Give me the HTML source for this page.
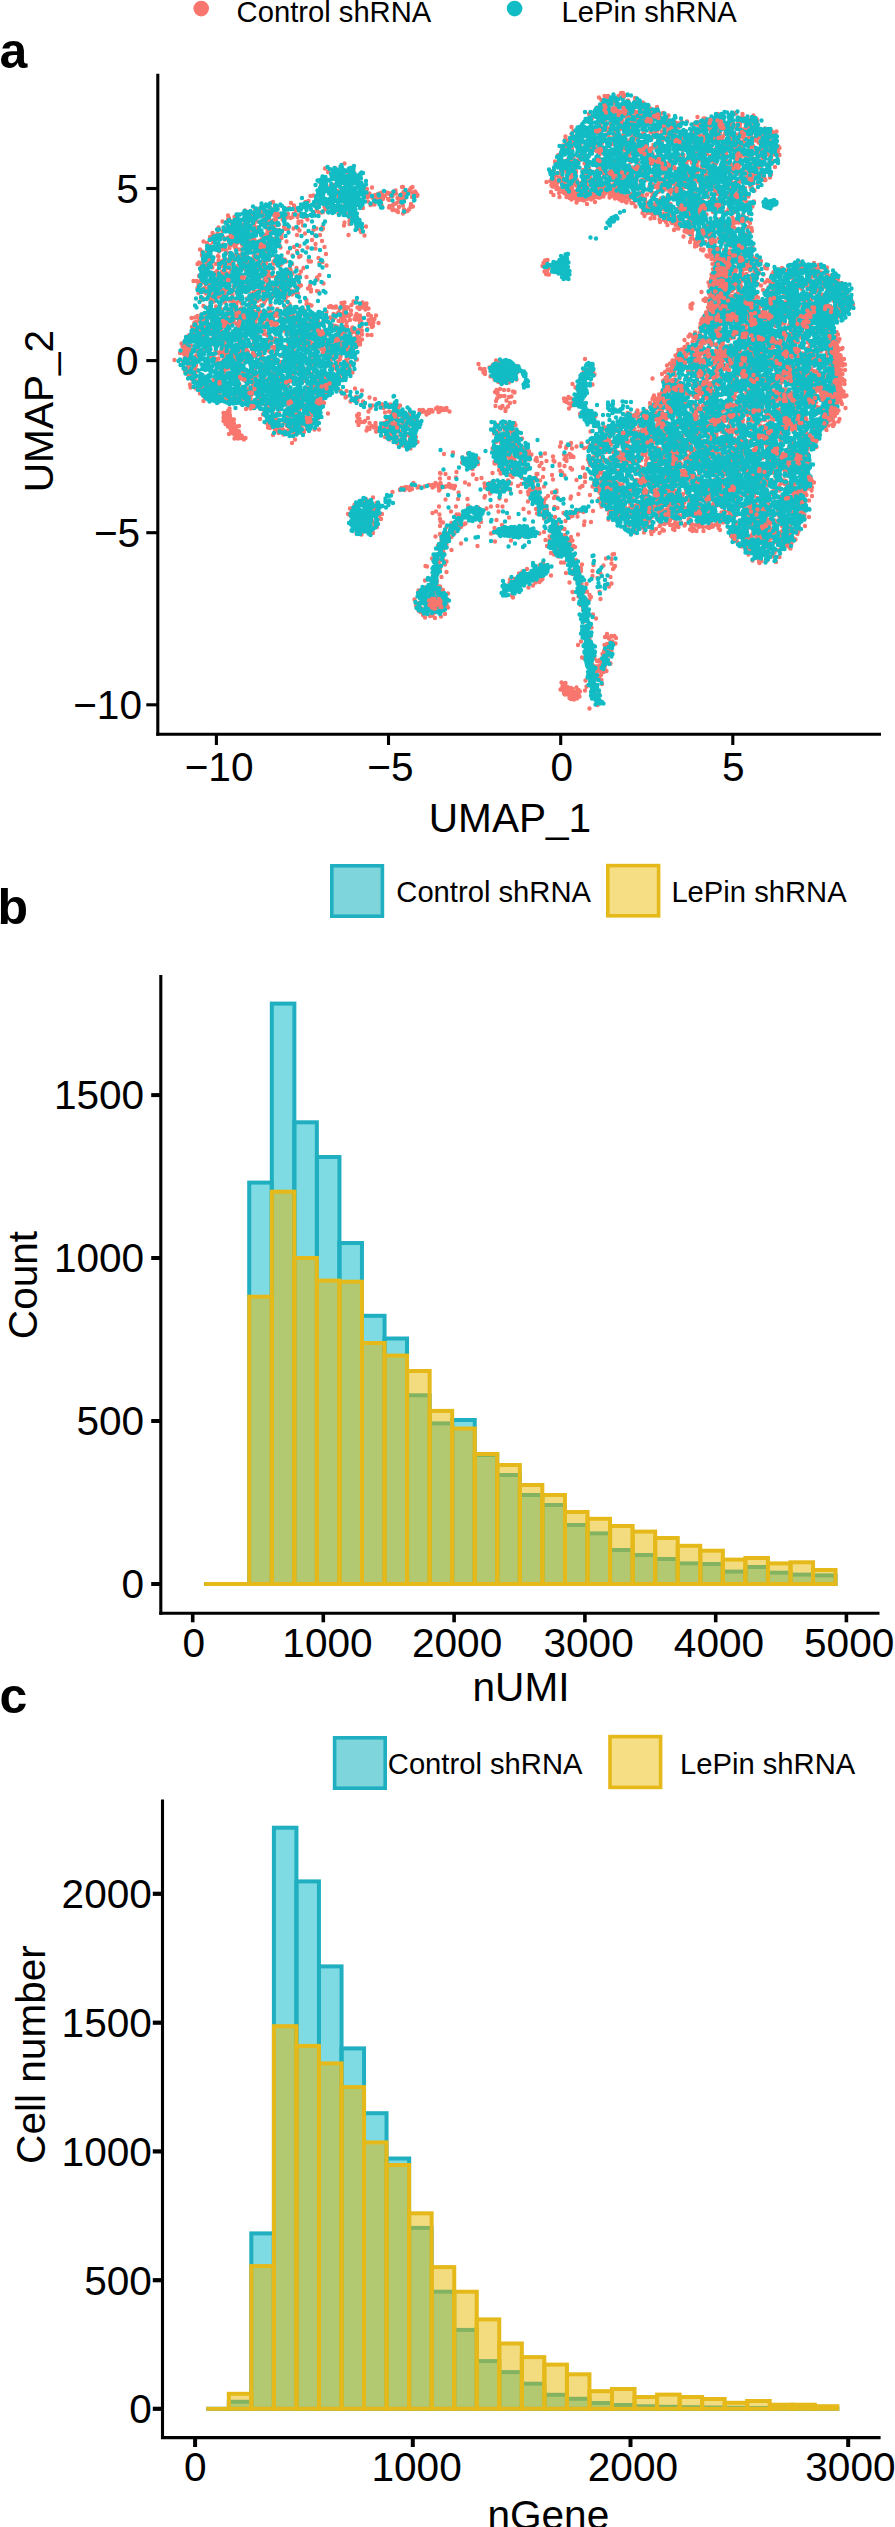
<!DOCTYPE html>
<html><head><meta charset="utf-8"><title>Figure</title>
<style>html,body{margin:0;padding:0;background:#fff;}body{width:895px;height:2527px;overflow:hidden;position:relative;}svg{position:absolute;left:0;top:0;display:block;}text{font-family:"Liberation Sans", sans-serif;fill:#000;}.t40{font-size:40.6px;}.t29{font-size:29.2px;}.b{font-size:50px;font-weight:bold;}</style></head><body>
<svg width="895" height="2527" viewBox="0 0 895 2527">
<rect x="0" y="0" width="895" height="2527" fill="#ffffff"/>
<circle cx="201.2" cy="8.6" r="7.8" fill="#F8766D"/>
<circle cx="514.6" cy="8.6" r="7.8" fill="#12BCC4"/>
<text x="236.6" y="21.6" class="t29" text-anchor="start">Control shRNA</text>
<text x="561.6" y="21.6" class="t29" text-anchor="start">LePin shRNA</text>
<text x="-0.5" y="68.0" class="b" text-anchor="start">a</text>
<g transform="scale(.5)" fill="none" stroke-linecap="round" stroke-width="8.8"><path d="M562 578h0M554 571h0M529 581h0M432 587h0M571 600h0M504 588h0M544 595h0M560 592h0M578 581h0M612 599h0M439 587h0M412 587h0M421 608h0M417 616h0M457 578h0M508 598h0M515 630h0M572 594h0M522 599h0M437 626h0M450 580h0M507 624h0M429 576h0M421 593h0M541 610h0M591 616h0M485 636h0M514 614h0M542 626h0M576 604h0M511 563h0M548 589h0M573 574h0M491 580h0M596 587h0M436 577h0M584 589h0M470 611h0M570 614h0M422 603h0M522 611h0M496 577h0M541 616h0M424 601h0M412 569h0M539 621h0M497 582h0M420 594h0M516 625h0M403 629h0M521 635h0M530 574h0M558 576h0M501 632h0M457 578h0M495 570h0M424 589h0M505 611h0M432 613h0M460 586h0M508 582h0M501 618h0M483 582h0M494 597h0M417 622h0M535 597h0M545 578h0M500 602h0M415 578h0M579 608h0M438 620h0M441 608h0M491 620h0M406 578h0M514 583h0M390 635h0M483 607h0M545 631h0M479 588h0M573 615h0M576 591h0M551 625h0M466 601h0M532 583h0M528 607h0M530 602h0M523 624h0M431 597h0M515 602h0M534 627h0M397 636h0M507 615h0M500 613h0M510 585h0M444 580h0M601 624h0M395 632h0M446 601h0M407 612h0M496 581h0M409 548h0M425 466h0M459 489h0M557 550h0M462 560h0M519 418h0M424 556h0M538 494h0M457 477h0M533 507h0M538 597h0M524 427h0M472 473h0M484 508h0M426 517h0M495 525h0M513 456h0M517 588h0M480 499h0M479 589h0M463 478h0M444 543h0M471 455h0M533 507h0M465 591h0M423 531h0M452 555h0M461 442h0M420 491h0M581 581h0M447 553h0M568 570h0M527 570h0M536 454h0M536 487h0M494 490h0M449 479h0M469 543h0M452 507h0M512 433h0M497 482h0M438 503h0M499 485h0M508 535h0M571 552h0M553 469h0M565 560h0M571 560h0M480 558h0M513 455h0M474 460h0M468 563h0M540 444h0M468 468h0M543 450h0M454 455h0M527 480h0M578 573h0M418 569h0M485 490h0M480 519h0M467 553h0M438 565h0M409 576h0M493 511h0M522 419h0M452 559h0M588 569h0M573 435h0M538 593h0M527 578h0M461 539h0M502 441h0M478 446h0M469 470h0M480 573h0M443 532h0M564 545h0M550 527h0M459 494h0M534 457h0M444 499h0M528 522h0M471 474h0M525 505h0M550 525h0M474 566h0M404 503h0M426 484h0M532 527h0M553 565h0M509 425h0M424 522h0M458 567h0M436 495h0M425 587h0M489 519h0M553 554h0M535 577h0M459 496h0M519 504h0M547 462h0M469 493h0M404 511h0M414 486h0M519 487h0M454 505h0M479 462h0M566 563h0M395 528h0M495 541h0M473 497h0M557 428h0M514 433h0M514 596h0M576 428h0M481 472h0M541 482h0M432 528h0M464 524h0M541 462h0M469 552h0M498 451h0M513 519h0M563 572h0M436 512h0M525 582h0M592 560h0M458 458h0M461 462h0M445 462h0M571 573h0M515 534h0M402 600h0M489 469h0M516 489h0M602 543h0M519 431h0M410 540h0M607 536h0M415 518h0M499 441h0M400 499h0M420 474h0M496 518h0M400 567h0M556 568h0M475 477h0M515 518h0M446 585h0M494 566h0M450 521h0M441 474h0M569 519h0M446 489h0M425 560h0M469 460h0M536 571h0M510 514h0M466 556h0M463 529h0M495 522h0M558 488h0M554 450h0M497 538h0M519 482h0M466 580h0M495 471h0M578 588h0M456 438h0M428 598h0M457 519h0M449 517h0M492 493h0M490 421h0M568 454h0M506 596h0M537 557h0M432 573h0M571 522h0M420 549h0M458 436h0M526 430h0M561 559h0M526 508h0M431 573h0M540 513h0M536 542h0M460 462h0M554 463h0M477 510h0M469 456h0M487 537h0M438 560h0M452 546h0M526 549h0M497 596h0M450 546h0M510 559h0M524 414h0M488 508h0M492 537h0M464 447h0M479 592h0M485 482h0M524 497h0M490 583h0M534 562h0M527 543h0M562 514h0M451 534h0M443 591h0M545 552h0M529 515h0M558 460h0M512 512h0M581 548h0M420 529h0M510 603h0M455 536h0M452 478h0M530 446h0M414 561h0M546 404h0M538 555h0M487 473h0M450 541h0M493 483h0M431 474h0M451 552h0M541 450h0M462 506h0M470 460h0M461 527h0M490 519h0M524 533h0M472 509h0M561 586h0M400 563h0M575 566h0M481 483h0M591 575h0M506 519h0M519 425h0M553 523h0M585 547h0M466 521h0M541 454h0M532 452h0M434 500h0M565 439h0M398 525h0M532 444h0M454 588h0M450 458h0M530 537h0M404 509h0M456 431h0M501 500h0M444 556h0M440 494h0M564 554h0M397 569h0M469 434h0M447 475h0M481 514h0M541 471h0M456 457h0M585 568h0M486 526h0M525 469h0M494 577h0M543 442h0M538 454h0M479 464h0M431 562h0M428 549h0M490 565h0M425 523h0M541 548h0M581 541h0M534 501h0M520 508h0M532 542h0M493 503h0M493 487h0M541 441h0M473 585h0M504 441h0M411 547h0M405 596h0M495 583h0M519 511h0M541 416h0M470 546h0M490 432h0M447 520h0M548 478h0M495 432h0M497 539h0M537 520h0M528 484h0M475 470h0M456 475h0M461 484h0M558 449h0M435 467h0M404 530h0M526 472h0M584 528h0M517 429h0M593 553h0M531 438h0M537 540h0M428 603h0M515 458h0M419 585h0M514 543h0M492 456h0M437 513h0M557 569h0M465 449h0M483 499h0M536 554h0M597 575h0M445 549h0M462 556h0M471 497h0M441 570h0M575 553h0M463 488h0M469 453h0M506 485h0M532 474h0M397 586h0M508 512h0M568 568h0M487 510h0M526 525h0M478 601h0M464 583h0M580 564h0M555 417h0M505 481h0M421 503h0M461 490h0M570 458h0M527 476h0M450 561h0M496 550h0M503 545h0M575 570h0M550 572h0M561 495h0M536 535h0M409 577h0M436 491h0M437 455h0M542 406h0M523 479h0M414 539h0M529 529h0M387 562h0M580 560h0M457 547h0M414 530h0M504 460h0M457 562h0M580 555h0M424 515h0M537 463h0M476 531h0M417 524h0M422 550h0M411 578h0M408 548h0M536 423h0M552 525h0M451 591h0M528 530h0M491 500h0M403 527h0M449 537h0M438 594h0M464 451h0M421 515h0M451 576h0M544 592h0M495 462h0M595 573h0M435 550h0M528 507h0M418 518h0M428 472h0M580 537h0M572 569h0M393 562h0M494 578h0M415 540h0M513 421h0M570 550h0M403 562h0M419 499h0M448 570h0M482 595h0M404 566h0M508 449h0M452 536h0M581 539h0M515 455h0M404 531h0M425 562h0M576 572h0M524 527h0M453 529h0M520 511h0M513 511h0M501 436h0M495 534h0M429 546h0M510 565h0M555 562h0M513 544h0M547 523h0M510 418h0M508 487h0M528 439h0M489 444h0M414 516h0M528 470h0M517 582h0M484 489h0M496 562h0M510 482h0M542 455h0M482 484h0M513 594h0M503 575h0M518 585h0M501 426h0M498 574h0M537 446h0M492 510h0M509 455h0M434 542h0M513 539h0M563 432h0M518 462h0M504 492h0M535 469h0M503 433h0M441 529h0M565 520h0M450 597h0M528 433h0M398 552h0M548 453h0M509 445h0M516 494h0M472 573h0M567 555h0M418 545h0M523 497h0M484 486h0M571 550h0M535 465h0M509 480h0M404 584h0M539 568h0M407 483h0M535 437h0M508 555h0M517 585h0M402 596h0M524 576h0M491 476h0M556 483h0M450 594h0M599 550h0M474 487h0M458 555h0M553 568h0M517 424h0M402 559h0M577 539h0M530 488h0M459 601h0M540 596h0M499 543h0M435 471h0M452 563h0M395 576h0M488 516h0M546 527h0M493 543h0M558 516h0M513 546h0M478 543h0M497 492h0M530 443h0M554 559h0M550 413h0M542 578h0M530 588h0M485 451h0M408 523h0M492 443h0M403 532h0M491 495h0M552 556h0M559 532h0M562 529h0M554 431h0M536 458h0M543 448h0M466 598h0M564 465h0M555 529h0M519 558h0M583 583h0M551 565h0M436 468h0M554 572h0M494 463h0M521 527h0M506 471h0M471 520h0M452 562h0M576 505h0M469 458h0M407 544h0M507 476h0M506 538h0M540 424h0M406 561h0M516 443h0M464 599h0M419 597h0M484 483h0M526 572h0M593 536h0M507 426h0M438 530h0M466 538h0M513 537h0M580 565h0M517 525h0M527 416h0M476 481h0M449 587h0M471 552h0M467 443h0M451 500h0M547 537h0M515 537h0M454 445h0M523 481h0M520 525h0M572 523h0M445 443h0M496 577h0M457 525h0M588 564h0M449 523h0M544 573h0M472 512h0M555 558h0M485 561h0M437 521h0M460 492h0M467 572h0M415 526h0M460 514h0M425 535h0M448 495h0M468 485h0M494 528h0M414 502h0M441 523h0M430 563h0M426 469h0M471 493h0M437 579h0M563 476h0M507 579h0M442 590h0M551 515h0M432 478h0M562 469h0M606 863h0M379 690h0M679 761h0M492 818h0M597 825h0M553 696h0M640 750h0M482 735h0M396 669h0M393 650h0M468 639h0M671 762h0M384 654h0M376 731h0M461 650h0M446 722h0M431 729h0M506 760h0M555 698h0M601 689h0M587 699h0M557 786h0M625 802h0M552 707h0M495 639h0M489 747h0M693 719h0M640 781h0M501 750h0M632 814h0M567 661h0M552 814h0M686 705h0M632 693h0M480 699h0M612 760h0M540 780h0M382 691h0M570 780h0M442 622h0M706 685h0M605 686h0M587 809h0M501 776h0M603 790h0M590 879h0M666 731h0M413 776h0M545 754h0M649 769h0M699 734h0M669 752h0M642 695h0M512 639h0M625 732h0M581 733h0M493 746h0M394 723h0M487 775h0M491 744h0M506 774h0M682 690h0M440 704h0M473 632h0M632 781h0M679 755h0M550 764h0M475 710h0M486 745h0M579 859h0M450 605h0M676 657h0M693 679h0M406 778h0M552 843h0M367 707h0M720 686h0M690 745h0M565 735h0M426 628h0M597 837h0M649 776h0M574 809h0M478 715h0M608 622h0M438 707h0M420 775h0M374 688h0M392 753h0M449 690h0M587 811h0M518 700h0M458 709h0M445 634h0M546 681h0M604 789h0M397 659h0M460 709h0M548 699h0M568 730h0M376 674h0M692 689h0M411 758h0M521 786h0M458 628h0M554 796h0M411 728h0M489 722h0M623 713h0M671 652h0M388 761h0M701 726h0M512 761h0M395 741h0M659 729h0M504 698h0M696 701h0M454 628h0M374 694h0M460 620h0M568 646h0M534 700h0M672 715h0M599 844h0M439 677h0M564 853h0M485 686h0M655 705h0M682 697h0M452 655h0M564 797h0M450 732h0M523 728h0M558 784h0M449 638h0M662 697h0M614 821h0M473 631h0M633 687h0M695 701h0M613 853h0M463 722h0M404 637h0M531 767h0M408 738h0M585 751h0M622 730h0M471 791h0M436 751h0M431 780h0M649 752h0M410 641h0M582 825h0M468 631h0M398 762h0M429 662h0M400 657h0M520 740h0M701 677h0M604 687h0M616 690h0M451 730h0M648 778h0M593 644h0M555 794h0M638 762h0M550 840h0M480 717h0M542 626h0M638 775h0M491 774h0M656 775h0M614 724h0M625 806h0M480 698h0M660 732h0M598 843h0M561 724h0M451 691h0M638 751h0M603 855h0M599 722h0M535 831h0M475 706h0M639 765h0M661 722h0M517 748h0M564 860h0M520 775h0M478 649h0M609 811h0M703 705h0M349 720h0M544 648h0M470 615h0M408 780h0M465 676h0M621 795h0M563 736h0M480 661h0M551 786h0M495 705h0M602 709h0M596 847h0M396 697h0M507 680h0M414 790h0M440 726h0M611 810h0M510 763h0M450 719h0M492 763h0M538 674h0M408 670h0M602 728h0M525 789h0M477 687h0M401 643h0M555 618h0M429 781h0M448 711h0M569 774h0M678 666h0M642 809h0M624 773h0M397 688h0M483 649h0M574 862h0M481 741h0M505 805h0M487 690h0M448 654h0M684 659h0M480 649h0M608 629h0M505 757h0M594 850h0M599 791h0M569 742h0M626 657h0M682 748h0M484 617h0M649 733h0M634 709h0M581 688h0M571 740h0M662 636h0M522 765h0M523 783h0M566 859h0M688 658h0M479 783h0M540 856h0M591 761h0M643 647h0M438 667h0M595 707h0M385 745h0M500 692h0M693 659h0M405 655h0M569 845h0M641 757h0M526 633h0M404 755h0M538 843h0M520 800h0M436 628h0M569 802h0M498 763h0M542 732h0M586 785h0M392 777h0M639 761h0M446 703h0M568 809h0M623 721h0M563 742h0M436 646h0M456 665h0M368 736h0M521 808h0M691 722h0M453 682h0M378 753h0M466 644h0M605 672h0M643 776h0M544 684h0M529 628h0M501 797h0M535 811h0M529 782h0M461 641h0M407 680h0M431 743h0M372 685h0M371 703h0M481 740h0M611 785h0M580 678h0M423 638h0M667 656h0M661 777h0M452 798h0M621 720h0M489 672h0M561 858h0M692 700h0M435 746h0M583 671h0M619 635h0M472 799h0M388 649h0M596 808h0M394 766h0M433 660h0M703 711h0M669 705h0M431 775h0M625 659h0M400 787h0M635 702h0M456 664h0M620 659h0M587 854h0M433 654h0M519 805h0M493 701h0M436 727h0M378 739h0M542 804h0M538 702h0M636 837h0M610 673h0M550 745h0M647 669h0M442 653h0M677 732h0M516 776h0M380 726h0M422 679h0M535 722h0M464 730h0M670 760h0M449 785h0M541 745h0M559 815h0M370 742h0M645 745h0M708 692h0M541 751h0M536 851h0M446 742h0M446 683h0M419 704h0M555 628h0M579 857h0M574 728h0M391 737h0M600 749h0M614 761h0M679 680h0M396 716h0M683 705h0M382 705h0M579 853h0M405 751h0M375 706h0M445 743h0M548 852h0M476 759h0M489 697h0M617 671h0M473 784h0M584 787h0M575 832h0M638 795h0M575 639h0M586 815h0M677 767h0M472 724h0M379 729h0M655 769h0M658 713h0M518 728h0M375 695h0M444 772h0M529 739h0M460 706h0M438 803h0M468 711h0M613 775h0M372 739h0M506 769h0M553 783h0M485 706h0M528 742h0M603 853h0M518 768h0M453 616h0M483 617h0M441 617h0M392 659h0M472 664h0M588 850h0M580 795h0M692 652h0M473 768h0M582 797h0M365 693h0M574 768h0M558 724h0M548 694h0M653 624h0M663 674h0M652 668h0M564 762h0M638 805h0M424 689h0M646 665h0M434 726h0M629 859h0M704 678h0M481 792h0M494 787h0M600 770h0M541 800h0M608 737h0M399 700h0M445 723h0M615 682h0M399 772h0M568 796h0M680 718h0M564 694h0M681 671h0M443 662h0M599 645h0M538 801h0M594 746h0M445 665h0M523 800h0M646 760h0M615 740h0M542 703h0M559 677h0M512 808h0M613 777h0M545 786h0M526 807h0M550 677h0M382 729h0M591 706h0M544 779h0M687 698h0M440 669h0M360 706h0M430 789h0M619 784h0M595 668h0M708 691h0M428 661h0M550 860h0M479 769h0M544 815h0M509 750h0M368 726h0M596 808h0M439 726h0M608 861h0M495 778h0M655 773h0M620 722h0M425 773h0M670 703h0M438 680h0M547 657h0M661 686h0M598 675h0M636 657h0M628 782h0M553 790h0M611 835h0M490 665h0M502 661h0M555 862h0M513 753h0M380 674h0M556 840h0M553 659h0M593 789h0M440 625h0M612 692h0M394 720h0M441 752h0M654 697h0M530 830h0M448 749h0M645 801h0M564 789h0M574 642h0M692 737h0M674 692h0M534 670h0M536 642h0M529 739h0M406 665h0M685 654h0M631 779h0M409 767h0M690 680h0M476 627h0M544 727h0M365 702h0M602 696h0M444 679h0M444 643h0M564 712h0M419 684h0M432 645h0M617 648h0M591 848h0M387 756h0M631 653h0M398 667h0M653 760h0M417 695h0M519 796h0M433 752h0M584 761h0M585 684h0M400 779h0M553 747h0M575 635h0M383 755h0M660 692h0M560 814h0M574 662h0M442 681h0M538 772h0M672 689h0M596 630h0M464 700h0M422 630h0M392 741h0M599 765h0M682 706h0M586 846h0M692 689h0M491 775h0M473 784h0M596 799h0M640 694h0M615 785h0M649 683h0M653 773h0M532 629h0M441 707h0M481 686h0M407 732h0M526 776h0M471 766h0M678 725h0M665 777h0M431 757h0M508 699h0M657 645h0M409 781h0M696 726h0M484 649h0M553 800h0M571 868h0M406 680h0M408 647h0M573 629h0M509 624h0M585 801h0M546 817h0M599 832h0M540 737h0M557 683h0M656 827h0M648 759h0M427 762h0M537 777h0M538 840h0M439 679h0M521 730h0M670 707h0M694 691h0M549 838h0M523 692h0M642 759h0M712 719h0M497 797h0M459 622h0M398 641h0M611 793h0M684 644h0M660 635h0M480 705h0M483 677h0M409 794h0M417 769h0M561 638h0M580 756h0M690 692h0M685 757h0M682 729h0M584 733h0M525 714h0M663 740h0M393 703h0M559 640h0M536 855h0M396 683h0M385 676h0M637 777h0M657 781h0M618 671h0M598 820h0M587 630h0M633 725h0M503 652h0M575 721h0M603 668h0M426 627h0M392 723h0M471 636h0M377 732h0M516 664h0M473 606h0M530 632h0M588 692h0M442 658h0M438 706h0M496 801h0M444 620h0M533 727h0M517 798h0M460 704h0M631 821h0M477 772h0M502 808h0M392 648h0M677 757h0M683 745h0M554 720h0M608 864h0M590 829h0M559 763h0M539 835h0M578 642h0M539 728h0M663 729h0M522 790h0M597 665h0M501 807h0M629 765h0M514 748h0M539 703h0M390 754h0M419 648h0M452 713h0M487 792h0M459 792h0M636 797h0M653 766h0M661 766h0M524 728h0M567 654h0M696 694h0M446 711h0M390 654h0M456 737h0M380 719h0M610 752h0M414 774h0M475 621h0M557 808h0M465 720h0M464 618h0M486 632h0M503 631h0M432 687h0M598 864h0M602 667h0M647 641h0M662 682h0M616 679h0M409 698h0M564 852h0M410 795h0M521 642h0M633 771h0M478 743h0M454 733h0M421 713h0M461 644h0M494 708h0M655 763h0M676 744h0M555 812h0M465 631h0M581 860h0M505 804h0M647 753h0M482 617h0M622 781h0M679 687h0M620 825h0M456 657h0M441 753h0M665 756h0M428 775h0M532 724h0M588 680h0M511 749h0M502 791h0M663 704h0M628 698h0M580 682h0M424 733h0M448 717h0M684 665h0M521 716h0M431 724h0M514 773h0M593 868h0M469 707h0M531 722h0M652 775h0M485 624h0M369 709h0M447 749h0M477 630h0M510 739h0M423 668h0M632 706h0M607 762h0M371 680h0M526 629h0M520 634h0M653 668h0M380 750h0M681 713h0M465 744h0M423 740h0M613 797h0M691 657h0M524 795h0M373 683h0M407 802h0M580 850h0M705 707h0M423 733h0M478 781h0M575 838h0M575 680h0M505 764h0M523 791h0M441 681h0M589 679h0M573 743h0M453 798h0M619 787h0M381 708h0M543 734h0M501 668h0M460 782h0M368 693h0M536 667h0M400 663h0M437 679h0M627 776h0M521 798h0M683 689h0M557 830h0M422 711h0M661 728h0M448 794h0M594 722h0M369 717h0M642 759h0M448 644h0M508 687h0M449 675h0M546 750h0M381 699h0M612 845h0M491 748h0M614 777h0M441 738h0M586 817h0M425 680h0M443 693h0M610 721h0M668 714h0M576 772h0M409 756h0M469 717h0M502 691h0M491 653h0M590 792h0M592 790h0M533 814h0M390 747h0M419 648h0M411 678h0M554 862h0M496 793h0M714 719h0M438 774h0M675 724h0M468 699h0M506 755h0M494 745h0M666 716h0M586 797h0M523 632h0M389 645h0M671 692h0M662 686h0M465 701h0M379 691h0M630 768h0M648 806h0M506 787h0M591 785h0M607 722h0M595 665h0M542 848h0M526 774h0M474 627h0M504 753h0M663 749h0M623 789h0M429 799h0M505 751h0M562 798h0M620 775h0M619 649h0M543 710h0M562 769h0M378 738h0M375 748h0M647 708h0M408 704h0M625 639h0M521 743h0M618 749h0M572 765h0M469 619h0M617 728h0M454 782h0M452 728h0M693 729h0M457 626h0M445 736h0M458 638h0M558 826h0M443 642h0M448 698h0M454 628h0M706 691h0M551 856h0M692 722h0M553 854h0M550 768h0M554 830h0M656 706h0M522 756h0M601 661h0M599 831h0M390 702h0M662 701h0M551 841h0M613 788h0M492 698h0M445 782h0M544 848h0M680 691h0M409 786h0M395 712h0M428 719h0M642 732h0M640 649h0M665 748h0M629 780h0M573 636h0M397 666h0M673 764h0M436 726h0M424 678h0M465 603h0M443 682h0M626 830h0M437 776h0M541 800h0M647 748h0M529 824h0M526 641h0M588 660h0M515 668h0M605 668h0M442 662h0M671 702h0M537 852h0M571 821h0M583 666h0M611 645h0M578 656h0M622 679h0M638 779h0M448 747h0M605 675h0M606 786h0M649 688h0M646 764h0M693 645h0M380 746h0M410 656h0M512 755h0M545 851h0M566 807h0M414 628h0M468 637h0M533 639h0M550 741h0M529 661h0M582 806h0M604 681h0M670 632h0M704 691h0M518 801h0M460 797h0M538 746h0M458 790h0M438 668h0M549 834h0M546 870h0M526 829h0M615 855h0M626 810h0M668 735h0M408 638h0M553 786h0M469 661h0M405 707h0M673 660h0M696 730h0M616 851h0M444 710h0M384 748h0M574 852h0M572 738h0M568 625h0M407 778h0M556 790h0M557 855h0M506 808h0M708 696h0M603 816h0M553 686h0M601 830h0M665 766h0M456 706h0M469 745h0M560 635h0M513 711h0M528 751h0M636 785h0M498 781h0M540 686h0M434 618h0M577 689h0M589 866h0M394 681h0M459 703h0M574 829h0M418 699h0M452 679h0M540 836h0M686 691h0M617 696h0M530 795h0M476 784h0M494 758h0M452 665h0M611 715h0M523 750h0M541 799h0M570 737h0M427 714h0M646 744h0M401 708h0M414 765h0M496 768h0M459 746h0M578 641h0M543 693h0M502 755h0M564 805h0M513 627h0M616 793h0M650 642h0M638 859h0M524 744h0M651 747h0M576 655h0M585 759h0M602 792h0M397 773h0M568 755h0M700 740h0M555 755h0M406 775h0M509 698h0M654 788h0M507 695h0M501 787h0M673 739h0M647 762h0M542 854h0M575 694h0M439 675h0M584 789h0M639 775h0M621 675h0M452 703h0M690 700h0M483 729h0M621 793h0M391 762h0M427 760h0M497 785h0M502 650h0M454 773h0M407 661h0M596 787h0M652 779h0M631 756h0M681 668h0M593 858h0M704 728h0M546 827h0M507 816h0M401 757h0M526 705h0M573 666h0M592 668h0M601 682h0M622 687h0M402 716h0M485 719h0M582 840h0M376 676h0M504 783h0M533 770h0M432 718h0M388 736h0M673 769h0M415 657h0M497 651h0M696 697h0M392 731h0M625 826h0M502 646h0M610 785h0M376 697h0M550 711h0M572 635h0M657 700h0M540 839h0M522 750h0M607 841h0M536 768h0M585 665h0M435 642h0M424 782h0M471 735h0M467 706h0M518 764h0M608 842h0M539 818h0M380 769h0M693 736h0M521 737h0M439 789h0M580 669h0M541 746h0M590 676h0M506 768h0M486 798h0M576 745h0M388 664h0M624 804h0M423 682h0M701 698h0M453 649h0M694 745h0M546 795h0M581 650h0M651 780h0M520 838h0M696 681h0M471 704h0M531 797h0M671 656h0M690 665h0M522 719h0M534 721h0M383 636h0M595 853h0M639 661h0M605 678h0M697 727h0M379 670h0M655 669h0M428 762h0M636 642h0M593 844h0M473 762h0M550 662h0M430 636h0M440 665h0M603 816h0M506 673h0M473 803h0M584 633h0M479 705h0M473 647h0M476 767h0M520 732h0M560 728h0M391 661h0M385 673h0M574 866h0M464 705h0M597 748h0M434 672h0M537 760h0M532 739h0M524 770h0M405 648h0M463 713h0M604 690h0M471 716h0M619 849h0M436 686h0M432 697h0M447 697h0M567 627h0M560 777h0M373 703h0M439 663h0M597 792h0M427 775h0M540 714h0M375 673h0M584 886h0M417 789h0M713 693h0M421 657h0M513 808h0M505 638h0M483 670h0M526 749h0M541 768h0M550 645h0M649 786h0M538 764h0M685 698h0M548 815h0M622 846h0M583 845h0M540 723h0M528 649h0M458 709h0M525 770h0M694 677h0M587 803h0M623 658h0M694 696h0M610 751h0M575 768h0M639 719h0M685 666h0M537 817h0M413 678h0M412 630h0M665 693h0M612 646h0M520 817h0M579 632h0M543 851h0M367 723h0M681 707h0M549 680h0M627 688h0M444 770h0M681 709h0M457 703h0M497 812h0M510 732h0M494 701h0M655 759h0M598 792h0M392 712h0M597 649h0M630 680h0M455 624h0M509 782h0M450 740h0M479 632h0M381 775h0M458 623h0M574 704h0M705 745h0M557 763h0M627 804h0M530 737h0M528 668h0M529 656h0M616 725h0M603 808h0M510 744h0M515 633h0M533 725h0M648 690h0M550 862h0M663 661h0M534 689h0M418 624h0M512 698h0M466 669h0M561 797h0M380 672h0M656 684h0M439 680h0M460 687h0M479 619h0M593 795h0M624 673h0M530 776h0M611 677h0M706 708h0M604 808h0M480 660h0M599 846h0M493 641h0M581 837h0M578 703h0M594 765h0M431 783h0M420 798h0M575 848h0M496 627h0M694 653h0M491 783h0M407 652h0M690 755h0M609 626h0M375 714h0M685 665h0M692 688h0M558 844h0M646 789h0M540 751h0M664 729h0M700 671h0M422 776h0M579 644h0M625 747h0M639 807h0M465 804h0M448 672h0M592 731h0M525 645h0M538 680h0M473 611h0M522 644h0M583 668h0M545 719h0M384 759h0M578 658h0M458 799h0M363 687h0M674 653h0M451 784h0M455 633h0M560 756h0M536 761h0M392 644h0M407 677h0M670 635h0M450 725h0M698 683h0M697 716h0M557 851h0M545 633h0M444 623h0M497 763h0M474 792h0M670 684h0M425 623h0M473 624h0M684 685h0M525 730h0M587 868h0M667 657h0M632 787h0M557 866h0M431 702h0M452 703h0M685 686h0M531 759h0M578 690h0M375 684h0M475 726h0M442 755h0M480 634h0M702 703h0M412 650h0M461 644h0M515 798h0M512 748h0M567 869h0M437 717h0M567 789h0M599 672h0M454 646h0M391 751h0M410 659h0M553 723h0M467 610h0M660 648h0M644 768h0M447 726h0M501 653h0M625 757h0M607 647h0M511 770h0M666 651h0M620 795h0M533 797h0M590 722h0M404 763h0M520 737h0M619 792h0M411 662h0M555 666h0M543 756h0M428 671h0M601 800h0M556 753h0M661 657h0M674 762h0M576 852h0M478 664h0M532 845h0M609 621h0M445 748h0M641 751h0M618 742h0M710 676h0M409 736h0M561 789h0M427 642h0M511 810h0M511 646h0M496 704h0M640 771h0M453 707h0M494 764h0M366 723h0M464 636h0M473 664h0M539 671h0M660 760h0M481 676h0M499 621h0M635 768h0M599 649h0M676 666h0M604 683h0M614 691h0M600 805h0M520 731h0M601 512h0M634 555h0M618 609h0M599 492h0M639 550h0M580 497h0M617 521h0M645 454h0M587 457h0M596 457h0M603 443h0M605 616h0M622 583h0M646 424h0M638 425h0M610 467h0M623 611h0M594 502h0M588 494h0M631 497h0M653 531h0M634 582h0M587 418h0M600 570h0M615 495h0M632 406h0M613 601h0M588 411h0M617 402h0M644 482h0M624 480h0M585 511h0M652 508h0M635 559h0M598 514h0M613 554h0M632 399h0M593 430h0M601 428h0M594 470h0M622 579h0M573 483h0M622 523h0M620 571h0M627 391h0M647 567h0M599 461h0M627 460h0M615 439h0M613 608h0M645 524h0M575 431h0M637 516h0M633 457h0M602 571h0M649 494h0M631 488h0M640 470h0M624 480h0M637 583h0M590 586h0M644 459h0M618 523h0M630 471h0M646 457h0M616 577h0M639 526h0M634 420h0M611 407h0M595 434h0M587 428h0M576 458h0M592 421h0M572 429h0M585 434h0M582 406h0M628 426h0M610 434h0M597 443h0M643 425h0M597 446h0M581 436h0M638 407h0M569 417h0M633 421h0M589 415h0M611 404h0M578 416h0M621 392h0M606 451h0M672 400h0M680 370h0M677 427h0M675 387h0M668 400h0M649 413h0M645 390h0M650 419h0M698 344h0M684 379h0M651 413h0M697 364h0M707 343h0M706 419h0M665 404h0M675 389h0M717 351h0M731 392h0M675 382h0M690 368h0M739 387h0M671 358h0M661 379h0M704 365h0M735 394h0M660 405h0M653 419h0M702 406h0M696 405h0M656 344h0M706 417h0M689 327h0M661 371h0M667 416h0M667 353h0M717 363h0M677 392h0M669 342h0M674 360h0M700 400h0M650 337h0M670 336h0M676 345h0M717 387h0M642 370h0M640 387h0M657 413h0M661 414h0M699 410h0M696 348h0M670 414h0M705 335h0M734 378h0M675 367h0M726 416h0M718 410h0M692 395h0M709 357h0M648 409h0M668 370h0M692 427h0M709 392h0M720 373h0M695 351h0M688 392h0M671 417h0M679 387h0M650 380h0M665 409h0M690 408h0M714 436h0M710 437h0M718 447h0M700 433h0M702 429h0M699 448h0M697 470h0M704 428h0M729 471h0M689 445h0M688 451h0M720 459h0M699 442h0M713 451h0M701 445h0M722 464h0M732 453h0M700 436h0M756 396h0M834 392h0M806 388h0M783 389h0M835 390h0M825 385h0M800 391h0M778 415h0M788 408h0M809 424h0M807 399h0M804 392h0M786 410h0M804 374h0M779 414h0M756 388h0M782 387h0M812 422h0M763 410h0M791 381h0M792 421h0M786 418h0M806 427h0M785 388h0M775 387h0M814 386h0M765 392h0M808 402h0M819 380h0M785 420h0M792 407h0M795 396h0M827 387h0M832 386h0M825 374h0M818 419h0M759 397h0M820 385h0M830 383h0M811 391h0M747 397h0M795 422h0M778 400h0M806 374h0M805 400h0M760 398h0M776 386h0M776 398h0M764 385h0M824 394h0M815 422h0M804 388h0M782 392h0M808 421h0M831 388h0M779 412h0M816 384h0M791 383h0M766 396h0M801 399h0M807 397h0M797 403h0M821 414h0M785 388h0M760 387h0M786 385h0M798 414h0M759 387h0M778 387h0M806 411h0M756 397h0M822 376h0M801 405h0M785 392h0M812 395h0M808 419h0M822 408h0M766 398h0M800 401h0M826 413h0M752 395h0M796 424h0M773 385h0M807 384h0M758 390h0M792 387h0M749 409h0M731 394h0M734 389h0M744 375h0M746 396h0M736 403h0M757 396h0M750 390h0M741 410h0M770 392h0M746 408h0M739 389h0M735 394h0M742 393h0M704 661h0M708 689h0M732 613h0M705 679h0M749 638h0M665 614h0M723 638h0M712 684h0M667 628h0M679 619h0M713 603h0M709 605h0M737 617h0M714 667h0M686 612h0M726 607h0M729 616h0M718 675h0M724 669h0M689 605h0M720 646h0M686 632h0M744 654h0M712 632h0M709 638h0M731 618h0M715 615h0M747 645h0M737 640h0M661 612h0M700 676h0M743 638h0M672 613h0M717 639h0M691 614h0M757 646h0M687 627h0M733 607h0M737 647h0M735 670h0M682 635h0M731 619h0M737 628h0M689 626h0M719 684h0M752 631h0M720 665h0M704 683h0M698 633h0M685 614h0M702 629h0M724 679h0M675 628h0M706 656h0M688 624h0M676 626h0M714 668h0M735 658h0M722 610h0M683 628h0M742 632h0M665 615h0M713 662h0M721 646h0M703 610h0M698 675h0M707 661h0M702 621h0M683 606h0M720 689h0M722 636h0M693 618h0M696 685h0M699 631h0M691 621h0M709 685h0M746 652h0M711 632h0M715 661h0M723 652h0M715 631h0M726 615h0M696 615h0M710 663h0M736 630h0M716 676h0M741 648h0M724 661h0M737 617h0M705 655h0M709 693h0M686 639h0M720 631h0M684 635h0M713 628h0M688 625h0M723 646h0M743 670h0M717 687h0M691 632h0M687 629h0M715 676h0M741 647h0M710 686h0M701 670h0M691 641h0M707 603h0M703 659h0M677 627h0M700 640h0M688 616h0M677 642h0M690 641h0M720 609h0M725 605h0M723 661h0M713 628h0M658 614h0M706 664h0M697 629h0M723 637h0M684 607h0M683 613h0M720 656h0M671 615h0M711 639h0M704 687h0M720 647h0M719 618h0M688 617h0M461 855h0M462 864h0M459 845h0M481 871h0M468 847h0M456 853h0M480 876h0M475 863h0M476 877h0M475 870h0M469 877h0M458 853h0M475 874h0M471 861h0M452 826h0M460 853h0M457 833h0M450 831h0M470 856h0M462 857h0M466 867h0M452 833h0M453 829h0M468 863h0M471 862h0M447 842h0M459 822h0M474 853h0M448 830h0M459 826h0M462 842h0M459 836h0M482 876h0M464 851h0M473 871h0M465 850h0M455 848h0M462 848h0M461 858h0M459 853h0M473 868h0M478 865h0M459 838h0M460 837h0M473 863h0M453 833h0M465 852h0M458 838h0M488 879h0M456 825h0M460 831h0M463 852h0M463 861h0M452 834h0M458 845h0M470 869h0M469 865h0M453 841h0M485 876h0M463 838h0M482 873h0M451 848h0M479 875h0M462 847h0M459 817h0M452 835h0M491 876h0M471 874h0M449 832h0M466 860h0M460 843h0M479 871h0M476 862h0M458 826h0M447 835h0M450 832h0M478 852h0M463 846h0M456 822h0M456 848h0M453 829h0M469 867h0M478 863h0M470 864h0M458 868h0M468 839h0M451 829h0M483 871h0M484 873h0M447 826h0M788 878h0M812 842h0M814 896h0M786 860h0M814 890h0M805 843h0M810 829h0M803 884h0M815 833h0M796 831h0M826 852h0M823 874h0M817 850h0M805 890h0M828 875h0M795 887h0M816 890h0M813 890h0M809 872h0M822 838h0M816 849h0M782 871h0M801 881h0M761 862h0M777 837h0M774 847h0M804 877h0M801 826h0M801 841h0M822 873h0M781 844h0M779 855h0M791 854h0M805 831h0M825 840h0M807 871h0M755 860h0M810 879h0M793 876h0M768 846h0M812 884h0M788 824h0M786 837h0M774 859h0M829 875h0M833 841h0M821 897h0M772 845h0M791 853h0M767 852h0M833 851h0M783 869h0M792 826h0M823 886h0M818 831h0M779 857h0M777 852h0M826 881h0M824 845h0M821 838h0M820 825h0M821 870h0M789 828h0M835 884h0M770 874h0M825 874h0M820 834h0M801 863h0M785 839h0M810 879h0M791 838h0M763 858h0M774 838h0M819 884h0M803 878h0M821 848h0M768 858h0M826 837h0M810 844h0M782 858h0M798 840h0M799 881h0M779 879h0M770 851h0M784 852h0M780 874h0M827 890h0M796 843h0M832 874h0M773 870h0M769 852h0M794 873h0M807 857h0M782 825h0M805 837h0M806 891h0M771 874h0M804 851h0M810 830h0M779 865h0M808 860h0M779 867h0M828 847h0M820 874h0M795 883h0M795 820h0M752 855h0M804 844h0M800 852h0M753 863h0M794 836h0M816 870h0M763 864h0M815 855h0M789 881h0M780 842h0M794 863h0M830 864h0M781 849h0M806 887h0M858 826h0M847 823h0M852 824h0M877 824h0M893 819h0M839 820h0M862 822h0M882 816h0M886 820h0M858 820h0M858 821h0M889 819h0M863 820h0M885 818h0M853 829h0M865 823h0M872 817h0M899 823h0M890 817h0M847 822h0M875 815h0M893 816h0M886 820h0M890 820h0M846 820h0M877 820h0M842 824h0M879 823h0M763 809h0M730 807h0M739 795h0M710 777h0M724 781h0M750 798h0M773 811h0M778 823h0M781 809h0M693 782h0M726 805h0M691 795h0M770 814h0M797 814h0M701 803h0M800 811h0M761 809h0M767 816h0M715 802h0M741 816h0M789 811h0M717 795h0M712 794h0M681 782h0M684 787h0M777 813h0M726 803h0M763 810h0M693 793h0M737 823h0M745 811h0M765 809h0M711 802h0M770 825h0M781 812h0M738 856h0M743 852h0M717 828h0M714 831h0M722 844h0M765 849h0M751 846h0M719 838h0M739 846h0M751 853h0M733 861h0M715 834h0M718 828h0M748 855h0M717 850h0M728 844h0M739 858h0M735 855h0M751 850h0M758 859h0M730 842h0M714 843h0M752 863h0M736 836h0M718 829h0M1405 263h0M1204 273h0M1216 213h0M1406 327h0M1542 349h0M1266 372h0M1240 257h0M1504 364h0M1280 371h0M1418 355h0M1472 367h0M1523 283h0M1384 351h0M1374 334h0M1318 327h0M1187 360h0M1376 349h0M1344 270h0M1474 292h0M1251 370h0M1338 314h0M1313 413h0M1452 454h0M1511 307h0M1446 517h0M1384 400h0M1280 386h0M1252 351h0M1365 358h0M1209 246h0M1450 335h0M1444 239h0M1231 272h0M1154 369h0M1274 324h0M1301 409h0M1368 323h0M1311 319h0M1180 354h0M1463 386h0M1371 366h0M1439 402h0M1356 395h0M1294 389h0M1244 299h0M1276 323h0M1350 447h0M1153 281h0M1486 486h0M1501 239h0M1401 424h0M1391 351h0M1500 473h0M1181 342h0M1258 283h0M1242 343h0M1361 247h0M1470 329h0M1444 387h0M1177 275h0M1399 399h0M1126 322h0M1203 328h0M1372 400h0M1144 299h0M1533 293h0M1130 364h0M1550 306h0M1412 246h0M1401 262h0M1263 280h0M1396 420h0M1236 253h0M1336 404h0M1182 247h0M1473 325h0M1322 248h0M1360 373h0M1450 292h0M1204 319h0M1144 295h0M1480 293h0M1220 289h0M1452 448h0M1349 364h0M1260 296h0M1166 267h0M1301 339h0M1249 374h0M1211 241h0M1342 326h0M1523 354h0M1187 277h0M1152 342h0M1241 366h0M1497 353h0M1227 338h0M1492 482h0M1378 433h0M1451 336h0M1270 232h0M1447 384h0M1416 343h0M1166 360h0M1167 385h0M1497 249h0M1221 246h0M1154 272h0M1330 410h0M1442 309h0M1463 357h0M1330 234h0M1269 292h0M1382 338h0M1388 336h0M1400 470h0M1321 320h0M1234 299h0M1461 297h0M1211 320h0M1426 283h0M1490 479h0M1499 346h0M1243 299h0M1194 374h0M1299 420h0M1501 259h0M1274 224h0M1390 480h0M1468 280h0M1397 284h0M1432 349h0M1230 355h0M1139 339h0M1231 375h0M1325 252h0M1166 270h0M1428 335h0M1504 316h0M1480 246h0M1412 357h0M1236 253h0M1306 355h0M1385 430h0M1437 345h0M1446 484h0M1139 361h0M1253 286h0M1276 343h0M1460 369h0M1143 254h0M1238 372h0M1481 273h0M1136 359h0M1312 320h0M1234 350h0M1439 350h0M1338 389h0M1239 233h0M1426 424h0M1483 288h0M1272 234h0M1329 252h0M1338 254h0M1469 484h0M1301 257h0M1460 239h0M1417 300h0M1336 266h0M1285 240h0M1245 279h0M1316 384h0M1511 350h0M1408 284h0M1262 318h0M1255 299h0M1407 417h0M1327 254h0M1181 356h0M1251 369h0M1355 436h0M1363 361h0M1266 287h0M1316 404h0M1300 413h0M1343 243h0M1285 345h0M1529 360h0M1264 338h0M1429 309h0M1475 247h0M1345 379h0M1414 366h0M1374 418h0M1312 405h0M1493 404h0M1176 350h0M1365 414h0M1200 338h0M1448 403h0M1419 471h0M1444 474h0M1302 364h0M1441 245h0M1434 348h0M1200 243h0M1320 382h0M1373 327h0M1161 388h0M1123 324h0M1443 296h0M1400 256h0M1470 306h0M1556 295h0M1383 354h0M1497 242h0M1239 390h0M1292 360h0M1339 382h0M1444 252h0M1328 419h0M1351 348h0M1197 381h0M1329 416h0M1327 408h0M1240 244h0M1143 323h0M1490 346h0M1181 345h0M1501 374h0M1214 231h0M1326 239h0M1268 303h0M1465 343h0M1493 499h0M1117 315h0M1491 401h0M1338 257h0M1250 333h0M1205 380h0M1305 323h0M1388 317h0M1261 241h0M1242 240h0M1298 240h0M1488 482h0M1252 294h0M1241 349h0M1261 279h0M1221 313h0M1302 318h0M1490 469h0M1346 278h0M1437 345h0M1250 380h0M1354 386h0M1215 286h0M1326 418h0M1503 456h0M1468 455h0M1109 346h0M1198 195h0M1222 249h0M1389 333h0M1394 244h0M1269 314h0M1417 257h0M1522 346h0M1170 389h0M1269 268h0M1188 325h0M1386 322h0M1135 337h0M1392 312h0M1389 440h0M1341 414h0M1162 278h0M1158 321h0M1527 311h0M1389 248h0M1281 390h0M1274 319h0M1501 289h0M1504 266h0M1203 200h0M1196 286h0M1450 283h0M1287 226h0M1351 382h0M1451 255h0M1462 274h0M1432 496h0M1349 323h0M1280 249h0M1454 340h0M1205 256h0M1421 475h0M1456 476h0M1219 384h0M1368 299h0M1421 456h0M1542 311h0M1472 253h0M1399 252h0M1498 260h0M1495 468h0M1158 372h0M1374 243h0M1449 377h0M1235 349h0M1508 351h0M1381 284h0M1483 363h0M1194 363h0M1265 223h0M1384 339h0M1336 373h0M1527 323h0M1527 345h0M1413 292h0M1382 424h0M1466 300h0M1467 255h0M1359 422h0M1287 234h0M1288 207h0M1264 250h0M1410 409h0M1401 261h0M1242 284h0M1438 381h0M1390 357h0M1543 297h0M1406 364h0M1248 220h0M1251 394h0M1312 345h0M1320 400h0M1341 385h0M1222 242h0M1176 350h0M1287 305h0M1255 372h0M1259 252h0M1490 376h0M1157 382h0M1262 231h0M1218 236h0M1355 435h0M1167 368h0M1292 345h0M1116 311h0M1196 335h0M1393 294h0M1489 455h0M1238 349h0M1475 298h0M1380 344h0M1303 409h0M1368 328h0M1527 288h0M1428 337h0M1399 245h0M1259 231h0M1491 315h0M1201 378h0M1334 243h0M1448 456h0M1322 238h0M1327 407h0M1449 342h0M1464 259h0M1148 276h0M1448 325h0M1131 290h0M1286 230h0M1356 351h0M1240 377h0M1402 363h0M1355 339h0M1288 243h0M1142 287h0M1294 238h0M1533 270h0M1359 360h0M1240 277h0M1357 362h0M1541 300h0M1491 471h0M1442 231h0M1220 247h0M1329 253h0M1490 414h0M1519 349h0M1147 318h0M1283 234h0M1241 225h0M1370 344h0M1390 427h0M1383 321h0M1208 352h0M1284 360h0M1143 268h0M1285 258h0M1405 403h0M1413 473h0M1462 386h0M1467 440h0M1404 321h0M1126 291h0M1345 252h0M1182 371h0M1237 337h0M1154 311h0M1216 383h0M1542 301h0M1268 275h0M1241 380h0M1374 398h0M1182 358h0M1530 257h0M1311 269h0M1370 357h0M1422 355h0M1434 308h0M1252 296h0M1361 311h0M1267 268h0M1390 373h0M1393 359h0M1436 249h0M1227 305h0M1269 269h0M1350 266h0M1311 414h0M1328 265h0M1161 290h0M1355 348h0M1264 253h0M1195 256h0M1167 349h0M1416 333h0M1302 264h0M1370 366h0M1401 372h0M1415 407h0M1163 374h0M1515 256h0M1460 256h0M1526 283h0M1448 384h0M1453 474h0M1455 455h0M1459 377h0M1368 450h0M1143 350h0M1507 293h0M1222 301h0M1337 433h0M1127 362h0M1539 275h0M1303 318h0M1453 310h0M1446 511h0M1527 353h0M1142 377h0M1231 236h0M1389 309h0M1267 243h0M1326 357h0M1267 293h0M1253 301h0M1464 456h0M1247 352h0M1367 386h0M1365 336h0M1224 355h0M1161 379h0M1480 236h0M1263 335h0M1476 367h0M1470 488h0M1375 444h0M1378 407h0M1183 326h0M1171 356h0M1395 266h0M1321 324h0M1220 197h0M1477 383h0M1449 317h0M1458 447h0M1107 370h0M1458 389h0M1466 425h0M1463 446h0M1207 270h0M1358 358h0M1263 253h0M1207 244h0M1395 323h0M1198 337h0M1382 302h0M1412 257h0M1304 394h0M1311 390h0M1385 448h0M1414 367h0M1307 290h0M1415 347h0M1110 323h0M1266 238h0M1397 314h0M1326 347h0M1504 462h0M1239 381h0M1390 399h0M1347 254h0M1450 267h0M1163 274h0M1353 261h0M1461 296h0M1333 272h0M1438 264h0M1267 301h0M1494 499h0M1535 333h0M1249 376h0M1467 296h0M1366 338h0M1295 226h0M1208 332h0M1474 459h0M1366 368h0M1180 388h0M1345 257h0M1505 497h0M1245 382h0M1277 230h0M1343 262h0M1505 260h0M1398 360h0M1490 437h0M1377 442h0M1149 282h0M1548 271h0M1215 313h0M1206 371h0M1439 418h0M1212 357h0M1467 339h0M1269 252h0M1522 358h0M1522 301h0M1483 408h0M1136 319h0M1384 361h0M1528 288h0M1338 241h0M1489 472h0M1225 349h0M1281 363h0M1121 315h0M1135 344h0M1140 320h0M1122 340h0M1123 304h0M1180 357h0M1418 295h0M1344 349h0M1257 220h0M1459 473h0M1299 242h0M1322 397h0M1517 285h0M1556 303h0M1286 378h0M1253 341h0M1486 430h0M1502 277h0M1411 484h0M1201 229h0M1256 224h0M1273 394h0M1268 208h0M1239 356h0M1371 262h0M1190 292h0M1108 358h0M1371 364h0M1456 450h0M1424 333h0M1252 298h0M1203 271h0M1183 297h0M1273 359h0M1435 417h0M1397 468h0M1308 313h0M1427 311h0M1559 310h0M1206 276h0M1384 366h0M1375 426h0M1545 324h0M1212 253h0M1347 270h0M1302 340h0M1362 373h0M1169 373h0M1477 500h0M1477 291h0M1168 360h0M1378 340h0M1381 271h0M1256 201h0M1365 299h0M1359 337h0M1526 270h0M1245 382h0M1482 307h0M1502 272h0M1259 282h0M1237 260h0M1396 363h0M1349 391h0M1251 378h0M1239 212h0M1480 296h0M1458 369h0M1119 361h0M1499 307h0M1367 393h0M1178 228h0M1178 290h0M1408 258h0M1480 283h0M1251 307h0M1504 258h0M1415 451h0M1154 372h0M1462 414h0M1376 282h0M1211 239h0M1284 317h0M1516 276h0M1324 407h0M1184 306h0M1412 270h0M1314 293h0M1222 277h0M1341 284h0M1168 369h0M1299 328h0M1208 229h0M1413 429h0M1165 343h0M1451 463h0M1509 381h0M1137 363h0M1398 403h0M1538 310h0M1498 304h0M1463 252h0M1210 208h0M1407 470h0M1243 247h0M1471 327h0M1454 334h0M1204 375h0M1477 370h0M1264 278h0M1457 405h0M1239 323h0M1330 379h0M1538 272h0M1359 401h0M1486 297h0M1435 507h0M1446 239h0M1463 329h0M1510 280h0M1347 433h0M1370 454h0M1271 241h0M1199 305h0M1520 349h0M1202 323h0M1327 418h0M1151 385h0M1545 309h0M1523 329h0M1383 343h0M1375 351h0M1465 435h0M1266 219h0M1453 426h0M1405 361h0M1199 334h0M1280 396h0M1228 270h0M1194 386h0M1202 301h0M1487 393h0M1531 286h0M1491 255h0M1507 236h0M1342 255h0M1452 300h0M1347 380h0M1308 342h0M1317 279h0M1396 428h0M1437 505h0M1441 353h0M1399 286h0M1295 302h0M1200 357h0M1429 325h0M1251 370h0M1392 307h0M1367 394h0M1218 223h0M1372 333h0M1448 468h0M1141 349h0M1326 226h0M1457 360h0M1413 370h0M1231 225h0M1483 296h0M1509 260h0M1405 322h0M1284 314h0M1262 236h0M1462 300h0M1211 207h0M1256 358h0M1229 363h0M1343 279h0M1372 427h0M1384 262h0M1494 252h0M1199 309h0M1414 308h0M1478 296h0M1124 353h0M1225 288h0M1422 352h0M1358 320h0M1119 334h0M1291 407h0M1472 477h0M1164 369h0M1505 493h0M1233 325h0M1167 353h0M1513 253h0M1498 479h0M1161 265h0M1292 249h0M1342 395h0M1266 235h0M1245 299h0M1236 339h0M1506 326h0M1303 406h0M1220 259h0M1135 357h0M1347 382h0M1334 237h0M1434 249h0M1421 314h0M1146 332h0M1269 277h0M1369 271h0M1225 239h0M1409 293h0M1380 378h0M1172 376h0M1516 302h0M1153 327h0M1499 290h0M1259 305h0M1466 247h0M1409 261h0M1489 283h0M1267 288h0M1341 279h0M1454 279h0M1259 361h0M1212 308h0M1376 343h0M1353 392h0M1243 257h0M1180 390h0M1407 342h0M1225 203h0M1525 304h0M1337 296h0M1270 239h0M1461 327h0M1327 362h0M1329 255h0M1255 253h0M1517 262h0M1404 337h0M1284 361h0M1142 380h0M1366 411h0M1347 383h0M1125 322h0M1377 394h0M1460 271h0M1217 257h0M1254 257h0M1352 305h0M1202 255h0M1176 372h0M1331 303h0M1295 228h0M1337 358h0M1414 295h0M1362 362h0M1544 321h0M1349 254h0M1395 263h0M1480 255h0M1143 292h0M1301 297h0M1414 320h0M1173 283h0M1252 281h0M1336 254h0M1488 260h0M1484 458h0M1347 314h0M1408 353h0M1232 378h0M1478 279h0M1277 210h0M1268 297h0M1151 357h0M1441 306h0M1264 322h0M1495 411h0M1349 366h0M1315 359h0M1460 261h0M1405 329h0M1108 361h0M1137 350h0M1368 388h0M1519 263h0M1358 361h0M1303 327h0M1175 281h0M1378 312h0M1472 344h0M1392 379h0M1511 302h0M1352 362h0M1452 316h0M1320 378h0M1330 277h0M1349 368h0M1345 328h0M1320 277h0M1465 227h0M1243 357h0M1251 231h0M1401 421h0M1274 229h0M1255 241h0M1399 298h0M1342 368h0M1279 392h0M1347 332h0M1355 251h0M1401 482h0M1412 269h0M1487 518h0M1169 393h0M1200 248h0M1522 271h0M1243 360h0M1279 242h0M1481 315h0M1265 374h0M1338 325h0M1430 420h0M1485 306h0M1134 345h0M1513 336h0M1491 265h0M1199 218h0M1236 360h0M1263 368h0M1318 274h0M1262 253h0M1301 264h0M1402 397h0M1432 297h0M1212 337h0M1328 398h0M1133 299h0M1121 311h0M1262 303h0M1322 369h0M1270 353h0M1378 414h0M1155 270h0M1378 433h0M1140 370h0M1506 292h0M1499 314h0M1361 290h0M1285 390h0M1452 328h0M1525 303h0M1410 237h0M1148 273h0M1419 350h0M1403 352h0M1454 522h0M1290 358h0M1480 305h0M1423 292h0M1422 321h0M1246 196h0M1419 281h0M1259 357h0M1383 399h0M1499 356h0M1317 309h0M1420 346h0M1305 308h0M1218 223h0M1384 397h0M1423 445h0M1225 357h0M1270 240h0M1461 279h0M1269 275h0M1167 299h0M1324 263h0M1357 364h0M1115 362h0M1246 294h0M1434 388h0M1557 293h0M1404 337h0M1160 370h0M1439 521h0M1227 377h0M1460 336h0M1390 270h0M1265 252h0M1427 378h0M1515 249h0M1395 234h0M1235 302h0M1347 280h0M1149 368h0M1491 247h0M1450 515h0M1405 460h0M1480 249h0M1303 228h0M1131 273h0M1448 351h0M1237 343h0M1173 381h0M1421 312h0M1129 335h0M1433 347h0M1507 231h0M1539 326h0M1377 444h0M1329 374h0M1515 315h0M1459 266h0M1130 358h0M1307 413h0M1471 445h0M1387 377h0M1310 330h0M1370 341h0M1441 405h0M1455 368h0M1304 354h0M1455 268h0M1398 407h0M1390 276h0M1308 328h0M1476 489h0M1174 352h0M1449 336h0M1383 469h0M1386 249h0M1275 289h0M1249 283h0M1258 286h0M1410 277h0M1442 407h0M1453 321h0M1550 334h0M1140 317h0M1454 513h0M1129 341h0M1389 265h0M1318 270h0M1503 372h0M1268 286h0M1485 228h0M1252 299h0M1384 377h0M1513 347h0M1218 357h0M1436 446h0M1532 275h0M1144 380h0M1536 292h0M1422 338h0M1415 463h0M1529 289h0M1212 261h0M1401 356h0M1397 360h0M1274 244h0M1496 442h0M1450 335h0M1528 347h0M1477 381h0M1278 227h0M1267 282h0M1312 295h0M1184 237h0M1451 362h0M1146 333h0M1260 240h0M1462 493h0M1505 363h0M1445 383h0M1270 202h0M1374 318h0M1245 241h0M1445 410h0M1245 197h0M1525 287h0M1502 377h0M1497 415h0M1385 442h0M1499 428h0M1206 300h0M1336 244h0M1363 243h0M1261 324h0M1352 396h0M1497 340h0M1373 346h0M1421 249h0M1355 363h0M1169 305h0M1264 275h0M1378 355h0M1494 485h0M1430 330h0M1248 257h0M1270 337h0M1450 364h0M1359 424h0M1468 334h0M1299 373h0M1286 259h0M1430 324h0M1398 341h0M1531 270h0M1508 403h0M1485 340h0M1336 374h0M1398 357h0M1335 413h0M1188 368h0M1472 364h0M1341 408h0M1506 348h0M1298 278h0M1286 267h0M1433 259h0M1511 301h0M1377 401h0M1267 369h0M1326 247h0M1367 409h0M1505 413h0M1327 403h0M1331 396h0M1426 355h0M1120 357h0M1428 280h0M1306 413h0M1183 290h0M1241 350h0M1169 375h0M1458 290h0M1515 305h0M1244 233h0M1367 384h0M1457 486h0M1524 351h0M1263 388h0M1324 249h0M1235 370h0M1406 249h0M1521 299h0M1166 315h0M1188 373h0M1500 364h0M1507 306h0M1358 316h0M1330 253h0M1501 371h0M1437 477h0M1268 222h0M1245 271h0M1413 257h0M1311 359h0M1395 379h0M1347 258h0M1352 291h0M1279 213h0M1437 282h0M1193 288h0M1433 316h0M1431 323h0M1511 281h0M1500 290h0M1228 286h0M1362 266h0M1300 425h0M1222 254h0M1407 364h0M1370 370h0M1341 324h0M1407 332h0M1232 327h0M1342 279h0M1473 389h0M1459 248h0M1360 439h0M1343 278h0M1539 259h0M1310 349h0M1306 258h0M1320 274h0M1176 271h0M1515 367h0M1548 291h0M1365 420h0M1302 406h0M1432 260h0M1170 359h0M1333 239h0M1423 345h0M1171 296h0M1325 362h0M1379 431h0M1452 355h0M1487 435h0M1311 336h0M1397 309h0M1311 373h0M1256 354h0M1433 236h0M1385 272h0M1157 287h0M1355 360h0M1415 287h0M1147 357h0M1432 515h0M1301 277h0M1109 359h0M1478 359h0M1252 250h0M1201 327h0M1395 344h0M1115 365h0M1175 349h0M1491 390h0M1265 235h0M1274 244h0M1226 374h0M1394 332h0M1249 289h0M1287 232h0M1208 349h0M1169 327h0M1538 343h0M1320 229h0M1142 284h0M1479 331h0M1200 225h0M1351 395h0M1404 381h0M1406 309h0M1363 380h0M1264 244h0M1178 336h0M1460 260h0M1485 235h0M1254 210h0M1468 480h0M1153 359h0M1480 328h0M1184 273h0M1482 505h0M1258 221h0M1544 287h0M1528 273h0M1343 257h0M1382 407h0M1511 356h0M1369 344h0M1261 254h0M1176 352h0M1364 361h0M1509 358h0M1472 333h0M1182 347h0M1284 336h0M1533 294h0M1432 338h0M1477 445h0M1424 465h0M1375 320h0M1230 272h0M1469 284h0M1488 281h0M1514 239h0M1367 355h0M1434 315h0M1468 354h0M1290 358h0M1276 306h0M1238 322h0M1424 265h0M1306 386h0M1202 294h0M1326 361h0M1243 362h0M1198 360h0M1128 291h0M1385 304h0M1528 299h0M1351 317h0M1417 246h0M1239 352h0M1465 353h0M1407 237h0M1114 373h0M1226 217h0M1480 305h0M1199 222h0M1272 228h0M1175 363h0M1123 341h0M1152 343h0M1311 264h0M1407 272h0M1468 342h0M1430 354h0M1384 408h0M1365 377h0M1399 293h0M1433 408h0M1457 418h0M1418 446h0M1256 392h0M1483 353h0M1540 355h0M1513 277h0M1509 276h0M1352 355h0M1210 348h0M1381 279h0M1366 363h0M1273 299h0M1353 293h0M1303 276h0M1265 359h0M1162 312h0M1434 364h0M1435 504h0M1346 248h0M1340 430h0M1389 329h0M1356 367h0M1262 395h0M1419 349h0M1112 351h0M1433 452h0M1303 259h0M1245 369h0M1361 318h0M1380 437h0M1237 275h0M1219 327h0M1336 339h0M1459 231h0M1317 311h0M1355 441h0M1244 258h0M1318 350h0M1441 343h0M1136 337h0M1491 480h0M1494 277h0M1290 397h0M1153 334h0M1356 417h0M1294 246h0M1494 263h0M1221 233h0M1209 192h0M1340 280h0M1205 337h0M1484 259h0M1431 279h0M1406 404h0M1463 449h0M1261 305h0M1253 344h0M1376 361h0M1397 286h0M1318 330h0M1346 246h0M1354 246h0M1466 447h0M1287 245h0M1271 389h0M1453 426h0M1435 286h0M1294 414h0M1290 398h0M1335 242h0M1286 295h0M1441 244h0M1109 351h0M1205 329h0M1237 273h0M1322 370h0M1216 192h0M1196 345h0M1327 376h0M1481 347h0M1289 235h0M1168 348h0M1371 425h0M1198 304h0M1372 360h0M1439 385h0M1295 335h0M1520 336h0M1344 323h0M1166 371h0M1384 385h0M1491 480h0M1448 283h0M1352 263h0M1357 457h0M1258 333h0M1534 305h0M1236 366h0M1467 518h0M1148 285h0M1519 286h0M1421 354h0M1491 337h0M1209 300h0M1446 443h0M1432 384h0M1330 236h0M1415 255h0M1430 324h0M1427 468h0M1202 283h0M1262 342h0M1275 401h0M1395 324h0M1118 356h0M1478 492h0M1341 370h0M1525 261h0M1430 375h0M1135 357h0M1196 357h0M1345 258h0M1499 470h0M1472 499h0M1411 360h0M1337 258h0M1447 365h0M1259 238h0M1172 369h0M1389 356h0M1331 328h0M1507 255h0M1265 273h0M1465 366h0M1480 342h0M1470 226h0M1196 338h0M1314 230h0M1519 333h0M1383 362h0M1380 385h0M1131 277h0M1277 335h0M1301 217h0M1483 291h0M1270 296h0M1258 244h0M1256 347h0M1235 218h0M1190 258h0M1267 293h0M1525 278h0M1214 314h0M1422 340h0M1452 424h0M1359 442h0M1311 372h0M1182 370h0M1497 454h0M1435 439h0M1478 461h0M1497 276h0M1374 388h0M1290 397h0M1257 346h0M1513 332h0M1276 211h0M1217 271h0M1197 319h0M1462 360h0M1478 393h0M1233 370h0M1315 373h0M1204 286h0M1350 253h0M1170 374h0M1395 435h0M1387 278h0M1173 330h0M1392 279h0M1524 290h0M1245 292h0M1327 254h0M1304 256h0M1341 318h0M1545 271h0M1198 330h0M1325 280h0M1412 466h0M1262 307h0M1215 303h0M1214 332h0M1530 261h0M1364 295h0M1135 299h0M1462 449h0M1206 341h0M1200 368h0M1289 252h0M1423 352h0M1499 252h0M1266 340h0M1126 304h0M1307 239h0M1381 368h0M1443 343h0M1287 231h0M1370 366h0M1505 353h0M1486 437h0M1271 250h0M1203 339h0M1424 479h0M1373 322h0M1321 300h0M1215 203h0M1286 411h0M1527 286h0M1212 230h0M1290 408h0M1207 307h0M1344 254h0M1351 437h0M1402 407h0M1401 479h0M1326 277h0M1139 320h0M1266 293h0M1432 359h0M1485 387h0M1528 300h0M1373 348h0M1384 282h0M1269 292h0M1460 404h0M1257 292h0M1320 417h0M1448 500h0M1453 312h0M1244 251h0M1185 373h0M1188 386h0M1130 374h0M1248 336h0M1500 301h0M1124 299h0M1364 389h0M1134 294h0M1367 427h0M1469 424h0M1452 304h0M1232 295h0M1453 472h0M1321 401h0M1154 370h0M1389 391h0M1322 249h0M1448 329h0M1465 341h0M1390 415h0M1167 379h0M1477 318h0M1333 248h0M1453 295h0M1340 432h0M1366 373h0M1133 363h0M1338 246h0M1249 346h0M1487 310h0M1530 343h0M1404 400h0M1318 414h0M1139 326h0M1349 337h0M1259 238h0M1455 264h0M1298 275h0M1424 360h0M1408 321h0M1386 299h0M1267 265h0M1384 419h0M1372 409h0M1326 369h0M1107 341h0M1270 196h0M1359 359h0M1424 335h0M1252 248h0M1427 267h0M1291 415h0M1542 288h0M1531 278h0M1399 259h0M1492 265h0M1161 369h0M1259 309h0M1520 268h0M1284 394h0M1350 254h0M1456 264h0M1116 329h0M1293 236h0M1442 438h0M1409 380h0M1502 296h0M1366 342h0M1301 224h0M1368 361h0M1146 352h0M1331 341h0M1254 367h0M1180 382h0M1146 348h0M1400 272h0M1364 347h0M1432 347h0M1307 395h0M1320 323h0M1274 377h0M1299 405h0M1349 386h0M1500 271h0M1224 350h0M1352 313h0M1478 404h0M1502 261h0M1253 351h0M1301 340h0M1554 297h0M1148 361h0M1237 301h0M1473 442h0M1371 374h0M1287 304h0M1450 302h0M1156 328h0M1360 437h0M1205 343h0M1379 426h0M1420 468h0M1264 363h0M1476 335h0M1327 414h0M1187 344h0M1436 372h0M1256 314h0M1469 332h0M1419 273h0M1392 312h0M1539 278h0M1370 328h0M1518 299h0M1379 433h0M1308 294h0M1197 379h0M1259 219h0M1363 372h0M1195 331h0M1366 268h0M1266 370h0M1477 347h0M1471 284h0M1214 317h0M1469 518h0M1421 351h0M1372 330h0M1153 283h0M1456 324h0M1255 255h0M1547 266h0M1334 426h0M1464 345h0M1427 327h0M1306 370h0M1266 273h0M1502 249h0M1553 263h0M1475 252h0M1544 263h0M1125 298h0M1336 248h0M1404 299h0M1494 436h0M1218 217h0M1425 339h0M1198 310h0M1413 340h0M1170 344h0M1256 313h0M1369 324h0M1233 363h0M1367 310h0M1378 438h0M1472 269h0M1475 514h0M1326 251h0M1404 354h0M1169 394h0M1134 284h0M1311 426h0M1258 206h0M1147 339h0M1231 265h0M1432 280h0M1389 288h0M1429 456h0M1217 226h0M1435 370h0M1147 262h0M1496 348h0M1364 358h0M1247 358h0M1437 339h0M1518 353h0M1417 458h0M1403 250h0M1492 355h0M1352 373h0M1378 378h0M1318 273h0M1143 319h0M1226 207h0M1332 326h0M1169 342h0M1512 347h0M1264 341h0M1382 342h0M1457 359h0M1501 361h0M1341 271h0M1456 479h0M1356 344h0M1275 277h0M1206 355h0M1170 378h0M1431 399h0M1333 264h0M1340 260h0M1211 296h0M1349 244h0M1337 284h0M1209 246h0M1403 260h0M1144 356h0M1162 309h0M1500 446h0M1415 386h0M1465 426h0M1195 215h0M1529 356h0M1550 266h0M1248 205h0M1437 386h0M1166 340h0M1127 363h0M1486 399h0M1276 299h0M1483 437h0M1218 364h0M1199 240h0M1497 393h0M1450 354h0M1256 268h0M1379 385h0M1250 368h0M1187 381h0M1473 288h0M1281 239h0M1435 400h0M1231 207h0M1226 200h0M1531 360h0M1372 327h0M1210 383h0M1152 345h0M1475 322h0M1393 325h0M1422 368h0M1472 227h0M1438 351h0M1402 411h0M1204 226h0M1152 359h0M1342 412h0M1315 261h0M1341 244h0M1314 214h0M1337 231h0M1481 297h0M1117 310h0M1559 296h0M1131 295h0M1355 366h0M1215 358h0M1272 359h0M1283 218h0M1272 374h0M1432 327h0M1486 484h0M1217 346h0M1266 284h0M1409 407h0M1367 359h0M1375 460h0M1356 284h0M1486 235h0M1295 327h0M1245 327h0M1334 349h0M1322 311h0M1403 331h0M1479 504h0M1364 276h0M1468 341h0M1251 266h0M1101 343h0M1171 341h0M1275 306h0M1277 343h0M1518 363h0M1389 423h0M1425 281h0M1534 285h0M1375 289h0M1160 366h0M1325 369h0M1534 283h0M1366 387h0M1274 237h0M1384 427h0M1491 420h0M1307 269h0M1462 246h0M1474 310h0M1285 302h0M1288 267h0M1350 267h0M1356 276h0M1429 361h0M1371 410h0M1199 370h0M1498 274h0M1245 329h0M1145 380h0M1237 192h0M1362 268h0M1166 355h0M1420 450h0M1417 395h0M1304 276h0M1245 330h0M1208 305h0M1307 412h0M1551 309h0M1359 273h0M1413 343h0M1333 243h0M1121 320h0M1461 396h0M1488 448h0M1271 343h0M1382 446h0M1391 388h0M1506 307h0M1210 324h0M1227 369h0M1435 361h0M1262 322h0M1485 238h0M1206 332h0M1193 325h0M1372 281h0M1290 402h0M1479 501h0M1380 449h0M1430 382h0M1271 335h0M1429 368h0M1158 381h0M1413 336h0M1360 385h0M1401 319h0M1172 375h0M1445 289h0M1425 258h0M1386 309h0M1418 407h0M1410 456h0M1185 294h0M1323 243h0M1330 411h0M1293 405h0M1409 352h0M1410 257h0M1503 312h0M1474 324h0M1422 312h0M1503 253h0M1412 344h0M1269 293h0M1225 277h0M1210 367h0M1140 294h0M1451 248h0M1427 320h0M1434 340h0M1173 365h0M1419 360h0M1402 443h0M1253 236h0M1389 410h0M1217 205h0M1141 375h0M1422 264h0M1246 309h0M1174 363h0M1286 232h0M1185 374h0M1436 228h0M1228 321h0M1475 248h0M1310 411h0M1134 377h0M1383 299h0M1378 353h0M1227 225h0M1314 257h0M1301 325h0M1518 275h0M1441 393h0M1354 398h0M1440 265h0M1118 347h0M1309 430h0M1419 358h0M1157 320h0M1380 419h0M1256 353h0M1393 346h0M1340 312h0M1424 493h0M1360 387h0M1437 338h0M1514 242h0M1472 366h0M1339 245h0M1506 305h0M1533 274h0M1510 339h0M1415 292h0M1396 302h0M1398 296h0M1305 386h0M1258 362h0M1455 488h0M1554 300h0M1470 290h0M1461 391h0M1379 375h0M1285 379h0M1175 272h0M1358 416h0M1264 275h0M1437 376h0M1301 383h0M1429 254h0M1262 357h0M1379 441h0M1349 428h0M1522 303h0M1308 220h0M1248 215h0M1391 435h0M1154 361h0M1213 197h0M1395 249h0M1348 385h0M1502 259h0M1417 241h0M1421 374h0M1263 254h0M1135 281h0M1240 324h0M1386 395h0M1393 434h0M1145 373h0M1525 317h0M1397 289h0M1330 364h0M1472 291h0M1268 264h0M1471 518h0M1116 331h0M1285 205h0M1345 361h0M1287 300h0M1340 291h0M1436 354h0M1478 341h0M1480 267h0M1358 254h0M1396 401h0M1429 273h0M1358 353h0M1208 348h0M1384 326h0M1418 337h0M1367 359h0M1103 371h0M1151 395h0M1190 381h0M1168 389h0M1227 386h0M1192 394h0M1244 402h0M1194 390h0M1207 393h0M1119 394h0M1211 379h0M1093 364h0M1163 394h0M1222 393h0M1203 387h0M1239 399h0M1107 373h0M1156 393h0M1142 381h0M1150 383h0M1149 384h0M1220 380h0M1151 393h0M1181 397h0M1113 378h0M1210 382h0M1115 364h0M1170 393h0M1241 386h0M1165 400h0M1220 371h0M1158 391h0M1156 388h0M1197 391h0M1200 390h0M1146 388h0M1174 408h0M1233 388h0M1231 393h0M1117 377h0M1153 386h0M1127 375h0M1245 387h0M1210 387h0M1175 390h0M1181 383h0M1118 386h0M1215 376h0M1256 389h0M1188 395h0M1242 390h0M1207 387h0M1236 389h0M1219 390h0M1128 386h0M1182 398h0M1230 397h0M1161 395h0M1202 388h0M1240 382h0M1219 385h0M1103 369h0M1236 390h0M1250 396h0M1136 376h0M1173 393h0M1108 369h0M1194 390h0M1182 399h0M1168 395h0M1226 385h0M1153 405h0M1172 398h0M1107 390h0M1231 385h0M1219 395h0M1106 369h0M1132 381h0M1193 383h0M1168 401h0M1105 373h0M1157 395h0M1210 385h0M1229 382h0M1158 390h0M1143 399h0M1230 386h0M1245 400h0M1162 396h0M1136 381h0M1207 375h0M1120 377h0M1204 385h0M1205 385h0M1102 384h0M1164 397h0M1136 388h0M1102 361h0M1157 400h0M1186 389h0M1241 393h0M1190 404h0M1231 386h0M1200 395h0M1222 389h0M1185 384h0M1146 391h0M1106 366h0M1142 395h0M1226 390h0M1174 398h0M1248 393h0M1174 392h0M1238 388h0M1126 374h0M1126 384h0M1232 392h0M1180 393h0M1243 390h0M1101 362h0M1133 394h0M1180 391h0M1140 388h0M1225 387h0M1133 391h0M1162 399h0M1187 396h0M1151 397h0M1197 395h0M1236 396h0M1257 394h0M1120 379h0M1139 396h0M1137 389h0M1158 398h0M1252 404h0M1204 388h0M1130 379h0M1192 387h0M1138 385h0M1156 388h0M1145 384h0M1123 364h0M1151 389h0M1195 376h0M1158 383h0M1147 392h0M1152 385h0M1199 392h0M1204 388h0M1306 428h0M1263 406h0M1427 509h0M1356 445h0M1390 488h0M1351 450h0M1413 511h0M1402 473h0M1280 408h0M1320 443h0M1390 493h0M1267 406h0M1415 513h0M1328 429h0M1326 432h0M1429 513h0M1268 387h0M1403 483h0M1376 464h0M1403 487h0M1369 462h0M1253 405h0M1373 456h0M1353 450h0M1393 492h0M1305 429h0M1392 482h0M1273 398h0M1431 523h0M1395 479h0M1337 437h0M1356 452h0M1290 421h0M1407 499h0M1348 460h0M1402 499h0M1384 471h0M1341 442h0M1328 435h0M1395 482h0M1393 488h0M1431 509h0M1344 436h0M1271 413h0M1349 459h0M1433 508h0M1402 488h0M1420 511h0M1335 450h0M1263 406h0M1401 490h0M1382 477h0M1302 421h0M1423 518h0M1295 426h0M1421 506h0M1329 439h0M1320 444h0M1329 436h0M1421 502h0M1362 449h0M1435 516h0M1335 431h0M1344 446h0M1303 424h0M1370 463h0M1384 477h0M1301 437h0M1309 436h0M1319 431h0M1286 418h0M1315 426h0M1328 440h0M1258 399h0M1419 500h0M1367 473h0M1319 439h0M1332 444h0M1385 477h0M1425 502h0M1319 424h0M1373 457h0M1406 501h0M1326 428h0M1420 504h0M1289 432h0M1285 426h0M1358 450h0M1380 484h0M1304 417h0M1093 530h0M1090 528h0M1094 544h0M1095 520h0M1096 549h0M1088 533h0M1092 548h0M1087 526h0M1090 533h0M1097 537h0M1093 538h0M1090 521h0M1093 537h0M1091 534h0M1095 530h0M1089 543h0M1085 532h0M1098 549h0M1451 620h0M1443 624h0M1494 530h0M1495 592h0M1496 525h0M1496 498h0M1462 563h0M1450 615h0M1467 545h0M1436 614h0M1493 559h0M1470 515h0M1421 578h0M1464 632h0M1449 614h0M1481 533h0M1468 541h0M1425 599h0M1511 549h0M1432 592h0M1492 633h0M1487 602h0M1444 622h0M1480 557h0M1512 590h0M1517 542h0M1461 512h0M1427 588h0M1439 563h0M1423 593h0M1514 551h0M1496 536h0M1482 593h0M1458 554h0M1446 538h0M1430 593h0M1487 632h0M1476 557h0M1438 610h0M1462 529h0M1460 570h0M1500 565h0M1479 559h0M1492 526h0M1461 568h0M1502 530h0M1467 519h0M1504 558h0M1485 621h0M1462 610h0M1474 577h0M1517 542h0M1424 589h0M1456 564h0M1445 604h0M1447 561h0M1500 502h0M1440 537h0M1446 600h0M1447 612h0M1485 598h0M1471 555h0M1466 592h0M1506 534h0M1505 577h0M1435 612h0M1507 521h0M1454 541h0M1429 577h0M1421 612h0M1505 555h0M1510 545h0M1421 609h0M1491 538h0M1482 525h0M1469 514h0M1482 561h0M1475 575h0M1475 566h0M1435 572h0M1459 616h0M1502 589h0M1431 585h0M1462 542h0M1451 540h0M1456 543h0M1484 561h0M1513 553h0M1478 628h0M1436 564h0M1484 586h0M1468 619h0M1450 539h0M1495 579h0M1499 520h0M1504 574h0M1447 608h0M1500 525h0M1487 537h0M1475 499h0M1446 594h0M1473 610h0M1423 549h0M1482 629h0M1508 603h0M1426 592h0M1454 588h0M1442 543h0M1489 497h0M1471 625h0M1425 598h0M1458 578h0M1486 553h0M1454 525h0M1426 580h0M1464 508h0M1492 536h0M1448 608h0M1499 621h0M1485 621h0M1473 554h0M1480 512h0M1428 545h0M1481 569h0M1466 579h0M1483 544h0M1493 554h0M1426 538h0M1485 547h0M1436 530h0M1500 569h0M1436 615h0M1460 563h0M1504 512h0M1489 561h0M1509 534h0M1433 529h0M1488 557h0M1487 552h0M1444 536h0M1463 579h0M1452 606h0M1485 583h0M1491 501h0M1499 561h0M1486 634h0M1417 598h0M1479 587h0M1424 603h0M1464 615h0M1426 582h0M1449 592h0M1447 536h0M1429 568h0M1442 598h0M1450 587h0M1453 619h0M1452 555h0M1439 558h0M1512 540h0M1477 552h0M1448 514h0M1476 623h0M1472 541h0M1426 566h0M1455 524h0M1491 594h0M1436 558h0M1463 574h0M1437 614h0M1436 537h0M1471 589h0M1422 588h0M1488 551h0M1495 584h0M1423 593h0M1452 570h0M1430 550h0M1507 549h0M1457 565h0M1424 557h0M1444 627h0M1435 565h0M1492 595h0M1476 624h0M1440 532h0M1462 575h0M1460 518h0M1432 570h0M1436 569h0M1512 541h0M1481 547h0M1488 529h0M1459 517h0M1444 558h0M1485 628h0M1486 553h0M1491 593h0M1496 559h0M1433 560h0M1468 524h0M1447 572h0M1488 512h0M1432 612h0M1488 499h0M1474 632h0M1500 531h0M1448 596h0M1457 583h0M1445 565h0M1470 610h0M1493 548h0M1483 580h0M1482 631h0M1484 601h0M1484 519h0M1484 577h0M1475 616h0M1512 538h0M1477 522h0M1477 605h0M1476 584h0M1454 588h0M1425 609h0M1513 537h0M1510 544h0M1455 592h0M1431 580h0M1429 566h0M1491 597h0M1509 539h0M1481 515h0M1479 557h0M1502 555h0M1473 596h0M1435 602h0M1477 531h0M1502 603h0M1462 554h0M1472 565h0M1429 582h0M1472 565h0M1472 520h0M1465 620h0M1474 628h0M1509 543h0M1471 537h0M1487 539h0M1434 622h0M1495 537h0M1440 616h0M1483 574h0M1447 549h0M1455 618h0M1442 569h0M1479 602h0M1482 515h0M1440 516h0M1442 524h0M1426 595h0M1489 535h0M1459 526h0M1438 616h0M1452 574h0M1466 550h0M1456 523h0M1431 539h0M1440 534h0M1505 551h0M1465 518h0M1451 527h0M1473 590h0M1502 595h0M1447 571h0M1476 526h0M1500 585h0M1512 561h0M1436 600h0M1500 541h0M1442 523h0M1462 593h0M1427 553h0M1492 616h0M1446 598h0M1468 535h0M1518 546h0M1451 595h0M1436 586h0M1465 508h0M1425 569h0M1432 590h0M1456 578h0M1470 570h0M1460 583h0M1501 534h0M1486 514h0M1479 508h0M1439 565h0M1446 516h0M1425 590h0M1466 578h0M1511 548h0M1453 528h0M1436 531h0M1484 585h0M1464 582h0M1445 518h0M1501 553h0M1459 628h0M1450 581h0M1451 557h0M1437 594h0M1431 578h0M1486 498h0M1466 574h0M1441 590h0M1460 597h0M1442 576h0M1457 573h0M1489 611h0M1449 586h0M1473 520h0M1491 509h0M1497 613h0M1456 544h0M1433 535h0M1422 622h0M1440 589h0M1439 571h0M1411 643h0M1437 534h0M1419 572h0M1438 553h0M1437 626h0M1440 545h0M1441 569h0M1438 569h0M1440 624h0M1429 624h0M1431 512h0M1413 638h0M1411 597h0M1417 624h0M1447 573h0M1424 612h0M1420 595h0M1430 633h0M1441 567h0M1451 568h0M1431 629h0M1451 617h0M1436 533h0M1454 586h0M1447 569h0M1427 642h0M1431 584h0M1442 567h0M1427 507h0M1407 600h0M1416 615h0M1461 541h0M1448 516h0M1434 620h0M1429 655h0M1449 536h0M1438 559h0M1445 539h0M1452 563h0M1444 543h0M1435 541h0M1449 550h0M1431 517h0M1422 595h0M1449 530h0M1456 551h0M1431 535h0M1459 584h0M1431 555h0M1438 557h0M1438 547h0M1447 524h0M1437 558h0M1471 548h0M1448 510h0M1443 582h0M1440 533h0M1450 527h0M1427 617h0M1428 641h0M1422 558h0M1434 514h0M1431 536h0M1435 586h0M1466 599h0M1408 633h0M1458 516h0M1456 536h0M1421 645h0M1425 603h0M1451 536h0M1458 502h0M1419 616h0M1440 523h0M1443 600h0M1441 636h0M1423 572h0M1437 648h0M1431 614h0M1428 518h0M1431 598h0M1449 514h0M1428 587h0M1417 565h0M1440 576h0M1425 528h0M1441 566h0M1424 635h0M1445 584h0M1440 539h0M1429 519h0M1443 536h0M1447 551h0M1430 618h0M1438 538h0M1445 510h0M1465 569h0M1429 568h0M1442 616h0M1465 546h0M1428 583h0M1438 561h0M1422 591h0M1448 561h0M1438 557h0M1461 567h0M1443 572h0M1453 569h0M1441 613h0M1435 528h0M1434 538h0M1418 587h0M1441 519h0M1438 586h0M1403 584h0M1530 533h0M1531 536h0M1522 571h0M1510 517h0M1537 575h0M1516 568h0M1546 571h0M1534 537h0M1518 518h0M1522 522h0M1516 595h0M1530 565h0M1513 540h0M1527 549h0M1525 603h0M1526 580h0M1640 624h0M1571 605h0M1634 608h0M1664 550h0M1645 624h0M1535 583h0M1659 614h0M1609 619h0M1665 564h0M1657 634h0M1669 630h0M1620 545h0M1599 536h0M1605 620h0M1558 613h0M1549 580h0M1562 577h0M1567 561h0M1666 591h0M1541 616h0M1632 552h0M1606 596h0M1650 649h0M1628 526h0M1698 618h0M1593 579h0M1564 604h0M1584 600h0M1546 581h0M1610 536h0M1682 571h0M1684 627h0M1561 584h0M1629 575h0M1633 645h0M1631 561h0M1555 614h0M1623 537h0M1617 555h0M1622 590h0M1616 551h0M1567 586h0M1637 530h0M1571 595h0M1577 553h0M1702 611h0M1669 603h0M1571 588h0M1531 588h0M1626 617h0M1602 525h0M1564 626h0M1623 598h0M1592 569h0M1624 581h0M1667 562h0M1582 605h0M1667 560h0M1695 584h0M1621 533h0M1675 558h0M1676 558h0M1542 574h0M1577 594h0M1586 557h0M1571 611h0M1667 601h0M1572 563h0M1626 576h0M1650 535h0M1661 553h0M1554 568h0M1624 546h0M1642 545h0M1616 540h0M1677 576h0M1631 537h0M1545 598h0M1615 574h0M1629 585h0M1609 571h0M1665 574h0M1676 573h0M1657 625h0M1605 589h0M1645 568h0M1604 539h0M1632 583h0M1603 529h0M1637 645h0M1576 601h0M1673 638h0M1648 650h0M1576 619h0M1554 613h0M1547 544h0M1673 634h0M1621 599h0M1564 576h0M1650 573h0M1645 641h0M1605 589h0M1597 565h0M1631 615h0M1687 582h0M1654 644h0M1559 621h0M1706 609h0M1660 630h0M1600 557h0M1691 589h0M1624 553h0M1646 563h0M1539 585h0M1641 628h0M1574 628h0M1641 623h0M1652 608h0M1604 528h0M1565 539h0M1593 572h0M1682 575h0M1606 572h0M1691 613h0M1535 597h0M1695 581h0M1589 613h0M1667 617h0M1543 586h0M1619 602h0M1642 575h0M1635 561h0M1669 576h0M1538 562h0M1560 615h0M1589 610h0M1624 572h0M1571 545h0M1661 584h0M1680 567h0M1622 582h0M1683 624h0M1654 582h0M1621 537h0M1604 578h0M1680 617h0M1659 578h0M1566 605h0M1543 594h0M1570 616h0M1615 554h0M1602 570h0M1572 565h0M1662 591h0M1674 571h0M1609 542h0M1635 609h0M1552 635h0M1571 595h0M1573 576h0M1595 542h0M1595 571h0M1624 553h0M1575 613h0M1563 615h0M1585 623h0M1640 535h0M1623 615h0M1624 534h0M1677 566h0M1626 571h0M1654 609h0M1660 571h0M1618 592h0M1632 622h0M1621 589h0M1645 576h0M1653 634h0M1561 552h0M1655 562h0M1568 576h0M1546 566h0M1648 547h0M1636 612h0M1564 536h0M1694 590h0M1643 596h0M1549 620h0M1593 610h0M1671 579h0M1628 629h0M1578 555h0M1544 613h0M1582 598h0M1550 624h0M1653 633h0M1620 549h0M1570 579h0M1603 592h0M1653 596h0M1648 632h0M1566 579h0M1536 562h0M1551 566h0M1544 568h0M1638 547h0M1663 583h0M1580 624h0M1642 608h0M1671 594h0M1576 540h0M1666 569h0M1653 603h0M1666 628h0M1659 642h0M1558 615h0M1547 602h0M1624 627h0M1562 611h0M1647 568h0M1608 629h0M1676 608h0M1586 623h0M1639 590h0M1546 605h0M1590 598h0M1569 624h0M1620 644h0M1572 576h0M1618 621h0M1679 632h0M1559 626h0M1639 643h0M1575 596h0M1618 589h0M1577 531h0M1606 537h0M1611 535h0M1557 578h0M1668 553h0M1632 612h0M1633 564h0M1616 566h0M1556 539h0M1662 564h0M1661 558h0M1682 594h0M1636 579h0M1641 637h0M1654 535h0M1559 582h0M1597 543h0M1675 629h0M1654 554h0M1585 599h0M1689 598h0M1543 572h0M1670 549h0M1574 561h0M1572 558h0M1557 576h0M1683 604h0M1554 615h0M1610 544h0M1643 589h0M1658 651h0M1655 550h0M1619 549h0M1569 611h0M1591 538h0M1645 533h0M1683 604h0M1703 601h0M1596 562h0M1683 566h0M1646 604h0M1599 575h0M1577 613h0M1578 555h0M1646 590h0M1676 605h0M1531 607h0M1608 541h0M1611 601h0M1642 549h0M1533 606h0M1589 568h0M1541 565h0M1535 560h0M1679 569h0M1634 539h0M1609 624h0M1623 600h0M1635 615h0M1579 567h0M1693 585h0M1633 631h0M1680 624h0M1568 612h0M1673 559h0M1617 604h0M1544 549h0M1670 618h0M1670 598h0M1668 594h0M1576 609h0M1622 619h0M1658 640h0M1619 564h0M1619 588h0M1539 586h0M1664 594h0M1656 637h0M1551 612h0M1623 554h0M1672 553h0M1573 592h0M1590 549h0M1665 563h0M1687 576h0M1648 536h0M1537 609h0M1603 563h0M1608 540h0M1671 630h0M1673 618h0M1675 613h0M1490 937h0M1211 957h0M1238 972h0M1609 893h0M1282 1023h0M1545 847h0M1387 748h0M1459 828h0M1578 998h0M1490 882h0M1323 1010h0M1479 810h0M1406 1036h0M1345 901h0M1589 836h0M1570 945h0M1574 807h0M1536 636h0M1218 1028h0M1318 932h0M1275 868h0M1214 868h0M1459 727h0M1305 1060h0M1194 871h0M1526 773h0M1569 785h0M1440 770h0M1342 974h0M1468 821h0M1387 955h0M1592 786h0M1370 776h0M1337 900h0M1345 721h0M1315 999h0M1589 685h0M1598 1041h0M1392 909h0M1285 992h0M1422 947h0M1577 1009h0M1505 796h0M1301 982h0M1401 964h0M1489 1015h0M1582 982h0M1419 854h0M1310 1016h0M1414 756h0M1351 941h0M1444 753h0M1267 1025h0M1327 984h0M1569 1045h0M1448 959h0M1545 967h0M1227 1020h0M1589 826h0M1209 982h0M1609 976h0M1267 1031h0M1360 970h0M1255 1021h0M1336 890h0M1527 729h0M1305 830h0M1294 957h0M1592 779h0M1402 970h0M1454 621h0M1474 759h0M1390 872h0M1408 1023h0M1588 927h0M1480 646h0M1433 873h0M1578 651h0M1412 767h0M1583 768h0M1565 935h0M1521 933h0M1476 908h0M1240 977h0M1511 664h0M1398 962h0M1547 758h0M1649 810h0M1271 986h0M1400 780h0M1221 978h0M1222 965h0M1281 1030h0M1553 937h0M1478 729h0M1379 862h0M1349 964h0M1398 843h0M1598 921h0M1639 758h0M1505 1068h0M1473 932h0M1499 700h0M1674 634h0M1511 1088h0M1589 681h0M1402 971h0M1427 839h0M1532 636h0M1590 639h0M1349 787h0M1361 773h0M1318 1042h0M1213 856h0M1451 928h0M1368 964h0M1676 669h0M1650 843h0M1364 996h0M1521 610h0M1394 886h0M1376 742h0M1614 761h0M1460 851h0M1589 992h0M1441 649h0M1460 1029h0M1530 712h0M1379 855h0M1555 931h0M1565 794h0M1185 895h0M1506 687h0M1407 903h0M1518 1070h0M1464 662h0M1606 600h0M1538 724h0M1252 993h0M1335 1010h0M1493 1052h0M1542 989h0M1615 697h0M1508 777h0M1468 1030h0M1612 903h0M1412 1043h0M1587 805h0M1434 881h0M1337 978h0M1495 622h0M1347 767h0M1567 834h0M1201 996h0M1460 632h0M1325 792h0M1653 761h0M1400 859h0M1577 932h0M1248 1018h0M1576 824h0M1397 925h0M1577 687h0M1346 1036h0M1494 860h0M1588 791h0M1274 1016h0M1369 1018h0M1382 818h0M1517 702h0M1511 949h0M1481 718h0M1461 907h0M1430 927h0M1388 961h0M1262 858h0M1305 869h0M1361 872h0M1532 1061h0M1641 629h0M1299 983h0M1452 943h0M1499 1011h0M1268 1023h0M1254 947h0M1573 877h0M1496 1092h0M1250 880h0M1394 844h0M1324 784h0M1605 1035h0M1490 798h0M1494 659h0M1281 966h0M1490 909h0M1559 693h0M1265 910h0M1532 1081h0M1572 962h0M1322 882h0M1319 1012h0M1570 845h0M1311 858h0M1203 961h0M1325 1013h0M1474 753h0M1649 775h0M1188 878h0M1500 740h0M1480 692h0M1607 834h0M1286 994h0M1489 860h0M1423 879h0M1495 830h0M1565 1030h0M1495 953h0M1370 941h0M1304 1034h0M1529 1045h0M1256 834h0M1413 918h0M1511 858h0M1390 954h0M1642 628h0M1600 913h0M1537 1040h0M1471 864h0M1331 884h0M1298 871h0M1472 1001h0M1601 988h0M1351 798h0M1294 983h0M1451 933h0M1317 816h0M1471 909h0M1386 874h0M1360 886h0M1520 811h0M1590 1015h0M1508 741h0M1372 1018h0M1377 875h0M1552 1124h0M1411 945h0M1282 920h0M1493 990h0M1551 898h0M1317 831h0M1658 820h0M1317 939h0M1216 879h0M1320 1035h0M1565 1013h0M1494 919h0M1274 1010h0M1623 845h0M1371 805h0M1402 802h0M1581 894h0M1214 1007h0M1643 684h0M1521 866h0M1456 817h0M1518 706h0M1435 666h0M1555 1064h0M1498 940h0M1526 752h0M1478 834h0M1474 806h0M1193 886h0M1590 898h0M1524 1059h0M1525 916h0M1277 933h0M1442 745h0M1623 647h0M1355 904h0M1520 851h0M1542 693h0M1590 1003h0M1303 982h0M1416 637h0M1329 793h0M1325 1020h0M1296 953h0M1230 976h0M1426 629h0M1342 1018h0M1430 867h0M1566 991h0M1585 925h0M1562 757h0M1309 1009h0M1443 752h0M1579 1071h0M1443 863h0M1670 796h0M1628 784h0M1328 916h0M1289 874h0M1528 1019h0M1581 796h0M1386 697h0M1624 764h0M1421 645h0M1229 935h0M1410 963h0M1665 781h0M1443 676h0M1360 785h0M1273 865h0M1247 978h0M1235 1042h0M1386 947h0M1507 713h0M1293 968h0M1331 807h0M1450 631h0M1426 870h0M1510 854h0M1458 868h0M1576 855h0M1203 981h0M1530 937h0M1623 689h0M1563 886h0M1614 910h0M1553 812h0M1522 1065h0M1427 765h0M1608 945h0M1591 799h0M1555 700h0M1588 664h0M1480 652h0M1480 703h0M1527 1020h0M1441 843h0M1378 913h0M1448 663h0M1669 782h0M1677 683h0M1328 883h0M1614 759h0M1645 836h0M1341 776h0M1423 899h0M1320 816h0M1515 1051h0M1429 881h0M1318 1036h0M1478 894h0M1535 920h0M1335 835h0M1424 753h0M1505 957h0M1581 1053h0M1284 947h0M1510 933h0M1465 666h0M1620 706h0M1395 852h0M1351 861h0M1614 764h0M1409 686h0M1357 998h0M1437 859h0M1361 896h0M1557 1089h0M1670 798h0M1631 746h0M1199 886h0M1492 1053h0M1283 966h0M1466 696h0M1382 1030h0M1610 1009h0M1597 939h0M1370 964h0M1574 738h0M1270 844h0M1590 663h0M1501 659h0M1619 753h0M1539 1053h0M1594 1012h0M1559 875h0M1455 922h0M1551 1084h0M1611 815h0M1429 873h0M1445 1000h0M1319 834h0M1325 1008h0M1500 603h0M1475 750h0M1525 670h0M1312 834h0M1304 915h0M1534 1021h0M1569 961h0M1408 916h0M1359 916h0M1588 985h0M1516 966h0M1632 782h0M1494 1043h0M1328 1027h0M1622 747h0M1544 1033h0M1505 1034h0M1529 852h0M1552 815h0M1398 949h0M1327 948h0M1609 783h0M1398 769h0M1344 892h0M1283 968h0M1530 649h0M1290 1021h0M1376 900h0M1671 732h0M1504 1002h0M1238 1030h0M1462 666h0M1388 900h0M1566 966h0M1446 617h0M1411 761h0M1504 717h0M1456 644h0M1561 965h0M1638 768h0M1511 909h0M1508 798h0M1582 603h0M1471 1048h0M1219 977h0M1353 808h0M1444 772h0M1581 1063h0M1632 805h0M1568 917h0M1489 722h0M1462 964h0M1446 1045h0M1526 635h0M1492 855h0M1498 707h0M1454 949h0M1355 991h0M1442 619h0M1508 990h0M1253 901h0M1480 898h0M1559 896h0M1313 989h0M1460 1010h0M1636 853h0M1565 783h0M1594 856h0M1534 983h0M1627 713h0M1501 727h0M1300 916h0M1321 967h0M1495 766h0M1548 874h0M1604 989h0M1549 667h0M1458 881h0M1455 817h0M1323 794h0M1587 794h0M1524 728h0M1494 748h0M1343 898h0M1528 616h0M1453 905h0M1376 982h0M1578 1038h0M1440 897h0M1510 1053h0M1544 837h0M1358 969h0M1616 932h0M1573 790h0M1536 654h0M1436 975h0M1428 656h0M1536 821h0M1352 912h0M1516 698h0M1474 883h0M1443 828h0M1503 776h0M1509 750h0M1600 904h0M1507 617h0M1404 883h0M1381 918h0M1440 908h0M1524 703h0M1262 865h0M1261 920h0M1410 807h0M1543 1069h0M1481 1041h0M1434 759h0M1355 1008h0M1192 908h0M1429 960h0M1379 914h0M1557 696h0M1499 1033h0M1411 749h0M1592 743h0M1650 665h0M1502 753h0M1574 931h0M1306 978h0M1558 609h0M1304 841h0M1497 1074h0M1554 828h0M1191 910h0M1611 811h0M1506 836h0M1386 771h0M1633 759h0M1597 608h0M1238 968h0M1408 827h0M1342 907h0M1462 646h0M1355 872h0M1413 937h0M1528 626h0M1208 966h0M1517 886h0M1515 985h0M1338 902h0M1336 806h0M1247 923h0M1622 972h0M1240 859h0M1563 1076h0M1610 637h0M1534 1083h0M1321 1010h0M1538 790h0M1618 916h0M1563 798h0M1529 980h0M1378 958h0M1584 912h0M1492 897h0M1321 863h0M1593 833h0M1391 785h0M1440 829h0M1401 978h0M1623 981h0M1325 836h0M1372 798h0M1192 891h0M1334 1007h0M1243 850h0M1433 1038h0M1521 700h0M1520 641h0M1381 948h0M1473 1080h0M1452 647h0M1584 759h0M1401 941h0M1618 803h0M1640 731h0M1589 761h0M1504 787h0M1548 806h0M1385 963h0M1497 1109h0M1505 621h0M1280 1055h0M1411 774h0M1561 749h0M1335 788h0M1550 877h0M1443 698h0M1502 991h0M1415 1001h0M1313 871h0M1540 782h0M1406 814h0M1504 616h0M1300 1036h0M1512 1092h0M1349 981h0M1410 919h0M1555 859h0M1473 1016h0M1438 768h0M1353 794h0M1349 910h0M1477 767h0M1212 955h0M1273 869h0M1581 645h0M1385 875h0M1582 757h0M1491 798h0M1592 822h0M1436 620h0M1204 937h0M1610 1052h0M1186 915h0M1441 619h0M1342 938h0M1478 688h0M1568 1054h0M1491 1099h0M1664 710h0M1315 912h0M1497 950h0M1472 732h0M1420 688h0M1476 1012h0M1241 989h0M1477 854h0M1318 1026h0M1557 758h0M1599 977h0M1458 1040h0M1573 870h0M1513 763h0M1403 994h0M1380 727h0M1228 925h0M1533 1064h0M1280 886h0M1577 936h0M1249 881h0M1646 605h0M1477 782h0M1536 698h0M1425 983h0M1485 722h0M1487 668h0M1661 689h0M1599 910h0M1483 969h0M1461 642h0M1669 766h0M1500 986h0M1568 799h0M1222 938h0M1269 961h0M1487 902h0M1510 1047h0M1568 939h0M1258 837h0M1494 742h0M1563 1002h0M1233 994h0M1377 1018h0M1420 884h0M1256 900h0M1470 1055h0M1536 1069h0M1354 917h0M1352 907h0M1313 837h0M1557 823h0M1645 697h0M1492 620h0M1201 987h0M1530 838h0M1603 634h0M1524 624h0M1483 1087h0M1578 940h0M1557 794h0M1633 683h0M1580 610h0M1613 840h0M1346 895h0M1413 939h0M1606 972h0M1530 937h0M1486 840h0M1507 1069h0M1329 945h0M1565 684h0M1472 697h0M1609 972h0M1628 711h0M1422 905h0M1423 656h0M1213 967h0M1473 741h0M1608 805h0M1628 703h0M1544 870h0M1590 684h0M1472 936h0M1314 941h0M1618 682h0M1549 900h0M1438 837h0M1494 732h0M1432 646h0M1415 1008h0M1610 906h0M1253 888h0M1225 966h0M1518 1070h0M1577 738h0M1398 924h0M1449 830h0M1263 1027h0M1530 688h0M1566 820h0M1387 859h0M1538 948h0M1516 1024h0M1562 751h0M1219 917h0M1220 957h0M1408 657h0M1548 795h0M1660 752h0M1223 1005h0M1405 673h0M1228 928h0M1503 1097h0M1584 948h0M1325 993h0M1542 784h0M1481 635h0M1220 978h0M1496 844h0M1300 806h0M1592 781h0M1260 988h0M1576 1007h0M1250 1015h0M1288 872h0M1210 964h0M1509 628h0M1439 850h0M1353 734h0M1226 904h0M1381 874h0M1416 812h0M1500 645h0M1574 730h0M1614 715h0M1507 1095h0M1371 898h0M1400 720h0M1493 628h0M1413 910h0M1212 963h0M1499 698h0M1562 997h0M1560 837h0M1333 936h0M1497 749h0M1408 920h0M1564 752h0M1221 856h0M1524 1076h0M1314 877h0M1370 906h0M1648 635h0M1511 813h0M1564 733h0M1327 806h0M1534 1063h0M1239 958h0M1363 804h0M1548 663h0M1569 1092h0M1561 825h0M1435 699h0M1345 940h0M1446 960h0M1648 831h0M1490 695h0M1667 704h0M1403 1037h0M1278 917h0M1530 622h0M1276 1011h0M1420 832h0M1466 763h0M1226 999h0M1231 966h0M1564 915h0M1567 1062h0M1504 1091h0M1537 993h0M1224 885h0M1496 728h0M1642 856h0M1562 684h0M1649 785h0M1198 983h0M1652 803h0M1285 840h0M1664 776h0M1376 989h0M1424 689h0M1515 794h0M1257 1030h0M1339 1040h0M1600 993h0M1533 1032h0M1530 840h0M1272 887h0M1533 632h0M1321 818h0M1593 929h0M1497 714h0M1453 829h0M1256 1039h0M1566 910h0M1409 1041h0M1551 920h0M1593 683h0M1596 831h0M1573 1038h0M1257 920h0M1435 650h0M1401 944h0M1514 1013h0M1507 732h0M1514 1030h0M1311 801h0M1540 1057h0M1305 1011h0M1366 774h0M1665 621h0M1269 968h0M1543 904h0M1550 1080h0M1405 813h0M1420 1024h0M1413 625h0M1255 1031h0M1608 655h0M1638 765h0M1471 779h0M1218 983h0M1334 1039h0M1495 740h0M1551 1101h0M1337 791h0M1241 875h0M1564 830h0M1552 740h0M1417 915h0M1469 897h0M1515 891h0M1329 837h0M1509 670h0M1654 716h0M1441 859h0M1348 950h0M1435 643h0M1576 865h0M1263 1018h0M1464 797h0M1566 745h0M1406 793h0M1323 805h0M1612 922h0M1472 888h0M1432 702h0M1445 911h0M1346 843h0M1574 982h0M1229 980h0M1581 703h0M1560 1081h0M1519 614h0M1483 762h0M1568 673h0M1328 907h0M1246 1014h0M1592 839h0M1514 645h0M1505 651h0M1606 639h0M1491 652h0M1606 789h0M1234 1010h0M1476 857h0M1366 781h0M1557 809h0M1657 802h0M1414 811h0M1294 1005h0M1446 683h0M1393 871h0M1399 903h0M1511 817h0M1646 636h0M1585 906h0M1429 715h0M1648 650h0M1567 961h0M1373 968h0M1540 776h0M1350 995h0M1241 941h0M1383 907h0M1551 1028h0M1590 1079h0M1649 823h0M1505 1009h0M1571 979h0M1395 873h0M1584 984h0M1541 1066h0M1589 894h0M1590 626h0M1534 1046h0M1456 860h0M1526 993h0M1327 874h0M1579 835h0M1593 888h0M1488 666h0M1415 715h0M1545 800h0M1656 694h0M1443 896h0M1658 692h0M1650 806h0M1491 637h0M1469 877h0M1633 685h0M1305 969h0M1200 882h0M1327 901h0M1375 995h0M1614 854h0M1519 794h0M1501 777h0M1275 883h0M1476 847h0M1486 652h0M1550 623h0M1510 655h0M1292 982h0M1412 664h0M1467 850h0M1290 890h0M1379 946h0M1584 962h0M1583 857h0M1627 759h0M1385 1008h0M1657 649h0M1347 727h0M1340 1009h0M1414 852h0M1454 934h0M1383 968h0M1198 940h0M1570 1054h0M1478 1070h0M1219 1020h0M1646 758h0M1604 752h0M1259 939h0M1379 871h0M1395 870h0M1374 973h0M1294 994h0M1465 721h0M1596 652h0M1422 774h0M1414 777h0M1408 832h0M1561 776h0M1589 812h0M1609 650h0M1335 795h0M1550 1071h0M1572 632h0M1383 922h0M1351 1002h0M1585 966h0M1565 865h0M1401 1036h0M1590 616h0M1270 1065h0M1623 644h0M1431 985h0M1394 922h0M1514 867h0M1606 708h0M1203 890h0M1643 692h0M1373 1016h0M1583 672h0M1197 943h0M1440 814h0M1180 893h0M1496 737h0M1335 802h0M1450 632h0M1555 652h0M1618 1034h0M1543 886h0M1615 977h0M1566 1039h0M1242 955h0M1276 832h0M1354 1019h0M1470 741h0M1282 873h0M1531 726h0M1350 950h0M1339 908h0M1470 1075h0M1507 830h0M1559 791h0M1434 667h0M1660 654h0M1383 969h0M1513 628h0M1334 871h0M1615 920h0M1359 757h0M1552 1065h0M1615 649h0M1299 898h0M1345 812h0M1572 871h0M1572 779h0M1414 1034h0M1248 896h0M1331 794h0M1458 732h0M1596 1041h0M1563 848h0M1538 934h0M1454 939h0M1570 1076h0M1292 1001h0M1560 787h0M1609 725h0M1481 1009h0M1646 685h0M1555 1114h0M1248 838h0M1592 647h0M1312 825h0M1557 827h0M1604 759h0M1527 1012h0M1517 1031h0M1423 766h0M1442 741h0M1428 672h0M1292 929h0M1610 935h0M1452 918h0M1479 794h0M1429 919h0M1347 825h0M1429 641h0M1465 727h0M1522 822h0M1477 802h0M1333 1019h0M1190 877h0M1237 986h0M1642 762h0M1612 787h0M1415 962h0M1392 888h0M1417 847h0M1569 1019h0M1458 781h0M1556 829h0M1570 750h0M1259 921h0M1350 951h0M1604 663h0M1565 750h0M1489 655h0M1348 802h0M1525 859h0M1615 898h0M1342 798h0M1349 993h0M1325 1002h0M1564 1052h0M1466 864h0M1577 1007h0M1597 1051h0M1567 794h0M1354 906h0M1548 770h0M1487 768h0M1353 1028h0M1491 737h0M1293 835h0M1255 929h0M1464 659h0M1638 722h0M1466 810h0M1225 974h0M1507 674h0M1411 710h0M1394 851h0M1431 757h0M1288 857h0M1356 805h0M1443 661h0M1254 943h0M1396 766h0M1556 943h0M1352 879h0M1414 766h0M1465 990h0M1554 810h0M1586 934h0M1586 630h0M1571 1068h0M1551 734h0M1441 673h0M1200 899h0M1254 979h0M1662 618h0M1665 627h0M1636 697h0M1518 659h0M1287 882h0M1574 802h0M1558 840h0M1505 814h0M1475 1009h0M1507 794h0M1633 718h0M1657 650h0M1571 610h0M1574 1035h0M1325 1034h0M1259 871h0M1479 955h0M1498 803h0M1601 991h0M1482 683h0M1385 1027h0M1519 1126h0M1631 842h0M1435 706h0M1305 887h0M1390 782h0M1300 1042h0M1194 899h0M1532 958h0M1555 1071h0M1637 815h0M1353 1018h0M1456 871h0M1633 617h0M1269 847h0M1439 878h0M1456 1032h0M1540 606h0M1506 841h0M1385 684h0M1259 831h0M1662 653h0M1538 770h0M1206 983h0M1593 616h0M1505 638h0M1508 1054h0M1614 677h0M1565 698h0M1213 951h0M1311 836h0M1509 813h0M1573 983h0M1519 943h0M1514 1017h0M1247 984h0M1476 636h0M1456 856h0M1316 943h0M1280 893h0M1406 816h0M1671 781h0M1508 840h0M1427 904h0M1442 644h0M1351 949h0M1365 957h0M1563 835h0M1331 989h0M1610 979h0M1294 1007h0M1536 989h0M1670 816h0M1425 846h0M1349 1024h0M1257 865h0M1541 643h0M1555 639h0M1479 965h0M1633 894h0M1602 822h0M1436 957h0M1565 1078h0M1465 905h0M1535 645h0M1439 788h0M1363 845h0M1340 795h0M1342 994h0M1435 804h0M1435 916h0M1356 932h0M1304 873h0M1547 814h0M1621 704h0M1471 784h0M1663 750h0M1549 1041h0M1469 989h0M1208 962h0M1442 689h0M1459 723h0M1590 921h0M1232 965h0M1538 846h0M1456 825h0M1473 663h0M1422 652h0M1398 987h0M1529 658h0M1415 789h0M1519 1069h0M1358 923h0M1186 919h0M1606 832h0M1594 759h0M1454 730h0M1502 612h0M1559 899h0M1367 1021h0M1224 1000h0M1413 865h0M1516 681h0M1622 763h0M1583 617h0M1239 996h0M1517 1077h0M1539 624h0M1387 868h0M1624 975h0M1357 897h0M1497 813h0M1197 927h0M1590 905h0M1388 908h0M1319 991h0M1272 960h0M1503 1047h0M1460 846h0M1565 784h0M1292 822h0M1439 946h0M1516 953h0M1306 962h0M1539 732h0M1400 671h0M1442 994h0M1336 875h0M1667 695h0M1213 963h0M1572 858h0M1511 672h0M1511 1006h0M1305 867h0M1582 786h0M1541 772h0M1204 913h0M1484 709h0M1604 625h0M1573 787h0M1606 707h0M1580 1084h0M1406 811h0M1305 861h0M1420 781h0M1457 693h0M1407 653h0M1247 1014h0M1465 631h0M1500 712h0M1561 666h0M1540 710h0M1528 1046h0M1625 782h0M1507 742h0M1515 911h0M1366 971h0M1604 954h0M1564 704h0M1621 885h0M1378 1001h0M1462 947h0M1533 860h0M1547 932h0M1285 826h0M1384 844h0M1524 915h0M1351 844h0M1444 1014h0M1485 857h0M1596 843h0M1542 788h0M1206 954h0M1340 804h0M1623 666h0M1426 1034h0M1612 722h0M1529 1063h0M1265 1059h0M1486 610h0M1357 960h0M1423 1038h0M1508 638h0M1499 946h0M1597 773h0M1616 882h0M1247 906h0M1432 800h0M1387 674h0M1562 917h0M1341 805h0M1603 1003h0M1344 882h0M1619 871h0M1438 988h0M1444 910h0M1521 603h0M1448 820h0M1502 795h0M1613 776h0M1344 771h0M1520 766h0M1232 915h0M1586 760h0M1582 645h0M1522 1016h0M1518 1042h0M1594 603h0M1473 1030h0M1571 843h0M1380 853h0M1285 953h0M1317 1005h0M1610 1002h0M1606 726h0M1258 906h0M1486 722h0M1350 793h0M1250 891h0M1343 885h0M1489 964h0M1522 671h0M1298 995h0M1470 702h0M1294 917h0M1354 897h0M1589 803h0M1555 785h0M1433 868h0M1229 956h0M1388 965h0M1613 658h0M1488 926h0M1456 713h0M1387 929h0M1502 603h0M1608 981h0M1594 639h0M1501 644h0M1214 1019h0M1520 953h0M1390 665h0M1390 904h0M1573 938h0M1540 1010h0M1594 633h0M1545 786h0M1521 1066h0M1427 709h0M1369 997h0M1497 631h0M1456 884h0M1366 958h0M1314 1032h0M1203 941h0M1343 1018h0M1559 957h0M1605 614h0M1443 829h0M1351 764h0M1394 908h0M1379 954h0M1564 753h0M1420 777h0M1545 751h0M1378 912h0M1478 837h0M1305 852h0M1338 1022h0M1584 910h0M1574 1049h0M1498 601h0M1207 880h0M1523 1122h0M1567 663h0M1227 899h0M1434 881h0M1660 730h0M1579 734h0M1582 857h0M1662 788h0M1487 854h0M1489 977h0M1239 865h0M1377 981h0M1543 928h0M1462 1037h0M1414 1013h0M1336 943h0M1382 973h0M1622 752h0M1653 820h0M1399 902h0M1596 923h0M1429 889h0M1320 898h0M1507 888h0M1462 676h0M1540 1046h0M1178 912h0M1242 887h0M1508 1010h0M1448 943h0M1304 917h0M1509 1069h0M1472 713h0M1425 1010h0M1487 898h0M1287 879h0M1519 623h0M1488 685h0M1560 773h0M1403 898h0M1442 665h0M1274 994h0M1385 963h0M1609 1030h0M1451 895h0M1515 1012h0M1298 881h0M1591 669h0M1412 925h0M1565 1068h0M1583 897h0M1483 716h0M1504 707h0M1333 931h0M1325 790h0M1581 675h0M1576 941h0M1556 826h0M1338 947h0M1543 901h0M1561 662h0M1529 1047h0M1642 697h0M1192 909h0M1398 926h0M1546 837h0M1329 909h0M1560 962h0M1217 957h0M1402 753h0M1322 1005h0M1260 828h0M1529 1055h0M1422 803h0M1598 1060h0M1587 798h0M1416 796h0M1342 763h0M1264 847h0M1374 889h0M1502 729h0M1589 973h0M1584 826h0M1526 722h0M1614 910h0M1500 1078h0M1521 712h0M1524 885h0M1278 877h0M1396 876h0M1515 623h0M1320 962h0M1536 639h0M1307 909h0M1607 1028h0M1422 924h0M1314 895h0M1477 680h0M1606 914h0M1478 726h0M1401 959h0M1236 853h0M1385 743h0M1284 970h0M1485 883h0M1371 892h0M1400 880h0M1568 787h0M1385 964h0M1335 1002h0M1406 902h0M1239 906h0M1435 955h0M1516 1063h0M1565 921h0M1428 875h0M1339 983h0M1583 826h0M1376 757h0M1602 629h0M1506 1093h0M1449 980h0M1608 1006h0M1500 1049h0M1646 760h0M1451 813h0M1381 886h0M1529 1057h0M1222 889h0M1205 883h0M1362 849h0M1297 841h0M1281 1036h0M1671 747h0M1348 933h0M1361 1008h0M1548 710h0M1193 896h0M1484 902h0M1466 924h0M1418 754h0M1360 1046h0M1502 751h0M1437 895h0M1457 754h0M1572 950h0M1491 856h0M1378 707h0M1556 852h0M1294 831h0M1274 960h0M1648 779h0M1578 1078h0M1582 747h0M1201 1007h0M1433 905h0M1348 787h0M1350 965h0M1393 831h0M1576 1007h0M1592 615h0M1438 685h0M1574 622h0M1463 621h0M1574 765h0M1444 664h0M1320 999h0M1492 638h0M1536 1074h0M1578 812h0M1245 1017h0M1422 638h0M1528 961h0M1508 785h0M1496 718h0M1616 744h0M1401 1022h0M1544 1091h0M1291 1041h0M1391 934h0M1403 645h0M1594 834h0M1518 1062h0M1606 895h0M1585 975h0M1369 918h0M1423 899h0M1523 1043h0M1610 751h0M1389 873h0M1535 863h0M1330 946h0M1434 997h0M1565 693h0M1382 962h0M1569 911h0M1600 919h0M1588 711h0M1537 859h0M1415 759h0M1501 826h0M1427 789h0M1500 735h0M1614 784h0M1650 677h0M1586 845h0M1260 1004h0M1635 878h0M1259 1051h0M1429 751h0M1456 891h0M1507 671h0M1418 897h0M1413 717h0M1633 822h0M1453 949h0M1412 907h0M1570 911h0M1367 903h0M1433 794h0M1497 1080h0M1490 799h0M1578 976h0M1393 972h0M1502 706h0M1345 785h0M1516 905h0M1398 979h0M1524 1110h0M1622 794h0M1446 689h0M1504 751h0M1257 1001h0M1391 855h0M1579 678h0M1572 995h0M1536 816h0M1257 912h0M1480 746h0M1318 1018h0M1462 1015h0M1405 637h0M1535 861h0M1440 632h0M1198 998h0M1388 839h0M1560 994h0M1199 968h0M1212 977h0M1227 924h0M1366 1010h0M1345 796h0M1592 734h0M1533 1072h0M1532 1045h0M1625 805h0M1399 1028h0M1395 851h0M1396 1009h0M1419 872h0M1643 796h0M1667 690h0M1470 947h0M1561 671h0M1625 831h0M1427 1030h0M1595 1068h0M1341 967h0M1365 896h0M1353 954h0M1355 996h0M1421 661h0M1494 944h0M1483 782h0M1447 637h0M1259 1026h0M1532 937h0M1283 1026h0M1431 725h0M1438 716h0M1561 652h0M1461 716h0M1521 1061h0M1451 643h0M1348 985h0M1334 805h0M1643 624h0M1379 918h0M1448 658h0M1636 863h0M1616 654h0M1615 733h0M1389 794h0M1423 910h0M1561 799h0M1513 689h0M1536 891h0M1610 1000h0M1214 964h0M1527 821h0M1335 1032h0M1344 1006h0M1424 933h0M1561 856h0M1421 704h0M1276 833h0M1556 1020h0M1387 848h0M1458 1021h0M1525 633h0M1426 649h0M1420 801h0M1569 1088h0M1256 914h0M1244 988h0M1476 861h0M1520 907h0M1583 1065h0M1523 947h0M1599 908h0M1446 781h0M1596 713h0M1502 915h0M1347 951h0M1645 655h0M1409 943h0M1552 666h0M1389 969h0M1541 1075h0M1475 696h0M1605 869h0M1566 755h0M1608 820h0M1261 1001h0M1202 892h0M1492 602h0M1574 1048h0M1504 834h0M1438 893h0M1476 721h0M1601 654h0M1407 705h0M1442 940h0M1334 954h0M1558 663h0M1573 804h0M1535 940h0M1507 671h0M1503 726h0M1652 717h0M1332 894h0M1399 884h0M1665 794h0M1431 781h0M1502 772h0M1439 914h0M1547 756h0M1390 919h0M1452 939h0M1519 1110h0M1499 696h0M1395 842h0M1354 763h0M1276 1009h0M1596 835h0M1606 840h0M1498 1049h0M1558 1100h0M1484 896h0M1591 850h0M1585 928h0M1501 1095h0M1335 952h0M1480 798h0M1288 1065h0M1613 624h0M1558 911h0M1599 696h0M1466 1018h0M1410 867h0M1451 754h0M1349 988h0M1437 646h0M1454 877h0M1388 869h0M1544 709h0M1456 789h0M1578 755h0M1600 933h0M1444 853h0M1344 871h0M1307 969h0M1467 1040h0M1522 841h0M1526 1088h0M1540 683h0M1554 1075h0M1401 1008h0M1475 1011h0M1435 643h0M1535 716h0M1397 934h0M1534 806h0M1562 867h0M1304 835h0M1244 905h0M1498 883h0M1201 980h0M1505 805h0M1528 625h0M1440 819h0M1364 932h0M1291 826h0M1649 822h0M1237 1034h0M1584 806h0M1449 1002h0M1464 837h0M1313 1018h0M1610 916h0M1533 905h0M1468 799h0M1592 712h0M1613 722h0M1542 802h0M1231 895h0M1489 768h0M1462 632h0M1583 758h0M1536 1117h0M1485 828h0M1462 795h0M1640 616h0M1569 647h0M1631 779h0M1431 784h0M1397 922h0M1632 797h0M1416 970h0M1542 1065h0M1480 978h0M1447 858h0M1549 605h0M1442 646h0M1451 1024h0M1366 843h0M1490 669h0M1622 727h0M1370 786h0M1568 926h0M1365 1031h0M1241 1008h0M1569 936h0M1483 713h0M1603 659h0M1534 827h0M1285 879h0M1324 1023h0M1251 926h0M1208 993h0M1435 1000h0M1334 912h0M1222 884h0M1525 1065h0M1508 956h0M1346 800h0M1381 917h0M1553 672h0M1648 643h0M1439 760h0M1490 873h0M1323 823h0M1517 804h0M1505 624h0M1452 714h0M1576 1060h0M1607 1003h0M1424 863h0M1347 743h0M1411 835h0M1442 856h0M1543 867h0M1572 635h0M1518 881h0M1437 790h0M1602 878h0M1409 936h0M1439 647h0M1275 1005h0M1502 645h0M1423 853h0M1629 780h0M1228 854h0M1452 884h0M1341 881h0M1554 781h0M1570 1033h0M1549 783h0M1330 1000h0M1389 966h0M1256 920h0M1504 1070h0M1443 735h0M1588 617h0M1477 803h0M1208 859h0M1587 777h0M1456 753h0M1482 802h0M1361 926h0M1564 934h0M1403 788h0M1391 967h0M1339 829h0M1482 770h0M1561 859h0M1500 812h0M1429 749h0M1320 849h0M1305 905h0M1537 892h0M1285 878h0M1274 1016h0M1509 957h0M1537 811h0M1629 664h0M1386 809h0M1540 777h0M1578 912h0M1598 699h0M1441 638h0M1557 808h0M1435 760h0M1525 1019h0M1647 684h0M1416 1031h0M1451 648h0M1512 1099h0M1307 999h0M1429 665h0M1399 1027h0M1428 765h0M1506 1067h0M1301 863h0M1377 928h0M1195 913h0M1448 860h0M1463 835h0M1260 828h0M1521 612h0M1451 652h0M1452 840h0M1616 972h0M1491 1029h0M1322 1009h0M1281 883h0M1636 741h0M1552 1006h0M1433 674h0M1658 749h0M1249 1022h0M1574 807h0M1509 708h0M1234 912h0M1630 749h0M1658 747h0M1463 887h0M1626 778h0M1254 889h0M1553 1054h0M1414 890h0M1549 1044h0M1497 827h0M1392 985h0M1348 889h0M1463 763h0M1516 1047h0M1448 881h0M1441 820h0M1517 1080h0M1388 898h0M1222 985h0M1532 762h0M1591 1079h0M1582 850h0M1548 764h0M1617 728h0M1266 891h0M1362 1013h0M1647 839h0M1430 915h0M1418 827h0M1658 774h0M1474 925h0M1651 656h0M1415 732h0M1590 864h0M1368 734h0M1545 1008h0M1448 1011h0M1331 846h0M1580 976h0M1553 683h0M1608 739h0M1328 989h0M1446 919h0M1298 972h0M1649 842h0M1546 719h0M1369 1005h0M1254 897h0M1390 727h0M1346 941h0M1618 757h0M1541 725h0M1365 874h0M1660 617h0M1544 783h0M1341 916h0M1188 966h0M1425 908h0M1516 1051h0M1302 1003h0M1310 839h0M1194 886h0M1442 1012h0M1521 736h0M1496 1046h0M1352 1008h0M1540 686h0M1418 920h0M1613 866h0M1595 848h0M1325 884h0M1490 922h0M1414 979h0M1316 958h0M1466 795h0M1492 855h0M1482 1043h0M1610 832h0M1609 638h0M1583 1087h0M1443 1002h0M1366 1026h0M1519 1037h0M1202 984h0M1589 611h0M1234 1007h0M1381 846h0M1574 611h0M1345 983h0M1537 885h0M1380 876h0M1653 850h0M1376 790h0M1587 927h0M1374 829h0M1571 1077h0M1226 850h0M1377 1040h0M1295 840h0M1400 989h0M1478 723h0M1624 691h0M1351 822h0M1356 930h0M1346 927h0M1504 946h0M1233 905h0M1287 944h0M1252 957h0M1408 659h0M1585 894h0M1439 771h0M1545 1045h0M1434 812h0M1629 667h0M1537 764h0M1567 1082h0M1450 671h0M1557 850h0M1661 779h0M1590 910h0M1520 708h0M1418 796h0M1206 896h0M1604 795h0M1560 1010h0M1185 893h0M1449 650h0M1286 1022h0M1438 910h0M1603 779h0M1485 731h0M1644 657h0M1505 828h0M1532 1073h0M1528 863h0M1501 1086h0M1599 974h0M1476 978h0M1331 938h0M1488 722h0M1357 1030h0M1368 1033h0M1618 924h0M1639 700h0M1563 788h0M1673 689h0M1500 735h0M1286 936h0M1585 992h0M1570 788h0M1628 701h0M1211 969h0M1407 1016h0M1379 808h0M1537 876h0M1294 858h0M1552 893h0M1285 990h0M1531 868h0M1383 993h0M1461 954h0M1264 924h0M1624 638h0M1532 888h0M1350 981h0M1539 778h0M1649 780h0M1585 919h0M1588 804h0M1427 995h0M1367 839h0M1228 1016h0M1485 869h0M1621 875h0M1512 752h0M1375 979h0M1427 721h0M1525 626h0M1624 773h0M1403 640h0M1483 695h0M1547 1064h0M1345 961h0M1587 767h0M1448 639h0M1580 736h0M1609 727h0M1321 825h0M1293 904h0M1333 940h0M1271 1058h0M1648 827h0M1535 1040h0M1257 882h0M1255 921h0M1543 985h0M1337 828h0M1220 989h0M1544 854h0M1349 892h0M1421 686h0M1209 947h0M1527 883h0M1460 928h0M1540 637h0M1313 923h0M1500 638h0M1446 621h0M1425 991h0M1380 1009h0M1501 1104h0M1285 875h0M1654 741h0M1496 796h0M1351 785h0M1500 841h0M1436 652h0M1471 810h0M1497 738h0M1602 675h0M1441 967h0M1529 960h0M1596 964h0M1484 932h0M1271 890h0M1568 761h0M1217 857h0M1623 763h0M1619 800h0M1192 931h0M1451 720h0M1450 960h0M1406 683h0M1537 640h0M1601 929h0M1537 1106h0M1578 852h0M1528 639h0M1608 647h0M1601 795h0M1285 1004h0M1503 798h0M1488 939h0M1333 1027h0M1585 918h0M1667 631h0M1457 946h0M1418 823h0M1580 785h0M1648 714h0M1189 927h0M1503 975h0M1598 704h0M1561 819h0M1640 687h0M1476 805h0M1538 1021h0M1449 872h0M1423 781h0M1279 1010h0M1384 954h0M1309 878h0M1598 991h0M1449 892h0M1565 1033h0M1375 997h0M1347 775h0M1430 667h0M1529 1078h0M1502 808h0M1510 1025h0M1453 609h0M1270 1027h0M1429 782h0M1289 830h0M1335 1007h0M1421 894h0M1493 722h0M1324 1013h0M1310 816h0M1634 624h0M1643 797h0M1226 999h0M1468 1017h0M1266 940h0M1547 963h0M1563 1095h0M1248 1054h0M1658 826h0M1642 724h0M1483 1093h0M1420 774h0M1222 936h0M1459 937h0M1300 843h0M1648 761h0M1501 767h0M1351 995h0M1579 791h0M1234 925h0M1623 893h0M1497 790h0M1354 863h0M1546 691h0M1292 1043h0M1424 713h0M1535 1110h0M1562 764h0M1538 1040h0M1318 874h0M1654 650h0M1437 897h0M1602 721h0M1330 899h0M1295 993h0M1482 1058h0M1640 730h0M1544 763h0M1495 628h0M1608 872h0M1593 730h0M1562 681h0M1457 629h0M1387 765h0M1598 985h0M1204 868h0M1397 1054h0M1367 888h0M1326 954h0M1623 619h0M1351 845h0M1453 878h0M1434 639h0M1546 644h0M1290 999h0M1573 970h0M1577 883h0M1482 994h0M1599 1027h0M1579 1095h0M1233 998h0M1425 732h0M1538 852h0M1227 988h0M1646 684h0M1230 980h0M1533 758h0M1572 671h0M1617 662h0M1546 733h0M1531 1094h0M1305 871h0M1400 976h0M1463 614h0M1521 764h0M1517 1021h0M1446 757h0M1371 732h0M1560 955h0M1295 1004h0M1260 867h0M1449 875h0M1623 847h0M1429 751h0M1218 897h0M1477 663h0M1285 882h0M1474 668h0M1524 985h0M1492 713h0M1319 824h0M1440 1037h0M1456 678h0M1233 965h0M1641 701h0M1619 621h0M1268 874h0M1509 1091h0M1497 799h0M1204 899h0M1433 843h0M1397 866h0M1410 714h0M1186 932h0M1543 611h0M1328 862h0M1351 925h0M1555 619h0M1325 940h0M1394 939h0M1231 975h0M1630 790h0M1610 723h0M1285 867h0M1583 1045h0M1564 910h0M1211 874h0M1208 854h0M1352 989h0M1411 991h0M1432 853h0M1523 965h0M1546 1113h0M1291 995h0M1261 831h0M1616 971h0M1565 853h0M1387 864h0M1509 737h0M1423 986h0M1603 980h0M1539 831h0M1553 778h0M1435 741h0M1446 681h0M1212 904h0M1487 896h0M1289 957h0M1237 862h0M1378 854h0M1552 926h0M1563 1003h0M1529 700h0M1506 789h0M1508 937h0M1294 989h0M1540 718h0M1301 1017h0M1271 866h0M1557 1076h0M1596 1029h0M1443 1025h0M1589 1005h0M1411 656h0M1539 769h0M1535 1045h0M1505 737h0M1632 687h0M1463 916h0M1614 907h0M1279 873h0M1624 992h0M1412 900h0M1417 981h0M1640 732h0M1238 887h0M1261 837h0M1277 1013h0M1318 977h0M1559 1067h0M1220 934h0M1512 618h0M1197 874h0M1508 1039h0M1477 1001h0M1569 1042h0M1465 721h0M1609 745h0M1588 973h0M1607 1022h0M1517 862h0M1531 1006h0M1419 826h0M1494 1062h0M1207 947h0M1257 898h0M1503 905h0M1465 765h0M1230 967h0M1585 736h0M1311 883h0M1270 972h0M1595 701h0M1509 872h0M1181 891h0M1548 1072h0M1448 949h0M1660 817h0M1649 749h0M1202 921h0M1459 823h0M1379 941h0M1286 848h0M1445 972h0M1470 944h0M1404 698h0M1502 736h0M1358 916h0M1335 815h0M1420 710h0M1440 922h0M1510 1017h0M1508 869h0M1341 771h0M1310 966h0M1505 722h0M1554 994h0M1526 736h0M1415 936h0M1605 803h0M1549 1003h0M1393 873h0M1558 660h0M1194 927h0M1499 738h0M1364 799h0M1402 1039h0M1202 944h0M1275 833h0M1429 902h0M1577 1043h0M1590 919h0M1595 815h0M1580 909h0M1634 685h0M1253 926h0M1616 754h0M1457 1041h0M1235 971h0M1672 752h0M1331 982h0M1557 850h0M1219 1007h0M1591 746h0M1306 952h0M1210 923h0M1530 1029h0M1256 1050h0M1476 998h0M1563 920h0M1546 783h0M1551 1029h0M1478 795h0M1656 707h0M1577 1088h0M1283 956h0M1541 712h0M1457 679h0M1590 672h0M1348 969h0M1549 1068h0M1586 637h0M1565 698h0M1254 842h0M1400 1046h0M1564 858h0M1586 1010h0M1319 880h0M1278 1035h0M1462 871h0M1379 933h0M1519 756h0M1369 822h0M1512 956h0M1482 673h0M1348 924h0M1666 779h0M1246 1005h0M1579 670h0M1528 806h0M1549 1100h0M1288 1057h0M1414 734h0M1502 783h0M1569 1007h0M1662 812h0M1537 774h0M1209 904h0M1287 884h0M1603 900h0M1369 852h0M1382 738h0M1515 813h0M1369 866h0M1447 698h0M1540 633h0M1372 843h0M1609 1036h0M1429 643h0M1530 733h0M1263 863h0M1316 1028h0M1606 957h0M1416 985h0M1581 805h0M1537 716h0M1485 617h0M1384 871h0M1495 1098h0M1606 940h0M1427 676h0M1401 937h0M1221 991h0M1369 1016h0M1527 1083h0M1251 901h0M1398 898h0M1614 647h0M1542 702h0M1622 738h0M1324 792h0M1643 626h0M1218 892h0M1302 829h0M1439 660h0M1471 719h0M1663 699h0M1618 927h0M1628 731h0M1608 1013h0M1593 889h0M1380 1019h0M1431 916h0M1346 903h0M1482 687h0M1430 794h0M1358 884h0M1473 944h0M1545 1068h0M1343 961h0M1600 843h0M1313 874h0M1314 797h0M1506 1084h0M1412 708h0M1534 1027h0M1577 908h0M1308 957h0M1411 1035h0M1423 809h0M1542 724h0M1499 602h0M1550 908h0M1563 740h0M1413 992h0M1494 1058h0M1382 704h0M1545 792h0M1453 668h0M1449 654h0M1614 965h0M1538 1082h0M1385 922h0M1458 616h0M1416 836h0M1534 616h0M1396 894h0M1355 712h0M1308 1010h0M1546 1031h0M1590 668h0M1327 978h0M1404 1028h0M1674 767h0M1271 923h0M1636 826h0M1292 921h0M1602 844h0M1485 846h0M1485 961h0M1396 810h0M1418 657h0M1263 835h0M1401 683h0M1504 948h0M1467 709h0M1394 756h0M1421 634h0M1453 605h0M1609 938h0M1407 970h0M1535 660h0M1595 977h0M1542 1086h0M1232 860h0M1330 974h0M1420 1031h0M1434 646h0M1185 973h0M1368 1034h0M1648 836h0M1640 816h0M1377 890h0M1611 714h0M1591 642h0M1650 737h0M1376 883h0M1498 1048h0M1565 812h0M1582 720h0M1257 847h0M1444 911h0M1365 1006h0M1204 918h0M1499 991h0M1336 817h0M1404 732h0M1539 699h0M1219 976h0M1485 610h0M1568 678h0M1551 1060h0M1587 1026h0M1454 632h0M1183 947h0M1428 999h0M1436 714h0M1664 666h0M1583 647h0M1540 969h0M1438 974h0M1508 598h0M1234 942h0M1466 759h0M1252 885h0M1485 740h0M1285 865h0M1330 927h0M1473 934h0M1524 965h0M1488 599h0M1555 739h0M1594 838h0M1602 726h0M1554 1043h0M1431 877h0M1512 814h0M1458 692h0M1579 1086h0M1417 820h0M1581 1097h0M1448 1023h0M1572 814h0M1331 836h0M1580 627h0M1583 890h0M1313 1010h0M1655 843h0M1537 1061h0M1420 767h0M1524 676h0M1494 822h0M1533 830h0M1611 910h0M1569 696h0M1559 981h0M1623 719h0M1471 726h0M1602 802h0M1436 828h0M1325 882h0M1356 834h0M1489 1022h0M1496 617h0M1478 946h0M1472 948h0M1424 823h0M1560 858h0M1409 780h0M1562 1045h0M1203 1013h0M1501 796h0M1503 746h0M1568 1051h0M1602 746h0M1232 986h0M1627 820h0M1217 1039h0M1645 817h0M1474 1083h0M1662 730h0M1496 952h0M1221 1029h0M1501 728h0M1470 999h0M1334 770h0M1666 693h0M1410 918h0M1651 753h0M1592 984h0M1567 936h0M1528 874h0M1425 820h0M1514 741h0M1596 684h0M1433 796h0M1315 856h0M1457 1012h0M1345 1015h0M1547 614h0M1413 1030h0M1388 822h0M1393 681h0M1613 652h0M1654 708h0M1547 981h0M1376 835h0M1614 747h0M1537 963h0M1581 1064h0M1484 739h0M1612 778h0M1470 1019h0M1569 1064h0M1586 883h0M1522 949h0M1539 1090h0M1334 1045h0M1590 890h0M1505 732h0M1573 908h0M1627 761h0M1246 868h0M1470 700h0M1502 1053h0M1414 975h0M1279 851h0M1492 950h0M1487 896h0M1573 1091h0M1261 980h0M1518 871h0M1638 757h0M1567 630h0M1604 901h0M1501 737h0M1302 1063h0M1476 916h0M1433 797h0M1284 827h0M1367 903h0M1374 777h0M1295 1049h0M1398 1016h0M1468 979h0M1543 1059h0M1644 799h0M1518 880h0M1422 815h0M1606 918h0M1270 974h0M1452 874h0M1658 679h0M1533 971h0M1544 824h0M1456 863h0M1395 958h0M1256 988h0M1484 860h0M1610 768h0M1557 837h0M1299 895h0M1509 1095h0M1504 662h0M1605 777h0M1468 700h0M1465 751h0M1486 686h0M1441 678h0M1491 726h0M1484 674h0M1450 703h0M1285 908h0M1550 812h0M1476 1046h0M1594 664h0M1506 1058h0M1360 737h0M1309 836h0M1588 967h0M1567 925h0M1660 651h0M1521 811h0M1472 775h0M1259 917h0M1224 915h0M1627 822h0M1579 1073h0M1584 972h0M1387 919h0M1515 1093h0M1367 1024h0M1552 800h0M1384 726h0M1390 870h0M1463 1073h0M1473 656h0M1600 986h0M1608 905h0M1345 846h0M1593 646h0M1472 887h0M1423 825h0M1418 756h0M1507 878h0M1568 818h0M1557 820h0M1401 886h0M1460 749h0M1619 608h0M1500 823h0M1512 1055h0M1651 822h0M1344 966h0M1598 742h0M1199 904h0M1196 978h0M1336 994h0M1389 964h0M1491 1077h0M1449 806h0M1536 1003h0M1241 845h0M1354 866h0M1546 1112h0M1413 822h0M1523 603h0M1219 902h0M1278 853h0M1280 1004h0M1567 732h0M1325 852h0M1649 668h0M1576 631h0M1275 1055h0M1624 765h0M1298 939h0M1468 1021h0M1270 973h0M1523 787h0M1526 972h0M1268 885h0M1538 755h0M1378 898h0M1549 912h0M1313 991h0M1345 1009h0M1603 755h0M1603 884h0M1573 1081h0M1573 745h0M1391 962h0M1602 1006h0M1486 813h0M1530 776h0M1371 918h0M1580 647h0M1648 683h0M1533 870h0M1414 809h0M1475 740h0M1577 997h0M1578 895h0M1502 1053h0M1230 882h0M1326 1025h0M1521 864h0M1316 815h0M1529 615h0M1420 1034h0M1479 680h0M1579 1055h0M1592 853h0M1295 873h0M1460 992h0M1221 916h0M1642 702h0M1382 804h0M1600 815h0M1565 961h0M1608 990h0M1396 881h0M1221 1031h0M1646 634h0M1307 895h0M1297 994h0M1220 902h0M1516 1052h0M1396 1003h0M1537 799h0M1591 841h0M1276 939h0M1259 1020h0M1531 1075h0M1336 943h0M1559 971h0M1376 912h0M1464 855h0M1530 821h0M1522 1116h0M1473 893h0M1608 793h0M1265 1014h0M1335 1021h0M1515 996h0M1534 986h0M1641 764h0M1402 936h0M1569 920h0M1589 853h0M1583 671h0M1574 668h0M1284 913h0M1531 946h0M1384 1020h0M1444 820h0M1406 800h0M1565 846h0M1425 788h0M1623 974h0M1595 772h0M1534 988h0M1467 639h0M1219 991h0M1333 1008h0M1476 926h0M1449 994h0M1581 1081h0M1478 816h0M1597 1062h0M1506 905h0M1532 1020h0M1602 965h0M1339 961h0M1330 953h0M1525 788h0M1563 866h0M1443 644h0M1266 856h0M1460 708h0M1291 910h0M1571 929h0M1647 670h0M1543 703h0M1550 927h0M1526 938h0M1357 788h0M1218 880h0M1331 870h0M1217 1016h0M1413 944h0M1576 1017h0M1271 880h0M1537 858h0M1258 1027h0M1193 972h0M1337 850h0M1511 606h0M1501 974h0M1349 872h0M1262 1022h0M1459 1023h0M1533 808h0M1356 983h0M1271 916h0M1329 843h0M1430 982h0M1622 759h0M1329 989h0M1641 714h0M1222 963h0M1534 895h0M1499 717h0M1412 717h0M1436 825h0M1583 902h0M1405 1040h0M1653 722h0M1407 1000h0M1550 763h0M1575 985h0M1276 1012h0M1295 969h0M1602 1025h0M1377 763h0M1341 1020h0M1306 886h0M1233 906h0M1374 954h0M1592 665h0M1388 963h0M1495 649h0M1421 670h0M1581 703h0M1614 744h0M1231 862h0M1613 764h0M1580 758h0M1579 929h0M1474 921h0M1493 916h0M1191 894h0M1571 931h0M1395 1039h0M1604 833h0M1535 637h0M1538 941h0M1505 837h0M1493 855h0M1569 951h0M1395 1000h0M1458 973h0M1402 754h0M1502 735h0M1496 694h0M1413 742h0M1525 1069h0M1447 997h0M1522 1017h0M1315 1019h0M1222 975h0M1343 768h0M1281 1049h0M1589 658h0M1290 891h0M1580 876h0M1441 645h0M1660 662h0M1445 853h0M1619 774h0M1541 810h0M1399 936h0M1323 924h0M1495 800h0M1533 634h0M1597 833h0M1316 904h0M1593 873h0M1561 707h0M1313 963h0M1501 938h0M1513 1077h0M1271 889h0M1497 738h0M1525 1074h0M1427 1007h0M1346 923h0M1260 916h0M1540 715h0M1416 987h0M1417 803h0M1465 947h0M1382 1042h0M1551 1065h0M1576 974h0M1528 1064h0M1555 792h0M1419 871h0M1625 833h0M1618 685h0M1491 966h0M1255 1027h0M1455 835h0M1354 788h0M1332 1007h0M1459 855h0M1553 785h0M1496 749h0M1380 1039h0M1249 1056h0M1559 1045h0M1563 778h0M1226 1020h0M1534 770h0M1504 1001h0M1391 916h0M1372 981h0M1207 953h0M1514 684h0M1279 839h0M1463 895h0M1354 912h0M1350 1015h0M1585 673h0M1255 826h0M1616 685h0M1484 839h0M1533 725h0M1529 627h0M1430 768h0M1546 877h0M1494 615h0M1280 882h0M1493 820h0M1548 839h0M1520 769h0M1546 796h0M1537 634h0M1422 1015h0M1502 609h0M1272 1011h0M1363 1001h0M1214 901h0M1508 992h0M1628 879h0M1415 884h0M1534 639h0M1528 854h0M1543 774h0M1638 781h0M1342 742h0M1550 1055h0M1551 825h0M1610 792h0M1385 1049h0M1558 1083h0M1574 921h0M1649 754h0M1571 1065h0M1358 1009h0M1636 762h0M1517 624h0M1316 857h0M1559 1114h0M1237 921h0M1309 935h0M1431 838h0M1210 984h0M1487 738h0M1405 654h0M1549 1113h0M1422 1044h0M1621 957h0M1540 921h0M1382 1018h0M1619 708h0M1422 643h0M1584 759h0M1506 934h0M1481 880h0M1502 1074h0M1533 778h0M1521 1057h0M1582 1023h0M1306 1020h0M1355 844h0M1362 953h0M1618 1001h0M1400 709h0M1423 646h0M1347 900h0M1640 636h0M1478 850h0M1222 871h0M1536 608h0M1418 968h0M1591 978h0M1399 822h0M1232 916h0M1345 929h0M1631 630h0M1410 760h0M1580 966h0M1253 906h0M1334 793h0M1370 904h0M1446 881h0M1226 1027h0M1645 762h0M1579 1005h0M1176 919h0M1455 747h0M1447 990h0M1343 954h0M1312 1019h0M1284 1039h0M1488 733h0M1269 857h0M1384 806h0M1567 1065h0M1414 710h0M1572 1006h0M1515 639h0M1666 787h0M1544 1076h0M1246 1002h0M1315 981h0M1608 878h0M1492 820h0M1345 984h0M1522 657h0M1239 974h0M1473 761h0M1403 861h0M1347 902h0M1568 661h0M1575 811h0M1567 1058h0M1499 772h0M1627 876h0M1559 923h0M1580 901h0M1566 872h0M1405 974h0M1618 780h0M1580 925h0M1214 877h0M1582 730h0M1240 869h0M1426 770h0M1609 637h0M1399 727h0M1526 613h0M1239 1007h0M1354 1017h0M1221 1022h0M1384 871h0M1419 787h0M1492 708h0M1212 960h0M1418 782h0M1270 1012h0M1358 984h0M1208 891h0M1430 804h0M1386 961h0M1289 873h0M1206 980h0M1372 921h0M1415 645h0M1485 834h0M1607 620h0M1410 847h0M1483 716h0M1420 615h0M1577 604h0M1376 1031h0M1570 1076h0M1382 829h0M1358 792h0M1410 937h0M1460 1032h0M1486 791h0M1465 763h0M1204 972h0M1518 1124h0M1496 741h0M1387 1027h0M1419 981h0M1532 1080h0M1419 729h0M1442 914h0M1599 986h0M1586 788h0M1360 801h0M1586 1076h0M1620 692h0M1561 1026h0M1428 1037h0M1465 827h0M1403 855h0M1627 681h0M1585 1038h0M1559 1034h0M1386 965h0M1526 720h0M1330 899h0M1338 834h0M1493 706h0M1534 805h0M1514 938h0M1325 818h0M1579 949h0M1313 897h0M1522 1076h0M1570 627h0M1502 1002h0M1392 892h0M1447 809h0M1496 713h0M1550 1104h0M1397 1021h0M1418 999h0M1539 844h0M1520 730h0M1437 893h0M1380 1002h0M1259 1016h0M1258 1026h0M1339 916h0M1418 621h0M1277 863h0M1571 986h0M1343 994h0M1503 684h0M1265 997h0M1518 1111h0M1588 1058h0M1458 851h0M1455 987h0M1440 986h0M1498 739h0M1356 810h0M1368 701h0M1569 999h0M1572 903h0M1617 811h0M1580 901h0M1341 828h0M1506 1024h0M1638 775h0M1365 967h0M1227 1001h0M1495 1046h0M1476 826h0M1382 789h0M1563 1063h0M1447 632h0M1663 795h0M1551 652h0M1653 621h0M1498 1025h0M1631 719h0M1573 1085h0M1518 660h0M1515 802h0M1576 612h0M1222 1000h0M1523 1064h0M1542 855h0M1651 698h0M1401 863h0M1433 782h0M1387 1003h0M1488 622h0M1298 962h0M1647 840h0M1402 831h0M1568 1058h0M1520 668h0M1453 976h0M1436 917h0M1196 939h0M1398 700h0M1493 785h0M1523 764h0M1191 980h0M1485 832h0M1504 858h0M1587 738h0M1497 1088h0M1487 763h0M1577 928h0M1500 1087h0M1338 959h0M1327 805h0M1336 1004h0M1363 725h0M1566 713h0M1508 823h0M1623 648h0M1354 774h0M1237 905h0M1372 916h0M1516 951h0M1473 1002h0M1398 680h0M1482 609h0M1276 839h0M1478 633h0M1639 665h0M1428 985h0M1245 844h0M1493 703h0M1443 663h0M1413 703h0M1504 744h0M1583 665h0M1568 1022h0M1296 995h0M1536 1061h0M1299 943h0M1453 651h0M1294 1052h0M1289 884h0M1479 917h0M1511 1028h0M1568 936h0M1194 977h0M1306 916h0M1495 1027h0M1514 686h0M1571 1074h0M1421 976h0M1602 972h0M1563 1067h0M1215 969h0M1344 853h0M1267 972h0M1354 783h0M1556 1013h0M1420 630h0M1546 974h0M1340 1025h0M1462 1017h0M1446 679h0M1398 966h0M1295 853h0M1265 836h0M1536 785h0M1561 880h0M1569 647h0M1531 1003h0M1586 1014h0M1633 712h0M1429 710h0M1390 818h0M1551 953h0M1617 710h0M1461 758h0M1521 762h0M1615 735h0M1520 968h0M1580 646h0M1621 893h0M1210 1003h0M1489 727h0M1476 898h0M1636 862h0M1548 786h0M1423 943h0M1663 685h0M1293 824h0M1279 1014h0M1386 930h0M1514 1074h0M1334 795h0M1514 1040h0M1630 722h0M1532 859h0M1664 615h0M1447 815h0M1587 929h0M1382 700h0M1497 781h0M1393 882h0M1569 673h0M1214 885h0M1621 806h0M1594 632h0M1219 925h0M1499 697h0M1519 756h0M1546 1024h0M1392 1028h0M1431 662h0M1431 763h0M1468 675h0M1358 986h0M1405 981h0M1300 1020h0M1624 656h0M1458 929h0M1549 828h0M1512 804h0M1617 643h0M1411 780h0M1342 987h0M1348 942h0M1611 986h0M1485 634h0M1271 1035h0M1334 779h0M1315 998h0M1518 1121h0M1554 648h0M1467 696h0M1274 895h0M1208 998h0M1371 866h0M1584 930h0M1522 1065h0M1413 972h0M1531 1008h0M1387 866h0M1505 612h0M1601 749h0M1571 829h0M1613 990h0M1342 989h0M1468 880h0M1306 832h0M1253 921h0M1563 765h0M1358 936h0M1466 693h0M1352 946h0M1301 1012h0M1596 992h0M1259 855h0M1446 700h0M1477 711h0M1217 883h0M1618 655h0M1240 905h0M1518 974h0M1466 965h0M1629 726h0M1351 1002h0M1625 866h0M1615 671h0M1472 1015h0M1444 974h0M1363 929h0M1430 818h0M1474 868h0M1613 722h0M1544 942h0M1384 929h0M1639 734h0M1351 739h0M1432 945h0M1558 1008h0M1644 719h0M1258 882h0M1372 900h0M1227 980h0M1429 925h0M1519 1105h0M1555 1004h0M1230 1001h0M1248 905h0M1351 927h0M1510 619h0M1437 625h0M1531 864h0M1565 931h0M1281 934h0M1634 699h0M1342 1025h0M1443 746h0M1539 1069h0M1559 772h0M1520 1058h0M1261 943h0M1292 883h0M1603 887h0M1661 834h0M1580 628h0M1524 955h0M1449 864h0M1461 860h0M1397 695h0M1418 856h0M1260 1007h0M1329 836h0M1410 910h0M1207 963h0M1531 852h0M1433 1011h0M1611 712h0M1461 706h0M1398 1020h0M1422 768h0M1654 814h0M1428 846h0M1409 899h0M1484 721h0M1508 811h0M1479 648h0M1417 1028h0M1472 864h0M1176 884h0M1573 1007h0M1454 840h0M1565 645h0M1284 877h0M1371 717h0M1276 981h0M1501 729h0M1321 917h0M1482 833h0M1468 859h0M1497 684h0M1268 864h0M1517 789h0M1530 630h0M1418 920h0M1512 894h0M1425 687h0M1245 969h0M1527 1055h0M1513 793h0M1421 915h0M1358 833h0M1315 919h0M1630 628h0M1206 949h0M1489 743h0M1644 635h0M1590 604h0M1434 637h0M1457 1005h0M1540 1015h0M1521 805h0M1575 1084h0M1486 868h0M1462 923h0M1188 879h0M1590 887h0M1452 698h0M1348 948h0M1569 819h0M1338 1014h0M1389 880h0M1506 1060h0M1308 1000h0M1358 923h0M1634 814h0M1405 657h0M1612 625h0M1585 963h0M1405 1041h0M1314 1009h0M1627 687h0M1566 779h0M1521 895h0M1642 840h0M1504 700h0M1665 690h0M1397 865h0M1365 738h0M1410 850h0M1550 969h0M1319 957h0M1512 792h0M1636 772h0M1272 946h0M1546 1009h0M1561 958h0M1509 967h0M1478 960h0M1399 801h0M1546 945h0M1311 918h0M1535 720h0M1582 663h0M1565 1040h0M1345 882h0M1408 967h0M1491 804h0M1612 734h0M1207 894h0M1576 1014h0M1606 692h0M1551 1014h0M1618 724h0M1257 883h0M1254 959h0M1447 697h0M1581 1002h0M1633 753h0M1356 958h0M1176 895h0M1600 816h0M1511 862h0M1585 760h0M1312 853h0M1558 907h0M1616 907h0M1521 633h0M1413 966h0M1468 698h0M1332 813h0M1530 612h0M1459 835h0M1476 772h0M1422 641h0M1382 905h0M1270 987h0M1436 671h0M1485 846h0M1412 824h0M1568 779h0M1215 964h0M1363 931h0M1309 923h0M1433 622h0M1606 625h0M1589 645h0M1547 787h0M1417 778h0M1453 925h0M1498 1040h0M1334 940h0M1196 904h0M1579 912h0M1601 637h0M1408 831h0M1561 1068h0M1536 676h0M1667 715h0M1611 931h0M1254 938h0M1251 908h0M1365 873h0M1588 996h0M1542 1011h0M1528 1087h0M1497 612h0M1347 902h0M1368 713h0M1539 873h0M1609 626h0M1408 814h0M1469 912h0M1212 990h0M1590 689h0M1504 877h0M1312 1013h0M1432 836h0M1376 850h0M1308 985h0M1579 699h0M1354 852h0M1403 657h0M1467 712h0M1473 775h0M1553 784h0M1666 620h0M1628 856h0M1416 950h0M1417 809h0M1648 852h0M1264 955h0M1287 984h0M1550 963h0M1621 643h0M1207 1006h0M1583 954h0M1516 890h0M1497 1017h0M1235 1032h0M1463 816h0M1590 794h0M1505 1121h0M1201 877h0M1310 980h0M1474 906h0M1408 930h0M1618 700h0M1260 933h0M1210 970h0M1366 988h0M1642 780h0M1502 693h0M1535 899h0M1211 890h0M1255 908h0M1358 983h0M1549 641h0M1569 968h0M1577 1079h0M1531 1083h0M1254 1022h0M1570 995h0M1460 800h0M1529 651h0M1192 875h0M1437 765h0M1519 1112h0M1335 819h0M1635 678h0M1245 923h0M1544 785h0M1362 802h0M1534 1121h0M1470 792h0M1379 978h0M1324 851h0M1557 699h0M1599 985h0M1316 847h0M1197 972h0M1478 657h0M1309 871h0M1470 633h0M1273 895h0M1550 963h0M1510 849h0M1574 951h0M1408 677h0M1574 657h0M1605 710h0M1630 754h0M1682 793h0M1676 798h0M1659 841h0M1671 730h0M1673 748h0M1690 729h0M1670 733h0M1671 696h0M1659 697h0M1670 802h0M1682 803h0M1680 770h0M1672 725h0M1670 720h0M1681 769h0M1674 750h0M1664 696h0M1672 824h0M1675 806h0M1662 731h0M1670 693h0M1654 827h0M1674 806h0M1671 684h0M1667 699h0M1660 676h0M1686 786h0M1673 716h0M1669 725h0M1654 705h0M1654 827h0M1670 832h0M1679 678h0M1663 691h0M1669 725h0M1676 783h0M1663 821h0M1658 841h0M1668 681h0M1666 785h0M1665 742h0M1664 714h0M1669 704h0M1676 774h0M1673 720h0M1653 860h0M1668 696h0M1683 698h0M1666 684h0M1664 691h0M1666 727h0M1679 773h0M1658 838h0M1677 843h0M1663 683h0M1670 684h0M1665 832h0M1660 824h0M1672 707h0M1677 761h0M1677 782h0M1680 773h0M1663 690h0M1674 752h0M1666 774h0M1671 724h0M1663 727h0M1689 793h0M1674 698h0M1687 787h0M1664 685h0M1677 746h0M1671 708h0M1654 850h0M1670 718h0M1658 841h0M1676 750h0M1669 817h0M1669 676h0M1665 715h0M1681 745h0M1678 781h0M1658 822h0M1691 816h0M1663 702h0M1679 710h0M1665 815h0M1668 849h0M1657 815h0M1668 719h0M1674 763h0M1663 687h0M1669 754h0M1682 790h0M1668 797h0M1678 679h0M1664 748h0M1669 815h0M1676 751h0M1668 698h0M1684 808h0M1677 772h0M1663 669h0M1671 674h0M1665 688h0M1664 686h0M1675 721h0M1669 813h0M1654 836h0M1677 746h0M1689 768h0M1674 779h0M1648 855h0M1678 787h0M1659 824h0M1673 738h0M1676 709h0M1666 852h0M1685 696h0M1657 806h0M1661 805h0M1685 727h0M1666 702h0M1672 692h0M1671 787h0M1676 742h0M1665 710h0M1678 773h0M1675 796h0M1663 687h0M1669 674h0M1667 738h0M1652 681h0M1664 756h0M1664 826h0M1670 676h0M1661 829h0M1674 826h0M1653 836h0M1665 849h0M1667 742h0M1674 779h0M1677 763h0M1673 704h0M1677 764h0M1671 803h0M1671 699h0M1661 678h0M1648 831h0M1664 802h0M1669 674h0M1660 834h0M1681 796h0M1678 753h0M1679 838h0M1677 719h0M1679 783h0M1656 839h0M1673 761h0M1656 830h0M1652 837h0M1685 748h0M1682 740h0M1670 810h0M1665 833h0M1659 756h0M1669 846h0M1669 822h0M1657 673h0M1663 697h0M1673 664h0M1663 811h0M1682 778h0M1674 812h0M1671 771h0M1665 802h0M1664 806h0M1688 718h0M1673 761h0M1662 791h0M1670 805h0M1660 682h0M1661 819h0M1672 744h0M1671 673h0M1663 688h0M1657 831h0M1679 770h0M1671 725h0M1676 766h0M1677 792h0M1666 840h0M1673 780h0M1677 821h0M1669 768h0M1675 760h0M1651 853h0M1668 710h0M1687 783h0M1656 701h0M1670 690h0M1678 782h0M1672 815h0M1652 834h0M1661 815h0M1664 818h0M1671 807h0M1671 785h0M1685 759h0M1656 751h0M1674 692h0M1675 697h0M1693 791h0M1662 703h0M1673 803h0M1665 706h0M1679 754h0M1657 851h0M1690 740h0M1670 747h0M1676 776h0M1665 724h0M1674 680h0M1672 778h0M1679 728h0M1662 839h0M1658 684h0M1673 697h0M1667 707h0M1681 713h0M1678 732h0M1663 700h0M1680 801h0M1670 734h0M1679 698h0M1667 717h0M1647 848h0M1669 771h0M1680 764h0M1654 846h0M1666 799h0M1658 832h0M1665 810h0M1668 817h0M1666 828h0M1664 839h0M1662 828h0M1677 701h0M1664 771h0M1675 770h0M1674 803h0M1682 779h0M1667 770h0M1674 762h0M1683 721h0M1674 789h0M1671 784h0M1671 823h0M1664 767h0M1677 766h0M1334 770h0M1305 757h0M1370 696h0M1372 703h0M1335 740h0M1377 673h0M1327 761h0M1318 789h0M1357 700h0M1333 783h0M1334 731h0M1308 791h0M1328 788h0M1358 702h0M1369 694h0M1345 749h0M1363 699h0M1347 735h0M1351 711h0M1364 714h0M1348 727h0M1349 722h0M1317 802h0M1400 665h0M1353 719h0M1400 655h0M1333 771h0M1317 801h0M1305 798h0M1393 672h0M1302 809h0M1355 718h0M1367 715h0M1319 792h0M1325 798h0M1402 657h0M1369 680h0M1387 672h0M1333 766h0M1326 762h0M1350 730h0M1391 666h0M1325 790h0M1350 751h0M1307 797h0M1347 760h0M1318 799h0M1324 748h0M1383 694h0M1360 716h0M1330 795h0M1316 806h0M1330 744h0M1360 715h0M1366 720h0M1349 727h0M1347 743h0M1330 767h0M1315 800h0M1348 744h0M1394 683h0M1331 756h0M1357 718h0M1325 781h0M1300 814h0M1397 672h0M1356 707h0M1375 688h0M1387 671h0M1309 800h0M1385 1062h0M1440 1039h0M1382 1049h0M1329 1048h0M1319 1066h0M1433 1048h0M1325 1059h0M1362 1045h0M1303 1068h0M1414 1054h0M1335 1044h0M1418 1049h0M1344 1050h0M1340 1041h0M1371 1048h0M1304 1051h0M1340 1050h0M1352 1052h0M1435 1050h0M1369 1051h0M1437 1056h0M1438 1051h0M1407 1062h0M1388 1058h0M1454 1045h0M1435 1043h0M1392 1050h0M1422 1054h0M1351 1043h0M1454 1044h0M1449 1043h0M1418 1056h0M1457 1054h0M1325 1061h0M1393 1062h0M1355 1049h0M1350 1047h0M1319 1052h0M1401 1049h0M1400 1051h0M1419 1050h0M1394 1050h0M1401 1052h0M1357 1054h0M1383 1053h0M1346 1058h0M1305 1060h0M1307 1062h0M1355 1052h0M1427 1051h0M1352 1050h0M1440 1060h0M1426 1053h0M1380 1059h0M1446 1044h0M1312 1058h0M1349 1060h0M1406 1054h0M1328 1061h0M1321 1050h0M1186 744h0M1159 788h0M1174 730h0M1193 852h0M1151 775h0M1189 749h0M1174 740h0M1173 835h0M1185 828h0M1175 745h0M1165 785h0M1181 863h0M1168 744h0M1170 776h0M1164 788h0M1170 718h0M1165 758h0M1169 770h0M1164 780h0M1168 810h0M1185 769h0M1151 798h0M1188 749h0M1145 768h0M1178 827h0M1164 786h0M1157 782h0M1172 741h0M1160 808h0M1181 730h0M1185 730h0M1149 810h0M1165 747h0M1181 738h0M1191 832h0M1160 828h0M1138 817h0M1172 826h0M1174 822h0M1168 775h0M1134 798h0M1129 801h0M1138 807h0M1137 794h0M1143 811h0M1129 802h0M1128 797h0M1133 804h0M1133 799h0M1142 797h0M1152 802h0M1145 806h0M1090 907h0M1170 949h0M1168 896h0M1132 912h0M1142 993h0M1164 972h0M1129 918h0M1124 945h0M1078 982h0M1068 983h0M1170 954h0M1139 908h0M1119 928h0M1133 922h0M1113 981h0M1083 926h0M1153 960h0M1128 909h0M1165 972h0M1141 936h0M1141 997h0M1086 954h0M1088 973h0M1144 939h0M1109 1014h0M1075 948h0M1115 995h0M1170 1022h0M1073 916h0M1109 923h0M1121 942h0M1104 950h0M1079 978h0M1119 931h0M1093 922h0M1104 985h0M1170 964h0M1074 1027h0M1144 1024h0M1141 914h0M1003 757h0M1035 744h0M1008 759h0M1015 732h0M1009 753h0M1018 750h0M1015 734h0M1024 729h0M997 764h0M987 729h0M1004 767h0M1033 759h0M1027 731h0M992 721h0M1027 732h0M992 745h0M979 735h0M996 739h0M1021 745h0M989 756h0M1030 749h0M1012 742h0M1005 727h0M1003 760h0M1024 732h0M1002 754h0M985 731h0M1023 739h0M1000 723h0M1016 738h0M1009 761h0M990 742h0M985 751h0M1005 743h0M981 753h0M982 735h0M989 759h0M998 755h0M1029 753h0M1035 736h0M1018 765h0M1002 726h0M1011 753h0M1034 732h0M1010 723h0M970 743h0M957 728h0M965 739h0M967 742h0M967 745h0M970 748h0M969 738h0M960 737h0M991 812h0M1029 784h0M1018 794h0M1005 812h0M990 784h0M1000 815h0M992 802h0M1011 822h0M1011 818h0M1026 783h0M993 783h0M993 780h0M1016 813h0M1000 778h0M995 788h0M1008 780h0M1002 816h0M1029 804h0M1020 806h0M1029 785h0M995 785h0M1023 793h0M999 793h0M1013 801h0M1017 780h0M1002 792h0M994 797h0M1009 792h0M1018 880h0M990 905h0M1011 925h0M1013 872h0M1007 886h0M1037 911h0M1015 911h0M1021 907h0M1009 859h0M1011 916h0M1012 891h0M1020 920h0M1035 940h0M1005 854h0M995 850h0M1056 906h0M1026 946h0M1057 937h0M998 928h0M992 884h0M1025 850h0M1026 937h0M1009 857h0M1001 883h0M1049 906h0M990 899h0M1020 918h0M1050 944h0M1017 923h0M992 926h0M1029 890h0M1038 905h0M1025 929h0M991 896h0M1060 913h0M1008 868h0M1035 877h0M996 878h0M1023 926h0M999 933h0M1014 877h0M1024 926h0M1055 900h0M1028 851h0M988 867h0M1016 889h0M1037 909h0M1018 898h0M989 927h0M1006 879h0M1031 863h0M1011 883h0M1030 898h0M1059 919h0M1010 881h0M1022 852h0M1027 920h0M989 907h0M1024 916h0M1033 937h0M1050 940h0M994 918h0M1001 912h0M1012 902h0M1048 923h0M1015 931h0M1045 912h0M1004 899h0M1024 895h0M1019 909h0M1028 886h0M1033 884h0M998 923h0M1026 864h0M1042 911h0M1009 883h0M990 894h0M1031 891h0M1017 848h0M1002 873h0M990 927h0M1008 938h0M1013 868h0M1004 875h0M1030 914h0M1037 911h0M1003 878h0M995 873h0M1021 860h0M985 897h0M1012 884h0M1057 910h0M1038 865h0M1020 898h0M1036 908h0M1005 886h0M1025 869h0M1015 865h0M999 879h0M1017 883h0M1002 930h0M1033 945h0M1015 873h0M1045 916h0M1051 937h0M1023 875h0M1033 864h0M1025 860h0M1013 925h0M1020 863h0M1021 913h0M1022 846h0M1052 932h0M998 940h0M1052 908h0M1029 943h0M996 865h0M1004 890h0M1002 886h0M1063 909h0M1041 901h0M1044 877h0M1031 850h0M1029 846h0M1023 890h0M1043 902h0M1053 909h0M1029 921h0M1014 889h0M1003 943h0M1037 892h0M1005 920h0M1035 905h0M1031 896h0M1040 892h0M991 862h0M992 899h0M1033 901h0M1043 920h0M1007 869h0M994 902h0M1001 922h0M1014 848h0M1029 943h0M989 904h0M1004 881h0M1010 927h0M989 924h0M1016 904h0M1051 917h0M1023 924h0M1008 877h0M1045 925h0M992 851h0M1025 954h0M1056 904h0M1045 939h0M1032 888h0M1021 884h0M1043 899h0M1020 950h0M1007 967h0M988 967h0M1016 961h0M1000 984h0M1018 965h0M1002 966h0M987 962h0M974 975h0M978 979h0M984 970h0M1020 980h0M1009 970h0M969 967h0M970 975h0M970 972h0M1022 967h0M979 966h0M1015 963h0M1001 975h0M1011 971h0M1044 956h0M1067 983h0M1069 961h0M1073 1005h0M1067 960h0M1062 966h0M1082 998h0M1093 1012h0M1064 995h0M1061 982h0M1047 1018h0M1088 1017h0M1056 984h0M1056 1003h0M1041 984h0M1065 969h0M1083 1029h0M1043 968h0M1076 971h0M1057 989h0M1088 1003h0M1053 965h0M1077 1004h0M1072 1018h0M1082 1017h0M1094 1019h0M1077 988h0M1078 1025h0M1062 985h0M1061 955h0M1072 956h0M1064 978h0M1078 1000h0M1073 976h0M1059 979h0M1022 1081h0M922 1087h0M1122 885h0M1042 1072h0M1087 938h0M1077 989h0M1161 954h0M1091 1080h0M1012 1001h0M1127 1026h0M1118 1061h0M1168 1050h0M957 917h0M1125 1057h0M1132 896h0M938 969h0M912 955h0M1108 1057h0M997 1023h0M982 1067h0M1133 919h0M898 956h0M924 925h0M936 1011h0M985 946h0M1059 912h0M970 992h0M1005 1013h0M991 926h0M1082 912h0M1169 1043h0M1088 1010h0M1156 1069h0M962 1044h0M913 944h0M865 1026h0M1107 921h0M880 1038h0M1163 887h0M995 1012h0M956 1015h0M990 1083h0M993 900h0M969 995h0M1110 993h0M1058 903h0M1018 1035h0M1079 932h0M1129 932h0M916 998h0M1131 1042h0M1058 1025h0M1133 893h0M1079 1067h0M881 947h0M1186 1022h0M973 1017h0M953 958h0M956 928h0M1080 961h0M903 1046h0M1002 947h0M1115 1016h0M1131 1071h0M982 1013h0M1115 1047h0M1084 1027h0M1129 951h0M999 984h0M1106 959h0M1042 900h0M1142 886h0M916 1052h0M958 1053h0M906 1069h0M906 905h0M942 1039h0M906 906h0M1073 948h0M1141 889h0M878 981h0M880 957h0M1071 920h0M1155 1033h0M1147 914h0M1180 990h0M930 965h0M1074 922h0M925 915h0M891 948h0M993 1040h0M881 1043h0M880 978h0M1029 946h0M961 1038h0M999 997h0M1036 972h0M1118 1070h0M917 985h0M1120 893h0M912 1013h0M1143 911h0M987 1065h0M993 904h0M1029 941h0M932 928h0M963 956h0M1092 1034h0M1016 912h0M1157 988h0M1144 897h0M1047 896h0M955 1092h0M1166 936h0M1091 997h0M1166 935h0M878 1013h0M1110 1034h0M902 1023h0M900 974h0M1106 913h0M1088 1037h0M997 896h0M1108 996h0M1153 893h0M980 987h0M1180 930h0M1178 924h0M879 1029h0M1182 1044h0M1050 901h0M1113 984h0M936 907h0M1160 975h0M888 908h0M989 979h0M945 938h0M872 1023h0M1179 893h0M1001 947h0M935 998h0M1012 971h0M946 949h0M1088 1064h0M880 946h0M1004 1050h0M989 1056h0M1096 992h0M891 999h0M1129 1058h0M1150 1025h0M1139 1035h0M1167 1024h0M1169 1017h0M1160 1022h0M1145 1032h0M1155 1024h0M1139 1027h0M1171 1017h0M1158 1021h0M736 1025h0M752 1025h0M718 1058h0M748 1019h0M696 1028h0M723 1069h0M752 1021h0M741 1044h0M714 1047h0M740 1054h0M736 1042h0M732 1024h0M702 1017h0M712 1055h0M744 1041h0M701 1031h0M709 1010h0M753 1006h0M700 1017h0M721 1055h0M747 1057h0M754 1054h0M748 1022h0M746 995h0M743 1057h0M737 1053h0M728 1005h0M736 1046h0M735 1058h0M764 1028h0M732 999h0M748 1013h0M749 1049h0M753 1046h0M735 1023h0M747 1055h0M757 1026h0M722 1046h0M732 1050h0M708 1034h0M744 1023h0M705 1050h0M724 1045h0M742 1056h0M714 1034h0M713 1067h0M735 1042h0M714 1015h0M746 1066h0M734 1001h0M758 1031h0M746 1045h0M724 1057h0M755 1021h0M742 1038h0M722 1058h0M709 1014h0M706 1046h0M762 1038h0M733 999h0M849 973h0M803 976h0M879 972h0M816 975h0M898 968h0M873 968h0M901 973h0M828 970h0M892 973h0M871 966h0M800 979h0M882 970h0M902 971h0M838 973h0M904 974h0M840 974h0M816 975h0M800 980h0M910 972h0M865 975h0M824 978h0M822 979h0M896 972h0M878 972h0M858 970h0M908 977h0M827 966h0M819 980h0M868 973h0M908 972h0M835 975h0M822 972h0M902 975h0M824 978h0M865 970h0M881 966h0M809 980h0M888 974h0M807 978h0M812 974h0M877 974h0M890 973h0M809 975h0M815 976h0M785 984h0M931 1047h0M880 1052h0M932 1034h0M886 1119h0M881 1091h0M850 1161h0M879 1120h0M874 1147h0M876 1124h0M874 1162h0M876 1091h0M868 1146h0M890 1129h0M909 1066h0M903 1100h0M876 1111h0M893 1123h0M892 1082h0M871 1158h0M861 1171h0M880 1068h0M871 1073h0M903 1074h0M883 1091h0M866 1168h0M878 1098h0M886 1101h0M916 1050h0M893 1094h0M938 1038h0M872 1155h0M891 1064h0M911 1054h0M864 1171h0M893 1054h0M893 1089h0M887 1105h0M883 1088h0M860 1158h0M913 1029h0M882 1121h0M883 1080h0M873 1128h0M906 1060h0M885 1079h0M927 1049h0M913 1053h0M898 1080h0M866 1146h0M906 1057h0M876 1132h0M880 1137h0M878 1140h0M922 1054h0M882 1071h0M854 1133h0M883 1154h0M864 1117h0M912 1044h0M892 1075h0M921 1034h0M887 1081h0M883 1079h0M918 1029h0M879 1130h0M873 1126h0M851 1132h0M886 1045h0M893 1144h0M878 1097h0M860 1232h0M880 1173h0M890 1217h0M894 1212h0M851 1205h0M851 1184h0M862 1188h0M838 1206h0M882 1203h0M855 1203h0M842 1218h0M855 1209h0M860 1192h0M886 1180h0M875 1187h0M870 1181h0M879 1178h0M870 1222h0M865 1216h0M867 1204h0M894 1198h0M857 1181h0M851 1205h0M850 1218h0M849 1205h0M852 1216h0M867 1187h0M875 1172h0M860 1176h0M879 1214h0M832 1211h0M844 1186h0M888 1196h0M882 1223h0M861 1178h0M879 1218h0M863 1178h0M870 1236h0M858 1178h0M862 1223h0M869 1225h0M892 1204h0M863 1216h0M867 1216h0M852 1176h0M852 1189h0M846 1191h0M829 1199h0M883 1179h0M865 1231h0M865 1218h0M857 1208h0M840 1207h0M848 1175h0M846 1230h0M870 1195h0M896 1187h0M863 1179h0M887 1199h0M848 1177h0M837 1181h0M893 1206h0M884 1210h0M879 1186h0M878 1211h0M841 1224h0M841 1224h0M891 1203h0M881 1209h0M855 1180h0M850 1235h0M853 1180h0M890 1228h0M861 1204h0M853 1177h0M837 1221h0M854 1200h0M884 1199h0M879 1192h0M864 1205h0M893 1213h0M882 1211h0M861 1197h0M840 1220h0M896 1215h0M890 1203h0M882 1233h0M862 1205h0M842 1216h0M877 1190h0M1079 1164h0M1081 1154h0M1068 1147h0M1089 1141h0M1054 1138h0M1071 1142h0M1038 1147h0M1023 1191h0M1047 1169h0M1029 1158h0M1020 1159h0M1019 1166h0M1032 1167h0M1057 1175h0M1066 1171h0M1077 1144h0M1082 1161h0M1085 1158h0M1071 1165h0M1077 1144h0M1074 1150h0M1026 1195h0M1010 1186h0M1044 1168h0M1044 1160h0M1076 1144h0M1072 1150h0M1102 1151h0M1038 1160h0M1037 1157h0M1033 1170h0M1060 1155h0M1047 1146h0M1045 1143h0M1024 1179h0M1058 1156h0M1030 1159h0M1028 1174h0M1086 1126h0M1079 1131h0M1130 1070h0M1140 1106h0M1122 1084h0M1145 1081h0M1118 1078h0M1094 1092h0M1147 1092h0M1106 1072h0M1102 1106h0M1122 1074h0M1099 1081h0M1134 1106h0M1119 1093h0M1118 1078h0M1138 1105h0M1113 1061h0M1107 1106h0M1142 1074h0M1099 1073h0M1102 1092h0M1113 1099h0M1102 1075h0M1117 1113h0M1129 1100h0M1108 1109h0M1141 1084h0M1106 1095h0M1100 1093h0M1130 1082h0M1143 1093h0M1132 1083h0M1138 1083h0M1123 1095h0M1132 1109h0M1130 1104h0M1110 1107h0M1127 1106h0M1116 1078h0M1150 1094h0M1141 1084h0M1167 1316h0M1163 1168h0M1192 1349h0M1112 1097h0M1191 1389h0M1128 1100h0M1190 1369h0M1189 1316h0M1183 1255h0M1173 1168h0M1109 1064h0M1166 1268h0M1186 1229h0M1174 1328h0M1149 1138h0M1133 1108h0M1139 1165h0M1192 1378h0M1168 1243h0M1115 1092h0M1168 1228h0M1102 1063h0M1101 1054h0M1141 1079h0M1181 1271h0M1179 1278h0M1144 1098h0M1179 1190h0M1102 1074h0M1152 1120h0M1195 1401h0M1120 1101h0M1192 1237h0M1192 1358h0M1184 1361h0M1176 1328h0M1114 1084h0M1132 1146h0M1162 1137h0M1191 1358h0M1195 1410h0M1177 1230h0M1135 1103h0M1161 1210h0M1116 1055h0M1181 1337h0M1171 1361h0M1143 1121h0M1162 1142h0M1157 1165h0M1156 1161h0M1136 1105h0M1181 1314h0M1158 1146h0M1176 1283h0M1162 1283h0M1142 1093h0M1185 1330h0M1164 1129h0M1153 1159h0M1136 1114h0M1159 1189h0M1193 1376h0M1145 1148h0M1203 1360h0M1183 1313h0M1142 1142h0M1165 1268h0M1186 1376h0M1157 1193h0M1173 1293h0M1180 1310h0M1157 1184h0M1182 1194h0M1159 1192h0M1186 1335h0M1133 1092h0M1181 1322h0M1198 1388h0M1183 1382h0M1191 1333h0M1174 1183h0M1147 1198h0M1204 1368h0M1166 1219h0M1179 1199h0M1137 1112h0M1172 1276h0M1181 1347h0M1192 1394h0M1122 1125h0M1199 1405h0M1179 1296h0M1110 1082h0M1128 1125h0M1160 1136h0M1160 1155h0M1156 1290h0M1170 1381h0M1189 1337h0M1145 1184h0M1173 1373h0M1179 1417h0M1187 1375h0M1167 1197h0M1164 1315h0M1157 1165h0M1168 1184h0M1157 1151h0M1199 1320h0M1150 1384h0M1154 1397h0M1128 1387h0M1152 1386h0M1148 1384h0M1145 1378h0M1157 1388h0M1152 1384h0M1124 1379h0M1125 1377h0M1142 1376h0M1126 1370h0M1147 1389h0M1158 1391h0M1138 1378h0M1126 1375h0M1140 1393h0M1130 1389h0M1128 1384h0M1136 1387h0M1133 1376h0M1140 1379h0M1142 1382h0M1157 1383h0M1134 1377h0M1135 1374h0M1129 1374h0M1151 1391h0M1157 1380h0M1145 1391h0M1136 1389h0M1131 1387h0M1142 1380h0M1147 1391h0M1133 1381h0M1156 1385h0M1129 1384h0M1152 1390h0M1121 1379h0M1148 1399h0M1152 1392h0M1134 1375h0M1139 1387h0M1137 1388h0M1144 1382h0M1153 1375h0M1160 1383h0M1123 1365h0M1129 1376h0M1131 1378h0M1144 1389h0M1145 1389h0M1131 1366h0M1142 1398h0M1139 1382h0M1145 1386h0M1145 1394h0M1133 1378h0M1159 1393h0M1145 1393h0M1140 1380h0M1150 1385h0M1144 1387h0M1144 1388h0M1142 1393h0M1125 1373h0M1147 1384h0M1139 1396h0M1128 1378h0M1131 1386h0M1213 1309h0M1209 1315h0M1207 1316h0M1213 1310h0M1213 1307h0M1208 1308h0M1207 1330h0M1201 1322h0M1205 1339h0M1198 1353h0M1197 1334h0M1232 1276h0M1214 1288h0M1210 1331h0M1193 1342h0M1229 1272h0M1210 1312h0M1231 1287h0M1203 1330h0M1221 1284h0M1221 1290h0M1207 1329h0M1209 1290h0M1218 1296h0M1208 1302h0M1210 1274h0M1213 1342h0M1194 1322h0M1205 1320h0M1213 1297h0M1205 1308h0M1193 1333h0M1202 1335h0M1216 1292h0M1214 1268h0M1216 1298h0M1212 1342h0M1218 1277h0M1199 1335h0M1209 1307h0M1206 1328h0M1211 1313h0M1199 1353h0M1205 1317h0M1224 1273h0M1223 1301h0M1219 1326h0M1203 1343h0M1207 1344h0M1207 1334h0M1201 1322h0M1200 1343h0M1202 1350h0M1217 1290h0M1207 1344h0M1218 1302h0M1223 1272h0M1206 1335h0M1222 1285h0M1225 1283h0M1198 1339h0M1217 1311h0M1199 1331h0M1204 1317h0M1216 1274h0M1210 1339h0M1196 1322h0M1221 1327h0M1218 1291h0M1215 1306h0M1201 1147h0M1185 1142h0M1228 1108h0M1223 1167h0M1195 1156h0M1226 1138h0M1230 1132h0M1201 1198h0M1199 1184h0M1207 1131h0M1223 1118h0M1228 1135h0M1221 1154h0M1210 1160h0M1223 1127h0M1225 1109h0M1218 1173h0M1185 1152h0M1212 1117h0M1187 1130h0" stroke="#F8766D"/><path d="M561 594h0M507 604h0M503 603h0M498 596h0M505 615h0M559 600h0M570 621h0M477 586h0M422 611h0M500 595h0M567 579h0M541 599h0M429 621h0M489 606h0M559 606h0M409 626h0M561 622h0M525 611h0M480 583h0M399 604h0M489 583h0M532 593h0M551 605h0M494 599h0M581 616h0M527 598h0M478 567h0M419 585h0M402 594h0M419 575h0M499 591h0M594 592h0M600 603h0M403 629h0M569 576h0M535 582h0M547 585h0M494 579h0M538 592h0M555 593h0M568 611h0M479 575h0M598 594h0M537 575h0M537 617h0M576 617h0M497 564h0M572 577h0M402 584h0M443 598h0M411 615h0M499 608h0M527 593h0M594 581h0M545 617h0M485 598h0M430 594h0M441 608h0M503 617h0M390 611h0M485 596h0M472 597h0M402 636h0M460 579h0M423 605h0M420 613h0M531 624h0M556 594h0M575 604h0M492 584h0M510 605h0M590 614h0M552 601h0M548 569h0M395 580h0M393 615h0M481 589h0M528 631h0M536 581h0M556 589h0M551 581h0M478 592h0M562 636h0M403 584h0M519 593h0M449 595h0M564 604h0M510 614h0M478 592h0M456 618h0M509 607h0M554 621h0M517 618h0M392 597h0M492 580h0M528 621h0M541 604h0M422 614h0M562 627h0M551 592h0M579 588h0M498 617h0M505 590h0M561 409h0M530 509h0M412 554h0M543 595h0M422 545h0M564 431h0M430 481h0M437 487h0M564 572h0M413 514h0M566 567h0M469 561h0M478 439h0M537 488h0M549 501h0M514 435h0M506 446h0M478 449h0M407 515h0M546 420h0M593 558h0M472 551h0M528 413h0M417 529h0M552 489h0M498 486h0M548 503h0M482 461h0M531 422h0M509 547h0M540 447h0M482 581h0M495 505h0M525 441h0M556 450h0M504 495h0M500 433h0M494 502h0M546 456h0M503 457h0M571 429h0M537 480h0M544 489h0M501 525h0M418 591h0M538 507h0M475 588h0M520 462h0M524 487h0M453 567h0M531 588h0M556 531h0M495 424h0M539 477h0M445 554h0M512 532h0M513 528h0M533 431h0M444 601h0M451 461h0M518 455h0M406 519h0M522 510h0M473 468h0M531 545h0M465 481h0M577 565h0M590 572h0M469 468h0M554 486h0M499 454h0M493 542h0M412 546h0M457 477h0M522 505h0M521 483h0M557 523h0M548 463h0M497 549h0M512 417h0M440 528h0M401 549h0M515 557h0M500 475h0M407 512h0M575 542h0M514 492h0M472 501h0M432 581h0M455 573h0M545 510h0M538 457h0M450 510h0M446 557h0M485 487h0M554 527h0M522 470h0M558 548h0M484 593h0M555 492h0M472 501h0M518 422h0M476 450h0M463 581h0M441 470h0M405 533h0M523 461h0M458 440h0M574 547h0M509 465h0M458 483h0M490 493h0M493 545h0M408 549h0M467 513h0M451 490h0M507 472h0M483 558h0M550 411h0M546 545h0M421 509h0M468 476h0M530 537h0M569 590h0M498 428h0M559 555h0M539 486h0M404 560h0M441 575h0M525 566h0M465 544h0M556 554h0M425 547h0M545 565h0M495 560h0M536 553h0M500 517h0M512 573h0M511 492h0M550 522h0M476 565h0M485 461h0M465 444h0M543 482h0M538 414h0M434 471h0M559 492h0M435 500h0M461 518h0M458 522h0M566 541h0M468 564h0M502 576h0M410 549h0M421 526h0M491 507h0M516 554h0M517 587h0M582 557h0M481 448h0M552 411h0M448 540h0M515 424h0M507 485h0M514 502h0M430 564h0M495 557h0M530 555h0M491 518h0M542 467h0M475 483h0M426 494h0M417 512h0M578 561h0M547 423h0M416 562h0M438 587h0M451 557h0M512 557h0M541 491h0M450 569h0M498 442h0M566 553h0M477 513h0M496 462h0M598 556h0M425 550h0M547 503h0M466 458h0M488 564h0M555 476h0M556 581h0M479 444h0M551 578h0M539 536h0M448 510h0M553 512h0M531 552h0M542 490h0M483 440h0M466 551h0M577 580h0M494 439h0M504 560h0M464 472h0M463 556h0M431 586h0M529 490h0M497 465h0M488 534h0M422 573h0M482 519h0M497 457h0M483 540h0M537 517h0M511 570h0M504 559h0M532 409h0M574 449h0M569 448h0M465 546h0M581 585h0M534 426h0M421 562h0M506 553h0M532 438h0M488 573h0M539 498h0M559 461h0M538 561h0M489 422h0M518 423h0M476 476h0M459 462h0M438 479h0M426 567h0M447 556h0M418 502h0M492 520h0M523 548h0M451 445h0M481 483h0M506 543h0M580 564h0M540 423h0M567 548h0M477 570h0M571 556h0M486 465h0M497 581h0M540 456h0M502 505h0M457 573h0M535 535h0M470 452h0M434 474h0M520 539h0M480 588h0M589 567h0M429 564h0M544 447h0M406 505h0M481 574h0M532 517h0M458 454h0M568 419h0M529 520h0M460 456h0M540 578h0M427 493h0M523 407h0M527 498h0M565 547h0M591 543h0M493 496h0M441 568h0M504 534h0M450 528h0M407 522h0M560 467h0M510 535h0M568 416h0M511 574h0M470 570h0M572 557h0M566 547h0M507 563h0M561 588h0M474 480h0M464 508h0M463 484h0M569 443h0M514 593h0M530 513h0M456 554h0M438 605h0M484 520h0M517 553h0M529 423h0M451 573h0M484 565h0M480 571h0M413 551h0M422 534h0M432 567h0M437 578h0M543 429h0M451 566h0M511 486h0M465 581h0M528 415h0M554 428h0M456 452h0M595 577h0M543 490h0M561 538h0M409 553h0M415 539h0M481 537h0M530 534h0M532 577h0M487 514h0M559 527h0M412 567h0M533 576h0M566 525h0M499 562h0M448 491h0M408 550h0M539 414h0M555 466h0M535 423h0M579 565h0M418 535h0M502 473h0M563 566h0M477 480h0M498 493h0M504 550h0M436 460h0M494 565h0M529 563h0M451 507h0M475 436h0M563 565h0M491 459h0M500 576h0M536 500h0M432 476h0M462 470h0M407 531h0M489 465h0M513 543h0M489 462h0M441 575h0M518 574h0M460 564h0M490 574h0M570 566h0M551 445h0M559 432h0M475 580h0M410 558h0M553 493h0M433 601h0M496 539h0M400 553h0M418 547h0M518 550h0M514 550h0M572 539h0M472 481h0M508 566h0M473 550h0M517 428h0M434 495h0M438 569h0M444 470h0M453 593h0M492 547h0M544 548h0M566 556h0M530 454h0M565 577h0M510 439h0M568 443h0M511 574h0M427 475h0M522 540h0M551 444h0M428 556h0M521 564h0M562 593h0M540 588h0M561 587h0M462 584h0M560 547h0M596 555h0M450 493h0M439 555h0M458 478h0M552 418h0M477 593h0M512 425h0M569 416h0M493 486h0M527 588h0M510 545h0M497 516h0M495 531h0M471 557h0M504 550h0M469 440h0M539 591h0M448 460h0M541 511h0M438 547h0M474 583h0M521 552h0M491 492h0M428 556h0M503 438h0M479 556h0M508 457h0M416 563h0M406 579h0M473 537h0M457 443h0M533 550h0M566 427h0M414 509h0M463 462h0M499 434h0M550 588h0M507 534h0M556 446h0M494 431h0M530 520h0M526 417h0M411 537h0M461 487h0M486 427h0M472 457h0M485 473h0M479 453h0M576 567h0M539 511h0M538 499h0M449 478h0M497 469h0M552 484h0M532 497h0M479 468h0M450 534h0M492 478h0M501 452h0M492 522h0M467 538h0M549 428h0M494 560h0M512 588h0M427 593h0M419 480h0M448 512h0M522 443h0M439 475h0M451 463h0M435 582h0M580 572h0M493 502h0M529 484h0M507 484h0M494 467h0M588 560h0M423 563h0M449 462h0M489 429h0M506 413h0M406 517h0M502 571h0M583 567h0M468 471h0M417 546h0M477 474h0M524 544h0M560 517h0M540 530h0M489 514h0M507 576h0M497 438h0M406 562h0M454 575h0M517 464h0M441 552h0M480 569h0M514 542h0M550 500h0M469 461h0M421 494h0M500 541h0M554 431h0M526 485h0M401 570h0M506 489h0M581 546h0M490 460h0M437 555h0M527 451h0M508 505h0M507 426h0M485 477h0M572 544h0M465 455h0M495 507h0M538 498h0M526 516h0M519 461h0M587 569h0M450 527h0M424 563h0M530 414h0M502 577h0M506 595h0M470 543h0M480 564h0M513 463h0M438 501h0M566 429h0M510 550h0M554 483h0M412 538h0M403 543h0M524 577h0M580 524h0M514 515h0M398 573h0M454 571h0M501 573h0M490 468h0M482 533h0M426 518h0M568 596h0M570 522h0M587 583h0M422 513h0M544 444h0M474 450h0M422 501h0M468 546h0M476 564h0M421 555h0M524 431h0M535 475h0M575 449h0M552 492h0M553 518h0M473 505h0M433 559h0M507 577h0M406 552h0M478 574h0M580 561h0M562 574h0M489 461h0M462 553h0M529 440h0M488 530h0M522 490h0M458 457h0M476 457h0M558 434h0M489 470h0M596 557h0M525 467h0M546 465h0M499 542h0M403 556h0M529 514h0M462 470h0M501 575h0M519 444h0M475 518h0M495 427h0M511 564h0M552 443h0M432 589h0M536 569h0M453 556h0M444 571h0M421 508h0M453 559h0M516 423h0M436 566h0M546 487h0M556 546h0M552 559h0M430 485h0M450 518h0M402 541h0M484 563h0M555 413h0M557 565h0M431 499h0M497 450h0M409 543h0M413 598h0M437 555h0M429 575h0M520 433h0M548 504h0M469 573h0M518 569h0M473 543h0M469 561h0M512 503h0M465 551h0M559 482h0M510 528h0M490 448h0M510 431h0M511 513h0M423 478h0M470 560h0M475 543h0M498 496h0M467 532h0M501 422h0M529 561h0M508 468h0M468 453h0M419 577h0M476 441h0M568 440h0M500 485h0M527 478h0M522 449h0M440 477h0M581 558h0M480 528h0M527 505h0M524 483h0M497 573h0M476 462h0M493 480h0M468 470h0M563 511h0M488 471h0M469 465h0M545 536h0M424 580h0M456 456h0M553 563h0M497 543h0M465 449h0M481 540h0M553 473h0M504 436h0M555 419h0M532 513h0M461 597h0M473 473h0M546 419h0M564 462h0M554 569h0M475 596h0M478 562h0M460 512h0M493 479h0M495 539h0M406 549h0M415 564h0M519 501h0M501 550h0M444 525h0M454 598h0M499 426h0M544 488h0M536 492h0M567 584h0M500 434h0M556 468h0M565 553h0M415 596h0M557 585h0M557 469h0M491 424h0M552 460h0M522 500h0M474 442h0M428 549h0M495 466h0M568 426h0M400 537h0M486 551h0M495 540h0M554 555h0M442 561h0M503 569h0M546 497h0M468 533h0M412 583h0M583 526h0M520 533h0M481 586h0M551 483h0M516 526h0M501 472h0M458 463h0M421 605h0M445 585h0M509 540h0M491 442h0M425 499h0M504 558h0M515 597h0M483 478h0M533 447h0M516 560h0M473 467h0M461 560h0M507 524h0M484 549h0M478 452h0M524 574h0M510 438h0M567 433h0M529 559h0M528 553h0M564 412h0M472 483h0M584 569h0M443 492h0M470 519h0M476 586h0M446 524h0M512 555h0M485 499h0M536 412h0M436 569h0M481 576h0M489 466h0M467 528h0M474 466h0M581 559h0M600 555h0M548 466h0M426 557h0M440 479h0M439 556h0M419 574h0M544 477h0M484 465h0M540 427h0M517 428h0M495 454h0M531 476h0M481 569h0M452 447h0M513 558h0M517 515h0M542 578h0M435 489h0M551 503h0M499 498h0M474 447h0M424 496h0M463 472h0M446 566h0M538 519h0M505 468h0M519 497h0M483 584h0M518 584h0M540 473h0M492 427h0M500 533h0M502 489h0M511 433h0M477 562h0M457 586h0M431 577h0M446 599h0M593 541h0M485 572h0M511 427h0M569 440h0M487 520h0M416 495h0M487 438h0M563 554h0M474 454h0M567 568h0M517 549h0M475 460h0M432 566h0M486 455h0M531 517h0M469 479h0M560 565h0M453 549h0M438 528h0M488 582h0M428 473h0M501 438h0M501 552h0M499 491h0M447 455h0M414 498h0M461 463h0M477 429h0M528 529h0M593 554h0M489 434h0M519 554h0M570 585h0M519 570h0M462 511h0M538 435h0M494 470h0M401 580h0M512 471h0M517 515h0M502 528h0M495 475h0M598 564h0M438 459h0M407 599h0M521 539h0M461 506h0M417 544h0M557 449h0M431 559h0M458 535h0M482 599h0M414 492h0M509 496h0M517 497h0M564 562h0M511 466h0M555 489h0M492 577h0M411 520h0M513 532h0M521 415h0M537 427h0M520 489h0M474 551h0M516 484h0M404 547h0M427 515h0M460 475h0M483 528h0M498 441h0M520 523h0M473 429h0M565 561h0M550 502h0M433 565h0M491 495h0M516 585h0M447 594h0M503 524h0M478 524h0M488 479h0M425 522h0M551 467h0M494 535h0M407 552h0M434 459h0M548 440h0M544 478h0M404 534h0M492 455h0M493 480h0M509 558h0M459 571h0M452 573h0M522 512h0M545 502h0M494 474h0M489 482h0M571 572h0M464 595h0M548 481h0M514 491h0M509 558h0M574 543h0M527 450h0M482 594h0M540 407h0M485 508h0M471 449h0M507 460h0M508 425h0M480 429h0M541 477h0M550 425h0M556 513h0M406 546h0M540 570h0M460 552h0M580 531h0M582 551h0M562 427h0M438 536h0M565 520h0M464 473h0M534 555h0M467 540h0M510 499h0M487 578h0M433 563h0M478 548h0M495 487h0M571 552h0M527 495h0M528 553h0M438 497h0M490 481h0M504 520h0M501 540h0M527 754h0M420 667h0M619 721h0M538 757h0M624 759h0M581 775h0M656 748h0M423 735h0M650 619h0M606 740h0M610 633h0M554 646h0M631 831h0M615 807h0M383 665h0M587 839h0M652 725h0M495 707h0M456 776h0M657 688h0M590 663h0M490 761h0M499 664h0M510 651h0M569 628h0M534 792h0M671 715h0M664 738h0M498 626h0M430 789h0M664 671h0M586 663h0M520 679h0M407 680h0M367 737h0M576 677h0M457 688h0M439 686h0M464 720h0M412 728h0M455 747h0M584 810h0M667 631h0M662 746h0M452 640h0M590 780h0M558 731h0M403 781h0M637 624h0M555 691h0M577 764h0M583 806h0M503 725h0M486 706h0M450 764h0M662 755h0M585 819h0M372 680h0M388 698h0M496 658h0M560 809h0M490 773h0M589 725h0M468 763h0M602 791h0M707 704h0M599 699h0M587 860h0M489 651h0M390 649h0M604 846h0M419 803h0M600 736h0M523 760h0M688 724h0M564 627h0M549 777h0M642 634h0M549 782h0M536 715h0M649 741h0M579 804h0M546 634h0M475 741h0M600 646h0M591 712h0M394 674h0M440 651h0M589 800h0M650 749h0M472 754h0M556 693h0M636 691h0M583 783h0M539 728h0M548 768h0M607 654h0M447 753h0M381 700h0M582 665h0M415 674h0M541 789h0M421 649h0M517 779h0M427 665h0M599 619h0M692 691h0M504 786h0M540 789h0M579 839h0M658 659h0M465 801h0M589 850h0M682 728h0M491 725h0M605 739h0M526 687h0M387 765h0M511 676h0M541 839h0M416 668h0M607 738h0M654 730h0M524 772h0M480 632h0M711 717h0M434 798h0M553 789h0M589 716h0M425 721h0M532 821h0M603 655h0M503 764h0M523 742h0M604 781h0M584 654h0M655 687h0M396 780h0M624 707h0M556 846h0M414 733h0M568 807h0M603 715h0M610 659h0M418 631h0M572 780h0M589 812h0M625 821h0M551 790h0M404 677h0M470 776h0M442 749h0M607 640h0M533 797h0M631 810h0M454 628h0M596 817h0M682 661h0M649 780h0M457 794h0M586 715h0M586 764h0M632 648h0M499 667h0M603 617h0M637 784h0M503 787h0M663 651h0M443 733h0M692 692h0M525 698h0M652 630h0M691 760h0M471 658h0M675 761h0M555 700h0M480 664h0M394 659h0M549 795h0M630 820h0M612 629h0M574 743h0M531 831h0M579 721h0M417 649h0M557 699h0M512 745h0M690 706h0M554 724h0M650 620h0M568 734h0M628 847h0M495 644h0M613 742h0M565 738h0M575 723h0M464 744h0M521 753h0M635 790h0M468 610h0M420 751h0M405 689h0M593 811h0M617 618h0M566 805h0M631 753h0M518 732h0M618 739h0M574 731h0M406 731h0M624 670h0M629 718h0M647 638h0M581 657h0M567 705h0M540 736h0M554 758h0M695 680h0M534 723h0M554 708h0M602 659h0M599 834h0M685 748h0M542 777h0M483 639h0M386 759h0M510 679h0M489 692h0M581 802h0M615 761h0M649 670h0M395 694h0M560 792h0M581 669h0M598 736h0M535 740h0M625 798h0M615 767h0M382 710h0M411 696h0M454 721h0M547 641h0M692 755h0M413 780h0M607 814h0M600 835h0M461 778h0M477 788h0M587 657h0M646 789h0M505 624h0M507 785h0M417 709h0M555 783h0M382 709h0M478 621h0M626 737h0M643 783h0M505 722h0M467 807h0M606 847h0M632 722h0M504 644h0M569 702h0M545 829h0M618 650h0M635 796h0M590 725h0M448 665h0M463 686h0M418 795h0M431 638h0M495 745h0M607 799h0M413 797h0M423 786h0M472 614h0M569 808h0M579 748h0M535 692h0M374 680h0M430 658h0M497 801h0M578 759h0M393 678h0M541 776h0M575 850h0M410 676h0M534 837h0M597 857h0M656 659h0M472 733h0M635 806h0M553 763h0M400 757h0M636 665h0M561 784h0M441 656h0M474 675h0M427 789h0M597 705h0M629 822h0M467 721h0M490 622h0M605 839h0M484 736h0M482 713h0M595 858h0M639 802h0M473 797h0M666 699h0M581 711h0M566 811h0M653 782h0M561 693h0M638 768h0M663 698h0M595 850h0M520 673h0M516 725h0M397 705h0M640 727h0M596 630h0M576 868h0M370 682h0M473 736h0M709 678h0M468 787h0M528 777h0M461 642h0M630 830h0M586 803h0M562 684h0M644 691h0M700 708h0M641 791h0M695 744h0M520 775h0M530 820h0M550 771h0M480 675h0M640 828h0M369 683h0M589 847h0M512 632h0M422 774h0M573 669h0M615 797h0M596 711h0M514 804h0M470 691h0M627 814h0M540 732h0M588 662h0M645 707h0M613 799h0M486 692h0M569 826h0M520 762h0M707 680h0M489 796h0M592 781h0M688 739h0M372 690h0M443 625h0M556 665h0M460 760h0M496 649h0M596 769h0M474 667h0M483 653h0M477 751h0M621 783h0M633 767h0M442 778h0M398 710h0M475 801h0M508 661h0M562 793h0M603 718h0M636 712h0M508 667h0M683 650h0M414 702h0M525 753h0M391 720h0M682 706h0M437 685h0M512 628h0M409 646h0M504 816h0M473 625h0M513 767h0M664 679h0M462 690h0M509 630h0M612 651h0M404 686h0M597 679h0M416 687h0M398 692h0M510 677h0M397 666h0M494 642h0M628 809h0M413 677h0M410 722h0M683 677h0M552 628h0M555 757h0M531 812h0M658 725h0M575 748h0M556 643h0M603 708h0M593 869h0M601 860h0M448 722h0M599 725h0M649 762h0M602 759h0M636 682h0M642 744h0M555 720h0M430 626h0M579 872h0M407 786h0M504 810h0M685 697h0M529 764h0M670 679h0M542 705h0M524 760h0M559 840h0M533 791h0M437 751h0M585 668h0M486 752h0M557 654h0M417 784h0M453 610h0M432 772h0M644 797h0M484 694h0M401 750h0M637 715h0M483 695h0M656 754h0M666 752h0M548 832h0M504 715h0M649 792h0M664 691h0M407 660h0M504 650h0M590 689h0M564 646h0M458 686h0M471 753h0M642 772h0M599 814h0M470 697h0M484 791h0M599 829h0M611 673h0M419 775h0M653 767h0M453 627h0M572 736h0M590 723h0M662 703h0M429 640h0M576 717h0M568 650h0M628 674h0M539 801h0M628 724h0M611 799h0M634 741h0M547 656h0M427 743h0M588 733h0M643 815h0M492 751h0M482 637h0M545 842h0M512 675h0M619 848h0M474 726h0M516 809h0M633 827h0M495 654h0M501 632h0M652 733h0M586 692h0M619 693h0M546 660h0M509 659h0M592 778h0M572 841h0M593 614h0M521 656h0M593 797h0M499 642h0M406 718h0M493 623h0M672 655h0M631 783h0M463 705h0M621 630h0M384 756h0M489 740h0M645 771h0M507 629h0M535 825h0M631 703h0M630 731h0M534 783h0M458 790h0M444 728h0M626 639h0M651 796h0M575 817h0M524 807h0M592 838h0M509 630h0M425 794h0M648 777h0M419 692h0M407 732h0M478 660h0M454 692h0M498 685h0M676 777h0M579 649h0M564 757h0M688 747h0M408 780h0M674 674h0M471 816h0M701 674h0M389 701h0M588 706h0M612 627h0M528 628h0M625 722h0M457 693h0M419 733h0M441 656h0M624 821h0M612 748h0M520 817h0M394 680h0M670 674h0M568 763h0M700 709h0M606 870h0M619 765h0M481 806h0M508 705h0M479 657h0M514 652h0M610 775h0M586 644h0M410 667h0M510 656h0M667 760h0M581 613h0M593 668h0M401 748h0M598 844h0M503 696h0M482 681h0M551 736h0M396 655h0M533 680h0M393 752h0M483 788h0M585 800h0M614 811h0M429 686h0M629 825h0M453 654h0M503 661h0M417 635h0M654 780h0M500 783h0M504 674h0M466 727h0M650 676h0M490 709h0M636 704h0M678 657h0M688 756h0M635 651h0M451 635h0M543 795h0M411 647h0M674 733h0M379 684h0M650 700h0M383 678h0M474 775h0M427 788h0M509 636h0M451 762h0M577 657h0M449 758h0M481 652h0M535 785h0M630 831h0M463 721h0M394 665h0M570 868h0M628 678h0M612 654h0M434 731h0M404 756h0M411 740h0M576 715h0M522 717h0M672 760h0M592 844h0M664 786h0M414 649h0M620 703h0M609 801h0M557 776h0M496 629h0M589 664h0M634 802h0M543 817h0M619 791h0M706 728h0M376 694h0M626 787h0M483 720h0M570 789h0M548 725h0M647 793h0M576 624h0M453 643h0M599 842h0M642 793h0M598 771h0M415 670h0M478 796h0M519 745h0M583 736h0M614 825h0M591 712h0M604 711h0M460 805h0M566 727h0M673 759h0M594 737h0M366 730h0M627 814h0M457 654h0M602 638h0M591 652h0M422 651h0M620 651h0M596 810h0M685 655h0M675 668h0M441 777h0M545 818h0M444 736h0M445 755h0M602 720h0M625 694h0M691 753h0M599 861h0M540 806h0M532 728h0M545 765h0M450 672h0M560 773h0M700 682h0M616 635h0M588 655h0M513 762h0M517 790h0M598 709h0M554 761h0M428 718h0M551 800h0M600 859h0M554 772h0M390 766h0M438 676h0M490 651h0M486 620h0M632 706h0M598 749h0M671 680h0M622 802h0M565 850h0M485 642h0M583 862h0M511 771h0M596 693h0M460 775h0M472 707h0M630 713h0M453 734h0M590 856h0M497 744h0M626 824h0M616 738h0M608 801h0M603 834h0M627 795h0M537 774h0M431 665h0M498 721h0M494 690h0M640 819h0M562 654h0M676 747h0M569 829h0M652 728h0M684 728h0M704 714h0M646 776h0M547 775h0M455 785h0M549 715h0M532 762h0M663 693h0M595 632h0M511 669h0M560 672h0M702 703h0M479 742h0M583 809h0M621 769h0M634 812h0M580 827h0M637 650h0M459 670h0M387 703h0M577 704h0M532 687h0M591 715h0M528 719h0M514 660h0M493 654h0M620 753h0M567 737h0M641 650h0M474 747h0M614 758h0M531 719h0M572 777h0M415 686h0M421 689h0M667 769h0M600 625h0M367 727h0M621 812h0M435 772h0M627 639h0M654 767h0M611 799h0M550 666h0M516 773h0M505 805h0M434 806h0M424 641h0M531 633h0M659 780h0M561 792h0M437 659h0M578 627h0M545 813h0M379 683h0M628 664h0M408 730h0M411 660h0M644 664h0M434 646h0M450 617h0M496 640h0M475 679h0M620 835h0M417 728h0M682 677h0M514 731h0M688 700h0M595 774h0M500 689h0M685 743h0M666 769h0M591 817h0M570 822h0M431 775h0M515 775h0M409 759h0M632 724h0M563 774h0M435 666h0M631 654h0M380 671h0M443 638h0M408 709h0M699 667h0M560 794h0M561 815h0M564 840h0M569 696h0M668 764h0M434 692h0M641 825h0M547 789h0M687 760h0M378 743h0M547 733h0M600 744h0M568 833h0M617 854h0M563 813h0M412 788h0M432 698h0M425 664h0M641 693h0M575 728h0M416 752h0M538 630h0M545 797h0M385 745h0M631 724h0M661 745h0M519 647h0M571 740h0M390 692h0M462 610h0M458 678h0M550 656h0M658 713h0M528 828h0M492 670h0M671 771h0M600 696h0M643 670h0M432 748h0M646 678h0M702 685h0M637 835h0M625 697h0M583 625h0M448 777h0M486 648h0M514 682h0M605 645h0M370 724h0M616 630h0M594 838h0M428 659h0M630 655h0M543 778h0M565 772h0M643 743h0M420 740h0M576 683h0M568 681h0M573 654h0M481 792h0M554 668h0M538 778h0M558 813h0M483 629h0M582 820h0M458 746h0M414 672h0M423 649h0M633 706h0M501 764h0M601 697h0M488 650h0M481 710h0M549 761h0M696 660h0M415 762h0M610 784h0M476 763h0M541 773h0M435 655h0M426 791h0M423 627h0M456 780h0M592 671h0M563 675h0M467 805h0M575 621h0M487 759h0M402 700h0M615 674h0M672 752h0M505 732h0M596 801h0M622 802h0M585 713h0M616 848h0M531 696h0M545 784h0M623 654h0M435 748h0M643 691h0M573 707h0M619 676h0M399 703h0M605 626h0M513 698h0M672 669h0M553 719h0M453 782h0M478 642h0M609 720h0M424 768h0M483 631h0M546 852h0M633 692h0M607 664h0M515 794h0M590 736h0M403 678h0M449 723h0M412 689h0M671 726h0M555 686h0M474 730h0M549 663h0M577 659h0M603 672h0M449 725h0M666 641h0M523 727h0M464 785h0M433 690h0M428 675h0M618 843h0M612 706h0M550 657h0M433 785h0M404 635h0M526 744h0M403 650h0M618 813h0M691 755h0M592 821h0M466 731h0M551 684h0M482 684h0M570 716h0M674 737h0M606 701h0M569 643h0M444 712h0M673 714h0M569 779h0M491 739h0M566 803h0M420 763h0M463 638h0M610 669h0M411 795h0M677 666h0M523 784h0M605 837h0M488 635h0M650 775h0M624 764h0M559 830h0M568 722h0M607 678h0M498 664h0M608 844h0M639 720h0M656 782h0M459 720h0M530 826h0M490 630h0M589 726h0M511 744h0M641 826h0M628 690h0M684 676h0M687 737h0M615 726h0M389 693h0M612 686h0M538 791h0M457 784h0M641 785h0M553 645h0M400 672h0M443 763h0M557 643h0M544 703h0M484 806h0M475 653h0M480 683h0M486 750h0M622 774h0M501 644h0M381 742h0M616 829h0M673 766h0M470 634h0M495 621h0M529 717h0M677 692h0M614 665h0M395 675h0M632 841h0M674 700h0M542 733h0M416 679h0M591 746h0M505 785h0M435 783h0M572 629h0M568 788h0M644 788h0M539 729h0M577 717h0M501 776h0M617 633h0M604 766h0M585 786h0M492 664h0M451 758h0M407 694h0M537 652h0M679 700h0M459 712h0M544 658h0M655 680h0M581 855h0M543 677h0M414 657h0M621 803h0M537 741h0M418 787h0M578 721h0M544 766h0M514 683h0M530 702h0M581 651h0M490 656h0M500 622h0M649 782h0M528 638h0M528 766h0M508 685h0M548 806h0M586 720h0M554 828h0M564 740h0M628 724h0M629 842h0M545 851h0M464 626h0M456 733h0M595 720h0M560 798h0M536 747h0M591 755h0M514 779h0M399 769h0M444 778h0M598 646h0M612 793h0M621 734h0M440 643h0M553 662h0M699 739h0M660 656h0M672 632h0M411 794h0M430 635h0M548 737h0M564 775h0M651 747h0M557 745h0M381 680h0M641 751h0M433 801h0M613 812h0M369 690h0M644 684h0M536 840h0M361 730h0M566 697h0M537 695h0M594 778h0M608 691h0M402 719h0M599 634h0M558 739h0M646 776h0M606 828h0M594 714h0M398 764h0M496 692h0M620 641h0M610 722h0M479 733h0M654 636h0M486 698h0M442 640h0M476 691h0M481 655h0M601 724h0M550 844h0M549 752h0M459 808h0M466 755h0M449 756h0M442 650h0M511 787h0M636 636h0M649 727h0M580 689h0M440 755h0M476 634h0M414 725h0M507 670h0M643 697h0M606 811h0M599 759h0M677 744h0M416 788h0M445 691h0M567 657h0M397 686h0M574 755h0M532 737h0M647 796h0M465 640h0M513 735h0M502 653h0M634 850h0M567 742h0M686 700h0M535 769h0M578 740h0M625 785h0M499 742h0M485 684h0M489 754h0M589 833h0M687 736h0M614 663h0M487 732h0M615 858h0M499 725h0M466 805h0M495 810h0M420 796h0M456 678h0M468 795h0M561 743h0M462 719h0M586 744h0M395 675h0M405 750h0M668 718h0M599 780h0M450 677h0M659 761h0M409 689h0M400 765h0M424 669h0M432 686h0M434 676h0M409 739h0M539 744h0M421 797h0M631 701h0M629 762h0M429 668h0M409 681h0M417 791h0M632 849h0M609 745h0M503 658h0M655 702h0M600 632h0M636 676h0M417 751h0M543 629h0M601 774h0M584 699h0M482 795h0M614 649h0M439 618h0M604 720h0M618 862h0M377 681h0M701 752h0M710 710h0M560 684h0M598 758h0M655 773h0M419 737h0M472 664h0M542 675h0M692 746h0M513 813h0M684 707h0M499 690h0M604 807h0M453 679h0M708 678h0M708 706h0M544 801h0M493 717h0M709 738h0M403 651h0M662 776h0M380 671h0M589 708h0M540 821h0M553 777h0M534 647h0M616 738h0M402 649h0M659 682h0M646 730h0M560 797h0M506 650h0M623 798h0M549 649h0M400 714h0M449 647h0M542 687h0M492 673h0M563 851h0M550 793h0M542 810h0M435 762h0M504 660h0M605 669h0M433 791h0M473 635h0M623 750h0M414 754h0M588 618h0M596 630h0M409 779h0M596 832h0M420 654h0M641 648h0M479 726h0M614 634h0M529 706h0M590 798h0M592 721h0M552 756h0M467 726h0M410 718h0M687 677h0M651 766h0M464 752h0M558 748h0M433 650h0M391 684h0M426 779h0M435 654h0M581 826h0M543 763h0M397 741h0M441 783h0M566 752h0M500 786h0M571 842h0M636 790h0M403 769h0M587 623h0M605 751h0M540 833h0M462 766h0M664 740h0M626 824h0M553 680h0M591 737h0M418 798h0M597 642h0M434 758h0M670 693h0M583 691h0M607 783h0M480 686h0M444 761h0M638 814h0M415 717h0M556 627h0M493 610h0M383 662h0M547 819h0M591 781h0M611 793h0M611 849h0M602 625h0M570 864h0M487 696h0M577 655h0M458 670h0M562 680h0M588 644h0M413 754h0M497 757h0M480 667h0M556 739h0M572 868h0M657 711h0M433 743h0M370 717h0M660 732h0M575 716h0M553 646h0M435 733h0M626 800h0M567 798h0M664 662h0M436 674h0M441 649h0M615 820h0M552 772h0M580 681h0M678 768h0M491 808h0M548 755h0M412 771h0M605 796h0M587 681h0M578 848h0M525 743h0M429 630h0M639 688h0M411 740h0M522 744h0M371 724h0M590 623h0M361 701h0M384 717h0M486 731h0M520 741h0M589 717h0M505 630h0M541 836h0M604 746h0M715 704h0M457 769h0M516 775h0M607 669h0M496 744h0M688 740h0M483 647h0M626 678h0M661 673h0M532 771h0M658 784h0M573 790h0M635 730h0M621 857h0M463 713h0M423 708h0M658 668h0M557 850h0M557 804h0M478 767h0M457 693h0M621 668h0M648 640h0M547 726h0M626 784h0M378 756h0M455 680h0M565 637h0M606 833h0M557 628h0M593 805h0M558 737h0M500 812h0M708 727h0M453 694h0M629 629h0M394 666h0M595 786h0M615 785h0M515 678h0M575 800h0M465 768h0M512 769h0M573 623h0M425 786h0M581 648h0M637 820h0M432 782h0M435 805h0M573 808h0M551 726h0M600 767h0M575 806h0M607 645h0M650 660h0M603 670h0M633 634h0M470 669h0M533 776h0M404 787h0M384 713h0M408 705h0M603 673h0M511 758h0M599 729h0M426 718h0M589 679h0M589 652h0M466 806h0M513 710h0M545 840h0M615 842h0M505 712h0M460 674h0M421 785h0M522 751h0M602 721h0M381 727h0M425 620h0M613 786h0M540 845h0M627 795h0M691 732h0M524 633h0M646 762h0M583 685h0M639 649h0M494 768h0M504 744h0M661 782h0M431 620h0M646 747h0M633 828h0M461 670h0M634 754h0M694 748h0M476 785h0M407 689h0M559 774h0M450 652h0M606 710h0M614 667h0M536 691h0M583 734h0M371 737h0M599 840h0M384 683h0M597 649h0M639 674h0M485 716h0M489 642h0M447 646h0M702 724h0M591 661h0M565 654h0M474 741h0M650 631h0M553 832h0M463 620h0M604 618h0M689 678h0M394 681h0M597 626h0M658 757h0M544 785h0M565 730h0M652 642h0M471 767h0M527 680h0M392 663h0M450 645h0M404 657h0M547 643h0M427 726h0M544 800h0M592 691h0M432 647h0M652 665h0M618 835h0M453 702h0M452 661h0M484 629h0M437 798h0M410 755h0M595 725h0M494 690h0M558 681h0M436 636h0M564 770h0M586 823h0M552 774h0M619 800h0M381 745h0M497 680h0M477 625h0M523 663h0M598 737h0M596 651h0M604 726h0M429 639h0M405 665h0M575 801h0M445 745h0M427 686h0M650 747h0M633 663h0M543 756h0M605 731h0M600 717h0M430 786h0M480 751h0M548 808h0M429 753h0M432 663h0M580 706h0M705 683h0M569 647h0M636 822h0M544 801h0M577 736h0M650 631h0M390 766h0M606 624h0M622 845h0M554 810h0M507 673h0M471 677h0M492 804h0M451 780h0M530 696h0M471 787h0M585 795h0M579 795h0M515 692h0M403 755h0M658 749h0M615 855h0M631 777h0M440 748h0M575 767h0M385 754h0M598 647h0M496 762h0M508 671h0M444 755h0M609 676h0M564 652h0M524 653h0M593 723h0M534 782h0M590 819h0M526 802h0M460 677h0M505 734h0M491 791h0M608 659h0M528 783h0M463 673h0M602 721h0M672 754h0M568 809h0M628 796h0M575 708h0M386 727h0M664 682h0M432 640h0M542 805h0M411 758h0M414 669h0M402 707h0M383 670h0M385 660h0M528 783h0M627 708h0M657 644h0M473 785h0M674 708h0M601 756h0M533 777h0M497 642h0M574 661h0M702 681h0M569 735h0M486 774h0M482 754h0M622 796h0M543 736h0M489 673h0M477 769h0M523 643h0M596 794h0M509 702h0M521 764h0M405 762h0M627 766h0M375 702h0M582 712h0M586 756h0M626 651h0M612 794h0M578 829h0M455 652h0M587 635h0M444 793h0M620 782h0M552 756h0M660 653h0M473 756h0M584 680h0M634 817h0M639 733h0M556 765h0M668 679h0M559 863h0M671 779h0M409 788h0M628 739h0M444 798h0M439 674h0M585 636h0M442 742h0M616 719h0M669 660h0M591 839h0M486 658h0M626 798h0M626 629h0M432 770h0M406 755h0M611 686h0M614 798h0M541 803h0M696 660h0M637 747h0M617 685h0M619 717h0M534 743h0M554 751h0M433 730h0M640 780h0M684 737h0M656 780h0M515 720h0M521 732h0M514 721h0M462 705h0M578 866h0M677 757h0M578 816h0M620 764h0M423 790h0M520 639h0M477 775h0M566 724h0M546 854h0M377 700h0M470 737h0M541 714h0M491 674h0M450 785h0M561 760h0M414 765h0M470 675h0M510 800h0M572 715h0M417 756h0M627 628h0M502 736h0M545 733h0M647 649h0M596 780h0M627 753h0M418 786h0M462 667h0M427 708h0M424 683h0M459 657h0M464 755h0M534 764h0M631 718h0M441 688h0M425 732h0M581 637h0M668 749h0M582 720h0M438 687h0M613 839h0M581 830h0M687 703h0M636 668h0M441 652h0M595 778h0M558 797h0M544 749h0M485 810h0M525 779h0M569 694h0M418 705h0M463 684h0M484 791h0M501 671h0M383 737h0M656 667h0M458 727h0M647 643h0M604 645h0M637 819h0M627 754h0M627 839h0M641 781h0M557 851h0M433 688h0M448 664h0M604 859h0M544 712h0M538 781h0M490 670h0M663 707h0M623 842h0M583 651h0M586 872h0M486 708h0M438 775h0M647 796h0M517 786h0M594 862h0M627 637h0M507 666h0M675 686h0M532 680h0M627 799h0M546 792h0M540 675h0M575 727h0M397 723h0M506 781h0M550 660h0M385 704h0M434 624h0M626 667h0M616 736h0M524 630h0M605 651h0M440 676h0M491 676h0M620 839h0M547 711h0M605 615h0M397 765h0M436 727h0M425 651h0M647 688h0M632 672h0M584 801h0M584 694h0M611 826h0M582 843h0M627 672h0M411 778h0M429 802h0M582 640h0M460 798h0M371 747h0M538 723h0M563 865h0M490 780h0M556 767h0M615 812h0M584 624h0M541 637h0M469 752h0M600 865h0M706 700h0M585 821h0M545 755h0M697 706h0M449 768h0M517 765h0M424 773h0M486 607h0M645 711h0M597 789h0M645 647h0M398 720h0M549 626h0M565 641h0M539 751h0M558 842h0M589 641h0M599 628h0M595 662h0M629 739h0M430 800h0M543 724h0M370 738h0M554 759h0M710 689h0M443 738h0M638 846h0M502 738h0M437 772h0M641 759h0M454 662h0M487 631h0M422 651h0M486 738h0M438 747h0M596 684h0M587 648h0M605 812h0M440 684h0M485 644h0M594 714h0M554 774h0M600 830h0M599 855h0M565 840h0M594 842h0M641 626h0M554 704h0M551 788h0M433 737h0M547 796h0M621 727h0M431 693h0M704 690h0M443 726h0M584 673h0M676 749h0M415 702h0M476 672h0M475 714h0M502 814h0M493 723h0M605 846h0M499 712h0M441 772h0M630 856h0M376 757h0M466 743h0M388 731h0M517 619h0M590 849h0M633 695h0M578 722h0M638 658h0M377 719h0M418 664h0M539 633h0M594 669h0M423 770h0M596 684h0M556 819h0M439 613h0M534 780h0M485 643h0M403 770h0M653 747h0M374 676h0M432 765h0M431 799h0M471 704h0M392 725h0M580 762h0M460 627h0M454 692h0M445 630h0M650 712h0M510 713h0M424 627h0M432 777h0M520 708h0M408 780h0M552 790h0M440 687h0M693 729h0M449 633h0M503 739h0M556 721h0M468 678h0M485 625h0M471 634h0M473 787h0M581 740h0M660 740h0M700 711h0M524 818h0M492 631h0M465 701h0M440 674h0M533 735h0M645 743h0M587 711h0M631 704h0M551 657h0M635 639h0M449 803h0M587 831h0M576 696h0M501 711h0M427 722h0M589 731h0M432 687h0M696 687h0M707 731h0M630 680h0M551 804h0M608 823h0M510 724h0M538 833h0M445 666h0M591 689h0M401 772h0M639 624h0M609 682h0M564 694h0M672 710h0M570 757h0M497 668h0M694 746h0M579 760h0M534 764h0M595 701h0M571 798h0M477 805h0M450 732h0M612 719h0M452 616h0M563 689h0M512 691h0M593 637h0M639 773h0M622 793h0M504 659h0M406 791h0M620 778h0M496 691h0M554 795h0M626 666h0M430 781h0M593 676h0M550 762h0M388 745h0M505 654h0M696 672h0M565 775h0M679 741h0M387 722h0M642 761h0M548 741h0M586 664h0M529 793h0M611 752h0M619 714h0M457 772h0M538 667h0M667 748h0M646 813h0M556 760h0M560 711h0M378 693h0M581 797h0M463 612h0M512 728h0M418 621h0M596 738h0M442 655h0M688 742h0M404 738h0M695 731h0M399 766h0M664 765h0M613 727h0M436 618h0M625 626h0M626 693h0M644 711h0M594 855h0M513 806h0M638 780h0M454 805h0M472 690h0M427 769h0M536 822h0M596 665h0M615 858h0M421 753h0M493 740h0M425 684h0M434 633h0M678 756h0M576 637h0M545 812h0M423 625h0M501 690h0M387 774h0M575 783h0M586 716h0M528 795h0M615 698h0M671 776h0M598 649h0M443 697h0M455 713h0M439 642h0M671 690h0M537 805h0M597 806h0M563 818h0M619 835h0M553 783h0M622 853h0M503 753h0M472 755h0M493 717h0M611 624h0M491 688h0M644 697h0M483 784h0M538 660h0M452 671h0M390 754h0M555 780h0M418 651h0M425 635h0M477 713h0M580 717h0M508 806h0M646 682h0M525 791h0M532 684h0M653 764h0M615 669h0M710 709h0M557 801h0M470 675h0M519 689h0M691 743h0M638 670h0M591 709h0M498 685h0M357 722h0M448 786h0M457 756h0M589 848h0M692 661h0M520 742h0M578 788h0M517 663h0M611 647h0M503 661h0M501 730h0M588 785h0M575 764h0M673 763h0M689 688h0M576 733h0M633 764h0M476 701h0M514 784h0M548 853h0M662 727h0M510 700h0M666 699h0M610 666h0M591 684h0M442 668h0M510 802h0M684 728h0M541 646h0M615 636h0M645 724h0M603 761h0M511 730h0M415 717h0M465 787h0M606 646h0M632 835h0M610 713h0M500 636h0M632 629h0M648 653h0M441 687h0M424 679h0M545 750h0M548 716h0M644 756h0M616 737h0M449 774h0M543 796h0M556 785h0M445 624h0M588 624h0M418 634h0M465 629h0M633 645h0M451 656h0M570 801h0M394 680h0M674 677h0M676 688h0M467 785h0M647 719h0M476 755h0M625 807h0M663 780h0M603 789h0M421 782h0M643 741h0M694 681h0M678 744h0M638 813h0M471 614h0M659 773h0M495 793h0M643 834h0M433 757h0M530 721h0M688 695h0M530 687h0M701 710h0M400 764h0M621 708h0M534 738h0M652 733h0M452 786h0M600 657h0M486 667h0M522 799h0M654 694h0M609 698h0M489 683h0M556 768h0M598 762h0M393 664h0M611 642h0M506 643h0M458 788h0M408 767h0M501 807h0M547 806h0M600 638h0M452 791h0M629 799h0M571 641h0M459 791h0M538 722h0M515 697h0M476 734h0M578 823h0M607 622h0M678 660h0M477 719h0M621 811h0M404 655h0M440 793h0M445 685h0M685 760h0M517 805h0M481 620h0M485 778h0M414 770h0M592 761h0M421 699h0M541 805h0M422 801h0M382 756h0M525 690h0M646 764h0M619 659h0M600 662h0M575 716h0M483 808h0M707 706h0M699 744h0M649 739h0M476 782h0M467 796h0M498 796h0M543 815h0M473 806h0M454 805h0M517 811h0M563 652h0M606 740h0M601 756h0M557 803h0M561 666h0M644 724h0M538 838h0M581 847h0M548 782h0M421 698h0M560 656h0M559 792h0M416 797h0M479 802h0M568 800h0M576 867h0M483 805h0M462 681h0M628 743h0M604 678h0M648 764h0M547 779h0M389 672h0M485 622h0M501 775h0M618 728h0M608 822h0M589 795h0M457 804h0M578 731h0M502 733h0M499 629h0M384 670h0M497 720h0M497 655h0M693 712h0M467 629h0M559 776h0M619 834h0M454 652h0M618 746h0M414 642h0M531 627h0M466 700h0M617 778h0M613 762h0M480 780h0M651 732h0M618 786h0M645 784h0M441 628h0M426 687h0M622 820h0M695 709h0M457 685h0M476 717h0M429 773h0M584 657h0M550 739h0M505 699h0M453 732h0M497 654h0M582 790h0M677 669h0M413 635h0M418 691h0M372 674h0M569 774h0M560 696h0M539 770h0M420 781h0M513 667h0M506 676h0M462 694h0M562 662h0M594 790h0M403 712h0M561 710h0M671 764h0M587 653h0M588 694h0M534 724h0M426 683h0M591 778h0M557 669h0M620 709h0M454 638h0M661 677h0M608 694h0M630 757h0M644 626h0M524 682h0M448 776h0M633 828h0M604 745h0M390 764h0M431 646h0M618 797h0M677 684h0M471 741h0M466 672h0M561 797h0M530 765h0M606 756h0M556 852h0M496 658h0M673 765h0M601 661h0M492 782h0M389 650h0M623 781h0M495 799h0M687 687h0M532 654h0M416 799h0M437 748h0M438 763h0M417 777h0M627 656h0M631 738h0M531 690h0M627 756h0M441 744h0M518 703h0M643 680h0M465 631h0M534 833h0M519 660h0M432 790h0M600 847h0M460 769h0M553 780h0M624 694h0M596 653h0M389 717h0M521 816h0M601 686h0M701 701h0M415 730h0M635 746h0M553 783h0M654 716h0M496 750h0M561 798h0M589 755h0M548 866h0M523 756h0M610 665h0M573 798h0M660 647h0M668 701h0M514 655h0M527 653h0M577 852h0M537 777h0M543 823h0M599 826h0M567 765h0M447 648h0M591 799h0M657 720h0M366 730h0M520 760h0M441 644h0M605 654h0M650 704h0M471 769h0M488 617h0M533 805h0M687 699h0M455 734h0M574 702h0M595 715h0M623 626h0M516 619h0M454 666h0M374 727h0M592 759h0M395 773h0M414 753h0M533 743h0M654 792h0M645 650h0M680 663h0M601 780h0M640 675h0M600 830h0M597 694h0M631 823h0M544 775h0M712 694h0M608 818h0M672 694h0M492 789h0M548 725h0M523 738h0M634 769h0M464 735h0M598 833h0M549 808h0M703 697h0M473 621h0M598 835h0M502 813h0M649 735h0M620 628h0M584 830h0M487 785h0M524 742h0M622 784h0M449 633h0M622 723h0M418 680h0M502 632h0M581 725h0M567 709h0M633 780h0M581 752h0M587 730h0M578 843h0M677 763h0M521 663h0M368 722h0M580 621h0M573 768h0M629 758h0M419 738h0M533 791h0M549 813h0M417 682h0M388 746h0M601 742h0M467 744h0M600 741h0M622 711h0M452 752h0M470 681h0M505 741h0M474 804h0M612 785h0M621 792h0M551 764h0M453 616h0M461 751h0M437 665h0M545 759h0M576 636h0M660 790h0M469 778h0M590 839h0M452 654h0M634 746h0M638 631h0M582 642h0M673 693h0M530 751h0M636 791h0M481 719h0M442 760h0M612 793h0M681 761h0M557 807h0M544 822h0M438 646h0M452 719h0M465 732h0M653 770h0M496 690h0M621 737h0M567 832h0M420 721h0M637 677h0M630 632h0M529 844h0M398 676h0M581 625h0M630 824h0M598 735h0M497 691h0M571 680h0M552 669h0M602 727h0M453 751h0M594 691h0M417 626h0M509 816h0M388 681h0M458 794h0M527 801h0M561 673h0M640 688h0M621 623h0M590 726h0M641 784h0M430 633h0M623 799h0M418 661h0M584 707h0M403 729h0M569 715h0M631 690h0M401 645h0M420 741h0M421 748h0M427 655h0M521 676h0M600 782h0M401 671h0M622 626h0M685 740h0M690 671h0M616 654h0M466 663h0M702 714h0M472 760h0M373 694h0M617 799h0M476 696h0M668 704h0M575 781h0M485 790h0M606 679h0M654 767h0M514 763h0M399 679h0M520 696h0M547 794h0M660 714h0M543 663h0M600 803h0M581 806h0M539 800h0M574 839h0M482 671h0M628 708h0M658 780h0M465 651h0M464 737h0M672 750h0M510 748h0M416 622h0M646 673h0M580 851h0M446 766h0M596 798h0M629 725h0M554 745h0M435 735h0M457 678h0M582 744h0M492 792h0M444 648h0M413 739h0M607 736h0M624 792h0M519 707h0M454 698h0M643 732h0M520 767h0M409 661h0M435 638h0M588 768h0M589 779h0M511 759h0M633 800h0M606 662h0M582 709h0M651 780h0M381 715h0M615 850h0M667 772h0M432 678h0M543 787h0M462 802h0M431 707h0M670 700h0M698 747h0M549 803h0M496 712h0M420 723h0M482 753h0M419 693h0M572 630h0M528 732h0M689 659h0M415 683h0M496 634h0M446 676h0M604 617h0M593 673h0M509 695h0M555 810h0M572 827h0M442 802h0M436 621h0M454 766h0M412 793h0M360 719h0M483 631h0M570 773h0M642 765h0M539 785h0M576 643h0M663 657h0M511 672h0M536 819h0M564 751h0M561 811h0M522 744h0M535 806h0M632 685h0M626 645h0M591 636h0M611 848h0M562 747h0M551 851h0M413 783h0M430 792h0M468 777h0M639 685h0M629 567h0M580 496h0M605 501h0M650 443h0M658 552h0M630 412h0M645 535h0M642 520h0M640 500h0M639 530h0M595 506h0M632 471h0M613 483h0M577 465h0M612 505h0M624 466h0M637 432h0M609 487h0M644 521h0M621 564h0M585 418h0M617 462h0M613 420h0M603 472h0M614 534h0M606 433h0M623 410h0M630 431h0M596 416h0M624 497h0M617 412h0M614 406h0M603 432h0M647 448h0M642 458h0M594 490h0M628 454h0M610 596h0M614 482h0M613 416h0M573 419h0M622 419h0M647 582h0M638 414h0M610 451h0M639 587h0M651 585h0M643 564h0M623 497h0M636 602h0M628 566h0M633 472h0M616 614h0M586 513h0M631 561h0M626 424h0M595 506h0M634 416h0M618 514h0M571 472h0M598 421h0M627 429h0M621 416h0M610 428h0M614 432h0M645 423h0M635 404h0M631 413h0M576 419h0M578 453h0M614 409h0M602 409h0M609 407h0M581 418h0M624 443h0M602 419h0M608 414h0M604 428h0M628 404h0M601 417h0M593 454h0M604 396h0M621 430h0M633 392h0M624 432h0M626 427h0M590 429h0M700 374h0M681 414h0M695 400h0M689 366h0M715 370h0M685 418h0M695 399h0M644 358h0M640 383h0M721 347h0M681 421h0M723 386h0M676 413h0M667 342h0M654 360h0M690 422h0M701 355h0M637 385h0M719 386h0M704 406h0M707 338h0M729 385h0M643 374h0M692 385h0M703 414h0M651 354h0M662 423h0M727 391h0M702 352h0M718 390h0M669 336h0M648 372h0M723 381h0M658 377h0M716 369h0M727 386h0M655 401h0M713 410h0M641 386h0M636 384h0M646 368h0M663 409h0M708 360h0M698 337h0M727 377h0M687 376h0M647 408h0M680 343h0M656 406h0M678 344h0M635 381h0M662 348h0M670 390h0M677 385h0M700 405h0M662 376h0M641 374h0M712 359h0M665 358h0M694 367h0M664 382h0M692 416h0M705 366h0M702 361h0M709 410h0M685 414h0M646 394h0M692 360h0M649 374h0M650 375h0M701 399h0M684 335h0M707 411h0M671 347h0M674 363h0M670 419h0M677 365h0M656 415h0M712 384h0M673 402h0M660 387h0M682 412h0M681 424h0M705 342h0M684 401h0M727 376h0M696 388h0M650 376h0M650 404h0M678 352h0M704 360h0M674 419h0M711 411h0M678 355h0M688 345h0M697 408h0M703 420h0M680 374h0M705 394h0M665 399h0M715 404h0M713 353h0M709 355h0M688 414h0M650 405h0M722 369h0M680 374h0M687 340h0M722 413h0M718 366h0M659 381h0M699 407h0M640 376h0M666 410h0M676 420h0M706 342h0M691 386h0M682 356h0M663 368h0M694 387h0M670 345h0M651 360h0M663 415h0M653 404h0M729 371h0M665 426h0M645 358h0M706 386h0M680 418h0M679 398h0M701 386h0M679 367h0M676 406h0M687 355h0M660 403h0M673 358h0M684 335h0M718 406h0M647 387h0M645 353h0M716 354h0M653 399h0M687 395h0M721 412h0M673 401h0M666 409h0M632 397h0M709 355h0M687 414h0M668 401h0M720 383h0M651 371h0M667 385h0M671 383h0M640 400h0M711 381h0M707 352h0M688 397h0M687 345h0M709 354h0M647 381h0M701 371h0M646 385h0M696 406h0M706 360h0M704 396h0M700 345h0M689 386h0M679 349h0M724 386h0M677 401h0M711 419h0M711 383h0M661 359h0M691 373h0M680 392h0M706 384h0M685 352h0M717 407h0M659 386h0M720 416h0M662 339h0M708 332h0M692 412h0M682 386h0M687 423h0M698 389h0M728 394h0M702 386h0M703 364h0M684 336h0M709 347h0M650 366h0M651 356h0M723 366h0M678 430h0M675 371h0M691 356h0M698 358h0M640 360h0M679 419h0M725 409h0M694 392h0M656 424h0M685 350h0M659 398h0M638 363h0M693 414h0M680 374h0M672 370h0M662 379h0M655 382h0M687 378h0M699 366h0M649 361h0M691 341h0M643 367h0M726 390h0M710 376h0M692 411h0M699 427h0M717 391h0M702 341h0M666 418h0M684 348h0M697 354h0M703 342h0M722 357h0M682 384h0M673 371h0M684 392h0M707 337h0M710 400h0M696 415h0M682 353h0M702 345h0M662 392h0M714 399h0M698 390h0M655 334h0M688 358h0M651 380h0M683 403h0M684 378h0M678 342h0M681 414h0M681 333h0M703 347h0M643 373h0M665 386h0M678 369h0M699 411h0M665 342h0M681 359h0M709 381h0M658 387h0M709 425h0M667 373h0M683 359h0M649 382h0M708 366h0M641 394h0M724 373h0M641 396h0M716 386h0M703 386h0M663 389h0M644 401h0M705 405h0M722 399h0M674 339h0M694 385h0M647 396h0M644 382h0M681 397h0M721 354h0M641 392h0M692 384h0M692 386h0M670 378h0M697 394h0M682 416h0M689 353h0M715 369h0M692 408h0M657 381h0M714 352h0M663 351h0M687 394h0M672 412h0M719 355h0M644 384h0M692 366h0M686 424h0M669 424h0M708 414h0M683 389h0M720 351h0M696 403h0M699 379h0M700 395h0M702 373h0M669 380h0M697 371h0M732 362h0M691 415h0M719 349h0M723 401h0M685 413h0M667 348h0M653 411h0M654 377h0M667 424h0M691 379h0M641 383h0M722 348h0M644 374h0M718 375h0M658 387h0M680 418h0M717 410h0M703 392h0M712 400h0M652 401h0M664 421h0M698 420h0M707 367h0M666 406h0M709 404h0M665 385h0M683 330h0M702 376h0M714 367h0M688 423h0M643 373h0M726 401h0M693 385h0M722 381h0M716 397h0M709 392h0M639 408h0M673 366h0M657 415h0M658 361h0M671 343h0M670 398h0M651 356h0M693 342h0M669 394h0M648 364h0M720 382h0M683 359h0M647 380h0M723 345h0M700 363h0M657 425h0M707 356h0M677 413h0M687 430h0M732 369h0M664 424h0M696 387h0M639 385h0M733 385h0M652 368h0M725 379h0M686 340h0M684 366h0M647 397h0M706 365h0M681 400h0M714 394h0M662 388h0M695 386h0M722 371h0M686 425h0M689 393h0M688 403h0M667 415h0M670 346h0M700 361h0M676 353h0M659 360h0M709 389h0M668 398h0M715 361h0M674 351h0M730 403h0M682 396h0M651 398h0M650 359h0M647 404h0M659 338h0M703 358h0M701 336h0M715 375h0M726 346h0M701 366h0M690 430h0M694 363h0M696 404h0M650 376h0M722 412h0M695 352h0M709 361h0M699 399h0M710 394h0M677 341h0M682 360h0M668 395h0M670 357h0M703 394h0M699 409h0M645 404h0M681 343h0M710 401h0M680 390h0M657 400h0M665 354h0M660 400h0M631 370h0M646 358h0M682 362h0M692 373h0M651 358h0M635 361h0M683 379h0M652 370h0M636 385h0M701 396h0M724 455h0M714 435h0M710 441h0M697 433h0M715 451h0M721 450h0M712 448h0M710 442h0M722 450h0M706 434h0M710 440h0M704 420h0M711 460h0M713 458h0M707 441h0M716 443h0M726 463h0M707 431h0M705 429h0M704 439h0M714 427h0M712 433h0M707 435h0M724 448h0M714 448h0M714 441h0M719 443h0M710 429h0M713 455h0M719 451h0M720 451h0M715 450h0M719 448h0M714 455h0M703 428h0M713 431h0M719 440h0M706 442h0M713 448h0M703 447h0M783 391h0M813 394h0M811 380h0M787 383h0M828 394h0M801 390h0M804 405h0M785 401h0M829 400h0M828 401h0M803 404h0M757 389h0M808 423h0M768 382h0M828 392h0M816 388h0M808 403h0M758 391h0M754 403h0M762 415h0M741 407h0M759 409h0M765 415h0M748 401h0M744 392h0M751 403h0M760 402h0M762 405h0M758 406h0M716 665h0M720 607h0M681 615h0M680 630h0M678 629h0M734 660h0M714 596h0M709 657h0M728 636h0M724 648h0M692 625h0M719 652h0M712 605h0M732 648h0M803 883h0M802 886h0M806 860h0M822 848h0M828 825h0M819 867h0M826 845h0M809 864h0M812 828h0M802 871h0M830 833h0M816 857h0M822 864h0M826 851h0M837 848h0M826 844h0M808 873h0M798 842h0M786 847h0M788 878h0M820 842h0M803 870h0M771 834h0M802 853h0M833 860h0M814 899h0M772 850h0M830 835h0M789 874h0M776 862h0M797 829h0M776 834h0M794 842h0M832 836h0M787 834h0M790 857h0M786 856h0M801 868h0M829 862h0M810 851h0M790 851h0M810 828h0M828 845h0M800 881h0M772 866h0M781 876h0M788 868h0M816 840h0M784 863h0M835 843h0M808 829h0M762 847h0M813 886h0M821 840h0M827 854h0M839 854h0M789 836h0M796 860h0M812 893h0M792 884h0M823 849h0M831 866h0M822 847h0M817 886h0M827 880h0M762 864h0M831 834h0M823 885h0M774 867h0M814 846h0M810 871h0M775 863h0M813 849h0M787 884h0M774 834h0M811 865h0M796 861h0M782 857h0M762 871h0M822 841h0M811 887h0M792 849h0M831 880h0M760 855h0M814 894h0M781 853h0M809 835h0M803 839h0M796 851h0M821 861h0M803 822h0M841 848h0M797 853h0M838 854h0M775 876h0M765 862h0M798 829h0M768 848h0M819 867h0M792 829h0M803 824h0M823 836h0M774 864h0M832 846h0M835 832h0M820 890h0M770 862h0M805 821h0M794 859h0M807 881h0M805 843h0M809 869h0M803 889h0M826 844h0M836 833h0M798 826h0M805 819h0M783 845h0M830 850h0M823 859h0M819 895h0M769 860h0M824 873h0M829 857h0M838 828h0M815 815h0M800 830h0M798 828h0M828 891h0M832 853h0M798 894h0M826 830h0M794 861h0M824 891h0M827 880h0M787 825h0M809 877h0M811 884h0M795 842h0M831 887h0M816 842h0M825 868h0M830 866h0M783 860h0M808 831h0M772 868h0M808 858h0M802 884h0M820 879h0M810 883h0M815 832h0M821 865h0M829 857h0M833 836h0M843 842h0M828 846h0M830 856h0M824 883h0M792 884h0M799 827h0M823 871h0M823 874h0M834 835h0M828 846h0M793 875h0M821 823h0M825 847h0M830 874h0M823 845h0M804 880h0M783 839h0M811 860h0M794 826h0M777 878h0M828 891h0M811 826h0M809 825h0M789 882h0M774 846h0M783 860h0M807 857h0M821 878h0M781 841h0M791 850h0M796 850h0M790 865h0M796 823h0M791 834h0M783 832h0M819 819h0M825 844h0M776 871h0M759 862h0M787 811h0M703 800h0M686 774h0M771 813h0M713 796h0M688 787h0M794 822h0M791 819h0M714 785h0M752 811h0M683 785h0M761 815h0M705 797h0M723 790h0M710 802h0M740 811h0M701 784h0M713 806h0M778 814h0M728 814h0M700 791h0M721 793h0M752 818h0M673 783h0M774 809h0M730 806h0M771 806h0M722 810h0M754 808h0M758 806h0M793 802h0M784 814h0M783 812h0M788 821h0M791 814h0M788 792h0M793 808h0M790 805h0M789 807h0M786 813h0M787 793h0M789 816h0M1326 396h0M1329 266h0M1334 281h0M1464 299h0M1143 342h0M1376 338h0M1219 266h0M1383 437h0M1427 421h0M1304 311h0M1149 278h0M1412 291h0M1360 448h0M1287 312h0M1307 234h0M1407 385h0M1497 301h0M1462 420h0M1290 229h0M1172 340h0M1206 220h0M1279 407h0M1491 490h0M1313 400h0M1326 345h0M1403 374h0M1274 266h0M1448 378h0M1358 364h0M1177 330h0M1419 477h0M1482 412h0M1165 297h0M1435 309h0M1449 374h0M1261 227h0M1207 337h0M1202 242h0M1209 220h0M1125 374h0M1260 319h0M1179 264h0M1547 290h0M1268 293h0M1458 326h0M1329 259h0M1429 239h0M1262 284h0M1195 260h0M1152 285h0M1273 387h0M1241 284h0M1384 272h0M1301 421h0M1243 296h0M1493 479h0M1469 373h0M1261 349h0M1165 264h0M1436 375h0M1166 382h0M1258 370h0M1420 485h0M1254 355h0M1156 326h0M1176 257h0M1542 288h0M1400 283h0M1225 339h0M1422 356h0M1459 486h0M1244 277h0M1289 339h0M1237 255h0M1130 309h0M1454 386h0M1385 273h0M1217 312h0M1446 415h0M1281 376h0M1492 318h0M1470 317h0M1175 328h0M1274 311h0M1494 412h0M1424 398h0M1196 324h0M1412 392h0M1257 336h0M1256 364h0M1206 236h0M1497 488h0M1269 371h0M1211 237h0M1434 294h0M1311 363h0M1248 335h0M1283 293h0M1256 287h0M1394 431h0M1492 512h0M1324 370h0M1214 347h0M1539 331h0M1286 290h0M1344 285h0M1426 363h0M1333 332h0M1314 425h0M1454 277h0M1478 515h0M1308 395h0M1434 282h0M1388 311h0M1307 329h0M1139 286h0M1441 261h0M1363 328h0M1163 353h0M1535 281h0M1226 308h0M1356 354h0M1239 307h0M1480 321h0M1155 311h0M1518 321h0M1229 222h0M1425 290h0M1429 473h0M1246 232h0M1374 276h0M1552 281h0M1464 225h0M1316 326h0M1405 329h0M1439 423h0M1206 327h0M1444 273h0M1326 242h0M1148 331h0M1174 376h0M1326 395h0M1368 291h0M1247 377h0M1231 292h0M1500 328h0M1129 282h0M1494 479h0M1478 239h0M1104 355h0M1476 431h0M1306 248h0M1286 274h0M1500 351h0M1294 339h0M1295 213h0M1301 372h0M1358 250h0M1280 347h0M1540 274h0M1123 303h0M1498 320h0M1410 317h0M1475 358h0M1297 211h0M1356 308h0M1526 276h0M1423 233h0M1164 367h0M1479 480h0M1513 355h0M1223 341h0M1248 210h0M1339 353h0M1438 355h0M1390 353h0M1279 333h0M1189 228h0M1425 418h0M1157 265h0M1364 284h0M1447 282h0M1192 319h0M1375 285h0M1447 327h0M1318 301h0M1128 299h0M1214 380h0M1126 292h0M1503 267h0M1274 197h0M1180 254h0M1518 268h0M1460 349h0M1423 374h0M1175 286h0M1256 301h0M1185 360h0M1171 312h0M1187 346h0M1181 261h0M1457 490h0M1256 354h0M1351 280h0M1223 200h0M1523 340h0M1334 336h0M1140 340h0M1377 412h0M1491 382h0M1486 528h0M1424 458h0M1137 289h0M1387 408h0M1428 286h0M1466 353h0M1456 510h0M1288 315h0M1186 231h0M1276 293h0M1234 283h0M1485 472h0M1436 282h0M1286 292h0M1275 346h0M1472 390h0M1380 468h0M1328 236h0M1206 304h0M1362 399h0M1341 291h0M1239 350h0M1309 230h0M1401 368h0M1199 293h0M1142 304h0M1242 237h0M1294 251h0M1213 210h0M1133 337h0M1366 346h0M1437 443h0M1337 438h0M1423 263h0M1471 474h0M1483 350h0M1227 189h0M1521 283h0M1447 506h0M1289 235h0M1286 383h0M1279 242h0M1460 322h0M1280 340h0M1423 356h0M1260 291h0M1188 289h0M1267 321h0M1435 367h0M1468 343h0M1295 357h0M1290 319h0M1204 304h0M1196 276h0M1540 291h0M1212 366h0M1177 294h0M1222 220h0M1285 351h0M1378 396h0M1259 285h0M1490 451h0M1353 321h0M1140 276h0M1438 315h0M1240 315h0M1438 454h0M1386 279h0M1344 416h0M1456 299h0M1478 411h0M1192 218h0M1506 360h0M1486 463h0M1245 290h0M1415 369h0M1431 265h0M1209 223h0M1431 261h0M1499 365h0M1186 374h0M1520 363h0M1264 349h0M1307 271h0M1464 461h0M1325 342h0M1465 480h0M1390 458h0M1300 411h0M1134 302h0M1295 337h0M1232 203h0M1498 358h0M1251 255h0M1171 391h0M1313 258h0M1223 209h0M1135 371h0M1467 493h0M1217 349h0M1207 203h0M1415 333h0M1521 259h0M1304 344h0M1432 374h0M1234 333h0M1436 463h0M1235 289h0M1234 323h0M1125 308h0M1485 242h0M1417 372h0M1458 279h0M1422 375h0M1497 411h0M1384 396h0M1203 240h0M1383 293h0M1172 299h0M1433 299h0M1176 259h0M1217 228h0M1216 367h0M1232 197h0M1236 327h0M1465 256h0M1475 425h0M1463 397h0M1184 246h0M1378 419h0M1493 301h0M1481 435h0M1511 330h0M1376 272h0M1182 368h0M1333 279h0M1327 405h0M1552 288h0M1289 310h0M1313 301h0M1235 207h0M1237 336h0M1494 473h0M1457 477h0M1221 313h0M1320 286h0M1464 416h0M1435 377h0M1500 425h0M1529 275h0M1238 342h0M1158 378h0M1416 270h0M1189 372h0M1321 346h0M1267 363h0M1280 249h0M1456 509h0M1216 323h0M1462 468h0M1279 375h0M1415 295h0M1287 286h0M1488 492h0M1401 467h0M1477 321h0M1213 202h0M1196 267h0M1338 244h0M1466 503h0M1504 280h0M1464 270h0M1348 428h0M1166 296h0M1273 400h0M1212 357h0M1386 335h0M1281 334h0M1151 261h0M1417 290h0M1413 355h0M1359 345h0M1287 247h0M1235 301h0M1384 425h0M1525 339h0M1392 402h0M1251 289h0M1170 224h0M1184 307h0M1138 383h0M1328 320h0M1183 277h0M1404 355h0M1531 310h0M1254 332h0M1386 420h0M1382 267h0M1460 242h0M1475 460h0M1476 483h0M1298 407h0M1277 244h0M1430 283h0M1469 380h0M1444 246h0M1182 370h0M1201 288h0M1407 361h0M1193 328h0M1533 329h0M1510 239h0M1452 285h0M1301 360h0M1273 263h0M1268 397h0M1397 260h0M1165 352h0M1517 329h0M1508 342h0M1250 247h0M1432 228h0M1264 299h0M1442 375h0M1233 271h0M1451 325h0M1192 355h0M1359 317h0M1275 335h0M1396 297h0M1305 323h0M1467 407h0M1485 408h0M1485 262h0M1472 346h0M1408 319h0M1420 354h0M1385 312h0M1326 323h0M1427 307h0M1377 270h0M1198 275h0M1452 497h0M1379 457h0M1212 234h0M1496 245h0M1427 366h0M1329 227h0M1199 285h0M1397 414h0M1395 396h0M1208 203h0M1530 282h0M1390 405h0M1171 375h0M1536 343h0M1322 238h0M1267 376h0M1198 296h0M1204 241h0M1389 343h0M1192 278h0M1451 477h0M1249 315h0M1353 348h0M1419 346h0M1168 376h0M1400 416h0M1468 278h0M1416 492h0M1523 330h0M1228 327h0M1295 218h0M1233 244h0M1444 325h0M1270 214h0M1421 282h0M1374 374h0M1530 308h0M1370 247h0M1381 268h0M1431 284h0M1528 341h0M1418 417h0M1107 348h0M1514 303h0M1175 243h0M1253 228h0M1426 450h0M1208 238h0M1160 296h0M1367 390h0M1276 305h0M1357 407h0M1300 276h0M1486 301h0M1540 264h0M1307 256h0M1516 313h0M1321 248h0M1343 267h0M1219 322h0M1363 409h0M1315 250h0M1227 251h0M1251 283h0M1358 298h0M1175 264h0M1401 378h0M1311 388h0M1259 335h0M1341 350h0M1126 300h0M1495 233h0M1197 359h0M1336 390h0M1236 231h0M1228 353h0M1433 248h0M1158 373h0M1445 446h0M1306 219h0M1336 251h0M1196 353h0M1221 241h0M1150 274h0M1280 210h0M1449 342h0M1443 278h0M1454 373h0M1366 317h0M1288 363h0M1304 358h0M1154 269h0M1368 407h0M1310 291h0M1452 342h0M1274 350h0M1319 236h0M1403 277h0M1528 314h0M1436 298h0M1332 345h0M1305 246h0M1294 289h0M1463 388h0M1421 240h0M1236 341h0M1386 380h0M1213 301h0M1326 295h0M1125 331h0M1181 224h0M1315 346h0M1298 378h0M1139 369h0M1189 381h0M1441 484h0M1390 288h0M1418 415h0M1381 452h0M1202 326h0M1453 247h0M1186 289h0M1353 311h0M1243 305h0M1481 267h0M1536 276h0M1519 297h0M1155 255h0M1272 296h0M1165 370h0M1307 235h0M1379 358h0M1123 304h0M1241 291h0M1315 331h0M1239 286h0M1274 311h0M1422 356h0M1370 453h0M1494 410h0M1314 223h0M1357 377h0M1346 314h0M1439 363h0M1553 310h0M1188 256h0M1450 369h0M1259 287h0M1420 359h0M1493 366h0M1418 291h0M1270 398h0M1167 305h0M1385 374h0M1277 243h0M1423 379h0M1134 289h0M1284 366h0M1464 234h0M1436 278h0M1248 376h0M1508 406h0M1369 287h0M1300 257h0M1426 413h0M1386 299h0M1482 238h0M1402 411h0M1481 485h0M1354 345h0M1476 415h0M1370 292h0M1333 334h0M1309 220h0M1257 357h0M1437 309h0M1466 229h0M1446 231h0M1238 366h0M1429 251h0M1459 489h0M1257 331h0M1406 317h0M1336 289h0M1302 232h0M1449 296h0M1216 317h0M1457 254h0M1315 373h0M1252 308h0M1408 291h0M1125 349h0M1512 328h0M1424 366h0M1206 216h0M1220 201h0M1427 351h0M1384 352h0M1411 433h0M1378 277h0M1471 483h0M1486 364h0M1528 346h0M1469 483h0M1467 406h0M1270 264h0M1523 241h0M1257 265h0M1245 255h0M1524 342h0M1293 261h0M1273 269h0M1196 362h0M1425 247h0M1321 320h0M1180 324h0M1426 484h0M1404 447h0M1473 348h0M1182 250h0M1406 373h0M1496 292h0M1225 331h0M1374 407h0M1292 221h0M1448 356h0M1543 299h0M1314 330h0M1356 408h0M1190 221h0M1492 487h0M1358 345h0M1287 415h0M1190 350h0M1196 228h0M1501 407h0M1427 264h0M1223 231h0M1379 300h0M1157 284h0M1500 249h0M1208 216h0M1473 488h0M1366 326h0M1552 271h0M1262 393h0M1374 431h0M1433 444h0M1434 509h0M1423 406h0M1200 304h0M1179 235h0M1332 418h0M1385 340h0M1213 235h0M1505 406h0M1410 311h0M1319 297h0M1512 272h0M1152 352h0M1254 379h0M1361 252h0M1346 262h0M1398 453h0M1487 493h0M1527 329h0M1408 294h0M1300 368h0M1175 323h0M1446 338h0M1427 470h0M1232 365h0M1397 289h0M1423 451h0M1498 330h0M1124 341h0M1346 279h0M1140 333h0M1391 245h0M1427 243h0M1491 360h0M1421 437h0M1484 489h0M1449 224h0M1159 270h0M1347 242h0M1409 394h0M1526 327h0M1240 326h0M1198 251h0M1482 341h0M1371 284h0M1154 330h0M1364 299h0M1412 385h0M1394 414h0M1118 321h0M1470 487h0M1306 316h0M1278 244h0M1376 393h0M1223 232h0M1532 297h0M1446 379h0M1466 510h0M1161 298h0M1474 498h0M1167 273h0M1324 293h0M1521 264h0M1133 373h0M1497 476h0M1413 414h0M1449 253h0M1349 351h0M1205 271h0M1462 309h0M1297 312h0M1507 487h0M1297 231h0M1438 291h0M1268 287h0M1301 402h0M1530 258h0M1433 443h0M1279 201h0M1208 354h0M1207 260h0M1432 437h0M1240 353h0M1214 379h0M1295 212h0M1347 249h0M1214 369h0M1388 334h0M1314 286h0M1371 372h0M1384 379h0M1396 295h0M1418 239h0M1461 395h0M1262 366h0M1164 382h0M1504 489h0M1282 245h0M1457 244h0M1155 380h0M1434 443h0M1266 234h0M1396 408h0M1156 258h0M1474 358h0M1273 258h0M1397 460h0M1228 335h0M1348 425h0M1210 331h0M1429 491h0M1372 263h0M1257 304h0M1436 294h0M1444 291h0M1269 205h0M1357 296h0M1458 464h0M1393 267h0M1400 311h0M1268 292h0M1311 426h0M1521 264h0M1447 437h0M1325 408h0M1239 353h0M1363 322h0M1427 461h0M1447 248h0M1206 282h0M1404 299h0M1236 302h0M1452 481h0M1108 335h0M1138 305h0M1488 423h0M1223 316h0M1457 345h0M1273 358h0M1134 354h0M1277 288h0M1189 232h0M1167 296h0M1396 283h0M1263 341h0M1374 274h0M1449 302h0M1454 461h0M1320 359h0M1540 317h0M1106 346h0M1296 379h0M1419 404h0M1398 389h0M1318 309h0M1422 378h0M1225 340h0M1311 259h0M1486 483h0M1429 340h0M1412 359h0M1410 245h0M1375 361h0M1164 272h0M1498 424h0M1431 316h0M1197 234h0M1462 267h0M1190 245h0M1395 289h0M1176 354h0M1248 264h0M1421 419h0M1250 250h0M1407 464h0M1120 315h0M1326 276h0M1374 333h0M1373 245h0M1416 419h0M1204 370h0M1360 278h0M1300 232h0M1222 204h0M1442 281h0M1284 289h0M1251 222h0M1300 320h0M1484 327h0M1391 416h0M1405 363h0M1339 283h0M1388 369h0M1483 379h0M1303 406h0M1307 339h0M1310 419h0M1299 319h0M1336 370h0M1361 414h0M1452 429h0M1226 335h0M1368 330h0M1305 237h0M1523 360h0M1535 335h0M1447 233h0M1371 343h0M1241 347h0M1424 349h0M1475 223h0M1433 496h0M1326 292h0M1202 266h0M1245 199h0M1287 248h0M1308 373h0M1447 353h0M1281 271h0M1460 412h0M1180 388h0M1440 465h0M1455 279h0M1266 308h0M1481 395h0M1175 317h0M1399 411h0M1549 287h0M1524 324h0M1313 320h0M1242 289h0M1185 283h0M1320 246h0M1430 442h0M1210 335h0M1390 437h0M1189 329h0M1230 287h0M1459 262h0M1288 287h0M1363 335h0M1404 439h0M1302 381h0M1263 249h0M1332 420h0M1352 324h0M1362 371h0M1484 418h0M1495 388h0M1448 477h0M1475 370h0M1292 336h0M1442 385h0M1387 440h0M1445 457h0M1247 364h0M1123 314h0M1342 337h0M1390 441h0M1138 307h0M1409 309h0M1243 195h0M1540 265h0M1256 339h0M1333 367h0M1229 339h0M1540 350h0M1500 369h0M1239 374h0M1550 299h0M1232 339h0M1490 362h0M1340 361h0M1318 343h0M1362 361h0M1111 329h0M1281 217h0M1245 228h0M1346 396h0M1260 267h0M1520 269h0M1392 318h0M1175 256h0M1533 270h0M1534 279h0M1476 319h0M1515 323h0M1487 469h0M1256 292h0M1383 363h0M1495 461h0M1553 284h0M1321 405h0M1219 302h0M1385 425h0M1397 464h0M1231 237h0M1146 311h0M1211 342h0M1465 474h0M1431 504h0M1455 482h0M1282 211h0M1468 265h0M1388 437h0M1232 366h0M1384 411h0M1421 411h0M1172 354h0M1260 262h0M1241 251h0M1441 467h0M1414 274h0M1474 412h0M1251 256h0M1442 300h0M1377 385h0M1341 377h0M1197 347h0M1523 370h0M1174 295h0M1430 412h0M1393 392h0M1449 234h0M1319 327h0M1526 280h0M1131 328h0M1441 355h0M1311 288h0M1170 303h0M1193 331h0M1428 237h0M1326 402h0M1433 240h0M1253 203h0M1415 271h0M1454 454h0M1175 315h0M1279 270h0M1482 441h0M1438 457h0M1457 359h0M1450 395h0M1172 261h0M1486 476h0M1164 280h0M1276 353h0M1410 372h0M1359 291h0M1466 309h0M1463 402h0M1360 395h0M1134 351h0M1240 233h0M1460 365h0M1348 386h0M1419 408h0M1215 378h0M1262 346h0M1340 265h0M1354 360h0M1362 351h0M1460 296h0M1380 392h0M1388 297h0M1184 301h0M1482 494h0M1153 308h0M1137 297h0M1504 234h0M1386 403h0M1269 268h0M1374 287h0M1352 394h0M1399 358h0M1210 230h0M1364 430h0M1436 405h0M1323 271h0M1428 258h0M1318 253h0M1402 252h0M1234 301h0M1450 385h0M1399 304h0M1158 390h0M1260 354h0M1431 253h0M1315 248h0M1467 383h0M1339 411h0M1254 241h0M1543 306h0M1202 381h0M1248 353h0M1550 277h0M1331 315h0M1336 276h0M1450 392h0M1483 300h0M1134 378h0M1290 270h0M1103 346h0M1449 342h0M1247 379h0M1435 344h0M1370 320h0M1478 342h0M1261 223h0M1441 407h0M1368 424h0M1418 368h0M1192 381h0M1325 243h0M1528 309h0M1167 354h0M1351 235h0M1233 334h0M1326 398h0M1236 319h0M1322 402h0M1377 412h0M1228 227h0M1217 375h0M1474 258h0M1296 353h0M1353 273h0M1258 332h0M1414 282h0M1339 303h0M1542 295h0M1220 343h0M1351 291h0M1249 333h0M1290 379h0M1427 504h0M1421 446h0M1475 421h0M1202 325h0M1360 359h0M1322 432h0M1450 478h0M1121 325h0M1303 361h0M1282 301h0M1428 317h0M1397 264h0M1316 305h0M1118 318h0M1393 413h0M1452 428h0M1531 271h0M1396 417h0M1312 239h0M1446 286h0M1385 382h0M1400 458h0M1209 253h0M1318 319h0M1505 309h0M1441 444h0M1171 268h0M1245 344h0M1504 335h0M1208 217h0M1298 231h0M1215 236h0M1429 353h0M1413 261h0M1373 388h0M1456 441h0M1203 363h0M1463 286h0M1422 280h0M1493 246h0M1319 239h0M1211 270h0M1295 211h0M1465 469h0M1388 322h0M1452 387h0M1266 256h0M1328 331h0M1491 480h0M1291 299h0M1246 366h0M1448 509h0M1516 311h0M1192 255h0M1424 341h0M1475 240h0M1221 259h0M1235 344h0M1488 322h0M1371 344h0M1162 382h0M1342 338h0M1179 308h0M1281 207h0M1466 377h0M1293 238h0M1393 258h0M1399 317h0M1475 476h0M1470 291h0M1452 491h0M1494 247h0M1443 228h0M1277 289h0M1384 356h0M1131 301h0M1413 298h0M1272 266h0M1315 219h0M1407 249h0M1550 302h0M1262 191h0M1504 362h0M1227 244h0M1449 369h0M1444 360h0M1186 271h0M1161 268h0M1351 319h0M1397 339h0M1334 299h0M1409 429h0M1248 311h0M1233 334h0M1448 312h0M1401 294h0M1441 361h0M1344 336h0M1382 284h0M1457 280h0M1481 514h0M1180 348h0M1373 370h0M1319 279h0M1466 477h0M1406 382h0M1397 299h0M1191 222h0M1352 314h0M1493 476h0M1252 338h0M1164 319h0M1473 334h0M1416 302h0M1460 408h0M1482 285h0M1436 375h0M1458 267h0M1254 244h0M1324 287h0M1312 418h0M1192 225h0M1271 317h0M1511 240h0M1191 221h0M1220 306h0M1435 364h0M1460 286h0M1240 209h0M1294 296h0M1299 359h0M1293 322h0M1384 273h0M1308 227h0M1337 376h0M1154 334h0M1447 399h0M1426 307h0M1436 405h0M1441 513h0M1423 460h0M1400 278h0M1250 363h0M1342 309h0M1296 324h0M1469 521h0M1289 224h0M1317 422h0M1479 296h0M1252 225h0M1414 295h0M1318 272h0M1253 365h0M1420 321h0M1453 369h0M1340 335h0M1223 360h0M1498 426h0M1227 257h0M1441 348h0M1440 441h0M1472 401h0M1419 315h0M1161 271h0M1477 433h0M1249 208h0M1139 296h0M1485 447h0M1503 380h0M1367 442h0M1198 352h0M1207 239h0M1331 418h0M1399 474h0M1401 362h0M1488 333h0M1284 325h0M1275 232h0M1118 361h0M1456 261h0M1319 412h0M1172 318h0M1464 387h0M1296 316h0M1189 273h0M1171 393h0M1495 326h0M1515 253h0M1155 303h0M1337 347h0M1193 216h0M1486 373h0M1507 382h0M1460 336h0M1419 302h0M1175 241h0M1222 195h0M1114 328h0M1535 344h0M1365 308h0M1448 505h0M1500 415h0M1503 498h0M1203 240h0M1228 346h0M1234 228h0M1514 259h0M1280 293h0M1238 240h0M1370 247h0M1330 400h0M1431 363h0M1483 325h0M1458 456h0M1403 302h0M1409 301h0M1512 306h0M1388 274h0M1195 386h0M1413 457h0M1536 334h0M1189 223h0M1442 355h0M1475 236h0M1447 387h0M1159 290h0M1465 369h0M1136 304h0M1384 259h0M1214 247h0M1417 293h0M1299 306h0M1388 256h0M1332 407h0M1387 437h0M1540 260h0M1353 395h0M1290 353h0M1496 242h0M1142 292h0M1448 258h0M1472 488h0M1280 407h0M1496 307h0M1401 409h0M1462 489h0M1396 309h0M1442 291h0M1556 321h0M1451 510h0M1481 304h0M1405 324h0M1414 335h0M1534 270h0M1385 310h0M1437 306h0M1454 225h0M1206 319h0M1145 362h0M1387 330h0M1320 370h0M1391 404h0M1347 298h0M1449 294h0M1380 345h0M1242 327h0M1289 213h0M1217 223h0M1491 278h0M1421 368h0M1206 239h0M1467 229h0M1351 343h0M1236 243h0M1446 313h0M1368 412h0M1452 517h0M1546 272h0M1115 346h0M1419 458h0M1241 313h0M1439 241h0M1371 422h0M1547 280h0M1190 285h0M1472 421h0M1429 238h0M1171 289h0M1348 435h0M1169 296h0M1325 326h0M1529 324h0M1379 383h0M1356 291h0M1455 365h0M1432 507h0M1480 513h0M1299 312h0M1455 374h0M1280 207h0M1347 242h0M1191 223h0M1098 339h0M1155 283h0M1247 280h0M1461 479h0M1462 409h0M1138 314h0M1317 241h0M1445 320h0M1283 317h0M1231 229h0M1391 397h0M1246 341h0M1431 446h0M1366 401h0M1425 300h0M1427 477h0M1349 440h0M1209 308h0M1225 258h0M1390 429h0M1448 475h0M1399 437h0M1377 315h0M1447 284h0M1230 247h0M1233 381h0M1402 285h0M1241 275h0M1367 396h0M1114 314h0M1286 399h0M1512 356h0M1319 350h0M1442 330h0M1435 254h0M1479 480h0M1369 422h0M1504 302h0M1238 301h0M1532 264h0M1403 433h0M1481 497h0M1224 258h0M1212 316h0M1476 281h0M1134 337h0M1371 451h0M1210 252h0M1264 224h0M1313 385h0M1214 286h0M1383 249h0M1358 433h0M1179 347h0M1390 409h0M1225 197h0M1362 383h0M1238 369h0M1260 216h0M1390 390h0M1192 246h0M1442 390h0M1467 285h0M1365 410h0M1169 254h0M1208 203h0M1455 288h0M1477 410h0M1363 247h0M1430 246h0M1313 270h0M1237 297h0M1459 448h0M1159 335h0M1276 281h0M1179 244h0M1230 195h0M1434 323h0M1409 451h0M1245 325h0M1285 366h0M1458 313h0M1368 394h0M1168 285h0M1244 253h0M1197 321h0M1232 290h0M1448 469h0M1239 378h0M1393 378h0M1469 326h0M1189 370h0M1311 320h0M1323 344h0M1226 267h0M1307 253h0M1478 419h0M1418 338h0M1483 343h0M1254 358h0M1465 502h0M1320 254h0M1449 317h0M1163 259h0M1455 356h0M1462 484h0M1232 257h0M1436 286h0M1237 278h0M1436 240h0M1383 275h0M1349 355h0M1435 504h0M1257 209h0M1455 452h0M1401 365h0M1429 401h0M1388 297h0M1387 276h0M1122 306h0M1407 404h0M1425 348h0M1459 230h0M1341 322h0M1368 270h0M1377 313h0M1314 321h0M1390 281h0M1132 322h0M1280 224h0M1287 327h0M1224 329h0M1431 407h0M1441 335h0M1499 497h0M1409 487h0M1425 402h0M1377 316h0M1441 243h0M1233 343h0M1516 249h0M1267 389h0M1347 399h0M1327 332h0M1321 418h0M1272 362h0M1388 378h0M1369 358h0M1464 407h0M1391 340h0M1224 324h0M1474 518h0M1382 337h0M1205 259h0M1265 359h0M1383 312h0M1224 355h0M1180 237h0M1274 271h0M1432 304h0M1461 404h0M1467 390h0M1449 443h0M1172 238h0M1306 398h0M1164 249h0M1166 269h0M1406 424h0M1372 248h0M1370 404h0M1383 354h0M1419 243h0M1265 320h0M1308 419h0M1205 331h0M1355 263h0M1467 241h0M1159 302h0M1416 445h0M1442 238h0M1186 362h0M1499 501h0M1149 288h0M1476 250h0M1318 377h0M1400 476h0M1269 239h0M1392 263h0M1358 354h0M1456 275h0M1313 352h0M1419 332h0M1435 291h0M1369 418h0M1479 272h0M1188 272h0M1436 406h0M1428 472h0M1210 324h0M1325 334h0M1483 303h0M1215 209h0M1427 318h0M1299 274h0M1355 300h0M1137 331h0M1261 342h0M1513 341h0M1266 277h0M1450 296h0M1319 242h0M1347 239h0M1253 260h0M1477 429h0M1281 309h0M1268 344h0M1326 236h0M1199 226h0M1123 339h0M1228 347h0M1349 440h0M1216 331h0M1434 230h0M1464 290h0M1488 321h0M1346 429h0M1332 234h0M1221 278h0M1101 348h0M1303 304h0M1228 281h0M1463 418h0M1454 469h0M1444 346h0M1453 268h0M1397 356h0M1550 298h0M1487 504h0M1519 260h0M1407 391h0M1372 433h0M1355 350h0M1433 311h0M1535 342h0M1392 427h0M1407 367h0M1178 269h0M1439 384h0M1420 379h0M1115 313h0M1255 255h0M1437 237h0M1474 437h0M1297 244h0M1262 293h0M1299 227h0M1277 335h0M1213 322h0M1455 377h0M1397 281h0M1423 275h0M1233 326h0M1493 476h0M1266 249h0M1496 268h0M1313 314h0M1392 414h0M1372 452h0M1416 375h0M1150 345h0M1511 344h0M1391 447h0M1463 357h0M1156 275h0M1313 252h0M1316 282h0M1223 223h0M1212 279h0M1185 344h0M1234 260h0M1108 339h0M1241 371h0M1135 322h0M1357 278h0M1442 457h0M1317 234h0M1288 334h0M1249 260h0M1431 349h0M1279 209h0M1204 218h0M1407 411h0M1453 361h0M1188 320h0M1507 261h0M1257 364h0M1239 277h0M1391 397h0M1494 288h0M1417 246h0M1180 285h0M1329 245h0M1264 209h0M1418 455h0M1263 346h0M1488 347h0M1380 379h0M1275 320h0M1394 393h0M1165 348h0M1363 341h0M1232 235h0M1451 405h0M1200 214h0M1340 371h0M1497 287h0M1377 361h0M1349 248h0M1388 401h0M1360 328h0M1458 411h0M1351 348h0M1279 399h0M1288 275h0M1323 322h0M1529 302h0M1219 292h0M1388 314h0M1236 199h0M1467 466h0M1465 265h0M1426 354h0M1439 294h0M1272 356h0M1268 210h0M1257 239h0M1160 263h0M1396 415h0M1429 348h0M1213 228h0M1446 331h0M1336 413h0M1220 372h0M1502 483h0M1327 322h0M1410 292h0M1402 242h0M1430 434h0M1444 364h0M1229 337h0M1234 199h0M1456 365h0M1190 356h0M1339 343h0M1539 322h0M1477 506h0M1170 368h0M1324 312h0M1332 311h0M1427 285h0M1459 238h0M1448 244h0M1248 264h0M1269 387h0M1300 344h0M1474 300h0M1374 292h0M1253 335h0M1485 491h0M1460 395h0M1128 336h0M1201 299h0M1158 376h0M1294 285h0M1168 317h0M1446 439h0M1460 514h0M1507 366h0M1489 495h0M1390 370h0M1555 318h0M1173 272h0M1328 414h0M1482 394h0M1283 335h0M1191 356h0M1321 305h0M1515 311h0M1271 333h0M1414 239h0M1223 309h0M1403 298h0M1235 310h0M1505 255h0M1320 274h0M1556 326h0M1202 320h0M1515 301h0M1291 272h0M1172 297h0M1550 322h0M1373 288h0M1150 288h0M1475 488h0M1284 305h0M1298 336h0M1512 265h0M1407 327h0M1409 266h0M1163 390h0M1243 253h0M1235 268h0M1473 511h0M1322 326h0M1488 357h0M1506 404h0M1488 385h0M1308 326h0M1272 255h0M1248 193h0M1271 374h0M1426 390h0M1527 293h0M1339 423h0M1317 414h0M1199 388h0M1503 257h0M1222 314h0M1482 481h0M1440 453h0M1247 232h0M1280 351h0M1475 393h0M1309 423h0M1275 206h0M1479 493h0M1258 367h0M1292 325h0M1264 238h0M1449 343h0M1377 284h0M1257 205h0M1222 315h0M1266 380h0M1302 279h0M1499 467h0M1494 477h0M1307 233h0M1354 299h0M1413 461h0M1495 325h0M1336 430h0M1470 356h0M1486 447h0M1245 347h0M1507 323h0M1502 241h0M1527 265h0M1334 404h0M1426 307h0M1401 301h0M1250 385h0M1366 349h0M1345 327h0M1291 259h0M1197 315h0M1463 368h0M1539 337h0M1551 295h0M1464 240h0M1471 366h0M1403 489h0M1276 254h0M1406 315h0M1295 229h0M1390 396h0M1376 315h0M1542 328h0M1233 291h0M1222 338h0M1437 345h0M1440 347h0M1259 320h0M1472 419h0M1520 329h0M1445 305h0M1469 475h0M1165 343h0M1200 358h0M1475 371h0M1407 332h0M1215 227h0M1387 271h0M1550 304h0M1455 478h0M1296 210h0M1249 344h0M1465 426h0M1339 319h0M1248 373h0M1485 433h0M1194 354h0M1480 469h0M1204 217h0M1136 306h0M1264 221h0M1364 451h0M1401 402h0M1448 510h0M1378 275h0M1144 267h0M1352 419h0M1488 267h0M1430 465h0M1261 215h0M1465 355h0M1480 400h0M1401 383h0M1508 244h0M1319 343h0M1405 302h0M1140 307h0M1206 329h0M1369 388h0M1490 379h0M1224 299h0M1400 413h0M1210 214h0M1494 326h0M1289 229h0M1376 306h0M1440 341h0M1386 459h0M1318 328h0M1500 405h0M1394 397h0M1335 371h0M1318 226h0M1431 344h0M1495 364h0M1459 511h0M1458 482h0M1138 345h0M1441 464h0M1473 373h0M1448 460h0M1437 231h0M1224 238h0M1124 327h0M1462 469h0M1386 419h0M1223 204h0M1481 413h0M1452 394h0M1192 371h0M1410 289h0M1522 258h0M1540 287h0M1162 269h0M1218 377h0M1284 374h0M1234 314h0M1501 313h0M1356 370h0M1441 342h0M1172 283h0M1443 234h0M1227 258h0M1244 288h0M1371 300h0M1482 287h0M1265 263h0M1464 416h0M1518 348h0M1401 397h0M1446 324h0M1302 241h0M1208 200h0M1388 309h0M1190 374h0M1468 272h0M1201 270h0M1437 348h0M1414 268h0M1282 413h0M1238 212h0M1538 287h0M1457 401h0M1423 348h0M1270 400h0M1267 237h0M1180 342h0M1343 362h0M1452 315h0M1392 338h0M1384 350h0M1278 214h0M1288 346h0M1412 260h0M1466 483h0M1362 319h0M1271 256h0M1511 337h0M1246 207h0M1404 348h0M1482 240h0M1410 437h0M1438 502h0M1169 305h0M1422 342h0M1502 473h0M1463 313h0M1198 258h0M1320 344h0M1347 414h0M1183 326h0M1470 500h0M1265 219h0M1187 292h0M1318 257h0M1200 367h0M1180 290h0M1268 212h0M1229 354h0M1171 321h0M1475 276h0M1314 326h0M1234 319h0M1329 431h0M1489 240h0M1305 397h0M1374 386h0M1366 407h0M1253 318h0M1147 339h0M1239 239h0M1445 425h0M1288 408h0M1196 226h0M1231 216h0M1419 414h0M1121 310h0M1466 373h0M1482 513h0M1251 321h0M1298 274h0M1531 262h0M1316 376h0M1448 312h0M1317 425h0M1459 336h0M1197 228h0M1258 249h0M1391 399h0M1263 278h0M1438 450h0M1444 453h0M1341 333h0M1356 371h0M1225 254h0M1472 476h0M1306 415h0M1289 339h0M1431 428h0M1134 361h0M1349 379h0M1212 379h0M1214 213h0M1273 369h0M1399 291h0M1369 406h0M1127 326h0M1415 393h0M1287 331h0M1288 251h0M1516 364h0M1378 454h0M1246 311h0M1321 376h0M1476 321h0M1379 291h0M1236 320h0M1422 338h0M1165 248h0M1478 372h0M1532 340h0M1286 259h0M1229 343h0M1256 247h0M1281 335h0M1279 403h0M1271 303h0M1415 246h0M1300 380h0M1427 359h0M1171 374h0M1466 475h0M1223 229h0M1442 385h0M1488 499h0M1136 324h0M1332 304h0M1423 366h0M1426 331h0M1495 241h0M1506 340h0M1189 351h0M1448 234h0M1360 269h0M1335 397h0M1443 295h0M1105 357h0M1481 320h0M1445 323h0M1233 367h0M1247 320h0M1220 355h0M1446 433h0M1144 276h0M1160 313h0M1213 369h0M1442 390h0M1204 227h0M1233 294h0M1433 355h0M1309 317h0M1391 409h0M1243 284h0M1457 247h0M1200 209h0M1421 251h0M1432 230h0M1333 340h0M1325 324h0M1178 312h0M1252 250h0M1517 354h0M1164 318h0M1363 421h0M1281 224h0M1248 337h0M1501 419h0M1224 311h0M1338 340h0M1160 265h0M1133 303h0M1423 388h0M1438 498h0M1403 440h0M1402 465h0M1265 284h0M1430 250h0M1190 254h0M1302 280h0M1172 311h0M1234 300h0M1396 380h0M1240 334h0M1491 411h0M1309 390h0M1484 357h0M1316 352h0M1317 380h0M1216 280h0M1281 274h0M1180 275h0M1422 247h0M1498 409h0M1290 209h0M1171 238h0M1286 273h0M1393 415h0M1422 492h0M1255 190h0M1433 452h0M1464 465h0M1388 445h0M1452 429h0M1511 236h0M1444 484h0M1441 256h0M1458 236h0M1234 330h0M1345 273h0M1297 272h0M1410 262h0M1329 370h0M1320 315h0M1430 333h0M1495 308h0M1220 344h0M1338 316h0M1239 270h0M1186 300h0M1333 311h0M1209 210h0M1482 399h0M1192 278h0M1370 351h0M1492 360h0M1168 244h0M1508 325h0M1387 422h0M1213 305h0M1316 330h0M1407 388h0M1450 346h0M1233 234h0M1270 369h0M1392 262h0M1367 369h0M1472 505h0M1383 278h0M1450 372h0M1490 397h0M1481 354h0M1159 254h0M1167 297h0M1303 260h0M1119 292h0M1441 448h0M1452 254h0M1428 392h0M1202 209h0M1236 344h0M1392 425h0M1532 296h0M1319 347h0M1377 312h0M1498 388h0M1397 300h0M1437 461h0M1328 403h0M1314 328h0M1442 248h0M1465 517h0M1489 291h0M1332 353h0M1358 294h0M1358 319h0M1232 235h0M1479 502h0M1408 307h0M1350 376h0M1313 344h0M1488 434h0M1213 229h0M1186 330h0M1201 281h0M1263 364h0M1446 451h0M1436 501h0M1313 314h0M1448 321h0M1478 438h0M1237 264h0M1334 334h0M1137 327h0M1282 370h0M1210 251h0M1475 515h0M1295 303h0M1164 279h0M1433 361h0M1320 287h0M1499 364h0M1438 232h0M1457 298h0M1456 264h0M1197 386h0M1433 508h0M1300 241h0M1163 253h0M1188 326h0M1371 276h0M1288 420h0M1387 331h0M1409 343h0M1521 311h0M1339 415h0M1336 401h0M1423 492h0M1481 402h0M1218 327h0M1130 372h0M1374 388h0M1420 301h0M1138 330h0M1436 410h0M1365 359h0M1352 389h0M1332 234h0M1290 335h0M1453 468h0M1397 315h0M1128 359h0M1350 294h0M1458 232h0M1317 244h0M1210 211h0M1124 300h0M1310 356h0M1191 299h0M1340 286h0M1360 390h0M1255 249h0M1175 259h0M1399 288h0M1342 438h0M1398 352h0M1232 295h0M1279 288h0M1182 304h0M1264 372h0M1239 212h0M1405 410h0M1494 420h0M1374 428h0M1248 222h0M1298 220h0M1158 296h0M1469 342h0M1372 352h0M1292 279h0M1277 215h0M1456 372h0M1475 501h0M1385 434h0M1471 379h0M1395 471h0M1379 447h0M1268 288h0M1139 326h0M1550 322h0M1412 438h0M1248 375h0M1200 278h0M1231 296h0M1439 464h0M1492 389h0M1397 395h0M1498 366h0M1379 408h0M1480 376h0M1390 404h0M1301 248h0M1407 298h0M1196 275h0M1434 449h0M1391 323h0M1441 236h0M1489 238h0M1155 365h0M1456 511h0M1252 214h0M1446 284h0M1335 280h0M1354 278h0M1269 360h0M1487 365h0M1293 229h0M1176 280h0M1505 378h0M1195 316h0M1287 369h0M1358 369h0M1436 355h0M1536 344h0M1265 292h0M1319 334h0M1357 381h0M1473 338h0M1227 277h0M1513 242h0M1193 313h0M1448 382h0M1145 303h0M1318 426h0M1264 351h0M1157 326h0M1152 279h0M1385 432h0M1206 301h0M1382 341h0M1285 244h0M1321 358h0M1382 346h0M1232 276h0M1524 263h0M1347 325h0M1196 242h0M1512 296h0M1235 246h0M1311 352h0M1385 318h0M1475 409h0M1437 448h0M1446 478h0M1425 403h0M1354 280h0M1462 339h0M1451 501h0M1159 261h0M1476 407h0M1400 418h0M1475 480h0M1510 332h0M1324 303h0M1546 283h0M1364 295h0M1528 351h0M1154 324h0M1346 364h0M1497 282h0M1363 368h0M1436 506h0M1421 298h0M1351 297h0M1434 293h0M1339 248h0M1534 289h0M1470 492h0M1531 317h0M1338 268h0M1303 342h0M1457 405h0M1449 335h0M1328 314h0M1519 352h0M1443 416h0M1218 278h0M1447 239h0M1470 303h0M1406 484h0M1394 276h0M1157 272h0M1223 347h0M1490 347h0M1250 343h0M1480 285h0M1188 380h0M1520 267h0M1199 319h0M1172 298h0M1277 300h0M1522 291h0M1255 189h0M1412 471h0M1554 282h0M1447 256h0M1288 376h0M1397 313h0M1428 249h0M1144 340h0M1388 300h0M1249 352h0M1428 495h0M1354 276h0M1308 346h0M1223 337h0M1339 299h0M1314 248h0M1351 326h0M1355 402h0M1439 508h0M1220 377h0M1347 398h0M1243 215h0M1425 481h0M1428 396h0M1375 333h0M1475 417h0M1427 354h0M1444 423h0M1504 277h0M1236 278h0M1389 399h0M1175 299h0M1528 289h0M1432 425h0M1285 258h0M1318 248h0M1345 395h0M1348 291h0M1233 336h0M1214 324h0M1116 335h0M1421 344h0M1380 298h0M1477 410h0M1380 258h0M1362 399h0M1280 203h0M1490 486h0M1294 230h0M1360 341h0M1345 397h0M1150 335h0M1417 463h0M1430 260h0M1439 484h0M1414 321h0M1422 316h0M1402 372h0M1222 332h0M1468 287h0M1201 322h0M1501 268h0M1402 445h0M1461 410h0M1474 413h0M1452 262h0M1156 269h0M1365 437h0M1161 382h0M1278 249h0M1200 368h0M1280 304h0M1235 260h0M1403 379h0M1410 322h0M1226 331h0M1246 346h0M1447 248h0M1467 504h0M1268 382h0M1245 367h0M1250 249h0M1269 372h0M1373 390h0M1492 302h0M1436 285h0M1201 280h0M1341 361h0M1433 308h0M1337 296h0M1480 403h0M1175 314h0M1503 428h0M1229 240h0M1463 315h0M1473 488h0M1123 312h0M1486 456h0M1321 375h0M1164 259h0M1345 314h0M1331 238h0M1537 258h0M1444 290h0M1385 398h0M1212 207h0M1171 362h0M1339 417h0M1328 436h0M1227 337h0M1360 363h0M1417 318h0M1224 251h0M1319 278h0M1466 484h0M1427 309h0M1140 364h0M1140 284h0M1488 441h0M1378 362h0M1452 359h0M1405 255h0M1296 318h0M1201 346h0M1362 237h0M1423 243h0M1441 232h0M1443 489h0M1360 272h0M1154 327h0M1516 258h0M1278 387h0M1196 310h0M1403 410h0M1186 264h0M1301 342h0M1267 260h0M1372 298h0M1167 258h0M1206 245h0M1494 437h0M1152 292h0M1250 207h0M1142 367h0M1142 316h0M1441 402h0M1457 437h0M1330 366h0M1125 302h0M1472 288h0M1466 394h0M1407 447h0M1384 415h0M1384 390h0M1509 261h0M1403 297h0M1338 317h0M1309 332h0M1261 299h0M1490 470h0M1464 412h0M1205 234h0M1219 371h0M1448 363h0M1445 326h0M1392 296h0M1483 377h0M1248 322h0M1343 423h0M1211 311h0M1404 312h0M1403 442h0M1410 440h0M1149 274h0M1217 368h0M1390 318h0M1126 323h0M1142 292h0M1204 238h0M1250 318h0M1274 254h0M1444 375h0M1248 371h0M1401 383h0M1386 353h0M1516 374h0M1537 301h0M1404 468h0M1515 328h0M1280 251h0M1451 478h0M1498 481h0M1479 483h0M1491 415h0M1406 384h0M1378 314h0M1490 267h0M1391 424h0M1164 308h0M1243 380h0M1408 376h0M1292 334h0M1286 211h0M1320 341h0M1429 443h0M1120 329h0M1241 212h0M1390 296h0M1390 395h0M1430 418h0M1253 314h0M1223 330h0M1424 270h0M1447 429h0M1432 340h0M1398 435h0M1510 251h0M1242 366h0M1488 489h0M1342 411h0M1444 276h0M1295 309h0M1549 281h0M1277 262h0M1486 433h0M1481 260h0M1330 300h0M1226 308h0M1477 321h0M1176 390h0M1167 368h0M1318 288h0M1277 334h0M1405 241h0M1471 323h0M1200 280h0M1448 247h0M1446 512h0M1258 269h0M1226 278h0M1231 243h0M1351 359h0M1398 264h0M1496 309h0M1487 424h0M1297 308h0M1137 347h0M1364 396h0M1223 279h0M1337 395h0M1554 273h0M1507 341h0M1442 510h0M1182 286h0M1172 377h0M1210 259h0M1284 284h0M1305 416h0M1191 367h0M1366 415h0M1381 360h0M1378 402h0M1459 263h0M1481 478h0M1270 303h0M1525 278h0M1499 498h0M1200 215h0M1403 294h0M1287 317h0M1150 349h0M1274 197h0M1199 254h0M1338 398h0M1234 325h0M1414 323h0M1281 397h0M1173 385h0M1181 261h0M1220 378h0M1519 347h0M1264 372h0M1340 241h0M1285 375h0M1124 369h0M1118 315h0M1502 287h0M1294 421h0M1291 324h0M1255 372h0M1334 355h0M1544 326h0M1298 330h0M1372 268h0M1316 221h0M1163 274h0M1406 295h0M1460 303h0M1168 359h0M1394 245h0M1446 358h0M1223 251h0M1430 312h0M1340 343h0M1462 428h0M1191 325h0M1379 388h0M1422 315h0M1486 379h0M1229 237h0M1468 416h0M1358 283h0M1443 398h0M1521 311h0M1502 308h0M1179 280h0M1211 366h0M1314 340h0M1495 337h0M1179 302h0M1436 277h0M1529 324h0M1192 318h0M1437 269h0M1411 253h0M1431 427h0M1180 264h0M1542 344h0M1191 285h0M1450 339h0M1336 304h0M1489 484h0M1404 342h0M1139 368h0M1433 231h0M1125 346h0M1180 363h0M1214 347h0M1257 384h0M1414 361h0M1354 424h0M1299 326h0M1492 252h0M1380 467h0M1430 344h0M1273 390h0M1257 204h0M1485 388h0M1200 273h0M1308 321h0M1508 334h0M1482 519h0M1193 265h0M1426 363h0M1328 360h0M1398 360h0M1211 338h0M1474 335h0M1178 239h0M1401 263h0M1438 468h0M1194 342h0M1410 326h0M1401 473h0M1241 328h0M1385 437h0M1160 282h0M1422 448h0M1418 488h0M1486 338h0M1361 402h0M1440 443h0M1488 420h0M1390 289h0M1503 286h0M1541 258h0M1473 462h0M1376 444h0M1319 359h0M1465 288h0M1212 218h0M1256 361h0M1429 389h0M1507 342h0M1438 238h0M1366 296h0M1365 262h0M1360 250h0M1484 377h0M1395 446h0M1428 409h0M1488 516h0M1401 303h0M1403 429h0M1226 318h0M1515 355h0M1388 328h0M1353 263h0M1357 294h0M1220 335h0M1249 355h0M1425 471h0M1243 323h0M1145 328h0M1363 452h0M1352 306h0M1242 383h0M1450 510h0M1381 395h0M1435 321h0M1294 356h0M1430 405h0M1264 322h0M1236 213h0M1236 256h0M1440 470h0M1135 376h0M1370 345h0M1333 280h0M1464 504h0M1335 366h0M1266 237h0M1189 262h0M1272 358h0M1262 375h0M1363 433h0M1427 480h0M1363 424h0M1446 443h0M1403 280h0M1396 464h0M1478 386h0M1491 264h0M1391 296h0M1389 377h0M1408 322h0M1459 441h0M1396 380h0M1410 250h0M1384 307h0M1155 297h0M1200 230h0M1167 303h0M1194 347h0M1330 292h0M1430 269h0M1490 347h0M1255 218h0M1422 318h0M1383 303h0M1405 477h0M1355 350h0M1182 239h0M1217 216h0M1325 383h0M1140 316h0M1342 422h0M1320 426h0M1210 282h0M1304 359h0M1380 416h0M1426 416h0M1193 266h0M1457 296h0M1280 223h0M1401 464h0M1194 234h0M1150 321h0M1387 273h0M1424 400h0M1380 258h0M1524 305h0M1236 360h0M1500 337h0M1360 396h0M1456 355h0M1359 386h0M1192 234h0M1490 332h0M1434 346h0M1394 299h0M1448 330h0M1468 390h0M1552 282h0M1171 381h0M1387 351h0M1365 353h0M1476 489h0M1288 214h0M1220 287h0M1450 350h0M1408 454h0M1284 368h0M1234 225h0M1501 368h0M1172 334h0M1268 205h0M1123 321h0M1468 490h0M1439 396h0M1429 321h0M1291 280h0M1271 316h0M1282 235h0M1249 328h0M1452 502h0M1404 409h0M1229 331h0M1303 298h0M1255 269h0M1296 348h0M1337 299h0M1465 390h0M1350 232h0M1441 475h0M1456 335h0M1278 292h0M1267 312h0M1445 419h0M1466 310h0M1168 364h0M1435 340h0M1369 337h0M1185 279h0M1382 347h0M1181 263h0M1261 289h0M1289 338h0M1409 421h0M1246 384h0M1208 207h0M1136 345h0M1255 305h0M1204 269h0M1305 375h0M1506 319h0M1429 489h0M1349 306h0M1238 332h0M1388 366h0M1318 233h0M1346 353h0M1289 399h0M1426 236h0M1460 414h0M1235 272h0M1146 326h0M1161 316h0M1232 311h0M1196 225h0M1235 338h0M1293 280h0M1443 438h0M1234 335h0M1174 238h0M1259 358h0M1184 245h0M1512 269h0M1417 283h0M1215 334h0M1309 348h0M1190 256h0M1538 289h0M1381 277h0M1340 290h0M1162 283h0M1470 471h0M1470 503h0M1241 363h0M1375 281h0M1250 331h0M1403 418h0M1191 354h0M1210 309h0M1253 297h0M1449 352h0M1374 278h0M1354 287h0M1236 210h0M1469 466h0M1483 238h0M1334 307h0M1335 248h0M1512 247h0M1438 378h0M1389 453h0M1209 277h0M1321 276h0M1370 276h0M1265 361h0M1521 258h0M1387 306h0M1178 287h0M1209 229h0M1120 332h0M1138 326h0M1289 291h0M1150 357h0M1443 374h0M1372 430h0M1484 463h0M1217 310h0M1500 362h0M1351 255h0M1379 414h0M1129 359h0M1480 378h0M1177 333h0M1434 279h0M1240 274h0M1358 263h0M1127 326h0M1425 416h0M1484 516h0M1480 465h0M1233 212h0M1214 286h0M1405 305h0M1362 428h0M1228 371h0M1206 295h0M1476 235h0M1203 362h0M1356 289h0M1524 326h0M1231 217h0M1200 220h0M1394 381h0M1256 255h0M1276 378h0M1332 366h0M1100 343h0M1310 328h0M1417 412h0M1425 338h0M1182 380h0M1166 297h0M1490 300h0M1361 405h0M1542 314h0M1210 324h0M1297 281h0M1196 322h0M1481 324h0M1417 326h0M1289 215h0M1397 439h0M1461 381h0M1247 191h0M1436 337h0M1357 279h0M1254 292h0M1281 284h0M1213 227h0M1225 334h0M1504 340h0M1235 218h0M1297 232h0M1288 297h0M1193 232h0M1453 357h0M1395 352h0M1152 286h0M1460 411h0M1389 323h0M1368 284h0M1498 261h0M1191 378h0M1449 472h0M1235 261h0M1214 293h0M1502 439h0M1370 445h0M1310 239h0M1489 308h0M1211 365h0M1235 225h0M1249 274h0M1486 299h0M1436 354h0M1445 423h0M1415 249h0M1272 324h0M1300 311h0M1456 461h0M1441 494h0M1167 283h0M1104 357h0M1311 274h0M1190 223h0M1454 446h0M1354 293h0M1522 265h0M1234 247h0M1379 370h0M1361 284h0M1315 405h0M1399 295h0M1510 318h0M1360 438h0M1437 246h0M1484 441h0M1316 228h0M1290 343h0M1310 356h0M1362 380h0M1302 344h0M1484 412h0M1320 293h0M1343 347h0M1469 400h0M1275 308h0M1539 285h0M1264 392h0M1456 365h0M1282 362h0M1279 214h0M1166 256h0M1212 306h0M1209 318h0M1539 291h0M1317 301h0M1350 384h0M1168 254h0M1217 362h0M1443 355h0M1412 466h0M1195 231h0M1380 436h0M1457 478h0M1509 499h0M1422 445h0M1229 358h0M1554 293h0M1393 413h0M1383 397h0M1504 287h0M1210 336h0M1431 362h0M1477 458h0M1207 227h0M1452 371h0M1418 379h0M1402 473h0M1469 334h0M1413 406h0M1397 291h0M1276 330h0M1440 420h0M1139 329h0M1329 326h0M1405 327h0M1369 385h0M1198 288h0M1363 414h0M1265 223h0M1478 501h0M1365 246h0M1185 276h0M1168 284h0M1376 279h0M1281 243h0M1427 454h0M1500 342h0M1347 271h0M1455 426h0M1346 442h0M1369 399h0M1402 262h0M1434 502h0M1155 365h0M1475 358h0M1354 422h0M1416 288h0M1539 319h0M1232 223h0M1401 384h0M1251 277h0M1477 238h0M1200 293h0M1322 335h0M1225 359h0M1303 231h0M1349 304h0M1199 370h0M1339 415h0M1508 242h0M1312 348h0M1134 330h0M1367 260h0M1450 407h0M1358 337h0M1166 359h0M1469 271h0M1417 276h0M1247 317h0M1353 278h0M1345 275h0M1273 250h0M1408 453h0M1128 336h0M1283 244h0M1236 268h0M1311 315h0M1323 406h0M1447 405h0M1537 290h0M1397 412h0M1270 366h0M1173 344h0M1433 271h0M1464 382h0M1491 499h0M1382 370h0M1467 250h0M1244 326h0M1198 329h0M1218 266h0M1229 304h0M1313 346h0M1358 399h0M1394 477h0M1398 458h0M1438 372h0M1399 292h0M1237 234h0M1337 292h0M1499 331h0M1534 404h0M1532 414h0M1539 412h0M1550 406h0M1527 404h0M1551 409h0M1552 407h0M1528 412h0M1545 408h0M1531 410h0M1527 404h0M1534 415h0M1533 401h0M1553 404h0M1527 405h0M1537 414h0M1531 404h0M1550 405h0M1541 415h0M1541 417h0M1531 399h0M1548 400h0M1537 414h0M1542 402h0M1537 412h0M1549 402h0M1540 403h0M1553 407h0M1541 412h0M1541 409h0M1534 410h0M1539 416h0M1545 411h0M1534 415h0M1537 404h0M1192 477h0M1234 435h0M1248 422h0M1181 475h0M1223 442h0M1218 448h0M1230 437h0M1215 445h0M1219 440h0M1228 434h0M1227 443h0M1228 442h0M1221 445h0M1232 432h0M1225 440h0M1220 451h0M1226 439h0M1240 425h0M1235 437h0M1212 456h0M1221 441h0M1223 436h0M1139 542h0M1113 534h0M1127 549h0M1109 526h0M1125 517h0M1137 558h0M1119 520h0M1133 521h0M1125 537h0M1112 542h0M1128 552h0M1121 524h0M1117 524h0M1110 530h0M1127 528h0M1122 537h0M1129 528h0M1107 524h0M1132 534h0M1127 520h0M1118 528h0M1132 546h0M1129 515h0M1105 543h0M1128 539h0M1135 508h0M1137 542h0M1122 536h0M1114 538h0M1129 528h0M1122 512h0M1126 536h0M1132 550h0M1113 538h0M1136 508h0M1130 524h0M1104 543h0M1107 533h0M1130 557h0M1089 534h0M1117 530h0M1105 532h0M1107 528h0M1132 538h0M1134 536h0M1105 533h0M1139 549h0M1124 542h0M1134 520h0M1131 515h0M1110 525h0M1119 546h0M1134 532h0M1137 543h0M1110 544h0M1105 537h0M1099 531h0M1124 536h0M1112 536h0M1128 550h0M1093 534h0M1134 515h0M1124 542h0M1128 556h0M1110 535h0M1132 549h0M1137 549h0M1137 525h0M1134 519h0M1117 547h0M1119 529h0M1122 546h0M1124 554h0M1117 544h0M1131 532h0M1130 553h0M1135 551h0M1135 542h0M1127 558h0M1110 526h0M1124 539h0M1105 532h0M1113 542h0M1103 530h0M1122 545h0M1095 528h0M1123 529h0M1131 509h0M1136 534h0M1132 526h0M1105 538h0M1132 538h0M1114 540h0M1115 527h0M1120 532h0M1476 601h0M1490 592h0M1505 502h0M1463 519h0M1428 566h0M1417 583h0M1483 584h0M1505 550h0M1510 587h0M1493 522h0M1445 521h0M1434 607h0M1438 610h0M1490 590h0M1511 539h0M1446 614h0M1487 630h0M1507 557h0M1466 606h0M1506 520h0M1489 576h0M1463 514h0M1477 534h0M1492 573h0M1477 575h0M1513 556h0M1478 528h0M1509 562h0M1470 550h0M1465 620h0M1436 522h0M1497 560h0M1491 554h0M1511 552h0M1502 518h0M1492 568h0M1498 565h0M1440 621h0M1472 551h0M1454 604h0M1480 549h0M1472 616h0M1499 516h0M1487 519h0M1481 541h0M1515 584h0M1475 552h0M1426 578h0M1447 624h0M1462 518h0M1446 555h0M1481 610h0M1453 593h0M1445 583h0M1478 564h0M1480 500h0M1503 607h0M1477 573h0M1491 564h0M1488 580h0M1449 552h0M1503 574h0M1471 506h0M1450 513h0M1497 501h0M1487 531h0M1468 533h0M1505 594h0M1482 533h0M1498 615h0M1444 537h0M1490 587h0M1478 580h0M1422 603h0M1430 535h0M1486 610h0M1422 563h0M1478 552h0M1509 584h0M1509 558h0M1461 541h0M1486 558h0M1456 586h0M1464 615h0M1489 499h0M1439 580h0M1480 553h0M1466 511h0M1426 546h0M1484 526h0M1475 626h0M1462 577h0M1481 634h0M1492 582h0M1490 620h0M1448 562h0M1443 603h0M1434 590h0M1464 513h0M1443 526h0M1469 517h0M1488 618h0M1454 560h0M1455 509h0M1459 601h0M1458 538h0M1452 594h0M1460 548h0M1501 586h0M1503 526h0M1432 514h0M1444 554h0M1451 592h0M1475 518h0M1463 599h0M1463 573h0M1476 555h0M1451 602h0M1464 531h0M1436 606h0M1427 583h0M1452 561h0M1432 515h0M1450 557h0M1508 534h0M1490 591h0M1498 616h0M1429 597h0M1513 543h0M1464 528h0M1461 535h0M1503 510h0M1473 521h0M1491 579h0M1459 581h0M1479 593h0M1445 606h0M1470 602h0M1450 587h0M1497 605h0M1477 617h0M1489 614h0M1436 552h0M1500 584h0M1433 528h0M1494 599h0M1517 547h0M1460 525h0M1479 529h0M1486 514h0M1463 514h0M1450 557h0M1463 540h0M1486 502h0M1440 523h0M1427 584h0M1504 572h0M1494 604h0M1419 602h0M1472 609h0M1508 579h0M1427 616h0M1481 600h0M1434 570h0M1514 556h0M1467 555h0M1455 599h0M1505 590h0M1487 579h0M1437 560h0M1474 561h0M1443 525h0M1498 513h0M1425 597h0M1449 584h0M1492 626h0M1458 568h0M1430 536h0M1447 596h0M1508 565h0M1489 506h0M1471 591h0M1438 618h0M1447 613h0M1467 609h0M1433 542h0M1467 576h0M1491 521h0M1502 569h0M1479 515h0M1464 526h0M1493 578h0M1465 563h0M1514 568h0M1474 507h0M1454 554h0M1435 531h0M1466 516h0M1479 533h0M1500 617h0M1474 523h0M1503 521h0M1463 607h0M1458 558h0M1432 619h0M1447 532h0M1493 582h0M1432 577h0M1437 588h0M1508 562h0M1423 577h0M1503 580h0M1442 527h0M1498 574h0M1496 608h0M1477 534h0M1430 616h0M1455 607h0M1459 576h0M1471 559h0M1464 601h0M1454 611h0M1456 561h0M1501 539h0M1513 527h0M1426 602h0M1443 533h0M1488 593h0M1443 615h0M1427 593h0M1476 596h0M1508 580h0M1486 617h0M1458 569h0M1489 504h0M1427 610h0M1481 631h0M1481 526h0M1498 596h0M1438 518h0M1449 539h0M1433 549h0M1497 561h0M1475 502h0M1425 618h0M1442 536h0M1460 511h0M1488 511h0M1456 597h0M1501 598h0M1478 610h0M1497 506h0M1496 552h0M1438 606h0M1469 523h0M1431 509h0M1498 591h0M1509 530h0M1496 501h0M1446 616h0M1467 600h0M1508 583h0M1475 606h0M1489 520h0M1430 598h0M1501 592h0M1512 571h0M1451 596h0M1497 583h0M1483 595h0M1543 593h0M1529 586h0M1521 528h0M1514 522h0M1542 554h0M1530 603h0M1520 515h0M1520 529h0M1514 511h0M1526 548h0M1524 560h0M1523 538h0M1537 577h0M1518 530h0M1536 530h0M1533 529h0M1623 533h0M1565 583h0M1630 613h0M1571 552h0M1690 618h0M1597 563h0M1648 546h0M1617 529h0M1564 541h0M1580 575h0M1582 590h0M1687 588h0M1648 600h0M1624 618h0M1605 634h0M1679 606h0M1605 625h0M1667 549h0M1545 586h0M1619 637h0M1615 589h0M1602 592h0M1583 599h0M1615 622h0M1622 531h0M1695 598h0M1586 529h0M1619 641h0M1650 632h0M1571 578h0M1682 634h0M1699 616h0M1642 529h0M1571 581h0M1651 587h0M1600 566h0M1618 531h0M1607 608h0M1668 631h0M1579 597h0M1578 541h0M1634 622h0M1610 561h0M1635 559h0M1644 599h0M1576 565h0M1641 567h0M1615 538h0M1590 525h0M1670 579h0M1621 626h0M1662 626h0M1595 544h0M1600 599h0M1628 541h0M1630 531h0M1568 567h0M1648 610h0M1632 572h0M1603 593h0M1557 572h0M1691 572h0M1662 560h0M1590 571h0M1649 612h0M1665 577h0M1703 590h0M1579 548h0M1610 531h0M1688 606h0M1657 564h0M1625 626h0M1641 616h0M1686 579h0M1551 624h0M1643 551h0M1679 596h0M1544 606h0M1676 582h0M1610 543h0M1669 622h0M1676 567h0M1587 533h0M1691 600h0M1690 592h0M1643 549h0M1602 541h0M1610 608h0M1670 577h0M1616 597h0M1692 576h0M1687 575h0M1578 626h0M1635 653h0M1609 621h0M1593 574h0M1621 561h0M1568 539h0M1587 590h0M1622 573h0M1551 571h0M1666 552h0M1543 552h0M1547 560h0M1631 627h0M1541 571h0M1625 611h0M1595 535h0M1553 604h0M1671 547h0M1599 590h0M1685 601h0M1549 534h0M1697 580h0M1623 579h0M1577 590h0M1655 543h0M1560 567h0M1571 584h0M1554 607h0M1670 616h0M1644 598h0M1666 541h0M1603 591h0M1642 629h0M1630 553h0M1619 633h0M1625 607h0M1665 593h0M1614 621h0M1636 626h0M1684 606h0M1580 530h0M1570 612h0M1629 549h0M1659 601h0M1663 593h0M1544 608h0M1673 550h0M1626 595h0M1561 551h0M1589 581h0M1643 548h0M1648 533h0M1611 567h0M1631 642h0M1617 547h0M1633 645h0M1652 595h0M1662 635h0M1685 624h0M1672 623h0M1651 539h0M1685 630h0M1599 558h0M1618 592h0M1671 575h0M1697 603h0M1579 588h0M1602 556h0M1651 601h0M1650 562h0M1658 570h0M1699 594h0M1657 619h0M1595 545h0M1675 627h0M1627 595h0M1684 567h0M1542 590h0M1569 557h0M1653 604h0M1654 583h0M1578 571h0M1632 632h0M1615 635h0M1595 599h0M1699 611h0M1579 602h0M1566 561h0M1544 556h0M1561 609h0M1630 580h0M1643 636h0M1666 560h0M1606 597h0M1697 596h0M1695 610h0M1615 578h0M1677 585h0M1576 563h0M1591 534h0M1549 613h0M1624 582h0M1605 574h0M1543 573h0M1566 570h0M1534 581h0M1617 635h0M1628 567h0M1661 557h0M1551 545h0M1607 619h0M1686 572h0M1546 585h0M1666 633h0M1654 559h0M1659 594h0M1585 570h0M1638 608h0M1575 595h0M1645 619h0M1669 634h0M1648 635h0M1586 578h0M1657 630h0M1683 641h0M1665 550h0M1608 528h0M1696 602h0M1581 608h0M1610 544h0M1641 561h0M1666 583h0M1676 574h0M1673 627h0M1630 621h0M1558 579h0M1548 593h0M1684 573h0M1641 577h0M1568 608h0M1605 574h0M1668 628h0M1622 610h0M1598 571h0M1587 542h0M1614 551h0M1676 554h0M1642 612h0M1554 543h0M1698 617h0M1594 587h0M1617 625h0M1659 571h0M1693 575h0M1597 599h0M1672 571h0M1604 587h0M1624 623h0M1641 625h0M1654 555h0M1570 567h0M1679 582h0M1621 530h0M1600 559h0M1644 579h0M1625 546h0M1526 600h0M1655 598h0M1694 580h0M1591 586h0M1545 589h0M1539 588h0M1632 613h0M1658 564h0M1651 573h0M1591 546h0M1590 532h0M1558 544h0M1598 591h0M1666 558h0M1650 598h0M1596 521h0M1609 617h0M1625 577h0M1705 605h0M1586 575h0M1675 590h0M1672 587h0M1614 550h0M1674 643h0M1624 626h0M1662 648h0M1589 550h0M1665 627h0M1572 622h0M1661 641h0M1626 637h0M1668 628h0M1649 558h0M1615 552h0M1563 542h0M1616 626h0M1616 590h0M1638 596h0M1558 586h0M1634 568h0M1572 586h0M1696 621h0M1665 651h0M1663 567h0M1579 581h0M1571 595h0M1620 628h0M1613 537h0M1674 574h0M1682 576h0M1689 628h0M1542 611h0M1698 612h0M1635 605h0M1678 630h0M1588 551h0M1654 591h0M1649 569h0M1583 585h0M1673 620h0M1595 561h0M1563 541h0M1597 622h0M1584 574h0M1585 551h0M1666 576h0M1666 649h0M1665 587h0M1594 599h0M1635 640h0M1658 620h0M1664 583h0M1553 593h0M1662 619h0M1550 618h0M1569 560h0M1684 592h0M1675 568h0M1628 563h0M1604 561h0M1579 541h0M1657 589h0M1596 571h0M1601 561h0M1685 640h0M1590 583h0M1556 545h0M1634 573h0M1662 651h0M1561 594h0M1594 588h0M1638 566h0M1679 591h0M1604 529h0M1586 544h0M1642 614h0M1595 573h0M1672 571h0M1543 620h0M1665 593h0M1612 544h0M1529 587h0M1686 603h0M1681 602h0M1553 580h0M1615 555h0M1653 621h0M1624 576h0M1589 597h0M1565 584h0M1685 616h0M1581 619h0M1689 608h0M1619 611h0M1573 548h0M1573 617h0M1638 588h0M1609 607h0M1634 545h0M1648 532h0M1676 623h0M1659 601h0M1573 579h0M1695 585h0M1603 598h0M1646 616h0M1600 547h0M1618 541h0M1672 601h0M1536 595h0M1697 609h0M1606 564h0M1662 597h0M1651 596h0M1672 598h0M1595 573h0M1627 638h0M1701 600h0M1673 622h0M1672 636h0M1547 605h0M1647 601h0M1605 523h0M1684 617h0M1558 619h0M1578 552h0M1642 624h0M1622 590h0M1626 582h0M1552 588h0M1590 570h0M1668 636h0M1643 621h0M1685 603h0M1616 593h0M1669 596h0M1621 577h0M1699 581h0M1655 636h0M1560 596h0M1677 552h0M1566 545h0M1610 560h0M1581 554h0M1636 617h0M1641 575h0M1698 628h0M1593 530h0M1682 573h0M1592 538h0M1637 558h0M1610 544h0M1583 590h0M1609 587h0M1554 603h0M1619 632h0M1609 594h0M1649 591h0M1643 603h0M1691 568h0M1703 577h0M1655 620h0M1576 532h0M1576 574h0M1605 566h0M1612 609h0M1545 586h0M1679 594h0M1624 613h0M1677 588h0M1675 597h0M1691 635h0M1548 572h0M1650 598h0M1621 630h0M1608 614h0M1666 597h0M1670 610h0M1609 543h0M1683 614h0M1653 632h0M1628 639h0M1657 628h0M1589 560h0M1585 616h0M1668 555h0M1658 638h0M1530 605h0M1633 629h0M1674 645h0M1584 604h0M1628 572h0M1690 576h0M1564 610h0M1586 541h0M1565 610h0M1597 549h0M1577 600h0M1632 603h0M1652 644h0M1620 542h0M1670 623h0M1703 614h0M1680 587h0M1635 620h0M1656 577h0M1693 586h0M1549 557h0M1608 630h0M1630 612h0M1553 563h0M1637 648h0M1665 587h0M1591 547h0M1615 634h0M1629 628h0M1646 556h0M1666 649h0M1637 621h0M1586 613h0M1663 593h0M1649 608h0M1639 554h0M1549 606h0M1622 623h0M1639 616h0M1666 558h0M1557 554h0M1660 576h0M1613 531h0M1605 541h0M1643 645h0M1607 597h0M1593 594h0M1622 633h0M1668 631h0M1679 611h0M1672 625h0M1639 637h0M1654 609h0M1639 598h0M1697 616h0M1660 651h0M1568 577h0M1607 583h0M1619 604h0M1551 539h0M1643 609h0M1691 625h0M1659 612h0M1586 547h0M1649 637h0M1615 542h0M1552 586h0M1606 624h0M1606 573h0M1607 564h0M1589 609h0M1551 553h0M1584 590h0M1612 568h0M1702 597h0M1639 625h0M1544 597h0M1613 624h0M1572 553h0M1565 594h0M1614 587h0M1671 624h0M1560 611h0M1695 596h0M1626 613h0M1557 539h0M1614 640h0M1652 650h0M1631 596h0M1604 587h0M1629 584h0M1586 564h0M1579 609h0M1611 538h0M1600 560h0M1565 609h0M1631 633h0M1622 625h0M1601 572h0M1623 580h0M1669 626h0M1554 582h0M1557 583h0M1621 565h0M1692 581h0M1618 536h0M1638 564h0M1545 611h0M1561 615h0M1581 539h0M1530 607h0M1654 627h0M1599 607h0M1538 596h0M1626 575h0M1622 619h0M1643 534h0M1561 572h0M1626 640h0M1559 606h0M1668 585h0M1644 611h0M1686 611h0M1671 573h0M1605 546h0M1619 623h0M1673 619h0M1625 646h0M1617 560h0M1619 629h0M1642 605h0M1619 552h0M1686 573h0M1554 578h0M1650 650h0M1604 569h0M1627 529h0M1555 551h0M1565 626h0M1649 644h0M1529 601h0M1612 614h0M1684 569h0M1663 593h0M1662 591h0M1670 605h0M1598 531h0M1583 542h0M1699 569h0M1701 595h0M1550 538h0M1598 564h0M1653 645h0M1593 585h0M1565 620h0M1551 550h0M1658 594h0M1643 578h0M1661 616h0M1640 595h0M1629 530h0M1550 571h0M1703 606h0M1604 555h0M1651 622h0M1673 603h0M1545 576h0M1533 601h0M1569 554h0M1634 626h0M1634 592h0M1661 625h0M1655 644h0M1577 557h0M1581 567h0M1531 590h0M1588 544h0M1628 618h0M1582 618h0M1541 586h0M1610 531h0M1612 629h0M1560 558h0M1653 554h0M1555 581h0M1662 581h0M1605 618h0M1533 613h0M1614 557h0M1646 622h0M1554 598h0M1619 634h0M1643 629h0M1531 590h0M1671 564h0M1573 548h0M1582 541h0M1560 603h0M1594 604h0M1595 556h0M1574 608h0M1593 526h0M1594 582h0M1652 608h0M1639 585h0M1608 599h0M1671 589h0M1636 543h0M1556 565h0M1616 636h0M1707 616h0M1552 552h0M1563 605h0M1560 576h0M1648 633h0M1561 573h0M1546 589h0M1644 639h0M1658 591h0M1636 597h0M1558 600h0M1663 568h0M1688 628h0M1671 594h0M1655 565h0M1674 571h0M1671 637h0M1580 592h0M1564 604h0M1558 615h0M1384 1014h0M1546 923h0M1309 990h0M1315 902h0M1354 871h0M1429 813h0M1550 664h0M1391 889h0M1601 961h0M1613 810h0M1458 902h0M1665 755h0M1263 917h0M1531 618h0M1636 851h0M1650 765h0M1568 1067h0M1465 697h0M1388 1019h0M1668 747h0M1609 842h0M1318 856h0M1356 949h0M1503 768h0M1520 859h0M1407 747h0M1445 662h0M1373 838h0M1520 694h0M1591 977h0M1360 917h0M1599 901h0M1473 1012h0M1226 969h0M1666 810h0M1561 897h0M1577 993h0M1191 875h0M1403 746h0M1610 882h0M1237 1016h0M1518 800h0M1436 740h0M1571 788h0M1570 751h0M1454 1001h0M1598 884h0M1598 833h0M1612 975h0M1513 962h0M1395 844h0M1517 692h0M1489 888h0M1294 1000h0M1672 752h0M1314 910h0M1304 880h0M1303 942h0M1397 912h0M1516 986h0M1543 1027h0M1605 799h0M1526 1085h0M1546 1040h0M1565 936h0M1291 844h0M1554 627h0M1539 1088h0M1536 835h0M1295 989h0M1421 675h0M1405 1031h0M1281 849h0M1452 960h0M1252 1060h0M1484 639h0M1544 754h0M1300 971h0M1545 864h0M1372 774h0M1271 915h0M1637 737h0M1437 915h0M1472 958h0M1646 767h0M1559 831h0M1496 1071h0M1601 656h0M1557 1089h0M1395 990h0M1531 1049h0M1493 906h0M1192 924h0M1284 956h0M1601 661h0M1230 934h0M1631 744h0M1515 739h0M1330 814h0M1518 778h0M1355 775h0M1664 750h0M1599 828h0M1431 934h0M1431 886h0M1379 1018h0M1631 885h0M1316 882h0M1400 804h0M1606 671h0M1551 875h0M1561 635h0M1394 798h0M1543 762h0M1418 1008h0M1655 643h0M1518 641h0M1391 1009h0M1563 998h0M1644 665h0M1441 811h0M1316 813h0M1635 761h0M1519 1027h0M1346 812h0M1233 1010h0M1486 965h0M1422 654h0M1597 996h0M1450 616h0M1654 650h0M1497 616h0M1245 954h0M1516 796h0M1608 637h0M1517 636h0M1543 864h0M1297 939h0M1435 933h0M1569 1084h0M1442 801h0M1501 1002h0M1524 687h0M1556 651h0M1511 735h0M1544 1027h0M1399 892h0M1615 700h0M1411 839h0M1530 966h0M1494 740h0M1609 960h0M1562 664h0M1336 930h0M1517 716h0M1297 1014h0M1406 738h0M1479 1070h0M1492 983h0M1618 672h0M1366 739h0M1602 846h0M1492 669h0M1553 976h0M1489 729h0M1437 822h0M1336 943h0M1361 913h0M1491 1066h0M1636 713h0M1512 860h0M1280 1021h0M1516 718h0M1350 879h0M1570 655h0M1670 617h0M1521 626h0M1379 867h0M1412 963h0M1306 963h0M1483 861h0M1480 1069h0M1550 913h0M1310 934h0M1251 847h0M1325 964h0M1376 809h0M1545 788h0M1454 985h0M1414 794h0M1438 649h0M1187 897h0M1449 679h0M1548 706h0M1583 1009h0M1658 816h0M1523 664h0M1476 818h0M1381 785h0M1604 822h0M1290 896h0M1414 1000h0M1374 958h0M1400 858h0M1473 717h0M1460 785h0M1239 1042h0M1449 998h0M1577 747h0M1302 818h0M1531 1085h0M1493 808h0M1459 793h0M1508 1067h0M1461 980h0M1488 930h0M1561 761h0M1535 917h0M1351 1032h0M1421 796h0M1594 806h0M1512 1013h0M1291 901h0M1488 705h0M1337 958h0M1551 989h0M1253 862h0M1292 987h0M1352 895h0M1369 902h0M1332 1041h0M1549 824h0M1300 863h0M1612 858h0M1245 878h0M1242 860h0M1447 776h0M1248 998h0M1633 860h0M1564 1030h0M1444 843h0M1366 854h0M1345 848h0M1493 806h0M1249 930h0M1534 651h0M1591 897h0M1211 892h0M1358 817h0M1515 688h0M1595 828h0M1438 1034h0M1610 999h0M1515 1107h0M1428 951h0M1466 886h0M1384 940h0M1417 695h0M1486 1090h0M1260 969h0M1581 761h0M1325 907h0M1279 982h0M1586 942h0M1481 939h0M1337 994h0M1471 650h0M1559 830h0M1220 1011h0M1194 896h0M1421 671h0M1429 664h0M1247 986h0M1439 819h0M1415 881h0M1405 658h0M1495 995h0M1596 1002h0M1537 739h0M1396 999h0M1599 930h0M1510 935h0M1500 655h0M1513 1063h0M1566 743h0M1306 939h0M1444 936h0M1450 980h0M1433 920h0M1563 1046h0M1392 747h0M1605 972h0M1661 777h0M1585 687h0M1276 910h0M1652 771h0M1456 942h0M1376 942h0M1405 886h0M1514 930h0M1459 705h0M1381 758h0M1597 963h0M1459 772h0M1494 1037h0M1393 847h0M1435 956h0M1624 893h0M1611 762h0M1669 725h0M1494 1065h0M1467 996h0M1367 948h0M1557 1066h0M1268 976h0M1473 864h0M1523 974h0M1490 805h0M1485 764h0M1393 876h0M1584 1072h0M1639 754h0M1193 931h0M1513 755h0M1589 890h0M1650 679h0M1623 662h0M1390 1002h0M1225 1028h0M1488 894h0M1411 950h0M1434 714h0M1624 824h0M1393 820h0M1290 1050h0M1516 1087h0M1545 759h0M1542 633h0M1348 793h0M1588 1036h0M1370 759h0M1354 735h0M1561 624h0M1494 673h0M1569 873h0M1558 1016h0M1416 804h0M1463 895h0M1307 822h0M1572 900h0M1432 652h0M1192 875h0M1614 858h0M1668 656h0M1519 1106h0M1510 1044h0M1547 611h0M1555 1007h0M1412 1030h0M1443 947h0M1386 973h0M1493 1069h0M1409 720h0M1650 850h0M1262 1069h0M1549 995h0M1546 625h0M1379 975h0M1336 1027h0M1589 782h0M1521 669h0M1510 1021h0M1406 696h0M1518 1061h0M1458 833h0M1378 838h0M1578 1044h0M1585 791h0M1518 932h0M1531 801h0M1423 629h0M1405 873h0M1285 860h0M1251 1044h0M1525 785h0M1287 969h0M1535 849h0M1356 738h0M1566 624h0M1406 884h0M1477 932h0M1232 860h0M1605 956h0M1639 757h0M1380 723h0M1638 745h0M1194 954h0M1212 993h0M1604 686h0M1475 1064h0M1398 783h0M1564 1095h0M1601 1037h0M1653 834h0M1367 770h0M1414 648h0M1533 741h0M1409 1045h0M1562 887h0M1505 994h0M1437 730h0M1267 879h0M1188 883h0M1525 1100h0M1655 790h0M1412 733h0M1296 1021h0M1412 777h0M1326 795h0M1208 1000h0M1261 995h0M1489 689h0M1518 935h0M1369 843h0M1544 883h0M1327 978h0M1252 850h0M1541 846h0M1389 925h0M1526 998h0M1570 623h0M1440 939h0M1354 789h0M1479 696h0M1252 913h0M1555 770h0M1652 825h0M1617 622h0M1545 650h0M1296 967h0M1261 855h0M1627 898h0M1497 959h0M1396 1025h0M1565 916h0M1521 1097h0M1456 682h0M1476 879h0M1537 817h0M1349 824h0M1615 847h0M1471 699h0M1579 1014h0M1458 924h0M1504 902h0M1315 1039h0M1514 779h0M1583 905h0M1318 868h0M1267 915h0M1517 656h0M1507 931h0M1658 755h0M1257 995h0M1249 933h0M1600 692h0M1466 929h0M1383 979h0M1546 625h0M1473 953h0M1628 840h0M1468 919h0M1510 858h0M1489 1052h0M1381 928h0M1310 901h0M1328 840h0M1650 667h0M1288 976h0M1469 1070h0M1385 804h0M1190 928h0M1212 889h0M1421 950h0M1309 913h0M1511 694h0M1551 1027h0M1323 912h0M1373 996h0M1586 649h0M1510 831h0M1313 994h0M1431 810h0M1347 928h0M1622 881h0M1551 1058h0M1505 939h0M1596 844h0M1612 793h0M1458 1006h0M1508 1092h0M1541 644h0M1577 1030h0M1245 865h0M1637 845h0M1515 754h0M1518 719h0M1418 886h0M1271 1031h0M1498 662h0M1229 931h0M1250 1054h0M1277 947h0M1409 931h0M1568 702h0M1614 630h0M1278 843h0M1577 726h0M1391 1007h0M1497 786h0M1470 774h0M1251 876h0M1406 729h0M1436 943h0M1479 949h0M1478 853h0M1522 1010h0M1445 858h0M1659 765h0M1567 639h0M1495 677h0M1420 743h0M1259 938h0M1536 1075h0M1469 765h0M1671 781h0M1480 777h0M1577 620h0M1335 913h0M1618 669h0M1198 887h0M1570 665h0M1611 1010h0M1517 915h0M1393 926h0M1628 635h0M1413 647h0M1403 661h0M1473 833h0M1397 732h0M1386 932h0M1558 956h0M1253 1028h0M1246 941h0M1344 733h0M1440 842h0M1466 1042h0M1536 604h0M1538 1029h0M1391 992h0M1506 1027h0M1586 676h0M1417 626h0M1495 961h0M1572 622h0M1666 775h0M1390 975h0M1306 908h0M1457 919h0M1441 997h0M1607 907h0M1332 932h0M1443 962h0M1480 608h0M1381 862h0M1541 932h0M1459 614h0M1513 845h0M1540 964h0M1607 755h0M1501 784h0M1233 969h0M1521 1012h0M1569 813h0M1417 920h0M1597 1001h0M1560 835h0M1553 794h0M1509 911h0M1337 749h0M1337 885h0M1341 933h0M1619 760h0M1517 764h0M1598 609h0M1230 986h0M1449 753h0M1327 946h0M1543 928h0M1554 628h0M1615 779h0M1535 801h0M1319 867h0M1369 772h0M1332 964h0M1583 793h0M1432 788h0M1319 839h0M1385 720h0M1631 640h0M1272 963h0M1588 775h0M1291 893h0M1299 890h0M1572 701h0M1609 747h0M1455 925h0M1351 944h0M1207 965h0M1542 692h0M1501 955h0M1543 675h0M1588 1081h0M1457 703h0M1568 1007h0M1444 715h0M1577 741h0M1650 741h0M1402 822h0M1387 713h0M1332 934h0M1622 832h0M1354 948h0M1254 845h0M1499 1027h0M1580 767h0M1579 1002h0M1596 845h0M1436 997h0M1268 843h0M1472 908h0M1606 807h0M1521 1111h0M1406 818h0M1259 1033h0M1449 1026h0M1478 1053h0M1448 768h0M1527 974h0M1271 1001h0M1521 646h0M1486 636h0M1443 775h0M1228 955h0M1239 959h0M1497 848h0M1471 607h0M1500 892h0M1323 962h0M1413 784h0M1411 699h0M1512 834h0M1476 776h0M1326 869h0M1585 642h0M1366 880h0M1607 733h0M1652 670h0M1592 672h0M1505 957h0M1545 903h0M1596 909h0M1573 917h0M1494 953h0M1486 891h0M1453 913h0M1617 883h0M1475 625h0M1516 746h0M1577 1041h0M1552 983h0M1591 622h0M1631 619h0M1624 748h0M1636 753h0M1522 883h0M1278 1004h0M1402 988h0M1492 931h0M1293 1022h0M1607 927h0M1484 959h0M1343 779h0M1514 1086h0M1192 980h0M1515 701h0M1538 1001h0M1510 1083h0M1500 935h0M1311 1029h0M1410 663h0M1504 799h0M1544 938h0M1527 750h0M1629 691h0M1416 874h0M1587 841h0M1274 1066h0M1301 977h0M1561 958h0M1203 890h0M1340 920h0M1632 720h0M1383 831h0M1374 866h0M1473 955h0M1411 1000h0M1554 812h0M1307 855h0M1484 644h0M1533 1120h0M1495 749h0M1530 736h0M1427 745h0M1514 738h0M1286 1011h0M1399 1035h0M1658 776h0M1628 691h0M1507 908h0M1517 817h0M1596 825h0M1470 817h0M1624 833h0M1223 1006h0M1486 777h0M1282 1007h0M1250 1008h0M1559 1031h0M1372 1027h0M1643 825h0M1532 798h0M1455 641h0M1602 965h0M1453 1044h0M1338 922h0M1441 966h0M1506 757h0M1435 1032h0M1344 930h0M1513 764h0M1611 892h0M1412 971h0M1407 925h0M1543 985h0M1533 1030h0M1376 973h0M1502 871h0M1332 894h0M1492 823h0M1486 853h0M1587 938h0M1444 803h0M1456 819h0M1469 1068h0M1231 1008h0M1362 798h0M1652 784h0M1624 796h0M1590 790h0M1449 778h0M1607 726h0M1369 822h0M1247 865h0M1402 974h0M1333 1005h0M1368 812h0M1375 936h0M1525 729h0M1365 1013h0M1396 933h0M1289 1028h0M1668 675h0M1445 854h0M1289 1011h0M1253 862h0M1489 924h0M1403 974h0M1487 1057h0M1317 830h0M1340 752h0M1413 993h0M1619 713h0M1335 878h0M1538 766h0M1597 768h0M1201 884h0M1467 954h0M1542 1037h0M1564 793h0M1420 886h0M1484 867h0M1514 779h0M1220 873h0M1575 632h0M1540 776h0M1387 695h0M1355 807h0M1538 803h0M1556 864h0M1324 928h0M1406 652h0M1565 808h0M1604 908h0M1379 1028h0M1244 839h0M1487 942h0M1201 922h0M1605 925h0M1438 814h0M1481 985h0M1459 708h0M1382 935h0M1348 807h0M1561 1007h0M1447 998h0M1492 742h0M1567 608h0M1534 660h0M1566 890h0M1244 1031h0M1631 844h0M1629 677h0M1334 1003h0M1426 767h0M1516 923h0M1601 652h0M1526 1069h0M1579 636h0M1443 984h0M1569 1001h0M1595 618h0M1480 669h0M1296 830h0M1528 1064h0M1301 901h0M1395 1018h0M1350 844h0M1537 808h0M1603 832h0M1262 857h0M1312 952h0M1557 910h0M1645 833h0M1459 764h0M1602 738h0M1524 662h0M1423 653h0M1285 995h0M1604 659h0M1308 997h0M1349 862h0M1429 852h0M1624 809h0M1483 862h0M1529 676h0M1429 1033h0M1246 1013h0M1509 739h0M1562 934h0M1391 1023h0M1388 885h0M1353 887h0M1478 803h0M1389 852h0M1485 725h0M1478 885h0M1372 1023h0M1320 946h0M1586 1030h0M1397 903h0M1518 1049h0M1396 822h0M1614 720h0M1603 1043h0M1582 810h0M1526 673h0M1273 871h0M1489 815h0M1404 863h0M1618 890h0M1655 629h0M1370 1000h0M1471 1055h0M1192 970h0M1394 717h0M1575 973h0M1462 886h0M1491 931h0M1327 1032h0M1285 1017h0M1393 693h0M1238 917h0M1569 1053h0M1496 1088h0M1557 607h0M1311 956h0M1294 849h0M1657 801h0M1351 776h0M1342 1000h0M1436 972h0M1513 621h0M1597 782h0M1584 892h0M1404 963h0M1532 1085h0M1478 843h0M1547 689h0M1517 1048h0M1388 948h0M1417 740h0M1388 718h0M1425 825h0M1659 668h0M1313 953h0M1517 890h0M1629 863h0M1384 709h0M1394 972h0M1552 716h0M1667 685h0M1568 1098h0M1321 963h0M1529 729h0M1602 990h0M1264 957h0M1568 702h0M1392 974h0M1204 857h0M1574 995h0M1374 1030h0M1581 738h0M1505 1119h0M1457 606h0M1291 876h0M1355 988h0M1457 696h0M1483 836h0M1318 843h0M1337 792h0M1493 882h0M1556 620h0M1217 1013h0M1320 964h0M1486 655h0M1346 826h0M1538 641h0M1512 772h0M1433 814h0M1406 838h0M1585 1032h0M1519 829h0M1305 844h0M1585 812h0M1344 978h0M1588 766h0M1566 1090h0M1272 937h0M1483 916h0M1518 1100h0M1511 806h0M1526 688h0M1577 974h0M1375 701h0M1315 930h0M1649 635h0M1466 938h0M1599 933h0M1271 848h0M1583 934h0M1385 690h0M1328 855h0M1623 857h0M1524 1096h0M1517 963h0M1623 899h0M1234 1043h0M1548 988h0M1493 765h0M1455 913h0M1199 908h0M1447 864h0M1395 858h0M1394 1022h0M1521 673h0M1607 743h0M1490 1061h0M1391 736h0M1535 728h0M1620 972h0M1266 834h0M1516 814h0M1519 672h0M1461 955h0M1602 662h0M1665 737h0M1510 908h0M1420 655h0M1518 623h0M1522 825h0M1555 1027h0M1552 1052h0M1430 880h0M1213 892h0M1446 771h0M1559 1041h0M1623 747h0M1433 725h0M1606 635h0M1206 875h0M1422 821h0M1379 804h0M1631 633h0M1291 1010h0M1304 926h0M1509 888h0M1592 929h0M1262 938h0M1429 830h0M1566 684h0M1571 803h0M1307 848h0M1386 1019h0M1569 1049h0M1442 680h0M1520 791h0M1457 740h0M1509 614h0M1355 809h0M1448 633h0M1460 700h0M1234 976h0M1594 1050h0M1516 1034h0M1613 622h0M1466 896h0M1525 610h0M1512 859h0M1541 729h0M1279 894h0M1477 774h0M1498 771h0M1486 935h0M1589 913h0M1453 1003h0M1515 653h0M1383 1022h0M1264 1061h0M1665 754h0M1199 922h0M1429 852h0M1412 846h0M1601 991h0M1356 1035h0M1433 734h0M1512 946h0M1416 969h0M1254 856h0M1382 865h0M1501 605h0M1289 1022h0M1566 1000h0M1581 891h0M1619 658h0M1580 751h0M1590 871h0M1313 874h0M1481 951h0M1312 1019h0M1282 869h0M1614 1018h0M1351 862h0M1315 993h0M1509 766h0M1316 907h0M1415 910h0M1358 840h0M1579 1075h0M1533 855h0M1549 909h0M1220 989h0M1464 787h0M1649 665h0M1554 1009h0M1671 784h0M1360 846h0M1486 632h0M1614 671h0M1190 969h0M1468 1082h0M1193 956h0M1231 1019h0M1409 871h0M1614 718h0M1578 747h0M1594 791h0M1499 973h0M1378 694h0M1498 890h0M1561 615h0M1600 935h0M1640 852h0M1428 613h0M1609 916h0M1430 833h0M1184 893h0M1562 709h0M1522 829h0M1456 642h0M1530 1065h0M1519 909h0M1231 928h0M1353 994h0M1462 844h0M1631 840h0M1461 646h0M1543 868h0M1495 1019h0M1529 708h0M1523 628h0M1502 715h0M1206 914h0M1493 706h0M1379 811h0M1385 966h0M1334 1031h0M1596 654h0M1584 738h0M1507 782h0M1551 718h0M1340 910h0M1477 795h0M1198 874h0M1209 997h0M1656 778h0M1418 1034h0M1486 1040h0M1539 805h0M1498 715h0M1252 1034h0M1548 1030h0M1590 887h0M1579 946h0M1229 923h0M1412 1015h0M1530 866h0M1512 736h0M1507 981h0M1236 885h0M1350 942h0M1425 824h0M1278 897h0M1385 1001h0M1546 1062h0M1550 726h0M1526 883h0M1323 1043h0M1583 687h0M1527 791h0M1640 653h0M1551 703h0M1655 684h0M1501 994h0M1557 828h0M1476 805h0M1587 895h0M1235 1051h0M1388 856h0M1571 933h0M1516 955h0M1540 756h0M1323 920h0M1543 676h0M1543 739h0M1391 767h0M1605 893h0M1513 1102h0M1455 990h0M1391 844h0M1549 760h0M1476 778h0M1268 1063h0M1379 985h0M1511 853h0M1268 927h0M1294 1002h0M1507 978h0M1436 832h0M1572 815h0M1596 942h0M1569 1084h0M1530 625h0M1618 1018h0M1529 875h0M1398 943h0M1619 799h0M1412 700h0M1634 821h0M1358 710h0M1521 1005h0M1455 947h0M1359 944h0M1536 650h0M1539 1015h0M1466 879h0M1409 882h0M1627 670h0M1575 621h0M1420 802h0M1411 666h0M1430 761h0M1362 1047h0M1408 1037h0M1611 887h0M1481 1048h0M1205 1010h0M1517 799h0M1556 663h0M1426 934h0M1492 963h0M1448 837h0M1579 982h0M1548 989h0M1512 633h0M1428 1021h0M1242 1053h0M1572 669h0M1360 707h0M1364 1007h0M1424 1038h0M1420 813h0M1653 776h0M1508 765h0M1512 793h0M1222 1026h0M1484 1026h0M1317 966h0M1421 936h0M1319 827h0M1418 725h0M1554 890h0M1290 879h0M1416 929h0M1341 922h0M1479 1041h0M1362 960h0M1485 875h0M1597 1010h0M1323 804h0M1344 835h0M1512 1022h0M1248 1038h0M1418 743h0M1226 1026h0M1433 795h0M1306 863h0M1317 942h0M1516 946h0M1261 906h0M1298 928h0M1364 1007h0M1599 849h0M1572 825h0M1540 633h0M1457 883h0M1333 828h0M1455 1053h0M1291 969h0M1430 1030h0M1340 807h0M1350 1005h0M1321 905h0M1572 822h0M1358 825h0M1359 879h0M1502 602h0M1497 789h0M1667 646h0M1478 1074h0M1509 749h0M1533 1108h0M1524 1002h0M1487 971h0M1214 888h0M1308 942h0M1518 886h0M1376 760h0M1310 996h0M1495 805h0M1649 673h0M1487 931h0M1642 711h0M1484 1028h0M1552 672h0M1455 835h0M1524 603h0M1222 986h0M1369 841h0M1364 741h0M1520 647h0M1622 929h0M1389 863h0M1237 976h0M1420 898h0M1350 972h0M1545 827h0M1444 878h0M1395 707h0M1645 812h0M1434 981h0M1478 699h0M1202 957h0M1492 748h0M1517 772h0M1483 640h0M1504 727h0M1452 754h0M1552 883h0M1553 870h0M1344 951h0M1394 919h0M1658 672h0M1523 733h0M1450 993h0M1489 920h0M1500 630h0M1611 951h0M1365 886h0M1222 899h0M1587 864h0M1453 657h0M1566 1014h0M1526 713h0M1241 915h0M1545 1025h0M1393 864h0M1323 879h0M1625 810h0M1538 632h0M1511 659h0M1199 882h0M1613 797h0M1286 872h0M1446 898h0M1441 790h0M1451 1035h0M1631 749h0M1423 815h0M1365 780h0M1476 994h0M1532 1012h0M1598 1047h0M1531 1055h0M1284 861h0M1463 911h0M1605 721h0M1364 878h0M1508 1038h0M1545 1099h0M1569 744h0M1355 942h0M1650 762h0M1574 745h0M1481 749h0M1516 1060h0M1616 941h0M1341 739h0M1472 990h0M1501 1083h0M1471 656h0M1610 740h0M1508 756h0M1386 776h0M1368 1028h0M1217 894h0M1435 957h0M1245 854h0M1592 629h0M1485 889h0M1382 851h0M1393 783h0M1356 735h0M1258 868h0M1374 813h0M1493 890h0M1303 894h0M1555 889h0M1443 847h0M1318 959h0M1360 801h0M1305 856h0M1584 828h0M1551 682h0M1220 865h0M1275 929h0M1360 990h0M1538 655h0M1354 1002h0M1478 891h0M1352 996h0M1603 771h0M1509 665h0M1485 853h0M1640 632h0M1495 769h0M1194 950h0M1478 957h0M1357 829h0M1568 1059h0M1480 616h0M1256 830h0M1650 837h0M1217 944h0M1342 817h0M1521 729h0M1644 655h0M1453 645h0M1305 918h0M1341 855h0M1258 893h0M1453 775h0M1246 1016h0M1383 842h0M1347 894h0M1515 924h0M1644 619h0M1554 776h0M1474 916h0M1657 743h0M1528 692h0M1599 913h0M1639 825h0M1290 1026h0M1417 1046h0M1374 889h0M1240 1009h0M1454 747h0M1503 715h0M1393 1025h0M1228 926h0M1488 887h0M1253 878h0M1405 1046h0M1592 631h0M1620 710h0M1472 724h0M1355 796h0M1463 957h0M1519 628h0M1371 855h0M1412 965h0M1335 865h0M1426 931h0M1298 1007h0M1572 1055h0M1542 691h0M1358 799h0M1627 663h0M1499 1027h0M1448 1026h0M1647 650h0M1515 635h0M1569 1098h0M1492 893h0M1583 1011h0M1550 914h0M1332 1025h0M1300 859h0M1188 942h0M1461 891h0M1230 1038h0M1221 855h0M1515 905h0M1606 676h0M1449 963h0M1372 884h0M1438 1009h0M1243 1053h0M1418 805h0M1528 963h0M1359 900h0M1323 1003h0M1554 810h0M1348 932h0M1437 982h0M1476 962h0M1584 726h0M1567 662h0M1510 633h0M1620 845h0M1495 738h0M1246 895h0M1595 830h0M1234 950h0M1345 797h0M1440 611h0M1607 1033h0M1412 978h0M1549 756h0M1432 928h0M1280 980h0M1649 717h0M1641 661h0M1480 640h0M1345 829h0M1372 1022h0M1575 989h0M1563 890h0M1625 759h0M1523 952h0M1532 927h0M1597 671h0M1386 869h0M1375 981h0M1447 648h0M1501 715h0M1576 804h0M1405 699h0M1279 949h0M1641 683h0M1559 731h0M1584 1047h0M1592 993h0M1570 835h0M1496 865h0M1479 688h0M1656 696h0M1465 1015h0M1266 1040h0M1320 1043h0M1430 1041h0M1284 883h0M1672 685h0M1561 1022h0M1420 999h0M1521 891h0M1408 943h0M1473 989h0M1515 822h0M1375 736h0M1245 930h0M1496 975h0M1517 657h0M1274 988h0M1370 864h0M1346 733h0M1217 852h0M1637 682h0M1389 782h0M1398 876h0M1294 824h0M1655 759h0M1332 971h0M1367 968h0M1571 1077h0M1355 841h0M1212 869h0M1437 911h0M1607 692h0M1563 682h0M1555 622h0M1212 999h0M1202 878h0M1409 853h0M1517 1067h0M1377 719h0M1392 982h0M1235 993h0M1469 769h0M1412 644h0M1270 940h0M1524 680h0M1392 971h0M1496 856h0M1417 800h0M1520 839h0M1545 1092h0M1420 747h0M1523 1000h0M1411 673h0M1565 745h0M1392 891h0M1413 965h0M1567 998h0M1626 929h0M1545 965h0M1549 1082h0M1511 863h0M1517 815h0M1566 1069h0M1627 887h0M1494 751h0M1261 905h0M1291 1060h0M1447 778h0M1501 1087h0M1307 961h0M1426 801h0M1459 987h0M1616 962h0M1609 882h0M1436 787h0M1386 925h0M1593 1025h0M1540 636h0M1466 623h0M1664 792h0M1574 839h0M1579 1018h0M1324 999h0M1537 652h0M1518 642h0M1300 938h0M1503 967h0M1649 671h0M1314 872h0M1326 953h0M1657 788h0M1344 883h0M1349 869h0M1564 899h0M1617 621h0M1372 753h0M1355 947h0M1658 811h0M1650 663h0M1595 902h0M1601 960h0M1517 795h0M1381 1014h0M1510 888h0M1376 851h0M1391 1025h0M1540 823h0M1518 973h0M1460 754h0M1287 1034h0M1434 861h0M1508 974h0M1211 968h0M1442 876h0M1309 837h0M1530 1035h0M1524 1001h0M1522 762h0M1177 912h0M1319 806h0M1325 887h0M1662 691h0M1366 773h0M1490 663h0M1296 1037h0M1359 755h0M1194 912h0M1442 611h0M1665 783h0M1487 620h0M1352 820h0M1273 867h0M1441 1034h0M1250 1058h0M1350 866h0M1244 951h0M1632 892h0M1236 881h0M1649 641h0M1406 976h0M1234 1005h0M1327 791h0M1511 720h0M1516 702h0M1467 603h0M1190 960h0M1441 977h0M1300 1036h0M1382 806h0M1511 1050h0M1517 882h0M1413 934h0M1628 802h0M1538 910h0M1568 1044h0M1528 711h0M1627 794h0M1516 1091h0M1528 619h0M1303 916h0M1498 912h0M1482 1071h0M1428 844h0M1514 722h0M1411 934h0M1220 968h0M1407 985h0M1514 863h0M1509 838h0M1557 630h0M1442 935h0M1567 824h0M1467 840h0M1310 878h0M1450 940h0M1524 928h0M1522 995h0M1257 1043h0M1505 652h0M1517 606h0M1589 635h0M1646 753h0M1562 657h0M1599 902h0M1497 923h0M1431 899h0M1527 635h0M1519 690h0M1392 748h0M1579 890h0M1509 796h0M1400 959h0M1546 813h0M1400 671h0M1417 820h0M1431 1023h0M1618 852h0M1593 935h0M1657 684h0M1490 1033h0M1417 801h0M1505 744h0M1213 860h0M1496 750h0M1392 983h0M1268 890h0M1246 828h0M1595 834h0M1407 1020h0M1357 999h0M1455 996h0M1344 832h0M1304 1003h0M1571 706h0M1227 867h0M1431 613h0M1592 955h0M1285 1049h0M1411 989h0M1403 829h0M1257 1059h0M1493 1059h0M1641 839h0M1531 631h0M1371 976h0M1401 771h0M1474 954h0M1546 920h0M1292 881h0M1368 896h0M1612 699h0M1634 795h0M1405 989h0M1478 958h0M1501 925h0M1582 759h0M1423 1030h0M1592 945h0M1607 710h0M1564 737h0M1568 795h0M1481 643h0M1588 723h0M1448 852h0M1385 934h0M1269 942h0M1454 664h0M1318 989h0M1629 722h0M1567 708h0M1405 772h0M1321 833h0M1219 957h0M1258 999h0M1605 1034h0M1216 994h0M1619 665h0M1371 925h0M1462 1070h0M1346 748h0M1612 1013h0M1388 856h0M1415 860h0M1353 1025h0M1247 1017h0M1225 919h0M1412 816h0M1446 645h0M1542 898h0M1295 847h0M1497 900h0M1347 765h0M1259 918h0M1521 884h0M1238 951h0M1553 1114h0M1379 806h0M1518 807h0M1229 977h0M1349 821h0M1316 1017h0M1359 725h0M1655 830h0M1393 986h0M1432 706h0M1343 932h0M1228 937h0M1532 744h0M1229 980h0M1302 945h0M1552 823h0M1457 893h0M1442 761h0M1517 805h0M1534 752h0M1661 826h0M1595 767h0M1405 702h0M1332 859h0M1610 1018h0M1508 744h0M1558 751h0M1515 931h0M1536 787h0M1463 896h0M1613 905h0M1474 964h0M1362 810h0M1181 892h0M1375 867h0M1521 1043h0M1267 1055h0M1581 645h0M1304 979h0M1254 952h0M1214 1018h0M1486 1056h0M1295 936h0M1342 970h0M1342 879h0M1549 613h0M1467 665h0M1333 845h0M1618 937h0M1399 705h0M1354 940h0M1551 870h0M1300 1025h0M1641 623h0M1331 794h0M1407 903h0M1582 957h0M1541 1094h0M1408 911h0M1583 878h0M1511 753h0M1439 715h0M1337 974h0M1597 967h0M1305 839h0M1608 686h0M1517 874h0M1207 997h0M1554 947h0M1584 711h0M1630 674h0M1495 705h0M1372 897h0M1581 883h0M1550 884h0M1649 725h0M1192 874h0M1289 863h0M1342 824h0M1394 723h0M1455 674h0M1455 834h0M1618 627h0M1220 856h0M1552 863h0M1409 882h0M1502 678h0M1574 1083h0M1411 986h0M1652 792h0M1500 751h0M1488 758h0M1514 603h0M1638 749h0M1600 792h0M1429 921h0M1477 766h0M1534 870h0M1493 1062h0M1383 1001h0M1588 1004h0M1630 770h0M1554 839h0M1273 825h0M1540 1068h0M1523 738h0M1493 932h0M1513 721h0M1252 860h0M1440 1034h0M1508 804h0M1519 727h0M1444 884h0M1352 940h0M1465 969h0M1560 674h0M1385 1009h0M1453 983h0M1640 837h0M1634 671h0M1509 938h0M1487 605h0M1393 772h0M1387 1029h0M1217 1015h0M1475 849h0M1314 861h0M1311 994h0M1216 996h0M1619 1019h0M1516 820h0M1540 855h0M1460 629h0M1574 723h0M1415 804h0M1619 920h0M1290 961h0M1454 785h0M1618 618h0M1284 871h0M1531 675h0M1340 866h0M1235 906h0M1273 982h0M1550 912h0M1461 1065h0M1346 962h0M1267 1031h0M1298 860h0M1653 738h0M1289 1019h0M1466 616h0M1456 775h0M1407 916h0M1386 969h0M1340 949h0M1571 830h0M1387 718h0M1589 780h0M1578 1083h0M1588 1041h0M1481 624h0M1232 1034h0M1492 1000h0M1320 952h0M1536 992h0M1483 824h0M1419 728h0M1601 882h0M1642 622h0M1571 694h0M1271 1037h0M1263 900h0M1391 936h0M1558 700h0M1662 824h0M1510 766h0M1259 909h0M1251 993h0M1491 1026h0M1287 852h0M1581 678h0M1202 938h0M1550 823h0M1455 667h0M1462 706h0M1238 883h0M1544 909h0M1526 803h0M1229 876h0M1419 717h0M1351 972h0M1497 854h0M1657 743h0M1615 933h0M1438 824h0M1445 700h0M1628 783h0M1225 945h0M1611 962h0M1372 867h0M1542 942h0M1410 718h0M1481 961h0M1387 993h0M1368 724h0M1408 922h0M1329 854h0M1465 621h0M1627 812h0M1434 707h0M1387 881h0M1507 609h0M1392 786h0M1615 734h0M1364 856h0M1554 909h0M1648 642h0M1226 1040h0M1277 967h0M1617 873h0M1609 811h0M1340 990h0M1499 1022h0M1591 776h0M1266 1023h0M1397 714h0M1393 781h0M1312 936h0M1405 961h0M1413 1014h0M1661 656h0M1357 954h0M1335 779h0M1477 974h0M1360 889h0M1281 941h0M1549 832h0M1478 771h0M1414 827h0M1428 758h0M1492 609h0M1404 802h0M1479 1090h0M1340 914h0M1328 962h0M1441 765h0M1351 811h0M1513 748h0M1383 856h0M1357 1001h0M1457 789h0M1188 946h0M1537 691h0M1510 970h0M1616 945h0M1520 1086h0M1633 684h0M1498 607h0M1425 814h0M1531 715h0M1383 899h0M1610 978h0M1317 944h0M1595 606h0M1659 772h0M1600 946h0M1395 933h0M1424 783h0M1591 741h0M1502 762h0M1577 632h0M1557 859h0M1322 864h0M1232 995h0M1347 1035h0M1462 1064h0M1192 875h0M1470 652h0M1426 1031h0M1521 937h0M1617 672h0M1609 743h0M1299 1005h0M1443 1006h0M1590 662h0M1545 667h0M1610 917h0M1509 675h0M1562 633h0M1587 936h0M1503 1080h0M1587 1036h0M1426 708h0M1523 909h0M1387 831h0M1527 731h0M1642 769h0M1297 1013h0M1501 623h0M1494 705h0M1552 850h0M1643 735h0M1265 916h0M1503 913h0M1260 990h0M1513 749h0M1276 971h0M1354 936h0M1411 895h0M1653 825h0M1588 627h0M1455 635h0M1544 1037h0M1543 1010h0M1405 749h0M1574 903h0M1592 1029h0M1579 882h0M1392 772h0M1653 845h0M1534 1078h0M1479 837h0M1403 1044h0M1644 857h0M1567 1094h0M1516 831h0M1469 924h0M1603 795h0M1366 879h0M1527 964h0M1423 753h0M1214 987h0M1385 1023h0M1382 933h0M1471 1079h0M1477 926h0M1559 855h0M1452 782h0M1425 944h0M1266 923h0M1504 956h0M1209 888h0M1216 926h0M1541 875h0M1600 975h0M1570 964h0M1194 920h0M1418 938h0M1536 926h0M1526 778h0M1626 852h0M1367 970h0M1634 857h0M1401 1027h0M1235 906h0M1479 721h0M1597 929h0M1493 1023h0M1400 871h0M1511 927h0M1304 890h0M1537 1113h0M1504 827h0M1499 732h0M1310 817h0M1463 871h0M1466 616h0M1522 733h0M1272 1021h0M1415 1041h0M1553 624h0M1436 725h0M1342 895h0M1521 675h0M1438 716h0M1644 836h0M1370 931h0M1573 1075h0M1397 980h0M1515 624h0M1368 1034h0M1334 888h0M1528 672h0M1437 924h0M1663 641h0M1247 904h0M1367 828h0M1446 632h0M1583 934h0M1300 842h0M1559 939h0M1295 891h0M1475 822h0M1298 845h0M1609 969h0M1473 650h0M1361 766h0M1529 1084h0M1285 892h0M1546 985h0M1643 690h0M1628 682h0M1282 870h0M1513 754h0M1193 897h0M1589 797h0M1653 761h0M1378 1019h0M1362 796h0M1518 750h0M1641 823h0M1321 948h0M1246 894h0M1650 789h0M1370 835h0M1557 704h0M1355 774h0M1358 960h0M1472 839h0M1419 1014h0M1598 640h0M1657 699h0M1557 705h0M1456 834h0M1552 751h0M1483 792h0M1484 1008h0M1245 894h0M1479 793h0M1360 731h0M1557 952h0M1583 792h0M1538 703h0M1586 747h0M1402 782h0M1595 816h0M1647 639h0M1346 956h0M1516 1103h0M1619 783h0M1621 647h0M1455 834h0M1532 1028h0M1610 727h0M1296 872h0M1534 925h0M1364 966h0M1541 898h0M1501 793h0M1609 732h0M1618 911h0M1511 902h0M1315 882h0M1403 975h0M1506 1002h0M1624 862h0M1271 874h0M1252 939h0M1624 827h0M1553 831h0M1643 841h0M1472 607h0M1562 622h0M1453 711h0M1539 1019h0M1540 1000h0M1514 809h0M1592 825h0M1528 739h0M1655 789h0M1422 1036h0M1422 940h0M1664 744h0M1573 1016h0M1268 972h0M1218 990h0M1503 908h0M1326 780h0M1402 1009h0M1458 664h0M1504 613h0M1264 1062h0M1616 713h0M1340 804h0M1528 932h0M1552 688h0M1208 1003h0M1509 772h0M1654 759h0M1433 922h0M1300 954h0M1300 828h0M1557 1041h0M1349 814h0M1230 996h0M1285 982h0M1430 1018h0M1611 879h0M1448 890h0M1365 791h0M1502 944h0M1433 935h0M1231 919h0M1644 844h0M1406 911h0M1178 918h0M1645 748h0M1195 873h0M1513 720h0M1434 882h0M1486 1071h0M1424 799h0M1340 793h0M1592 824h0M1406 833h0M1665 728h0M1569 836h0M1369 819h0M1638 795h0M1597 1053h0M1468 765h0M1428 962h0M1655 819h0M1289 1030h0M1584 727h0M1518 928h0M1563 725h0M1354 1013h0M1225 1000h0M1462 720h0M1520 606h0M1478 654h0M1295 1027h0M1593 764h0M1481 959h0M1408 775h0M1284 872h0M1424 1023h0M1384 870h0M1251 1046h0M1648 634h0M1605 736h0M1467 975h0M1481 630h0M1559 960h0M1564 633h0M1361 800h0M1475 985h0M1384 698h0M1520 1103h0M1596 796h0M1613 897h0M1525 944h0M1538 911h0M1361 899h0M1444 876h0M1510 1014h0M1465 945h0M1258 986h0M1543 637h0M1186 946h0M1236 874h0M1600 866h0M1630 802h0M1276 979h0M1321 855h0M1340 892h0M1518 1018h0M1482 726h0M1421 620h0M1335 937h0M1511 686h0M1581 789h0M1541 643h0M1526 658h0M1532 1104h0M1401 892h0M1620 667h0M1290 899h0M1186 917h0M1220 933h0M1358 979h0M1297 999h0M1623 711h0M1490 641h0M1397 822h0M1598 850h0M1340 850h0M1450 616h0M1336 847h0M1517 730h0M1606 935h0M1618 652h0M1479 977h0M1511 828h0M1546 1005h0M1239 981h0M1602 857h0M1438 634h0M1604 961h0M1524 1047h0M1313 861h0M1493 963h0M1515 766h0M1490 1066h0M1477 1003h0M1589 894h0M1233 997h0M1366 863h0M1289 836h0M1650 697h0M1430 627h0M1330 892h0M1335 1005h0M1657 741h0M1426 667h0M1304 916h0M1455 761h0M1247 990h0M1482 1048h0M1578 939h0M1417 826h0M1569 815h0M1620 935h0M1269 866h0M1206 868h0M1515 726h0M1365 1022h0M1359 1002h0M1488 864h0M1558 906h0M1567 1086h0M1389 952h0M1523 682h0M1531 725h0M1666 680h0M1432 854h0M1550 770h0M1430 963h0M1239 864h0M1638 770h0M1414 925h0M1591 751h0M1215 944h0M1494 645h0M1254 1037h0M1362 781h0M1470 743h0M1464 772h0M1464 656h0M1281 1048h0M1523 679h0M1581 654h0M1350 924h0M1317 967h0M1531 1125h0M1498 971h0M1239 1048h0M1418 1035h0M1582 876h0M1436 937h0M1383 865h0M1446 784h0M1647 802h0M1369 969h0M1531 931h0M1591 925h0M1332 836h0M1466 643h0M1414 845h0M1448 985h0M1574 1046h0M1446 776h0M1532 989h0M1584 1077h0M1356 992h0M1486 708h0M1323 1029h0M1428 1028h0M1594 1021h0M1386 961h0M1389 1011h0M1507 867h0M1503 996h0M1633 839h0M1635 871h0M1576 730h0M1537 925h0M1651 826h0M1528 619h0M1613 931h0M1423 908h0M1425 655h0M1541 913h0M1507 1079h0M1402 840h0M1382 994h0M1486 611h0M1329 938h0M1644 747h0M1476 1089h0M1405 1039h0M1632 696h0M1220 996h0M1353 799h0M1319 885h0M1403 1023h0M1435 657h0M1649 852h0M1314 963h0M1448 610h0M1328 880h0M1418 950h0M1469 1064h0M1194 960h0M1473 817h0M1289 1023h0M1467 852h0M1481 803h0M1292 940h0M1474 611h0M1377 1045h0M1544 704h0M1496 1000h0M1476 731h0M1523 1106h0M1520 672h0M1236 920h0M1456 968h0M1570 687h0M1224 1015h0M1613 665h0M1524 1103h0M1401 844h0M1390 844h0M1573 905h0M1463 671h0M1417 717h0M1661 835h0M1534 683h0M1305 946h0M1515 676h0M1508 785h0M1509 1026h0M1516 756h0M1659 654h0M1482 888h0M1341 803h0M1366 840h0M1497 933h0M1520 942h0M1407 838h0M1428 927h0M1500 650h0M1203 870h0M1347 874h0M1467 983h0M1440 732h0M1412 899h0M1608 851h0M1305 1031h0M1555 994h0M1571 811h0M1381 811h0M1504 1033h0M1570 700h0M1258 969h0M1574 1048h0M1592 996h0M1581 955h0M1376 767h0M1517 642h0M1561 809h0M1423 966h0M1484 832h0M1573 852h0M1239 869h0M1505 819h0M1563 671h0M1233 1037h0M1651 802h0M1571 658h0M1247 895h0M1436 1030h0M1395 1043h0M1415 791h0M1649 674h0M1599 625h0M1592 939h0M1292 1033h0M1566 1077h0M1484 605h0M1530 646h0M1611 830h0M1227 938h0M1476 914h0M1644 778h0M1521 1051h0M1517 977h0M1535 1001h0M1541 1097h0M1453 927h0M1363 802h0M1328 965h0M1347 943h0M1483 677h0M1470 841h0M1535 946h0M1531 769h0M1216 1003h0M1475 747h0M1489 857h0M1485 790h0M1514 880h0M1257 1023h0M1432 998h0M1528 697h0M1534 633h0M1538 912h0M1419 809h0M1425 635h0M1395 896h0M1611 802h0M1364 1001h0M1590 834h0M1636 754h0M1451 881h0M1277 1058h0M1393 1033h0M1570 951h0M1435 967h0M1538 992h0M1649 675h0M1590 650h0M1349 966h0M1226 1038h0M1488 710h0M1481 963h0M1529 1086h0M1364 856h0M1295 985h0M1563 1015h0M1360 834h0M1241 944h0M1223 918h0M1494 996h0M1623 789h0M1439 646h0M1459 1000h0M1221 928h0M1381 954h0M1605 957h0M1234 851h0M1372 999h0M1246 848h0M1475 1061h0M1252 891h0M1550 633h0M1548 995h0M1349 890h0M1662 635h0M1473 698h0M1435 990h0M1327 945h0M1511 927h0M1596 855h0M1540 971h0M1391 1024h0M1590 915h0M1413 952h0M1388 786h0M1488 706h0M1328 1036h0M1323 847h0M1365 749h0M1222 971h0M1598 871h0M1622 800h0M1223 987h0M1448 963h0M1468 750h0M1560 703h0M1500 648h0M1208 904h0M1581 973h0M1528 904h0M1433 710h0M1563 978h0M1486 862h0M1647 721h0M1449 613h0M1618 670h0M1587 845h0M1513 814h0M1426 930h0M1589 879h0M1480 687h0M1386 946h0M1620 714h0M1450 760h0M1186 884h0M1640 616h0M1526 992h0M1406 818h0M1521 717h0M1489 797h0M1601 870h0M1629 840h0M1321 999h0M1400 945h0M1570 882h0M1341 822h0M1621 683h0M1353 950h0M1349 873h0M1664 638h0M1618 729h0M1414 947h0M1545 1106h0M1649 630h0M1649 638h0M1655 805h0M1284 996h0M1465 910h0M1671 770h0M1475 655h0M1452 675h0M1412 961h0M1486 1044h0M1576 694h0M1320 947h0M1649 779h0M1661 671h0M1413 925h0M1333 973h0M1551 967h0M1499 796h0M1405 953h0M1608 952h0M1518 679h0M1461 829h0M1553 685h0M1491 975h0M1631 721h0M1512 1001h0M1459 1013h0M1554 1058h0M1354 933h0M1575 1080h0M1545 1107h0M1391 779h0M1643 687h0M1317 983h0M1240 933h0M1671 789h0M1306 941h0M1337 771h0M1570 859h0M1501 939h0M1542 655h0M1429 986h0M1411 1028h0M1512 669h0M1520 911h0M1515 1064h0M1532 648h0M1458 800h0M1538 803h0M1322 1000h0M1580 1020h0M1652 778h0M1664 741h0M1356 724h0M1455 922h0M1409 676h0M1532 666h0M1329 776h0M1210 960h0M1348 1019h0M1575 831h0M1629 850h0M1228 956h0M1608 832h0M1599 1014h0M1594 872h0M1539 815h0M1560 682h0M1228 1028h0M1390 873h0M1557 758h0M1253 1026h0M1336 949h0M1404 841h0M1279 1058h0M1420 855h0M1506 1098h0M1509 1052h0M1473 757h0M1407 796h0M1425 662h0M1555 909h0M1215 982h0M1431 961h0M1345 959h0M1295 847h0M1467 1003h0M1521 914h0M1472 705h0M1619 869h0M1579 903h0M1611 666h0M1590 833h0M1570 694h0M1441 723h0M1260 894h0M1364 999h0M1354 959h0M1247 982h0M1438 727h0M1571 634h0M1440 850h0M1520 1053h0M1368 952h0M1409 636h0M1545 660h0M1298 891h0M1532 1060h0M1663 619h0M1460 911h0M1456 754h0M1209 997h0M1396 936h0M1649 685h0M1659 620h0M1400 979h0M1407 988h0M1303 881h0M1538 603h0M1547 802h0M1484 1041h0M1473 1060h0M1230 943h0M1507 832h0M1536 807h0M1535 648h0M1648 746h0M1611 650h0M1429 652h0M1378 869h0M1583 1057h0M1350 913h0M1469 1056h0M1524 718h0M1233 985h0M1309 816h0M1608 760h0M1409 970h0M1612 651h0M1540 627h0M1377 827h0M1492 966h0M1274 1003h0M1576 681h0M1338 916h0M1636 661h0M1568 712h0M1453 739h0M1432 797h0M1375 983h0M1548 874h0M1516 644h0M1590 701h0M1463 623h0M1553 746h0M1383 929h0M1591 615h0M1511 749h0M1463 1011h0M1374 897h0M1515 741h0M1463 775h0M1613 888h0M1220 948h0M1382 914h0M1180 922h0M1411 1001h0M1528 880h0M1424 867h0M1563 1038h0M1462 758h0M1562 755h0M1367 944h0M1344 793h0M1328 877h0M1190 906h0M1559 1103h0M1610 798h0M1249 847h0M1495 704h0M1519 752h0M1491 903h0M1521 909h0M1565 817h0M1485 672h0M1320 834h0M1302 936h0M1606 957h0M1524 815h0M1425 680h0M1337 861h0M1556 718h0M1605 868h0M1452 841h0M1426 625h0M1350 874h0M1550 703h0M1476 1020h0M1602 827h0M1492 811h0M1335 958h0M1577 904h0M1426 942h0M1642 693h0M1400 894h0M1491 954h0M1495 718h0M1541 911h0M1480 1087h0M1562 910h0M1404 1025h0M1610 709h0M1502 603h0M1448 921h0M1597 720h0M1377 844h0M1526 609h0M1460 748h0M1552 645h0M1521 797h0M1511 905h0M1445 728h0M1410 847h0M1578 803h0M1377 782h0M1543 868h0M1424 645h0M1540 615h0M1514 614h0M1510 858h0M1623 726h0M1366 788h0M1334 1035h0M1416 727h0M1302 934h0M1484 775h0M1405 1015h0M1485 928h0M1446 936h0M1522 953h0M1438 659h0M1523 700h0M1243 886h0M1336 962h0M1191 951h0M1357 792h0M1328 871h0M1247 1032h0M1379 1024h0M1614 873h0M1643 667h0M1213 1001h0M1556 1090h0M1297 935h0M1228 1000h0M1513 1044h0M1287 837h0M1245 1025h0M1557 692h0M1483 671h0M1365 814h0M1178 912h0M1273 900h0M1607 929h0M1597 748h0M1445 849h0M1622 866h0M1636 681h0M1486 1086h0M1634 728h0M1502 696h0M1519 683h0M1340 809h0M1355 1035h0M1655 742h0M1643 688h0M1284 964h0M1535 758h0M1247 981h0M1231 928h0M1563 793h0M1381 976h0M1576 830h0M1456 750h0M1422 949h0M1547 691h0M1282 1034h0M1511 694h0M1545 1023h0M1535 1076h0M1331 1010h0M1462 878h0M1260 833h0M1556 1003h0M1370 720h0M1488 808h0M1533 635h0M1619 870h0M1442 741h0M1482 1062h0M1506 930h0M1572 1011h0M1547 607h0M1523 663h0M1577 876h0M1464 816h0M1540 689h0M1377 1013h0M1304 831h0M1551 897h0M1511 960h0M1230 966h0M1373 850h0M1186 905h0M1484 768h0M1452 836h0M1513 675h0M1359 928h0M1299 866h0M1661 793h0M1427 968h0M1489 1093h0M1266 969h0M1279 873h0M1181 898h0M1507 1061h0M1252 904h0M1367 782h0M1491 937h0M1580 751h0M1389 1031h0M1427 934h0M1626 666h0M1224 992h0M1571 978h0M1361 934h0M1437 685h0M1481 791h0M1511 1087h0M1601 832h0M1527 665h0M1437 982h0M1299 945h0M1589 954h0M1356 809h0M1422 930h0M1264 1046h0M1644 699h0M1530 948h0M1389 840h0M1655 830h0M1476 1007h0M1500 632h0M1591 825h0M1534 870h0M1622 665h0M1502 1016h0M1477 774h0M1414 677h0M1263 901h0M1235 1015h0M1334 996h0M1528 769h0M1495 791h0M1622 836h0M1446 621h0M1502 883h0M1383 874h0M1374 795h0M1342 991h0M1268 876h0M1542 662h0M1450 968h0M1603 896h0M1466 730h0M1609 1039h0M1488 1028h0M1652 617h0M1388 980h0M1574 829h0M1524 997h0M1530 777h0M1508 699h0M1225 858h0M1425 987h0M1497 1047h0M1240 993h0M1287 842h0M1338 901h0M1565 822h0M1461 747h0M1412 645h0M1610 872h0M1336 767h0M1366 879h0M1446 772h0M1551 667h0M1573 1034h0M1613 703h0M1243 939h0M1380 731h0M1228 911h0M1454 933h0M1648 787h0M1537 615h0M1456 853h0M1519 743h0M1564 807h0M1501 849h0M1451 781h0M1544 936h0M1558 843h0M1177 902h0M1660 646h0M1458 770h0M1483 973h0M1489 1092h0M1361 831h0M1444 899h0M1482 985h0M1520 1083h0M1435 619h0M1591 616h0M1286 955h0M1419 780h0M1264 989h0M1352 1014h0M1435 672h0M1483 998h0M1275 871h0M1524 740h0M1390 805h0M1184 876h0M1617 738h0M1405 755h0M1410 1010h0M1300 882h0M1594 722h0M1594 905h0M1296 860h0M1243 874h0M1304 826h0M1426 628h0M1290 894h0M1547 1022h0M1347 942h0M1552 702h0M1356 815h0M1213 924h0M1322 996h0M1295 957h0M1334 856h0M1299 974h0M1417 906h0M1257 947h0M1501 785h0M1548 822h0M1628 812h0M1332 786h0M1277 1046h0M1367 903h0M1619 954h0M1471 961h0M1525 944h0M1508 904h0M1458 1002h0M1394 876h0M1338 810h0M1333 905h0M1473 662h0M1577 782h0M1207 998h0M1460 1038h0M1345 804h0M1329 1025h0M1628 665h0M1582 1077h0M1535 899h0M1468 1020h0M1551 1121h0M1522 737h0M1610 884h0M1464 662h0M1582 969h0M1596 892h0M1195 966h0M1516 845h0M1627 852h0M1357 874h0M1581 820h0M1613 803h0M1253 839h0M1411 869h0M1418 937h0M1655 675h0M1575 951h0M1616 885h0M1419 742h0M1665 656h0M1428 736h0M1548 1047h0M1632 673h0M1557 860h0M1369 725h0M1411 703h0M1615 788h0M1258 990h0M1355 800h0M1445 882h0M1321 1041h0M1657 657h0M1415 873h0M1444 696h0M1540 1114h0M1537 614h0M1449 900h0M1484 765h0M1278 914h0M1465 994h0M1521 952h0M1465 637h0M1532 940h0M1277 885h0M1461 805h0M1472 1012h0M1382 926h0M1382 843h0M1223 1004h0M1627 745h0M1182 946h0M1508 859h0M1347 823h0M1623 965h0M1578 706h0M1463 800h0M1632 753h0M1435 711h0M1529 679h0M1569 619h0M1428 689h0M1579 717h0M1464 773h0M1639 674h0M1488 965h0M1606 848h0M1565 675h0M1214 957h0M1626 665h0M1559 933h0M1598 869h0M1427 894h0M1376 923h0M1343 1017h0M1666 797h0M1304 878h0M1573 797h0M1388 706h0M1524 724h0M1556 1071h0M1500 1094h0M1450 786h0M1374 985h0M1576 727h0M1434 970h0M1276 1037h0M1595 702h0M1391 918h0M1401 929h0M1463 973h0M1560 773h0M1321 871h0M1642 663h0M1317 864h0M1214 1001h0M1551 667h0M1402 997h0M1395 699h0M1607 914h0M1387 994h0M1487 831h0M1488 709h0M1337 951h0M1598 804h0M1523 1036h0M1621 724h0M1587 732h0M1521 1103h0M1451 829h0M1367 794h0M1468 963h0M1633 766h0M1587 760h0M1515 937h0M1559 724h0M1537 878h0M1560 977h0M1352 1037h0M1615 966h0M1589 693h0M1425 628h0M1398 674h0M1551 793h0M1455 722h0M1196 876h0M1394 1000h0M1500 872h0M1560 934h0M1208 1002h0M1442 749h0M1318 924h0M1423 726h0M1525 900h0M1372 735h0M1208 1003h0M1583 614h0M1549 888h0M1542 631h0M1236 1020h0M1527 775h0M1522 971h0M1351 821h0M1403 929h0M1310 834h0M1623 840h0M1627 710h0M1507 986h0M1406 941h0M1344 837h0M1484 681h0M1437 911h0M1459 934h0M1328 798h0M1539 723h0M1644 747h0M1565 928h0M1225 867h0M1598 779h0M1484 644h0M1511 678h0M1575 1064h0M1549 1074h0M1461 991h0M1391 1001h0M1267 981h0M1563 961h0M1524 699h0M1512 1102h0M1585 694h0M1407 857h0M1307 1004h0M1269 894h0M1543 966h0M1507 688h0M1435 852h0M1338 922h0M1397 927h0M1549 1097h0M1576 812h0M1435 807h0M1249 906h0M1570 862h0M1477 1063h0M1269 887h0M1404 935h0M1584 980h0M1654 616h0M1300 866h0M1513 823h0M1582 682h0M1412 934h0M1618 652h0M1563 662h0M1264 917h0M1560 740h0M1612 856h0M1499 741h0M1646 677h0M1490 634h0M1391 929h0M1530 869h0M1410 972h0M1426 1015h0M1545 847h0M1626 725h0M1537 775h0M1477 1061h0M1369 933h0M1300 892h0M1241 864h0M1505 789h0M1657 672h0M1611 974h0M1514 809h0M1507 1002h0M1542 620h0M1340 995h0M1439 679h0M1485 717h0M1581 964h0M1497 918h0M1195 906h0M1293 1021h0M1596 1046h0M1557 1085h0M1583 758h0M1472 738h0M1195 895h0M1390 1014h0M1221 1034h0M1624 867h0M1640 627h0M1380 943h0M1397 684h0M1611 895h0M1600 1031h0M1536 776h0M1204 929h0M1288 940h0M1508 765h0M1477 763h0M1239 843h0M1431 816h0M1529 802h0M1553 671h0M1223 1033h0M1393 707h0M1466 1052h0M1327 924h0M1501 1085h0M1525 887h0M1604 770h0M1253 850h0M1403 675h0M1591 1055h0M1286 1003h0M1284 876h0M1523 648h0M1461 623h0M1629 615h0M1538 758h0M1553 920h0M1451 1007h0M1392 1030h0M1590 1023h0M1216 1001h0M1480 780h0M1541 998h0M1234 879h0M1365 809h0M1465 1053h0M1410 662h0M1424 645h0M1529 803h0M1500 954h0M1393 983h0M1257 828h0M1443 616h0M1614 887h0M1314 887h0M1421 854h0M1477 666h0M1454 801h0M1618 643h0M1453 987h0M1552 733h0M1242 1024h0M1491 906h0M1659 770h0M1549 987h0M1425 1021h0M1288 1046h0M1364 739h0M1458 786h0M1549 868h0M1438 677h0M1491 1105h0M1639 864h0M1276 903h0M1466 839h0M1322 937h0M1395 720h0M1655 778h0M1245 982h0M1497 767h0M1401 765h0M1479 1046h0M1389 769h0M1337 805h0M1567 735h0M1486 1085h0M1566 999h0M1595 1030h0M1335 794h0M1221 1032h0M1247 979h0M1347 822h0M1456 882h0M1465 915h0M1613 959h0M1566 821h0M1499 975h0M1622 772h0M1456 672h0M1554 867h0M1478 979h0M1511 1088h0M1278 917h0M1315 859h0M1423 994h0M1334 1031h0M1300 1026h0M1577 820h0M1553 1072h0M1505 789h0M1492 887h0M1608 797h0M1596 762h0M1527 1109h0M1323 954h0M1223 957h0M1290 1025h0M1191 921h0M1385 913h0M1524 1037h0M1567 688h0M1489 808h0M1465 977h0M1251 1044h0M1597 1041h0M1346 841h0M1356 770h0M1636 819h0M1327 964h0M1364 997h0M1382 893h0M1272 891h0M1442 732h0M1468 1026h0M1450 804h0M1596 1050h0M1193 868h0M1451 988h0M1559 1084h0M1309 832h0M1399 946h0M1539 627h0M1571 1045h0M1252 975h0M1513 1032h0M1271 948h0M1382 927h0M1314 986h0M1654 776h0M1474 692h0M1286 971h0M1436 882h0M1272 1047h0M1530 1092h0M1175 938h0M1372 957h0M1502 891h0M1560 916h0M1364 892h0M1452 654h0M1591 781h0M1462 752h0M1456 988h0M1390 770h0M1660 612h0M1351 787h0M1448 670h0M1531 903h0M1569 857h0M1607 756h0M1389 728h0M1307 952h0M1266 853h0M1650 812h0M1348 855h0M1371 887h0M1648 663h0M1518 639h0M1516 745h0M1532 1118h0M1584 962h0M1340 872h0M1586 818h0M1595 1010h0M1663 757h0M1548 632h0M1600 630h0M1631 878h0M1446 815h0M1336 972h0M1291 966h0M1298 894h0M1525 715h0M1400 1024h0M1447 611h0M1448 627h0M1373 772h0M1444 643h0M1546 1087h0M1300 909h0M1522 978h0M1626 625h0M1493 1055h0M1596 945h0M1455 644h0M1555 1051h0M1543 646h0M1213 947h0M1241 854h0M1568 814h0M1553 758h0M1513 1115h0M1370 837h0M1518 604h0M1515 897h0M1471 1058h0M1554 960h0M1573 715h0M1513 674h0M1353 919h0M1471 974h0M1363 789h0M1581 642h0M1548 811h0M1561 780h0M1316 810h0M1338 990h0M1560 1107h0M1618 650h0M1648 824h0M1291 988h0M1404 902h0M1466 726h0M1408 962h0M1248 922h0M1472 947h0M1380 866h0M1446 648h0M1500 1045h0M1479 736h0M1327 765h0M1237 880h0M1328 772h0M1395 977h0M1431 775h0M1440 996h0M1542 712h0M1322 975h0M1200 932h0M1546 828h0M1590 1014h0M1425 830h0M1567 734h0M1445 952h0M1574 1006h0M1664 687h0M1603 804h0M1227 858h0M1586 926h0M1482 866h0M1592 1036h0M1193 964h0M1537 936h0M1431 799h0M1537 852h0M1624 621h0M1538 728h0M1585 723h0M1601 721h0M1547 642h0M1276 1028h0M1396 1025h0M1524 1083h0M1331 935h0M1277 1055h0M1663 721h0M1277 934h0M1481 733h0M1478 970h0M1488 1020h0M1555 1017h0M1595 784h0M1669 757h0M1185 888h0M1412 680h0M1340 912h0M1497 856h0M1231 979h0M1471 693h0M1248 839h0M1579 1019h0M1343 945h0M1491 762h0M1533 1016h0M1420 650h0M1370 967h0M1503 775h0M1189 969h0M1462 936h0M1543 686h0M1452 920h0M1474 684h0M1339 899h0M1468 820h0M1457 825h0M1586 700h0M1272 886h0M1537 907h0M1346 772h0M1629 686h0M1539 608h0M1296 890h0M1565 686h0M1512 869h0M1624 617h0M1604 936h0M1260 932h0M1506 871h0M1501 906h0M1657 719h0M1500 685h0M1497 799h0M1301 835h0M1530 914h0M1413 919h0M1415 986h0M1559 696h0M1466 940h0M1614 919h0M1256 1042h0M1479 1092h0M1564 1007h0M1514 730h0M1441 948h0M1320 826h0M1550 1012h0M1507 878h0M1469 642h0M1466 849h0M1492 954h0M1279 895h0M1532 953h0M1353 827h0M1422 1038h0M1640 840h0M1470 964h0M1377 935h0M1649 688h0M1470 1043h0M1541 671h0M1612 1011h0M1227 1015h0M1398 885h0M1219 995h0M1464 1021h0M1533 877h0M1394 834h0M1526 760h0M1527 684h0M1523 1026h0M1388 831h0M1556 665h0M1648 711h0M1586 816h0M1531 1075h0M1603 954h0M1503 697h0M1385 835h0M1598 924h0M1607 827h0M1534 703h0M1522 864h0M1607 772h0M1444 747h0M1516 838h0M1525 1105h0M1385 713h0M1478 710h0M1455 949h0M1610 614h0M1449 882h0M1436 930h0M1553 644h0M1339 774h0M1438 945h0M1386 750h0M1507 1041h0M1438 632h0M1662 637h0M1552 963h0M1367 729h0M1506 918h0M1644 616h0M1478 985h0M1621 953h0M1594 728h0M1599 935h0M1303 1023h0M1597 612h0M1612 623h0M1517 669h0M1302 877h0M1597 748h0M1373 722h0M1403 833h0M1609 647h0M1371 800h0M1520 740h0M1562 907h0M1619 734h0M1487 895h0M1515 1014h0M1425 860h0M1370 718h0M1270 1020h0M1510 631h0M1299 941h0M1552 830h0M1460 810h0M1461 974h0M1523 663h0M1550 679h0M1605 952h0M1467 1058h0M1514 711h0M1537 763h0M1520 656h0M1227 883h0M1474 656h0M1366 796h0M1483 891h0M1533 813h0M1472 943h0M1416 658h0M1549 899h0M1477 913h0M1473 963h0M1506 1084h0M1453 980h0M1529 968h0M1434 621h0M1610 648h0M1420 1017h0M1349 849h0M1528 1033h0M1605 893h0M1440 736h0M1557 659h0M1636 681h0M1395 993h0M1206 905h0M1585 940h0M1627 690h0M1256 851h0M1590 830h0M1552 948h0M1545 879h0M1528 636h0M1474 941h0M1613 641h0M1387 860h0M1597 737h0M1286 987h0M1550 630h0M1418 625h0M1360 803h0M1462 655h0M1249 867h0M1383 818h0M1405 863h0M1295 834h0M1458 1006h0M1449 831h0M1429 1032h0M1497 723h0M1220 951h0M1592 941h0M1473 922h0M1303 907h0M1460 883h0M1366 958h0M1476 886h0M1384 883h0M1291 835h0M1192 869h0M1491 687h0M1304 1000h0M1393 744h0M1327 972h0M1471 607h0M1643 747h0M1604 933h0M1202 930h0M1573 1070h0M1667 631h0M1586 749h0M1549 895h0M1515 833h0M1527 1026h0M1394 986h0M1357 916h0M1540 911h0M1555 811h0M1533 1069h0M1638 844h0M1389 708h0M1564 832h0M1552 738h0M1555 1008h0M1479 644h0M1537 1094h0M1407 680h0M1601 815h0M1516 1079h0M1524 855h0M1508 975h0M1553 858h0M1607 685h0M1351 760h0M1502 966h0M1357 946h0M1486 820h0M1458 917h0M1554 1077h0M1398 931h0M1485 760h0M1459 697h0M1551 953h0M1448 884h0M1507 922h0M1482 663h0M1587 845h0M1558 853h0M1467 972h0M1499 1027h0M1565 805h0M1287 852h0M1483 693h0M1551 917h0M1481 863h0M1456 1044h0M1487 691h0M1510 723h0M1585 744h0M1634 792h0M1357 747h0M1434 953h0M1541 887h0M1204 890h0M1294 988h0M1449 655h0M1391 984h0M1635 705h0M1459 1008h0M1578 815h0M1508 983h0M1293 943h0M1529 1006h0M1404 1027h0M1322 1002h0M1276 964h0M1527 1087h0M1287 890h0M1242 1002h0M1327 852h0M1524 894h0M1587 760h0M1481 657h0M1206 904h0M1252 916h0M1412 1036h0M1560 941h0M1595 966h0M1529 1063h0M1596 1057h0M1563 894h0M1440 617h0M1523 700h0M1573 825h0M1533 666h0M1373 837h0M1581 811h0M1443 741h0M1609 944h0M1450 663h0M1552 731h0M1564 708h0M1371 883h0M1231 1015h0M1437 918h0M1539 640h0M1504 998h0M1571 634h0M1665 641h0M1549 621h0M1361 818h0M1619 934h0M1549 893h0M1354 802h0M1570 984h0M1600 895h0M1421 1041h0M1433 702h0M1551 750h0M1270 1026h0M1244 1020h0M1355 820h0M1659 786h0M1577 983h0M1594 723h0M1420 861h0M1494 765h0M1595 680h0M1327 1004h0M1456 735h0M1565 837h0M1641 818h0M1572 884h0M1310 896h0M1330 937h0M1266 1003h0M1629 619h0M1251 866h0M1373 860h0M1255 870h0M1392 837h0M1261 942h0M1614 815h0M1265 849h0M1490 796h0M1505 750h0M1260 1047h0M1431 920h0M1533 744h0M1411 664h0M1506 767h0M1535 987h0M1287 938h0M1242 953h0M1359 981h0M1474 715h0M1456 997h0M1396 990h0M1271 1033h0M1620 700h0M1527 719h0M1429 723h0M1210 1000h0M1575 1004h0M1224 849h0M1617 792h0M1516 759h0M1180 896h0M1562 707h0M1425 885h0M1253 871h0M1590 774h0M1462 968h0M1412 997h0M1537 814h0M1360 739h0M1633 871h0M1433 1000h0M1606 882h0M1404 937h0M1373 702h0M1523 802h0M1481 849h0M1347 833h0M1548 817h0M1454 876h0M1565 919h0M1647 833h0M1219 967h0M1191 896h0M1542 757h0M1339 825h0M1509 746h0M1567 746h0M1384 852h0M1663 628h0M1511 897h0M1477 733h0M1351 816h0M1416 1017h0M1253 846h0M1490 859h0M1388 909h0M1408 893h0M1527 624h0M1215 923h0M1347 870h0M1567 1003h0M1551 662h0M1595 868h0M1275 1042h0M1501 991h0M1662 655h0M1449 671h0M1574 839h0M1586 1008h0M1644 633h0M1612 948h0M1255 967h0M1447 675h0M1433 1007h0M1656 638h0M1261 932h0M1219 863h0M1570 828h0M1562 1010h0M1278 841h0M1569 624h0M1181 927h0M1505 989h0M1195 882h0M1419 1030h0M1466 983h0M1359 913h0M1290 879h0M1339 930h0M1474 618h0M1473 803h0M1536 740h0M1477 773h0M1490 695h0M1513 943h0M1500 935h0M1379 761h0M1559 755h0M1301 854h0M1343 881h0M1562 804h0M1527 1032h0M1436 900h0M1414 821h0M1349 798h0M1241 870h0M1449 610h0M1655 822h0M1308 974h0M1301 934h0M1467 1083h0M1477 1016h0M1341 950h0M1427 803h0M1576 830h0M1514 769h0M1446 659h0M1552 875h0M1392 689h0M1365 826h0M1468 988h0M1583 687h0M1594 887h0M1285 1017h0M1560 643h0M1249 987h0M1479 614h0M1511 1116h0M1346 832h0M1584 756h0M1653 672h0M1601 769h0M1481 777h0M1488 1073h0M1648 609h0M1468 990h0M1483 695h0M1389 752h0M1454 912h0M1346 951h0M1271 1024h0M1584 713h0M1482 965h0M1403 691h0M1242 960h0M1393 675h0M1511 787h0M1515 786h0M1665 781h0M1471 1066h0M1375 981h0M1521 638h0M1628 702h0M1359 844h0M1576 861h0M1595 834h0M1572 614h0M1595 815h0M1620 615h0M1640 862h0M1484 1012h0M1539 915h0M1549 894h0M1420 774h0M1348 791h0M1529 1040h0M1606 883h0M1466 1076h0M1272 845h0M1602 903h0M1263 866h0M1345 942h0M1480 768h0M1579 814h0M1489 926h0M1538 809h0M1454 917h0M1456 773h0M1420 973h0M1355 958h0M1454 974h0M1505 661h0M1265 883h0M1240 865h0M1345 992h0M1645 643h0M1254 983h0M1388 791h0M1255 842h0M1569 1067h0M1522 629h0M1259 1003h0M1653 668h0M1662 632h0M1237 995h0M1661 634h0M1606 962h0M1498 848h0M1540 894h0M1448 808h0M1465 967h0M1484 914h0M1633 762h0M1633 697h0M1585 770h0M1608 973h0M1603 808h0M1284 1013h0M1492 1060h0M1598 909h0M1219 855h0M1263 1023h0M1579 999h0M1515 713h0M1518 906h0M1318 954h0M1476 912h0M1486 1022h0M1408 790h0M1365 881h0M1466 734h0M1620 769h0M1507 749h0M1523 689h0M1613 727h0M1369 709h0M1479 977h0M1528 995h0M1662 692h0M1553 727h0M1652 803h0M1564 877h0M1288 902h0M1644 714h0M1646 716h0M1597 730h0M1503 921h0M1348 1019h0M1405 828h0M1541 946h0M1432 942h0M1611 621h0M1237 873h0M1658 777h0M1457 1065h0M1642 632h0M1375 779h0M1339 876h0M1478 966h0M1428 746h0M1461 1055h0M1486 871h0M1448 754h0M1189 937h0M1607 746h0M1598 868h0M1472 931h0M1287 818h0M1314 901h0M1236 1010h0M1493 975h0M1455 880h0M1395 886h0M1424 743h0M1484 624h0M1549 610h0M1514 829h0M1336 1001h0M1375 1027h0M1407 719h0M1400 883h0M1304 945h0M1476 1057h0M1607 770h0M1575 671h0M1648 852h0M1567 734h0M1523 1036h0M1532 698h0M1536 1119h0M1434 896h0M1432 915h0M1490 879h0M1191 941h0M1561 721h0M1441 982h0M1579 711h0M1349 928h0M1506 671h0M1430 968h0M1570 624h0M1617 701h0M1516 704h0M1185 877h0M1533 797h0M1509 768h0M1304 1056h0M1293 1046h0M1385 974h0M1293 875h0M1587 895h0M1600 953h0M1372 856h0M1394 936h0M1396 983h0M1475 776h0M1295 841h0M1249 962h0M1399 974h0M1212 870h0M1465 1084h0M1571 741h0M1476 746h0M1578 814h0M1602 1017h0M1423 795h0M1573 1057h0M1430 643h0M1668 766h0M1664 635h0M1424 702h0M1367 712h0M1515 741h0M1266 882h0M1589 947h0M1400 911h0M1490 980h0M1191 895h0M1579 631h0M1478 1028h0M1409 791h0M1458 628h0M1412 819h0M1406 1000h0M1222 915h0M1400 1036h0M1586 838h0M1348 1017h0M1365 914h0M1510 973h0M1545 611h0M1456 810h0M1445 631h0M1668 786h0M1511 907h0M1275 1051h0M1474 717h0M1613 763h0M1592 1065h0M1463 652h0M1343 783h0M1534 804h0M1388 992h0M1547 637h0M1485 1078h0M1264 868h0M1447 902h0M1502 796h0M1460 875h0M1430 974h0M1388 825h0M1234 1026h0M1417 665h0M1504 854h0M1601 863h0M1618 754h0M1570 1040h0M1465 815h0M1517 679h0M1548 1054h0M1458 746h0M1593 806h0M1533 1108h0M1429 1037h0M1255 1019h0M1403 662h0M1360 1016h0M1590 659h0M1534 777h0M1664 723h0M1611 937h0M1523 608h0M1295 1028h0M1444 749h0M1313 869h0M1377 874h0M1193 952h0M1391 824h0M1612 1021h0M1423 940h0M1476 643h0M1494 927h0M1600 877h0M1527 935h0M1563 842h0M1500 745h0M1451 924h0M1450 638h0M1637 645h0M1253 845h0M1570 666h0M1200 902h0M1480 721h0M1560 1030h0M1480 645h0M1612 885h0M1181 899h0M1283 838h0M1514 1096h0M1497 838h0M1384 964h0M1438 958h0M1518 651h0M1538 857h0M1531 1000h0M1531 751h0M1298 844h0M1487 752h0M1386 1031h0M1555 652h0M1462 908h0M1231 995h0M1425 929h0M1512 1021h0M1490 615h0M1357 818h0M1621 765h0M1499 814h0M1463 1000h0M1399 738h0M1587 776h0M1586 1001h0M1369 945h0M1642 800h0M1603 909h0M1491 870h0M1402 801h0M1257 1020h0M1181 895h0M1287 990h0M1313 967h0M1530 725h0M1584 917h0M1410 1038h0M1509 1028h0M1570 947h0M1578 670h0M1228 911h0M1629 731h0M1639 640h0M1326 997h0M1208 898h0M1603 714h0M1535 1110h0M1507 736h0M1473 1070h0M1470 686h0M1606 850h0M1631 633h0M1493 824h0M1570 1009h0M1338 832h0M1623 861h0M1379 990h0M1404 920h0M1304 982h0M1634 676h0M1659 694h0M1569 933h0M1338 790h0M1560 915h0M1251 958h0M1380 717h0M1531 744h0M1520 758h0M1461 1064h0M1273 891h0M1320 1017h0M1476 897h0M1241 1044h0M1463 969h0M1350 849h0M1444 1013h0M1661 827h0M1619 846h0M1533 1104h0M1471 946h0M1531 1030h0M1466 779h0M1257 905h0M1424 812h0M1446 1004h0M1235 892h0M1423 860h0M1358 865h0M1624 641h0M1288 945h0M1582 1092h0M1391 1014h0M1649 722h0M1284 1021h0M1501 708h0M1495 972h0M1644 833h0M1617 872h0M1349 900h0M1557 651h0M1514 1030h0M1423 982h0M1388 908h0M1234 890h0M1647 617h0M1470 703h0M1258 997h0M1633 681h0M1238 929h0M1572 908h0M1337 864h0M1253 943h0M1555 764h0M1616 874h0M1293 1033h0M1636 793h0M1554 625h0M1380 785h0M1382 899h0M1271 902h0M1598 815h0M1363 871h0M1605 779h0M1264 1011h0M1279 843h0M1478 646h0M1549 1015h0M1425 999h0M1200 863h0M1443 633h0M1264 896h0M1209 936h0M1640 778h0M1585 652h0M1519 1000h0M1317 1005h0M1370 899h0M1325 985h0M1505 816h0M1604 763h0M1548 603h0M1516 926h0M1505 817h0M1526 881h0M1488 945h0M1606 934h0M1598 761h0M1427 835h0M1544 1073h0M1341 920h0M1383 865h0M1439 730h0M1328 852h0M1482 1067h0M1402 772h0M1667 811h0M1339 936h0M1385 1009h0M1547 905h0M1227 960h0M1313 1031h0M1544 729h0M1653 641h0M1568 724h0M1314 1007h0M1470 730h0M1626 759h0M1394 693h0M1205 985h0M1499 984h0M1487 676h0M1604 787h0M1246 875h0M1289 1006h0M1431 920h0M1630 863h0M1219 1009h0M1631 635h0M1269 830h0M1419 939h0M1443 927h0M1448 903h0M1565 989h0M1428 872h0M1465 942h0M1535 910h0M1614 880h0M1414 968h0M1512 765h0M1287 885h0M1581 809h0M1351 946h0M1307 947h0M1596 975h0M1626 815h0M1552 942h0M1562 1091h0M1386 914h0M1514 788h0M1604 825h0M1388 951h0M1396 1028h0M1287 877h0M1265 1036h0M1313 1035h0M1340 849h0M1287 848h0M1526 927h0M1538 667h0M1559 716h0M1228 851h0M1537 897h0M1481 873h0M1455 819h0M1536 951h0M1319 964h0M1508 620h0M1611 613h0M1551 1115h0M1543 960h0M1347 860h0M1648 672h0M1434 783h0M1641 622h0M1486 752h0M1460 729h0M1605 695h0M1631 870h0M1474 1005h0M1415 720h0M1209 947h0M1414 963h0M1568 1024h0M1252 1004h0M1521 857h0M1617 666h0M1655 727h0M1212 900h0M1502 1003h0M1451 634h0M1345 978h0M1438 763h0M1437 1004h0M1248 844h0M1458 960h0M1500 683h0M1586 909h0M1286 832h0M1390 669h0M1478 669h0M1516 869h0M1259 974h0M1236 1047h0M1522 992h0M1263 898h0M1595 741h0M1513 708h0M1438 887h0M1217 1036h0M1566 1021h0M1213 989h0M1522 814h0M1512 739h0M1416 661h0M1621 700h0M1497 998h0M1413 651h0M1522 950h0M1445 727h0M1578 909h0M1245 877h0M1608 878h0M1587 957h0M1509 793h0M1639 769h0M1203 886h0M1368 815h0M1441 1000h0M1246 889h0M1318 900h0M1432 940h0M1478 1061h0M1661 763h0M1498 1007h0M1364 843h0M1522 971h0M1629 841h0M1629 841h0M1433 924h0M1405 645h0M1181 878h0M1373 752h0M1541 784h0M1445 903h0M1444 809h0M1474 951h0M1609 672h0M1378 1009h0M1588 603h0M1578 917h0M1610 758h0M1418 972h0M1533 743h0M1250 849h0M1331 922h0M1342 804h0M1312 991h0M1449 1016h0M1544 1106h0M1355 857h0M1464 606h0M1415 902h0M1241 839h0M1309 1028h0M1552 899h0M1587 1041h0M1285 901h0M1651 652h0M1491 1068h0M1533 731h0M1472 906h0M1412 908h0M1302 1015h0M1578 605h0M1230 885h0M1479 716h0M1494 737h0M1540 997h0M1596 757h0M1365 800h0M1248 890h0M1322 928h0M1348 880h0M1524 813h0M1452 693h0M1565 1005h0M1254 1029h0M1619 718h0M1432 850h0M1349 873h0M1466 826h0M1430 803h0M1574 721h0M1407 762h0M1598 1018h0M1516 819h0M1204 993h0M1507 851h0M1587 694h0M1612 959h0M1552 899h0M1380 812h0M1570 997h0M1416 828h0M1636 664h0M1493 1008h0M1267 1002h0M1607 771h0M1443 628h0M1405 799h0M1433 693h0M1247 900h0M1501 826h0M1524 653h0M1251 960h0M1273 993h0M1515 804h0M1384 752h0M1467 1047h0M1448 623h0M1514 1050h0M1439 777h0M1579 894h0M1544 633h0M1358 978h0M1216 945h0M1392 977h0M1384 1028h0M1466 1072h0M1538 896h0M1482 905h0M1431 1002h0M1533 981h0M1427 666h0M1342 767h0M1368 727h0M1649 722h0M1402 656h0M1556 751h0M1636 727h0M1450 875h0M1603 788h0M1362 1003h0M1250 1029h0M1476 848h0M1586 822h0M1509 656h0M1556 825h0M1395 1008h0M1263 1044h0M1499 714h0M1366 845h0M1533 676h0M1470 765h0M1498 683h0M1591 610h0M1585 901h0M1520 1105h0M1443 926h0M1426 820h0M1423 745h0M1647 697h0M1494 949h0M1469 709h0M1343 887h0M1571 1076h0M1461 826h0M1270 886h0M1245 848h0M1438 635h0M1482 910h0M1351 795h0M1256 950h0M1426 950h0M1398 960h0M1592 767h0M1327 1033h0M1490 1084h0M1585 626h0M1492 1059h0M1253 1022h0M1402 1022h0M1504 806h0M1471 780h0M1640 634h0M1470 923h0M1519 674h0M1389 1006h0M1420 661h0M1611 919h0M1427 990h0M1242 935h0M1640 870h0M1583 1062h0M1490 805h0M1659 831h0M1267 1043h0M1463 808h0M1637 846h0M1606 949h0M1493 1045h0M1405 1027h0M1246 934h0M1584 938h0M1569 733h0M1551 810h0M1419 694h0M1235 1000h0M1530 777h0M1490 1010h0M1470 669h0M1207 876h0M1534 988h0M1420 754h0M1396 931h0M1596 872h0M1417 664h0M1428 966h0M1401 904h0M1562 923h0M1462 1068h0M1378 880h0M1537 1055h0M1390 910h0M1581 994h0M1582 950h0M1658 825h0M1604 1040h0M1586 935h0M1345 964h0M1286 863h0M1361 797h0M1606 726h0M1449 711h0M1581 660h0M1417 789h0M1376 946h0M1621 869h0M1255 961h0M1441 890h0M1333 845h0M1577 719h0M1273 1022h0M1610 618h0M1607 972h0M1496 933h0M1527 987h0M1325 944h0M1215 991h0M1411 979h0M1177 913h0M1243 1006h0M1382 850h0M1448 1040h0M1603 789h0M1293 955h0M1474 606h0M1490 1036h0M1251 1058h0M1508 795h0M1436 1038h0M1554 705h0M1421 893h0M1610 770h0M1445 634h0M1508 773h0M1661 721h0M1350 783h0M1194 881h0M1293 951h0M1632 842h0M1438 877h0M1601 888h0M1441 963h0M1609 1019h0M1518 875h0M1587 653h0M1461 668h0M1455 920h0M1436 802h0M1639 690h0M1612 822h0M1340 937h0M1661 757h0M1441 946h0M1520 1032h0M1296 828h0M1658 692h0M1283 954h0M1395 978h0M1438 729h0M1589 1049h0M1415 827h0M1203 988h0M1430 790h0M1444 842h0M1500 667h0M1629 842h0M1265 908h0M1501 1055h0M1426 978h0M1416 826h0M1479 1002h0M1438 721h0M1232 1002h0M1356 779h0M1623 781h0M1411 787h0M1573 797h0M1289 962h0M1443 1032h0M1301 970h0M1532 1000h0M1224 987h0M1335 865h0M1447 1008h0M1220 941h0M1480 715h0M1572 806h0M1599 724h0M1525 689h0M1346 737h0M1419 929h0M1246 841h0M1598 815h0M1219 991h0M1487 736h0M1374 881h0M1553 692h0M1325 855h0M1602 927h0M1259 940h0M1519 783h0M1447 645h0M1352 886h0M1549 703h0M1351 913h0M1397 973h0M1264 908h0M1305 1006h0M1519 812h0M1450 937h0M1541 900h0M1557 843h0M1617 949h0M1398 704h0M1434 940h0M1487 727h0M1594 961h0M1366 846h0M1486 691h0M1489 1051h0M1336 996h0M1231 909h0M1415 927h0M1243 1033h0M1566 1039h0M1530 653h0M1621 825h0M1644 773h0M1332 997h0M1516 899h0M1349 879h0M1442 997h0M1543 724h0M1327 836h0M1580 1018h0M1536 929h0M1606 681h0M1318 904h0M1510 982h0M1447 638h0M1384 746h0M1653 662h0M1276 969h0M1262 1034h0M1548 989h0M1459 885h0M1452 788h0M1647 806h0M1255 1035h0M1616 660h0M1562 857h0M1310 813h0M1481 925h0M1460 1061h0M1630 688h0M1336 830h0M1470 882h0M1622 830h0M1487 921h0M1210 989h0M1257 1063h0M1345 999h0M1596 726h0M1405 843h0M1340 859h0M1467 752h0M1588 643h0M1587 1065h0M1270 990h0M1570 610h0M1606 820h0M1598 941h0M1545 860h0M1324 989h0M1500 866h0M1274 1014h0M1274 886h0M1423 936h0M1267 975h0M1478 795h0M1280 1033h0M1445 950h0M1363 962h0M1205 968h0M1659 738h0M1489 772h0M1539 907h0M1394 790h0M1559 1102h0M1408 1023h0M1578 606h0M1447 840h0M1653 687h0M1508 1009h0M1241 1034h0M1584 635h0M1616 970h0M1413 834h0M1403 849h0M1453 869h0M1534 981h0M1440 934h0M1579 779h0M1383 737h0M1509 976h0M1300 833h0M1367 952h0M1573 620h0M1546 854h0M1574 1002h0M1369 959h0M1419 650h0M1607 761h0M1545 674h0M1568 817h0M1569 846h0M1385 720h0M1370 862h0M1408 840h0M1434 643h0M1493 1082h0M1572 771h0M1444 874h0M1587 791h0M1446 773h0M1650 803h0M1475 948h0M1352 936h0M1605 945h0M1485 757h0M1474 904h0M1491 1098h0M1576 680h0M1379 770h0M1561 873h0M1301 995h0M1577 867h0M1211 920h0M1566 744h0M1338 864h0M1495 857h0M1349 958h0M1535 956h0M1562 899h0M1580 701h0M1456 646h0M1652 811h0M1271 1053h0M1616 883h0M1629 668h0M1593 902h0M1486 959h0M1390 910h0M1438 859h0M1456 1011h0M1343 989h0M1556 1007h0M1544 680h0M1418 858h0M1592 939h0M1507 1083h0M1358 993h0M1631 643h0M1549 1004h0M1282 1041h0M1392 730h0M1471 829h0M1650 731h0M1416 944h0M1301 815h0M1340 882h0M1361 801h0M1517 651h0M1562 706h0M1659 619h0M1636 673h0M1253 927h0M1528 677h0M1585 712h0M1629 822h0M1310 898h0M1485 639h0M1260 1061h0M1537 664h0M1473 778h0M1403 700h0M1533 800h0M1264 878h0M1628 808h0M1294 1012h0M1500 637h0M1436 999h0M1276 883h0M1389 716h0M1462 1040h0M1355 893h0M1515 731h0M1589 646h0M1622 766h0M1598 778h0M1188 940h0M1513 952h0M1611 672h0M1243 947h0M1308 961h0M1528 883h0M1613 761h0M1464 1020h0M1641 737h0M1413 901h0M1527 983h0M1641 630h0M1286 849h0M1565 728h0M1649 676h0M1474 768h0M1408 683h0M1630 656h0M1507 981h0M1258 1047h0M1221 928h0M1315 959h0M1512 711h0M1301 1021h0M1598 768h0M1606 649h0M1439 736h0M1531 720h0M1615 647h0M1575 1022h0M1383 1024h0M1235 946h0M1209 933h0M1442 709h0M1487 643h0M1461 958h0M1646 639h0M1618 763h0M1591 776h0M1492 1038h0M1410 631h0M1244 1037h0M1226 993h0M1275 993h0M1583 967h0M1447 641h0M1576 741h0M1345 865h0M1415 774h0M1462 691h0M1640 779h0M1537 1092h0M1583 853h0M1571 1071h0M1596 935h0M1280 916h0M1229 894h0M1259 1049h0M1300 902h0M1664 663h0M1481 605h0M1637 681h0M1394 905h0M1314 912h0M1342 879h0M1608 863h0M1499 983h0M1587 667h0M1610 818h0M1318 938h0M1506 759h0M1522 711h0M1522 675h0M1546 974h0M1507 819h0M1588 703h0M1218 941h0M1617 938h0M1323 982h0M1322 1036h0M1521 857h0M1533 885h0M1301 848h0M1627 844h0M1569 823h0M1534 886h0M1278 894h0M1628 656h0M1471 1063h0M1568 822h0M1328 892h0M1618 616h0M1457 738h0M1433 931h0M1322 813h0M1369 729h0M1368 1028h0M1369 859h0M1552 626h0M1483 967h0M1220 994h0M1445 788h0M1558 1017h0M1310 944h0M1575 803h0M1560 610h0M1301 839h0M1310 920h0M1455 958h0M1227 1003h0M1358 746h0M1213 951h0M1206 1002h0M1515 624h0M1362 906h0M1576 855h0M1489 805h0M1541 613h0M1634 774h0M1518 809h0M1351 994h0M1524 975h0M1357 1035h0M1403 999h0M1525 727h0M1603 754h0M1371 830h0M1454 878h0M1447 730h0M1601 646h0M1571 1036h0M1479 1061h0M1356 871h0M1432 862h0M1661 642h0M1489 683h0M1413 835h0M1565 639h0M1527 806h0M1539 794h0M1563 762h0M1417 787h0M1374 864h0M1579 1004h0M1451 713h0M1206 980h0M1559 1079h0M1381 980h0M1591 1056h0M1554 952h0M1432 799h0M1581 707h0M1437 962h0M1307 1045h0M1549 758h0M1625 662h0M1431 896h0M1480 859h0M1505 1106h0M1241 955h0M1610 822h0M1473 979h0M1600 838h0M1307 833h0M1451 750h0M1298 855h0M1485 775h0M1455 991h0M1648 813h0M1343 1032h0M1344 990h0M1639 877h0M1658 721h0M1595 663h0M1252 941h0M1354 986h0M1328 975h0M1182 891h0M1328 835h0M1609 854h0M1476 640h0M1550 1076h0M1520 1116h0M1456 781h0M1517 659h0M1570 642h0M1511 696h0M1624 754h0M1325 826h0M1499 744h0M1577 1014h0M1524 1097h0M1411 884h0M1434 735h0M1304 938h0M1231 902h0M1472 933h0M1524 883h0M1192 883h0M1327 973h0M1605 925h0M1265 880h0M1588 754h0M1482 782h0M1614 771h0M1535 802h0M1611 958h0M1285 1029h0M1504 872h0M1563 1048h0M1389 736h0M1234 874h0M1393 878h0M1560 949h0M1594 752h0M1413 817h0M1504 617h0M1389 1032h0M1502 720h0M1439 1006h0M1569 663h0M1490 716h0M1577 1010h0M1376 795h0M1282 867h0M1547 851h0M1417 1041h0M1418 1000h0M1185 932h0M1589 722h0M1395 858h0M1427 909h0M1544 969h0M1307 915h0M1381 1029h0M1445 700h0M1335 775h0M1330 945h0M1436 1033h0M1579 737h0M1554 712h0M1245 987h0M1389 748h0M1545 603h0M1669 664h0M1429 849h0M1285 849h0M1246 884h0M1530 738h0M1532 1090h0M1492 676h0M1452 931h0M1400 849h0M1503 656h0M1408 675h0M1287 1053h0M1497 969h0M1467 886h0M1579 1008h0M1482 965h0M1195 872h0M1580 768h0M1582 996h0M1550 970h0M1313 903h0M1377 835h0M1343 923h0M1509 922h0M1518 1050h0M1466 674h0M1623 817h0M1304 1052h0M1444 721h0M1458 808h0M1631 646h0M1561 874h0M1439 922h0M1373 734h0M1517 1098h0M1437 971h0M1546 910h0M1325 942h0M1634 856h0M1455 625h0M1408 1028h0M1350 857h0M1362 724h0M1528 1110h0M1239 845h0M1471 1010h0M1241 1036h0M1527 796h0M1434 1010h0M1567 990h0M1365 890h0M1459 1034h0M1609 899h0M1192 952h0M1324 1014h0M1580 1038h0M1269 843h0M1286 963h0M1214 990h0M1559 858h0M1641 845h0M1579 827h0M1387 762h0M1505 933h0M1664 624h0M1333 913h0M1452 879h0M1541 662h0M1400 914h0M1527 1107h0M1304 933h0M1401 737h0M1545 1105h0M1411 777h0M1268 969h0M1514 971h0M1439 970h0M1469 993h0M1212 934h0M1522 1007h0M1438 883h0M1570 724h0M1590 710h0M1348 738h0M1665 805h0M1540 677h0M1413 1020h0M1531 1027h0M1613 744h0M1475 742h0M1555 747h0M1467 972h0M1479 981h0M1542 803h0M1565 1003h0M1381 759h0M1472 663h0M1577 768h0M1458 1018h0M1298 1054h0M1272 1017h0M1496 757h0M1556 993h0M1565 790h0M1632 792h0M1481 890h0M1645 619h0M1491 779h0M1217 947h0M1339 849h0M1324 1029h0M1598 878h0M1480 813h0M1481 896h0M1389 1022h0M1510 785h0M1538 671h0M1643 657h0M1615 678h0M1669 722h0M1337 824h0M1511 983h0M1520 919h0M1649 688h0M1422 824h0M1456 1034h0M1295 826h0M1427 673h0M1199 946h0M1654 826h0M1369 857h0M1346 1007h0M1286 868h0M1440 1031h0M1262 838h0M1445 915h0M1652 792h0M1230 878h0M1347 802h0M1464 655h0M1409 685h0M1545 891h0M1512 953h0M1521 679h0M1543 615h0M1566 615h0M1390 857h0M1612 814h0M1448 935h0M1471 609h0M1565 781h0M1654 780h0M1545 1011h0M1382 1041h0M1212 966h0M1658 736h0M1212 936h0M1364 972h0M1549 933h0M1271 871h0M1574 877h0M1265 903h0M1646 658h0M1591 887h0M1308 869h0M1324 839h0M1393 812h0M1599 752h0M1489 711h0M1496 981h0M1572 876h0M1261 831h0M1522 1117h0M1486 1039h0M1235 843h0M1487 603h0M1456 883h0M1539 971h0M1270 962h0M1244 988h0M1570 869h0M1418 686h0M1464 640h0M1359 1022h0M1458 771h0M1575 1075h0M1373 870h0M1393 861h0M1494 896h0M1396 982h0M1449 646h0M1594 1005h0M1611 902h0M1254 944h0M1647 653h0M1315 971h0M1250 837h0M1436 700h0M1439 759h0M1372 724h0M1510 705h0M1516 998h0M1506 621h0M1419 754h0M1532 860h0M1304 877h0M1351 858h0M1330 772h0M1262 952h0M1445 1032h0M1554 850h0M1424 856h0M1253 977h0M1654 670h0M1302 959h0M1503 977h0M1306 947h0M1482 922h0M1189 927h0M1520 683h0M1206 974h0M1501 1038h0M1507 1059h0M1656 752h0M1262 1047h0M1526 625h0M1356 829h0M1394 759h0M1337 942h0M1559 648h0M1570 911h0M1235 872h0M1397 979h0M1409 928h0M1445 923h0M1506 822h0M1422 930h0M1636 687h0M1282 851h0M1521 957h0M1483 750h0M1635 752h0M1507 669h0M1350 955h0M1323 953h0M1529 1100h0M1256 1062h0M1616 619h0M1503 763h0M1210 995h0M1443 921h0M1605 637h0M1465 928h0M1553 856h0M1287 826h0M1588 1047h0M1633 869h0M1365 887h0M1613 643h0M1348 826h0M1586 724h0M1496 979h0M1238 1040h0M1610 719h0M1532 997h0M1664 668h0M1581 841h0M1328 903h0M1408 856h0M1398 822h0M1646 787h0M1429 874h0M1589 1041h0M1578 674h0M1470 685h0M1530 801h0M1563 1098h0M1242 991h0M1427 793h0M1386 864h0M1210 936h0M1596 936h0M1535 924h0M1536 1104h0M1506 620h0M1638 654h0M1634 797h0M1521 795h0M1327 815h0M1510 1057h0M1363 737h0M1596 827h0M1312 967h0M1408 979h0M1562 892h0M1423 1028h0M1531 733h0M1421 960h0M1377 747h0M1526 1095h0M1516 939h0M1447 930h0M1285 897h0M1567 1097h0M1378 1027h0M1462 751h0M1535 791h0M1483 728h0M1472 924h0M1661 750h0M1569 1029h0M1468 880h0M1561 673h0M1517 778h0M1581 688h0M1652 674h0M1635 675h0M1522 642h0M1273 993h0M1522 1097h0M1358 865h0M1536 821h0M1305 984h0M1457 926h0M1229 939h0M1240 875h0M1570 866h0M1615 742h0M1509 604h0M1461 872h0M1237 1012h0M1572 690h0M1357 1037h0M1416 932h0M1634 745h0M1287 1033h0M1561 845h0M1504 961h0M1322 958h0M1525 1010h0M1592 955h0M1488 620h0M1528 701h0M1557 927h0M1607 889h0M1491 1021h0M1331 761h0M1561 1014h0M1452 904h0M1640 757h0M1567 1010h0M1356 731h0M1644 765h0M1472 769h0M1405 908h0M1380 978h0M1517 679h0M1560 617h0M1481 959h0M1468 953h0M1541 1021h0M1476 730h0M1583 974h0M1569 696h0M1435 790h0M1364 710h0M1409 1002h0M1545 674h0M1208 967h0M1441 829h0M1308 809h0M1467 981h0M1551 1099h0M1606 1012h0M1519 683h0M1494 1040h0M1595 919h0M1277 908h0M1549 918h0M1610 648h0M1486 1035h0M1579 693h0M1461 649h0M1204 875h0M1553 637h0M1637 732h0M1288 1009h0M1535 786h0M1585 1016h0M1536 1089h0M1547 803h0M1575 1054h0M1271 1053h0M1384 820h0M1249 1029h0M1608 675h0M1547 626h0M1367 767h0M1389 938h0M1335 998h0M1549 1053h0M1388 921h0M1266 838h0M1599 810h0M1437 708h0M1327 894h0M1457 822h0M1231 988h0M1433 1031h0M1650 742h0M1392 848h0M1632 871h0M1413 631h0M1536 714h0M1586 1016h0M1479 743h0M1534 799h0M1412 884h0M1662 782h0M1357 969h0M1646 631h0M1450 896h0M1554 1011h0M1509 1109h0M1337 830h0M1404 977h0M1284 1003h0M1496 949h0M1641 823h0M1393 1041h0M1371 822h0M1342 831h0M1375 722h0M1341 933h0M1640 681h0M1578 655h0M1338 993h0M1414 917h0M1625 682h0M1509 1096h0M1612 860h0M1262 954h0M1559 717h0M1446 906h0M1300 938h0M1471 1029h0M1371 909h0M1551 949h0M1231 977h0M1537 772h0M1386 964h0M1472 969h0M1245 1026h0M1600 628h0M1422 822h0M1253 876h0M1544 667h0M1276 987h0M1501 686h0M1428 879h0M1546 610h0M1598 858h0M1563 846h0M1231 1022h0M1651 695h0M1606 839h0M1189 961h0M1515 1112h0M1520 727h0M1503 888h0M1512 837h0M1524 740h0M1234 1023h0M1667 781h0M1542 973h0M1362 805h0M1419 955h0M1483 951h0M1605 735h0M1499 946h0M1462 947h0M1515 1093h0M1499 910h0M1284 1016h0M1507 719h0M1425 914h0M1284 847h0M1525 598h0M1344 888h0M1358 932h0M1211 986h0M1616 827h0M1265 881h0M1630 635h0M1327 950h0M1669 800h0M1571 935h0M1316 811h0M1585 794h0M1530 722h0M1361 785h0M1297 851h0M1387 955h0M1252 855h0M1559 630h0M1538 706h0M1540 746h0M1539 630h0M1429 669h0M1219 997h0M1627 610h0M1440 740h0M1399 875h0M1618 917h0M1507 890h0M1513 682h0M1525 765h0M1650 663h0M1265 935h0M1460 648h0M1402 647h0M1422 924h0M1546 904h0M1599 667h0M1335 890h0M1428 1040h0M1655 781h0M1579 1044h0M1267 1053h0M1340 893h0M1479 678h0M1397 1023h0M1530 675h0M1523 985h0M1293 958h0M1520 660h0M1244 1033h0M1587 707h0M1589 864h0M1338 901h0M1424 842h0M1335 994h0M1547 732h0M1504 906h0M1561 913h0M1649 745h0M1472 900h0M1419 808h0M1530 1089h0M1509 1114h0M1579 720h0M1440 960h0M1557 644h0M1394 736h0M1283 971h0M1490 696h0M1429 925h0M1555 853h0M1409 922h0M1278 922h0M1500 1046h0M1298 877h0M1623 692h0M1420 1017h0M1657 637h0M1426 977h0M1283 916h0M1573 833h0M1594 1001h0M1443 700h0M1410 863h0M1411 807h0M1342 929h0M1625 688h0M1415 646h0M1548 928h0M1410 680h0M1581 1079h0M1495 1023h0M1517 731h0M1608 881h0M1645 680h0M1533 979h0M1417 927h0M1247 986h0M1468 1035h0M1527 720h0M1269 872h0M1640 699h0M1616 798h0M1591 719h0M1307 856h0M1464 705h0M1441 853h0M1403 968h0M1490 774h0M1514 1001h0M1265 833h0M1486 988h0M1590 702h0M1621 813h0M1302 975h0M1529 669h0M1388 976h0M1580 821h0M1570 764h0M1563 908h0M1368 772h0M1594 673h0M1458 797h0M1244 949h0M1447 732h0M1197 939h0M1396 957h0M1382 992h0M1478 771h0M1506 889h0M1576 700h0M1580 714h0M1517 1059h0M1468 742h0M1516 635h0M1388 960h0M1653 816h0M1233 933h0M1320 955h0M1601 930h0M1522 824h0M1638 679h0M1549 1122h0M1331 984h0M1567 864h0M1373 719h0M1519 932h0M1246 975h0M1500 805h0M1511 877h0M1394 1001h0M1344 965h0M1451 717h0M1436 778h0M1620 682h0M1353 845h0M1494 1024h0M1355 789h0M1538 1098h0M1577 824h0M1380 974h0M1369 711h0M1219 904h0M1433 673h0M1472 909h0M1490 991h0M1499 815h0M1561 949h0M1615 964h0M1440 659h0M1546 773h0M1422 844h0M1348 768h0M1620 658h0M1241 977h0M1525 1065h0M1419 836h0M1482 799h0M1492 794h0M1560 1009h0M1542 915h0M1204 998h0M1506 809h0M1419 805h0M1485 761h0M1235 861h0M1531 778h0M1429 924h0M1408 1029h0M1498 982h0M1655 674h0M1570 807h0M1600 1035h0M1550 809h0M1441 709h0M1561 667h0M1258 909h0M1381 869h0M1466 985h0M1415 717h0M1518 1099h0M1281 900h0M1503 1106h0M1479 647h0M1473 690h0M1344 1026h0M1575 1013h0M1499 741h0M1549 702h0M1386 909h0M1642 728h0M1485 926h0M1241 1012h0M1363 900h0M1659 707h0M1462 838h0M1599 810h0M1324 959h0M1519 650h0M1476 1025h0M1494 870h0M1574 668h0M1621 776h0M1560 1008h0M1391 785h0M1564 628h0M1377 835h0M1426 806h0M1598 841h0M1565 717h0M1551 857h0M1546 923h0M1603 996h0M1608 678h0M1476 928h0M1429 789h0M1513 920h0M1318 915h0M1602 1058h0M1308 918h0M1614 659h0M1381 700h0M1459 1017h0M1565 1077h0M1528 838h0M1473 913h0M1506 728h0M1406 935h0M1608 863h0M1523 930h0M1488 851h0M1414 971h0M1331 924h0M1453 710h0M1495 690h0M1513 815h0M1527 911h0M1229 1028h0M1529 797h0M1417 931h0M1588 764h0M1350 920h0M1257 938h0M1435 672h0M1606 993h0M1478 957h0M1481 659h0M1504 697h0M1662 714h0M1447 622h0M1361 854h0M1456 1038h0M1382 869h0M1611 938h0M1260 833h0M1600 738h0M1570 693h0M1218 900h0M1656 804h0M1503 1002h0M1565 672h0M1461 939h0M1580 984h0M1584 804h0M1549 915h0M1392 746h0M1331 897h0M1579 828h0M1511 681h0M1463 713h0M1611 1001h0M1478 683h0M1542 854h0M1562 1000h0M1482 823h0M1419 781h0M1371 957h0M1274 888h0M1288 897h0M1496 1105h0M1537 850h0M1532 990h0M1532 793h0M1631 667h0M1424 973h0M1210 1012h0M1195 879h0M1489 1007h0M1232 956h0M1408 924h0M1513 887h0M1275 829h0M1466 884h0M1490 864h0M1411 791h0M1591 675h0M1394 1023h0M1574 872h0M1527 716h0M1383 702h0M1513 773h0M1208 952h0M1555 618h0M1466 664h0M1210 875h0M1492 748h0M1474 1066h0M1232 945h0M1594 924h0M1375 967h0M1234 1009h0M1409 745h0M1581 834h0M1506 964h0M1437 665h0M1541 678h0M1506 1102h0M1574 807h0M1371 880h0M1262 845h0M1447 1029h0M1561 917h0M1444 883h0M1384 732h0M1518 927h0M1241 849h0M1592 993h0M1646 761h0M1573 1044h0M1574 1072h0M1485 830h0M1405 974h0M1545 750h0M1601 707h0M1284 1031h0M1408 708h0M1321 882h0M1531 823h0M1403 970h0M1528 834h0M1225 1004h0M1346 817h0M1530 624h0M1457 720h0M1296 867h0M1385 930h0M1483 853h0M1445 789h0M1320 880h0M1434 898h0M1431 826h0M1304 962h0M1370 884h0M1234 874h0M1555 927h0M1586 1007h0M1459 1010h0M1456 879h0M1567 1036h0M1561 803h0M1447 665h0M1462 959h0M1662 699h0M1257 904h0M1521 725h0M1581 1029h0M1524 730h0M1483 897h0M1440 1043h0M1546 1040h0M1354 959h0M1429 674h0M1606 969h0M1528 1074h0M1629 830h0M1632 828h0M1568 826h0M1480 782h0M1226 868h0M1305 1044h0M1622 656h0M1501 1042h0M1590 872h0M1222 1016h0M1510 1042h0M1516 902h0M1664 619h0M1263 842h0M1407 784h0M1469 838h0M1360 1037h0M1499 910h0M1265 1048h0M1600 876h0M1203 971h0M1489 1064h0M1268 834h0M1466 662h0M1675 813h0M1206 877h0M1572 964h0M1613 891h0M1544 906h0M1353 816h0M1441 817h0M1487 977h0M1493 708h0M1516 643h0M1398 674h0M1325 940h0M1443 849h0M1569 924h0M1536 1020h0M1259 865h0M1194 944h0M1563 638h0M1471 961h0M1195 905h0M1591 691h0M1439 1033h0M1511 916h0M1523 769h0M1366 733h0M1311 930h0M1337 755h0M1571 1005h0M1449 962h0M1503 1020h0M1312 864h0M1613 886h0M1558 1007h0M1283 994h0M1212 1001h0M1476 1000h0M1654 684h0M1611 775h0M1377 769h0M1514 664h0M1489 1006h0M1404 954h0M1586 823h0M1583 973h0M1655 799h0M1578 712h0M1520 1014h0M1234 891h0M1472 719h0M1478 875h0M1572 840h0M1607 722h0M1468 899h0M1514 846h0M1519 909h0M1459 916h0M1520 881h0M1279 902h0M1440 976h0M1216 983h0M1483 626h0M1631 869h0M1654 638h0M1588 961h0M1216 967h0M1432 675h0M1508 751h0M1507 943h0M1493 912h0M1173 832h0M1152 791h0M1165 779h0M1170 826h0M1167 824h0M1172 741h0M1171 746h0M1167 811h0M1184 841h0M1167 761h0M1183 822h0M1157 764h0M1156 797h0M1182 836h0M1163 811h0M1168 762h0M1173 755h0M1168 766h0M1167 793h0M1168 826h0M1183 840h0M1165 788h0M1191 849h0M1162 798h0M1175 833h0M1169 839h0M1160 789h0M1183 829h0M1176 821h0M1172 731h0M1170 812h0M1174 834h0M1165 756h0M1172 767h0M1156 810h0M1177 828h0M1169 820h0M1175 751h0M1148 810h0M1163 774h0M1194 851h0M1164 788h0M1159 799h0M1159 802h0M1186 828h0M1165 774h0M1171 815h0M1172 743h0M1159 766h0M1183 837h0M1171 826h0M1167 830h0M1158 798h0M1175 742h0M1162 768h0M1176 749h0M1174 786h0M1182 744h0M1163 805h0M1176 756h0M1161 813h0M1185 731h0M1153 790h0M1169 813h0M1199 856h0M1158 813h0M1178 827h0M1176 843h0M1160 758h0M1161 768h0M1160 783h0M1162 758h0M1185 728h0M1160 783h0M1166 828h0M1155 778h0M1170 835h0M1169 752h0M1185 842h0M1155 763h0M1177 756h0M1158 803h0M1181 731h0M1173 744h0M1161 751h0M1169 783h0M1185 845h0M1148 799h0M1157 775h0M1165 748h0M1166 783h0M1185 738h0M1177 844h0M1170 738h0M1157 795h0M1171 829h0M1164 753h0M1167 828h0M1182 758h0M1157 782h0M1167 771h0M1179 735h0M1164 806h0M1176 831h0M1170 775h0M1181 834h0M1167 754h0M1197 850h0M1166 812h0M1179 844h0M1159 786h0M1185 844h0M1171 755h0M1172 806h0M1156 809h0M1181 833h0M1173 781h0M1161 771h0M1187 751h0M1175 832h0M1175 747h0M1170 790h0M1161 799h0M1189 840h0M1185 740h0M1168 756h0M1157 793h0M1177 826h0M1159 777h0M1149 808h0M1188 846h0M1163 825h0M1188 852h0M1169 748h0M1195 848h0M1188 847h0M1154 809h0M1179 748h0M1161 833h0M1166 737h0M1177 835h0M1168 764h0M1177 726h0M1168 793h0M1159 805h0M1181 828h0M1167 821h0M1161 808h0M1158 781h0M1186 835h0M1187 738h0M1166 767h0M1162 791h0M1161 757h0M1174 830h0M1163 814h0M1167 833h0M1161 811h0M1167 761h0M1156 797h0M1162 755h0M1167 773h0M1185 862h0M1175 849h0M1163 755h0M1183 749h0M1155 799h0M1164 769h0M1174 834h0M1165 784h0M1152 810h0M1180 747h0M1174 728h0M1184 836h0M1149 789h0M1173 742h0M1150 806h0M1172 772h0M1168 807h0M1166 790h0M1175 846h0M1168 826h0M1160 794h0M1162 796h0M1180 771h0M1180 828h0M1165 798h0M1155 796h0M1174 752h0M1156 772h0M1173 751h0M1182 838h0M1170 762h0M1183 728h0M1171 755h0M1159 809h0M1180 767h0M1173 844h0M1171 775h0M1160 796h0M1252 804h0M1195 848h0M1235 847h0M1226 803h0M1226 808h0M1194 810h0M1262 804h0M1237 821h0M1230 819h0M1218 831h0M1263 832h0M1255 814h0M1206 847h0M1253 832h0M1246 812h0M1235 823h0M1242 818h0M1206 830h0M1240 823h0M1190 827h0M1216 830h0M1262 819h0M1218 810h0M1260 836h0M1226 845h0M1245 817h0M1245 803h0M1203 862h0M1225 813h0M1192 829h0M1216 805h0M1225 826h0M1232 835h0M1224 819h0M1242 837h0M1255 829h0M1239 823h0M1196 845h0M1284 829h0M1216 810h0M1219 820h0M1230 823h0M1276 829h0M1216 816h0M1219 840h0M1015 755h0M998 732h0M1023 756h0M1006 739h0M1013 743h0M1001 742h0M1030 734h0M1032 747h0M991 760h0M1006 750h0M1015 748h0M1015 755h0M1021 727h0M1010 745h0M999 741h0M1020 723h0M1031 732h0M1011 735h0M992 753h0M983 751h0M1016 742h0M1023 753h0M999 762h0M992 727h0M1011 748h0M1013 762h0M1029 738h0M989 728h0M1026 741h0M1010 741h0M1030 751h0M988 749h0M986 732h0M998 731h0M1012 741h0M1019 730h0M998 743h0M1000 719h0M1022 749h0M1001 757h0M1013 766h0M1005 762h0M1002 730h0M1011 755h0M1018 726h0M1003 742h0M1027 743h0M1017 728h0M996 731h0M1024 762h0M1000 747h0M991 730h0M1023 737h0M988 734h0M1020 729h0M991 738h0M1021 732h0M998 729h0M990 735h0M1006 735h0M999 733h0M991 734h0M1006 738h0M1031 752h0M1020 725h0M1026 755h0M1000 749h0M980 736h0M1014 738h0M988 744h0M1027 739h0M1032 758h0M993 750h0M1002 739h0M1008 754h0M996 747h0M1033 745h0M1031 754h0M986 752h0M1021 755h0M1022 756h0M1027 735h0M1018 729h0M997 749h0M992 746h0M1012 737h0M990 732h0M1009 764h0M1020 732h0M983 737h0M992 754h0M1012 728h0M1017 730h0M1029 739h0M1001 732h0M1004 745h0M1009 721h0M1019 749h0M1005 723h0M999 729h0M1027 756h0M1021 742h0M1019 749h0M1032 743h0M1005 729h0M1029 733h0M1006 747h0M1015 739h0M994 753h0M1016 749h0M1001 752h0M1000 758h0M1012 720h0M991 736h0M993 748h0M1027 751h0M1026 738h0M988 752h0M993 739h0M1024 729h0M1005 759h0M1016 742h0M1020 749h0M1013 725h0M981 742h0M1032 754h0M990 756h0M1011 729h0M993 759h0M1022 726h0M1022 753h0M1020 727h0M995 753h0M1001 736h0M1034 742h0M1022 755h0M1026 728h0M995 743h0M1006 759h0M993 734h0M984 751h0M1020 759h0M1003 729h0M995 758h0M1024 756h0M1011 753h0M997 736h0M995 746h0M1000 735h0M997 743h0M1004 745h0M996 747h0M1000 758h0M1004 738h0M1023 725h0M1031 752h0M987 730h0M1022 737h0M1020 746h0M1003 768h0M1020 732h0M1002 756h0M993 761h0M1018 750h0M1009 746h0M1015 757h0M1005 732h0M1018 722h0M1015 753h0M1010 729h0M1047 769h0M1055 764h0M1041 742h0M1048 752h0M1030 737h0M1056 772h0M1055 761h0M1037 739h0M1037 733h0M1032 736h0M1051 748h0M1039 738h0M1048 752h0M1043 742h0M1046 747h0M1052 759h0M1046 748h0M1029 732h0M1026 733h0M1056 763h0M1048 743h0M1049 745h0M1051 752h0M1050 765h0M1048 775h0M1046 746h0M1054 772h0M1051 747h0M1021 875h0M993 894h0M1011 908h0M1017 850h0M1013 950h0M1013 870h0M991 899h0M1033 899h0M1014 858h0M1046 938h0M1025 879h0M1032 932h0M1037 948h0M1021 904h0M1000 920h0M1045 915h0M1032 929h0M989 915h0M1014 870h0M1026 930h0M1022 923h0M1025 925h0M999 914h0M1009 855h0M1010 844h0M1022 900h0M993 899h0M1004 906h0M1027 889h0M1005 925h0M1049 903h0M1030 869h0M989 864h0M1012 900h0M1023 925h0M1041 929h0M1028 873h0M1024 879h0M995 896h0M1011 923h0M1028 869h0M994 872h0M1006 867h0M997 906h0M1000 914h0M1051 892h0M1040 924h0M1035 908h0M1053 930h0M992 903h0M1021 932h0M999 932h0M984 905h0M1004 909h0M1042 952h0M1042 939h0M1037 945h0M1005 873h0M1030 899h0M1003 877h0M1032 941h0M1051 920h0M982 859h0M1022 899h0M995 874h0M1042 879h0M994 919h0M1047 929h0M1011 940h0M1036 876h0M1038 950h0M988 863h0M1026 869h0M1026 925h0M1007 897h0M1021 848h0M1035 863h0M1060 936h0M998 856h0M1054 939h0M987 913h0M1000 929h0M1006 852h0M1018 909h0M993 920h0M1032 882h0M1016 868h0M1051 886h0M990 866h0M1038 887h0M1006 843h0M1034 869h0M1039 936h0M1009 900h0M1011 892h0M1008 894h0M1010 919h0M1004 926h0M1004 876h0M992 910h0M1030 939h0M1048 939h0M1038 915h0M1012 927h0M1004 904h0M1025 944h0M1001 878h0M1020 889h0M1051 906h0M1029 940h0M1032 895h0M1033 880h0M1048 914h0M1006 891h0M1013 886h0M1029 903h0M1019 844h0M1005 939h0M999 921h0M1021 889h0M1021 847h0M992 876h0M1000 894h0M1017 890h0M1042 891h0M1025 932h0M1005 869h0M1024 944h0M1014 898h0M1023 876h0M1019 855h0M1002 877h0M1008 923h0M987 883h0M992 922h0M1016 937h0M1014 861h0M1018 938h0M992 866h0M995 902h0M1002 845h0M994 899h0M1004 934h0M1028 948h0M1031 949h0M1028 934h0M1004 938h0M1026 846h0M1002 909h0M1023 898h0M988 860h0M1038 879h0M1056 889h0M1059 915h0M1015 924h0M1035 901h0M1008 898h0M1002 896h0M1001 898h0M1051 910h0M1039 899h0M1010 869h0M1053 895h0M1050 917h0M1040 916h0M1009 915h0M983 844h0M1019 888h0M991 853h0M1013 929h0M1042 944h0M1019 856h0M1042 953h0M1041 900h0M994 881h0M1014 856h0M1004 886h0M1032 877h0M1055 918h0M997 852h0M1056 929h0M987 907h0M1010 892h0M1029 867h0M1033 859h0M1044 913h0M1013 855h0M1036 901h0M997 924h0M991 907h0M1004 929h0M1018 883h0M1049 919h0M1042 866h0M1016 893h0M998 879h0M998 878h0M987 896h0M1034 930h0M991 912h0M1006 901h0M1016 876h0M1038 878h0M1026 927h0M988 891h0M1024 858h0M989 856h0M1008 946h0M1027 874h0M1008 906h0M1025 855h0M989 845h0M1024 890h0M1011 857h0M1003 918h0M1007 892h0M1043 899h0M996 918h0M1003 925h0M1060 918h0M1032 912h0M1008 945h0M1032 925h0M1029 909h0M1039 878h0M1001 869h0M990 848h0M1050 945h0M1011 929h0M1050 922h0M1046 945h0M1004 921h0M1034 872h0M1006 928h0M1013 897h0M1034 930h0M1049 910h0M1000 859h0M1013 881h0M1048 904h0M1031 871h0M1008 882h0M934 924h0M947 914h0M937 923h0M930 921h0M942 931h0M946 917h0M940 921h0M927 927h0M945 931h0M937 935h0M935 919h0M944 913h0M948 928h0M942 911h0M925 917h0M935 917h0M938 935h0M945 928h0M937 907h0M951 928h0M939 936h0M927 918h0M944 914h0M938 909h0M940 925h0M935 921h0M939 906h0M955 924h0M947 928h0M936 925h0M952 911h0M926 921h0M939 912h0M951 918h0M933 931h0M949 932h0M947 911h0M925 915h0M946 909h0M936 927h0M947 921h0M937 926h0M942 922h0M946 933h0M946 920h0M938 918h0M943 935h0M948 928h0M940 920h0M942 909h0M996 970h0M987 978h0M1010 967h0M982 977h0M1012 979h0M986 981h0M985 983h0M995 983h0M984 983h0M989 972h0M1003 967h0M1009 970h0M1008 979h0M988 980h0M988 973h0M975 978h0M988 969h0M986 964h0M981 972h0M984 978h0M1010 965h0M999 972h0M1016 968h0M1003 964h0M978 976h0M987 969h0M999 964h0M982 978h0M985 965h0M1002 983h0M982 977h0M995 975h0M1011 973h0M1004 967h0M1014 975h0M976 968h0M995 961h0M992 983h0M1020 978h0M1018 964h0M1006 977h0M985 964h0M979 969h0M995 976h0M1011 968h0M992 977h0M987 962h0M1008 983h0M1014 973h0M979 972h0M1012 968h0M997 975h0M1010 973h0M1006 962h0M998 968h0M1075 995h0M1058 956h0M1080 995h0M1062 963h0M1083 1007h0M1077 1009h0M1089 1035h0M1057 959h0M1074 1000h0M1055 962h0M1072 1005h0M1068 1005h0M1083 1016h0M1084 1000h0M1093 1013h0M1078 997h0M1078 1000h0M1103 1040h0M1111 1050h0M1095 1027h0M1079 985h0M1092 1044h0M1079 998h0M1066 1003h0M1059 954h0M1076 1003h0M1076 970h0M1067 1004h0M1111 1050h0M1064 957h0M1048 967h0M1098 1028h0M1074 997h0M1061 995h0M1059 962h0M1089 1027h0M1075 991h0M1066 975h0M1071 992h0M1088 1024h0M1065 991h0M1087 1031h0M1081 1007h0M1118 1039h0M1083 1015h0M1080 1005h0M1074 1004h0M1088 1032h0M1112 1044h0M1065 990h0M1074 961h0M1122 1044h0M1052 974h0M1062 957h0M1064 988h0M1065 987h0M1077 1013h0M1077 997h0M1094 1023h0M1090 1030h0M1059 963h0M1107 1042h0M1119 1059h0M1086 1013h0M1069 987h0M1065 1008h0M1102 1032h0M1097 1030h0M1098 1039h0M1071 984h0M1069 956h0M1056 971h0M1068 995h0M1066 973h0M1055 962h0M1096 1042h0M1072 992h0M1080 985h0M1077 998h0M1062 969h0M1079 1007h0M1055 960h0M1067 993h0M1078 1022h0M1071 997h0M1061 997h0M1073 993h0M1079 1018h0M1086 1030h0M1064 970h0M983 1040h0M1163 892h0M1136 1036h0M1066 1043h0M1010 1043h0M1049 1039h0M1195 1002h0M1006 1023h0M1179 943h0M932 1079h0M1122 950h0M1182 957h0M1116 997h0M1144 1013h0M1030 1087h0M1104 1063h0M993 909h0M1089 1053h0M1086 1030h0M918 935h0M1091 1056h0M1137 890h0M1050 958h0M951 1075h0M956 1074h0M933 917h0M1135 1065h0M1017 1093h0M982 1082h0M1184 1003h0M881 900h0M1049 1091h0M1056 895h0M934 939h0M1000 990h0M1105 932h0M977 1027h0M1051 916h0M999 994h0M887 939h0M1035 900h0M918 991h0M1160 954h0M896 990h0M1091 967h0M1189 949h0M1077 1009h0M897 1015h0M961 979h0M1022 987h0M905 911h0M1127 1007h0M1058 1084h0M1046 1094h0M1121 1000h0M1129 905h0M971 902h0M1078 1029h0M1133 1024h0M953 1021h0M1065 967h0M1003 964h0M981 1000h0M1081 907h0M982 1043h0M1037 1028h0M1127 998h0M1108 1018h0M1002 905h0M1110 984h0M894 1051h0M1175 883h0M1136 889h0M1075 880h0M1015 945h0M1060 937h0M996 1060h0M1014 1026h0M1132 957h0M913 958h0M935 1019h0M961 1038h0M948 1035h0M959 1040h0M943 1035h0M956 1035h0M936 1036h0M961 1033h0M926 1023h0M961 1023h0M942 1036h0M962 1026h0M929 1031h0M959 1035h0M943 1021h0M939 1036h0M934 1030h0M941 1015h0M938 1024h0M936 1028h0M930 1028h0M957 1021h0M967 1021h0M944 1040h0M950 1026h0M942 1035h0M965 1027h0M932 1029h0M953 1014h0M948 1026h0M940 1034h0M936 1017h0M945 1022h0M955 1036h0M938 1033h0M938 1021h0M942 1037h0M942 1022h0M947 1017h0M936 1019h0M951 1039h0M955 1030h0M963 1020h0M959 1024h0M962 1022h0M926 1030h0M934 1029h0M951 1034h0M951 1038h0M929 1035h0M960 1026h0M957 1031h0M935 1023h0M951 1021h0M955 1026h0M930 1022h0M959 1018h0M943 1023h0M945 1042h0M938 1041h0M1146 1026h0M1172 1020h0M1169 1017h0M1131 1028h0M1177 1013h0M1172 1022h0M1163 1021h0M1152 1020h0M1169 1015h0M1133 1030h0M1150 1025h0M1141 1024h0M1153 1020h0M1168 1019h0M1161 1019h0M1135 1026h0M1141 1026h0M1166 1015h0M730 1054h0M746 1025h0M756 1048h0M715 1061h0M726 1025h0M719 1055h0M714 1021h0M721 1047h0M751 1045h0M739 1063h0M712 1024h0M746 1032h0M732 1044h0M730 1058h0M705 1062h0M737 1054h0M759 1026h0M735 1035h0M741 1010h0M719 1002h0M720 1068h0M709 1043h0M736 1027h0M709 1041h0M727 996h0M718 1063h0M721 1010h0M738 1065h0M732 1056h0M707 1037h0M698 1046h0M720 1031h0M754 1029h0M724 1001h0M714 1014h0M744 1028h0M733 1018h0M725 1033h0M716 1033h0M742 1061h0M752 1037h0M719 1055h0M721 1039h0M738 1023h0M750 1055h0M721 1048h0M740 1013h0M720 1023h0M717 1040h0M726 1042h0M742 1034h0M716 1019h0M731 1026h0M736 1035h0M736 1061h0M745 1010h0M716 1034h0M725 1022h0M732 1050h0M739 1008h0M710 1057h0M714 1063h0M727 1060h0M721 1026h0M735 1043h0M739 1065h0M711 1013h0M710 1056h0M709 1032h0M704 1023h0M735 1003h0M741 1048h0M712 1015h0M741 1017h0M735 1024h0M720 1020h0M714 1068h0M728 1013h0M739 1030h0M703 1043h0M735 1052h0M715 1013h0M708 1023h0M721 1051h0M754 1021h0M709 1018h0M715 1008h0M708 1025h0M752 1045h0M734 1054h0M742 1055h0M721 1061h0M731 1025h0M723 1025h0M721 1047h0M734 1029h0M724 1059h0M709 1055h0M735 1017h0M745 1014h0M750 1032h0M721 1025h0M745 1013h0M701 1030h0M734 1020h0M716 1026h0M748 1029h0M737 1034h0M703 1061h0M728 1049h0M755 1015h0M745 1011h0M747 1028h0M740 1040h0M726 1059h0M712 1050h0M741 1070h0M744 1006h0M715 1062h0M725 1038h0M733 1033h0M752 1035h0M753 1047h0M755 1025h0M720 1036h0M754 1027h0M730 1008h0M703 1045h0M735 1007h0M754 1043h0M714 1061h0M704 1040h0M754 1042h0M726 1026h0M723 1040h0M706 1043h0M708 1029h0M721 1050h0M705 1027h0M705 1057h0M728 1051h0M718 1055h0M741 1034h0M707 1015h0M730 1024h0M716 1019h0M738 1052h0M707 1046h0M715 1062h0M737 1056h0M703 1041h0M732 1019h0M738 1017h0M702 1032h0M721 1048h0M710 1025h0M720 1052h0M728 1063h0M701 1027h0M750 1055h0M742 1000h0M739 1023h0M742 1035h0M743 1007h0M732 1036h0M704 1022h0M702 1043h0M734 1005h0M715 1031h0M718 1046h0M717 1021h0M739 1027h0M729 1017h0M720 1011h0M715 1008h0M752 1052h0M733 1060h0M708 1050h0M734 1015h0M737 1067h0M733 1062h0M754 1010h0M720 1011h0M710 1040h0M712 1005h0M742 1030h0M722 1009h0M705 1029h0M745 1059h0M730 997h0M755 1040h0M741 1050h0M753 1026h0M742 1041h0M734 1063h0M708 1049h0M730 1034h0M702 1049h0M705 1041h0M713 1048h0M778 1004h0M756 1005h0M771 997h0M779 1001h0M774 990h0M757 1019h0M777 992h0M752 1011h0M759 1015h0M771 1001h0M762 1013h0M771 1004h0M786 1006h0M760 1011h0M772 1015h0M777 1010h0M765 1012h0M759 1013h0M854 972h0M824 969h0M843 976h0M802 979h0M885 974h0M807 979h0M830 970h0M782 991h0M897 1078h0M866 1154h0M890 1079h0M878 1088h0M883 1074h0M881 1087h0M900 1051h0M893 1079h0M865 1137h0M886 1084h0M891 1079h0M896 1069h0M860 1158h0M922 1049h0M867 1134h0M886 1085h0M877 1097h0M903 1064h0M904 1061h0M893 1095h0M888 1079h0M873 1109h0M880 1090h0M868 1138h0M910 1044h0M895 1078h0M905 1060h0M875 1144h0M876 1138h0M856 1156h0M871 1155h0M916 1038h0M873 1166h0M910 1047h0M870 1163h0M886 1079h0M894 1069h0M894 1070h0M861 1177h0M906 1054h0M869 1117h0M891 1075h0M893 1082h0M868 1156h0M872 1139h0M900 1060h0M863 1179h0M867 1144h0M867 1109h0M865 1145h0M863 1174h0M882 1132h0M863 1160h0M886 1088h0M884 1079h0M871 1109h0M917 1036h0M889 1081h0M863 1161h0M874 1114h0M868 1124h0M920 1043h0M892 1070h0M876 1135h0M873 1154h0M902 1056h0M873 1159h0M874 1145h0M888 1125h0M908 1054h0M888 1065h0M909 1047h0M872 1155h0M875 1116h0M861 1176h0M870 1118h0M870 1175h0M906 1051h0M908 1034h0M882 1096h0M869 1150h0M869 1142h0M878 1109h0M879 1108h0M889 1109h0M893 1070h0M900 1060h0M880 1105h0M865 1155h0M890 1081h0M873 1148h0M915 1062h0M894 1083h0M902 1054h0M896 1067h0M877 1094h0M877 1138h0M890 1089h0M880 1143h0M879 1108h0M883 1111h0M884 1119h0M886 1092h0M888 1083h0M883 1098h0M910 1056h0M923 1041h0M875 1140h0M883 1089h0M872 1121h0M895 1074h0M872 1141h0M901 1062h0M924 1036h0M867 1137h0M903 1064h0M870 1178h0M863 1164h0M893 1074h0M883 1106h0M890 1059h0M914 1038h0M857 1159h0M894 1080h0M857 1170h0M911 1046h0M870 1132h0M884 1111h0M875 1118h0M871 1126h0M917 1058h0M874 1132h0M869 1157h0M876 1108h0M869 1167h0M867 1122h0M887 1071h0M885 1111h0M873 1128h0M905 1057h0M888 1110h0M878 1090h0M898 1076h0M897 1068h0M870 1167h0M872 1097h0M870 1172h0M913 1049h0M873 1120h0M866 1152h0M865 1170h0M886 1087h0M902 1058h0M901 1064h0M909 1045h0M888 1095h0M885 1115h0M908 1046h0M913 1050h0M855 1159h0M866 1177h0M887 1082h0M911 1049h0M875 1148h0M853 1181h0M907 1069h0M908 1055h0M898 1082h0M866 1167h0M890 1085h0M840 1197h0M863 1202h0M879 1177h0M855 1221h0M850 1223h0M846 1223h0M837 1191h0M884 1201h0M852 1210h0M862 1202h0M869 1206h0M848 1189h0M848 1182h0M840 1207h0M880 1199h0M851 1211h0M853 1184h0M879 1189h0M831 1204h0M838 1221h0M867 1210h0M844 1203h0M845 1206h0M879 1204h0M891 1207h0M850 1187h0M859 1177h0M887 1220h0M877 1225h0M840 1196h0M879 1222h0M882 1223h0M855 1214h0M862 1209h0M883 1195h0M846 1182h0M870 1196h0M866 1196h0M876 1178h0M831 1205h0M887 1211h0M851 1200h0M888 1188h0M866 1213h0M867 1191h0M866 1175h0M871 1223h0M889 1200h0M840 1188h0M886 1214h0M847 1193h0M852 1219h0M883 1207h0M858 1206h0M846 1199h0M850 1221h0M855 1213h0M845 1222h0M843 1219h0M855 1228h0M856 1220h0M881 1187h0M878 1222h0M847 1179h0M895 1200h0M841 1218h0M863 1218h0M862 1182h0M869 1179h0M888 1199h0M872 1210h0M842 1194h0M860 1178h0M839 1214h0M856 1220h0M877 1176h0M860 1192h0M841 1181h0M849 1195h0M865 1196h0M892 1190h0M866 1188h0M837 1210h0M862 1214h0M841 1206h0M851 1187h0M864 1182h0M860 1208h0M848 1227h0M842 1198h0M857 1209h0M898 1201h0M875 1186h0M861 1217h0M836 1186h0M836 1193h0M838 1210h0M884 1187h0M845 1183h0M875 1185h0M890 1219h0M871 1200h0M854 1219h0M864 1226h0M873 1214h0M835 1193h0M885 1189h0M885 1208h0M843 1187h0M888 1186h0M851 1216h0M891 1194h0M853 1207h0M847 1201h0M877 1181h0M860 1181h0M848 1202h0M854 1174h0M875 1199h0M880 1193h0M880 1228h0M833 1216h0M890 1209h0M845 1174h0M857 1198h0M876 1200h0M856 1212h0M860 1198h0M877 1189h0M880 1206h0M851 1199h0M862 1188h0M883 1198h0M874 1176h0M888 1195h0M852 1194h0M862 1183h0M846 1179h0M890 1191h0M877 1177h0M865 1213h0M889 1195h0M874 1224h0M861 1222h0M877 1185h0M837 1208h0M857 1191h0M866 1189h0M873 1200h0M857 1196h0M1010 1054h0M1054 1074h0M1029 1064h0M1006 1058h0M1037 1075h0M1047 1061h0M1041 1064h0M1049 1073h0M1033 1058h0M1022 1067h0M1033 1067h0M1051 1069h0M1013 1071h0M1057 1074h0M1034 1067h0M1009 1071h0M1065 1069h0M1021 1060h0M1039 1070h0M999 1061h0M1066 1063h0M1030 1058h0M1037 1057h0M1025 1060h0M1065 1061h0M1021 1070h0M1044 1067h0M1005 1056h0M1040 1071h0M1014 1067h0M1023 1068h0M1068 1069h0M1017 1068h0M1018 1072h0M1039 1074h0M1065 1061h0M1014 1068h0M1035 1063h0M1046 1057h0M1070 1072h0M1018 1064h0M1039 1052h0M1019 1056h0M1056 1058h0M1029 1054h0M1063 1070h0M1059 1073h0M1013 1056h0M1018 1056h0M1023 1055h0M1049 1053h0M999 1062h0M1034 1074h0M1048 1056h0M1045 1060h0M1016 1064h0M1066 1063h0M1067 1057h0M1049 1069h0M1055 1063h0M999 1067h0M1044 1066h0M1049 1072h0M1011 1064h0M1045 1056h0M1023 1071h0M1046 1063h0M988 1064h0M1036 1055h0M1034 1066h0M1033 1056h0M1046 1070h0M1066 1069h0M1002 1060h0M999 1070h0M1024 1063h0M1023 1054h0M1001 1072h0M1003 1060h0M1019 1070h0M1063 1072h0M1030 1061h0M998 1063h0M1007 1064h0M1015 1064h0M1067 1066h0M1065 1064h0M1055 1068h0M1048 1052h0M1024 1062h0M1007 1069h0M1037 1070h0M1009 1063h0M1072 1064h0M1061 1069h0M1051 1056h0M993 1064h0M1049 1070h0M1062 1070h0M1060 1073h0M1011 1059h0M1042 1054h0M1054 1057h0M1056 1072h0M1064 1058h0M1037 1071h0M1058 1073h0M1075 1066h0M1037 1066h0M1018 1061h0M1065 1059h0M1057 1065h0M1026 1062h0M1012 1059h0M994 1065h0M996 1066h0M1013 1059h0M1053 1057h0M1039 1073h0M1027 1074h0M997 1065h0M1054 1053h0M991 1064h0M998 1058h0M1045 1061h0M1049 1065h0M1061 1061h0M1027 1072h0M1043 1066h0M996 1065h0M1071 1147h0M1071 1153h0M1056 1161h0M1024 1174h0M1073 1145h0M1066 1143h0M1028 1171h0M1055 1163h0M1069 1158h0M1072 1138h0M1062 1147h0M1048 1151h0M1069 1154h0M1040 1151h0M1037 1160h0M1082 1152h0M1026 1173h0M1063 1152h0M1059 1168h0M1075 1155h0M1016 1190h0M1085 1133h0M1041 1170h0M1018 1173h0M1007 1175h0M1023 1154h0M1014 1181h0M1047 1157h0M1017 1179h0M1049 1168h0M1026 1175h0M1030 1170h0M1026 1177h0M1047 1155h0M1094 1131h0M1022 1175h0M1056 1158h0M1012 1191h0M1036 1176h0M1042 1168h0M1054 1154h0M1053 1149h0M1027 1165h0M1081 1136h0M1051 1152h0M1010 1183h0M1084 1143h0M1071 1141h0M1054 1162h0M1020 1170h0M1029 1171h0M1096 1137h0M1066 1126h0M1087 1144h0M1051 1165h0M1046 1162h0M1022 1180h0M1074 1146h0M1006 1185h0M1010 1175h0M1048 1142h0M1025 1171h0M1095 1130h0M1064 1154h0M1043 1158h0M1055 1157h0M1043 1167h0M1035 1158h0M1006 1191h0M1048 1144h0M1063 1154h0M1066 1131h0M1057 1153h0M1051 1162h0M1076 1137h0M1067 1141h0M1012 1180h0M1039 1184h0M1070 1144h0M1055 1164h0M1034 1161h0M1041 1150h0M1029 1178h0M1024 1178h0M1039 1176h0M1082 1151h0M1011 1171h0M1070 1138h0M1028 1164h0M1014 1176h0M1063 1155h0M1042 1159h0M1078 1139h0M1008 1182h0M1072 1148h0M1037 1180h0M1005 1172h0M1015 1173h0M1031 1178h0M1016 1172h0M1044 1163h0M1082 1145h0M1019 1174h0M1092 1147h0M1063 1151h0M1084 1147h0M1090 1131h0M1040 1173h0M1035 1172h0M1008 1169h0M1014 1174h0M1006 1162h0M1067 1155h0M1082 1150h0M1041 1168h0M1093 1133h0M1084 1141h0M1093 1132h0M1036 1169h0M1052 1149h0M1103 1133h0M1073 1145h0M1075 1153h0M1028 1175h0M1033 1157h0M1028 1167h0M1029 1187h0M1035 1166h0M1007 1190h0M1067 1156h0M1090 1140h0M1040 1168h0M1035 1175h0M1038 1183h0M1082 1148h0M1081 1143h0M1083 1146h0M1087 1151h0M1070 1147h0M1069 1134h0M1023 1164h0M1048 1161h0M1079 1138h0M1095 1143h0M1038 1172h0M1034 1163h0M1016 1174h0M1082 1140h0M1040 1168h0M1094 1136h0M1007 1186h0M1070 1135h0M1058 1163h0M1063 1154h0M1082 1129h0M1025 1186h0M1014 1173h0M1073 1159h0M1091 1143h0M1058 1153h0M1067 1153h0M1071 1132h0M1022 1177h0M1059 1151h0M1069 1157h0M1053 1148h0M1042 1158h0M1060 1153h0M1038 1168h0M1015 1177h0M1034 1173h0M1065 1161h0M1031 1176h0M1079 1142h0M1068 1154h0M1047 1165h0M1042 1148h0M1024 1166h0M1048 1171h0M1003 1186h0M1047 1149h0M1054 1152h0M1072 1140h0M1073 1145h0M1047 1162h0M1034 1182h0M1081 1146h0M1044 1156h0M1087 1121h0M1013 1177h0M1040 1151h0M1063 1145h0M1061 1155h0M1037 1157h0M1040 1153h0M1042 1180h0M1092 1135h0M1088 1145h0M1088 1132h0M1059 1147h0M1020 1172h0M1019 1174h0M1021 1178h0M1051 1152h0M1078 1149h0M1063 1142h0M1044 1163h0M1049 1151h0M1036 1153h0M1062 1147h0M1105 1089h0M1118 1112h0M1136 1092h0M1139 1089h0M1112 1107h0M1123 1095h0M1107 1091h0M1130 1096h0M1127 1087h0M1128 1102h0M1124 1104h0M1122 1101h0M1115 1084h0M1140 1098h0M1134 1088h0M1129 1086h0M1122 1076h0M1119 1103h0M1107 1095h0M1101 1096h0M1108 1087h0M1112 1087h0M1117 1091h0M1123 1113h0M1121 1098h0M1109 1094h0M1128 1109h0M1109 1103h0M1125 1097h0M1104 1073h0M1117 1103h0M1108 1084h0M1109 1080h0M1121 1080h0M1114 1111h0M1134 1093h0M1100 1083h0M1129 1086h0M1102 1085h0M1124 1082h0M1133 1091h0M1125 1103h0M1101 1084h0M1111 1099h0M1112 1071h0M1106 1082h0M1125 1081h0M1136 1104h0M1131 1101h0M1129 1088h0M1099 1086h0M1111 1096h0M1121 1109h0M1123 1093h0M1137 1100h0M1100 1091h0M1121 1073h0M1121 1108h0M1107 1097h0M1121 1100h0M1098 1094h0M1115 1108h0M1107 1070h0M1131 1081h0M1129 1081h0M1114 1107h0M1132 1099h0M1134 1100h0M1130 1089h0M1130 1091h0M1174 1331h0M1171 1225h0M1198 1381h0M1167 1261h0M1134 1098h0M1141 1132h0M1186 1346h0M1167 1182h0M1171 1309h0M1176 1335h0M1168 1230h0M1173 1240h0M1176 1292h0M1162 1204h0M1180 1357h0M1155 1164h0M1118 1079h0M1183 1313h0M1168 1261h0M1171 1197h0M1167 1204h0M1169 1259h0M1173 1290h0M1178 1291h0M1138 1107h0M1170 1277h0M1122 1112h0M1158 1207h0M1113 1085h0M1197 1360h0M1165 1275h0M1178 1333h0M1195 1403h0M1178 1298h0M1190 1390h0M1172 1218h0M1165 1244h0M1121 1070h0M1190 1304h0M1118 1058h0M1166 1269h0M1179 1328h0M1184 1298h0M1119 1074h0M1184 1362h0M1167 1209h0M1155 1151h0M1154 1132h0M1150 1126h0M1180 1319h0M1155 1145h0M1169 1227h0M1137 1109h0M1126 1088h0M1165 1258h0M1152 1128h0M1177 1204h0M1178 1320h0M1198 1404h0M1195 1400h0M1167 1217h0M1194 1375h0M1174 1275h0M1177 1290h0M1183 1363h0M1116 1076h0M1159 1203h0M1180 1336h0M1163 1238h0M1157 1151h0M1166 1160h0M1178 1285h0M1175 1233h0M1163 1199h0M1135 1078h0M1172 1274h0M1101 1054h0M1150 1145h0M1126 1089h0M1176 1304h0M1140 1146h0M1181 1345h0M1178 1252h0M1180 1370h0M1183 1303h0M1164 1253h0M1160 1153h0M1187 1341h0M1187 1391h0M1166 1213h0M1176 1313h0M1112 1054h0M1117 1071h0M1176 1351h0M1184 1395h0M1183 1360h0M1173 1242h0M1184 1335h0M1139 1124h0M1118 1062h0M1105 1056h0M1145 1130h0M1176 1333h0M1162 1238h0M1175 1306h0M1181 1309h0M1203 1366h0M1173 1326h0M1182 1248h0M1156 1140h0M1156 1160h0M1120 1088h0M1115 1055h0M1159 1149h0M1184 1334h0M1166 1201h0M1145 1119h0M1188 1370h0M1185 1373h0M1128 1089h0M1159 1152h0M1188 1362h0M1181 1327h0M1188 1392h0M1163 1202h0M1184 1364h0M1136 1096h0M1176 1263h0M1182 1316h0M1176 1288h0M1185 1319h0M1187 1366h0M1136 1121h0M1163 1200h0M1162 1231h0M1173 1252h0M1171 1295h0M1166 1230h0M1150 1137h0M1184 1343h0M1163 1174h0M1173 1318h0M1138 1114h0M1163 1199h0M1148 1110h0M1134 1098h0M1185 1347h0M1179 1293h0M1177 1311h0M1139 1111h0M1102 1058h0M1182 1325h0M1171 1316h0M1145 1147h0M1183 1308h0M1170 1219h0M1168 1269h0M1177 1265h0M1110 1061h0M1200 1404h0M1179 1325h0M1188 1368h0M1136 1130h0M1161 1178h0M1173 1232h0M1177 1254h0M1200 1407h0M1175 1261h0M1169 1213h0M1105 1050h0M1173 1211h0M1132 1087h0M1176 1224h0M1167 1253h0M1165 1207h0M1155 1167h0M1172 1282h0M1179 1291h0M1183 1265h0M1175 1322h0M1183 1294h0M1180 1357h0M1108 1055h0M1169 1289h0M1177 1266h0M1180 1295h0M1175 1272h0M1143 1109h0M1108 1063h0M1188 1393h0M1182 1338h0M1185 1353h0M1186 1373h0M1167 1222h0M1168 1237h0M1178 1252h0M1157 1170h0M1109 1068h0M1178 1296h0M1182 1327h0M1109 1074h0M1164 1231h0M1182 1271h0M1177 1245h0M1166 1260h0M1176 1320h0M1106 1048h0M1175 1240h0M1187 1380h0M1164 1261h0M1186 1333h0M1170 1211h0M1185 1290h0M1181 1345h0M1188 1379h0M1202 1405h0M1171 1176h0M1177 1293h0M1111 1062h0M1179 1282h0M1168 1177h0M1185 1234h0M1156 1135h0M1164 1195h0M1177 1266h0M1172 1254h0M1137 1104h0M1176 1328h0M1127 1086h0M1181 1345h0M1111 1061h0M1175 1284h0M1167 1212h0M1122 1069h0M1195 1370h0M1118 1072h0M1177 1206h0M1175 1297h0M1164 1201h0M1184 1377h0M1145 1126h0M1156 1123h0M1176 1344h0M1108 1058h0M1159 1229h0M1187 1355h0M1145 1144h0M1133 1112h0M1169 1226h0M1188 1372h0M1179 1335h0M1118 1055h0M1176 1283h0M1171 1270h0M1136 1112h0M1113 1077h0M1178 1307h0M1167 1268h0M1172 1261h0M1099 1061h0M1173 1224h0M1151 1155h0M1147 1122h0M1176 1257h0M1139 1129h0M1181 1250h0M1198 1389h0M1160 1180h0M1191 1400h0M1113 1055h0M1204 1404h0M1158 1185h0M1167 1274h0M1171 1274h0M1173 1294h0M1137 1108h0M1168 1179h0M1169 1201h0M1156 1155h0M1160 1163h0M1122 1073h0M1183 1350h0M1194 1381h0M1124 1090h0M1177 1294h0M1186 1351h0M1137 1121h0M1167 1175h0M1119 1081h0M1150 1157h0M1174 1278h0M1171 1255h0M1194 1350h0M1123 1054h0M1175 1355h0M1157 1142h0M1204 1405h0M1110 1055h0M1184 1367h0M1169 1262h0M1155 1177h0M1189 1376h0M1168 1160h0M1191 1357h0M1134 1088h0M1167 1292h0M1185 1359h0M1167 1206h0M1161 1163h0M1172 1293h0M1172 1227h0M1181 1267h0M1136 1107h0M1196 1390h0M1183 1332h0M1177 1319h0M1185 1305h0M1155 1165h0M1127 1101h0M1200 1391h0M1191 1377h0M1175 1276h0M1121 1076h0M1161 1195h0M1163 1193h0M1186 1335h0M1175 1289h0M1175 1204h0M1175 1266h0M1191 1381h0M1170 1277h0M1194 1395h0M1189 1383h0M1143 1099h0M1115 1069h0M1173 1268h0M1199 1400h0M1130 1077h0M1187 1379h0M1189 1303h0M1169 1305h0M1178 1255h0M1183 1340h0M1182 1336h0M1180 1341h0M1179 1330h0M1179 1338h0M1180 1313h0M1177 1370h0M1134 1120h0M1117 1087h0M1172 1320h0M1207 1407h0M1190 1359h0M1113 1086h0M1159 1189h0M1175 1203h0M1175 1229h0M1180 1340h0M1154 1154h0M1116 1083h0M1117 1071h0M1177 1288h0M1157 1168h0M1128 1102h0M1125 1076h0M1169 1303h0M1199 1407h0M1192 1370h0M1177 1300h0M1133 1076h0M1148 1129h0M1165 1155h0M1168 1194h0M1154 1158h0M1133 1094h0M1162 1208h0M1178 1219h0M1190 1358h0M1156 1177h0M1173 1236h0M1150 1107h0M1158 1191h0M1152 1150h0M1137 1112h0M1113 1066h0M1189 1382h0M1175 1258h0M1141 1108h0M1191 1409h0M1177 1354h0M1176 1289h0M1172 1293h0M1171 1295h0M1172 1206h0M1137 1107h0M1184 1350h0M1141 1115h0M1180 1363h0M1151 1129h0M1181 1343h0M1160 1174h0M1184 1397h0M1123 1085h0M1171 1320h0M1168 1232h0M1116 1090h0M1188 1388h0M1175 1235h0M1155 1142h0M1171 1277h0M1171 1206h0M1174 1242h0M1143 1119h0M1141 1121h0M1163 1186h0M1180 1349h0M1182 1284h0M1161 1155h0M1162 1267h0M1184 1319h0M1156 1185h0M1106 1046h0M1172 1321h0M1155 1144h0M1158 1168h0M1128 1087h0M1191 1336h0M1141 1109h0M1189 1311h0M1182 1384h0M1166 1208h0M1165 1175h0M1164 1207h0M1171 1201h0M1120 1095h0M1145 1116h0M1117 1080h0M1169 1228h0M1177 1311h0M1121 1078h0M1144 1122h0M1185 1358h0M1152 1184h0M1180 1371h0M1190 1293h0M1177 1315h0M1181 1323h0M1128 1098h0M1139 1139h0M1165 1187h0M1178 1281h0M1193 1398h0M1163 1195h0M1109 1068h0M1178 1304h0M1134 1096h0M1180 1322h0M1184 1322h0M1158 1174h0M1179 1229h0M1187 1358h0M1144 1119h0M1197 1400h0M1182 1391h0M1177 1298h0M1134 1112h0M1134 1115h0M1179 1315h0M1181 1295h0M1207 1338h0M1208 1331h0M1217 1294h0M1203 1336h0M1216 1309h0M1210 1322h0M1210 1324h0M1224 1287h0M1214 1325h0M1206 1330h0M1222 1292h0M1220 1295h0M1209 1330h0M1208 1324h0M1211 1319h0M1215 1304h0M1204 1317h0M1219 1306h0M1210 1297h0M1211 1328h0M1208 1312h0M1219 1328h0M1212 1324h0M1208 1329h0M1211 1316h0M1226 1290h0M1221 1286h0M1223 1313h0M1213 1318h0M1213 1318h0M1224 1296h0M1212 1311h0M1216 1320h0M1207 1331h0M1225 1308h0M1196 1144h0M1215 1168h0M1203 1135h0M1187 1111h0M1185 1112h0M1217 1115h0M1197 1157h0M1215 1151h0M1204 1152h0M1210 1170h0M1210 1177h0M1231 1117h0M1188 1122h0M1200 1140h0M1179 1161h0M1183 1158h0M1196 1158h0M1197 1166h0M1198 1141h0M1187 1126h0M1209 1175h0M1195 1174h0M1200 1173h0M1210 1160h0M1200 1187h0" stroke="#12BCC4"/><path d="M528 493h0M521 494h0M526 492h0M522 489h0M525 492h0M550 439h0M552 438h0M531 559h0M533 561h0M537 551h0M531 557h0M484 555h0M488 555h0M550 432h0M556 430h0M549 431h0M551 428h0M555 428h0M461 472h0M464 474h0M456 560h0M457 560h0M552 632h0M551 631h0M553 627h0M639 668h0M646 667h0M644 663h0M642 669h0M636 661h0M478 647h0M477 651h0M477 649h0M479 643h0M554 648h0M542 646h0M544 649h0M543 644h0M551 650h0M551 647h0M674 678h0M672 681h0M673 680h0M676 680h0M638 805h0M638 807h0M641 803h0M641 798h0M634 805h0M635 801h0M439 767h0M439 764h0M573 764h0M580 762h0M572 765h0M659 767h0M653 777h0M653 770h0M650 771h0M643 773h0M487 631h0M488 635h0M473 627h0M473 632h0M478 625h0M506 812h0M503 812h0M507 813h0M503 814h0M501 817h0M614 838h0M616 844h0M615 844h0M620 836h0M621 843h0M614 836h0M373 697h0M378 699h0M373 707h0M375 702h0M371 699h0M369 693h0M509 778h0M502 785h0M504 786h0M499 786h0M648 699h0M646 704h0M644 699h0M509 711h0M506 706h0M480 754h0M489 759h0M484 758h0M452 645h0M450 648h0M447 644h0M448 652h0M446 642h0M577 805h0M582 805h0M580 805h0M577 807h0M581 803h0M790 830h0M788 829h0M790 833h0M785 847h0M790 847h0M794 855h0M1485 520h0M1480 522h0M1480 515h0M1483 516h0M1304 326h0M1301 318h0M1306 321h0M1302 326h0M1294 242h0M1302 241h0M1295 238h0M1301 244h0M1301 239h0M1298 240h0M1364 419h0M1369 418h0M1363 411h0M1362 417h0M1365 417h0M1380 465h0M1377 463h0M1385 461h0M1384 466h0M1375 465h0M1317 236h0M1314 230h0M1316 229h0M1308 232h0M1310 233h0M1343 380h0M1353 377h0M1353 382h0M1339 382h0M1341 384h0M1225 220h0M1228 220h0M1226 218h0M1228 223h0M1228 217h0M1230 217h0M1313 374h0M1315 375h0M1312 374h0M1317 367h0M1474 330h0M1477 332h0M1472 331h0M1476 336h0M1472 333h0M1467 337h0M1209 211h0M1209 220h0M1211 214h0M1212 225h0M1247 216h0M1250 223h0M1250 227h0M1249 224h0M1251 222h0M1488 268h0M1487 267h0M1486 274h0M1488 271h0M1484 265h0M1484 264h0M1441 275h0M1446 273h0M1437 276h0M1445 275h0M1275 333h0M1272 336h0M1273 338h0M1273 336h0M1275 334h0M1275 334h0M1219 346h0M1227 355h0M1222 348h0M1224 346h0M1222 343h0M1228 351h0M1503 360h0M1503 358h0M1499 358h0M1199 322h0M1196 320h0M1238 227h0M1237 230h0M1242 224h0M1235 222h0M1236 223h0M1247 192h0M1246 186h0M1248 190h0M1247 191h0M1242 186h0M1471 391h0M1474 394h0M1473 389h0M1359 284h0M1351 282h0M1353 280h0M1356 282h0M1466 511h0M1470 511h0M1484 442h0M1485 442h0M1485 438h0M1478 491h0M1484 495h0M1406 464h0M1407 467h0M1405 461h0M1324 327h0M1314 323h0M1318 318h0M1318 324h0M1317 320h0M1425 479h0M1430 482h0M1421 481h0M1431 483h0M1423 486h0M1444 256h0M1439 250h0M1445 250h0M1444 252h0M1441 254h0M1447 256h0M1402 416h0M1407 411h0M1404 414h0M1410 417h0M1403 413h0M1400 419h0M1299 299h0M1303 297h0M1300 302h0M1435 241h0M1442 243h0M1331 337h0M1325 335h0M1349 336h0M1338 331h0M1326 337h0M1199 260h0M1198 261h0M1195 263h0M1193 262h0M1192 262h0M1477 311h0M1477 307h0M1474 318h0M1421 240h0M1419 246h0M1420 244h0M1433 410h0M1435 410h0M1438 410h0M1435 411h0M1201 298h0M1199 305h0M1193 302h0M1194 302h0M1202 301h0M1197 299h0M1244 345h0M1248 353h0M1289 308h0M1292 293h0M1282 304h0M1287 298h0M1279 300h0M1452 573h0M1431 567h0M1442 593h0M1452 553h0M1423 605h0M1438 591h0M1423 636h0M1429 615h0M1437 568h0M1428 616h0M1442 588h0M1436 563h0M1426 624h0M1439 539h0M1441 617h0M1430 583h0M1426 593h0M1456 535h0M1443 561h0M1451 613h0M1435 498h0M1430 615h0M1433 640h0M1436 632h0M1420 610h0M1436 592h0M1451 542h0M1439 541h0M1419 638h0M1408 638h0M1449 540h0M1459 506h0M1417 639h0M1431 613h0M1424 553h0M1429 557h0M1426 615h0M1413 643h0M1411 602h0M1436 529h0M1419 608h0M1430 597h0M1442 567h0M1452 568h0M1446 550h0M1421 620h0M1445 612h0M1439 594h0M1442 549h0M1433 517h0M1435 611h0M1442 587h0M1446 562h0M1436 635h0M1416 636h0M1457 526h0M1418 608h0M1434 595h0M1436 564h0M1434 538h0M1434 514h0M1456 601h0M1413 630h0M1449 540h0M1459 530h0M1427 612h0M1450 547h0M1447 537h0M1447 521h0M1447 519h0M1440 548h0M1458 516h0M1437 551h0M1448 596h0M1427 566h0M1441 642h0M1458 518h0M1450 579h0M1438 604h0M1437 543h0M1413 627h0M1435 511h0M1440 562h0M1429 597h0M1442 536h0M1416 645h0M1433 551h0M1412 625h0M1443 548h0M1440 518h0M1574 756h0M1572 746h0M1581 754h0M1580 750h0M1582 762h0M1577 746h0M1550 904h0M1546 902h0M1550 898h0M1554 907h0M1554 897h0M1553 900h0M1459 831h0M1462 832h0M1462 834h0M1464 833h0M1461 831h0M1467 830h0M1246 866h0M1247 866h0M1416 997h0M1413 999h0M1415 997h0M1418 998h0M1417 994h0M1347 922h0M1352 918h0M1346 928h0M1347 914h0M1572 703h0M1572 704h0M1574 706h0M1570 705h0M1567 708h0M1559 686h0M1561 682h0M1552 685h0M1560 685h0M1293 866h0M1290 861h0M1285 862h0M1285 860h0M1286 860h0M1289 860h0M1593 704h0M1590 698h0M1591 701h0M1593 698h0M1596 702h0M1490 669h0M1493 667h0M1485 674h0M1491 674h0M1486 668h0M1489 667h0M1461 809h0M1466 811h0M1455 811h0M1457 813h0M1454 813h0M1386 952h0M1385 954h0M1246 909h0M1239 915h0M1248 918h0M1244 915h0M1579 845h0M1577 846h0M1526 678h0M1524 679h0M1520 676h0M1522 676h0M1518 678h0M1517 674h0M1529 1053h0M1531 1050h0M1524 1053h0M1532 1052h0M1529 1053h0M1526 1055h0M1400 1027h0M1392 1027h0M1398 1023h0M1564 913h0M1567 913h0M1566 908h0M1563 915h0M1571 910h0M1571 911h0M1572 802h0M1568 802h0M1570 798h0M1569 797h0M1570 801h0M1569 797h0M1508 900h0M1510 900h0M1512 896h0M1541 605h0M1542 607h0M1541 601h0M1541 598h0M1548 596h0M1628 616h0M1625 615h0M1627 622h0M1628 615h0M1628 624h0M1391 838h0M1393 834h0M1389 830h0M1391 833h0M1280 961h0M1282 966h0M1279 963h0M1327 849h0M1325 852h0M1325 850h0M1324 854h0M1319 845h0M1314 985h0M1316 990h0M1310 990h0M1313 991h0M1310 981h0M1311 986h0M1596 920h0M1595 925h0M1593 917h0M1598 927h0M1595 920h0M1532 856h0M1538 866h0M1539 864h0M1536 865h0M1542 862h0M1623 960h0M1628 965h0M1618 954h0M1621 958h0M1621 957h0M1619 959h0M1633 882h0M1626 880h0M1625 879h0M1620 871h0M1634 780h0M1635 777h0M1635 776h0M1642 775h0M1640 778h0M1337 1030h0M1331 1029h0M1337 1026h0M1630 796h0M1626 805h0M1623 802h0M1618 799h0M1436 735h0M1433 742h0M1645 799h0M1648 785h0M1644 787h0M1648 795h0M1644 791h0M1642 786h0M1295 885h0M1302 881h0M1544 683h0M1545 677h0M1547 680h0M1546 694h0M1392 826h0M1397 817h0M1401 818h0M1392 824h0M1299 1016h0M1298 1024h0M1465 974h0M1467 980h0M1465 973h0M1468 976h0M1460 980h0M1272 829h0M1268 831h0M1275 821h0M1276 827h0M1271 831h0M1287 962h0M1286 957h0M1287 961h0M1290 963h0M1507 647h0M1501 642h0M1503 650h0M1509 648h0M1511 646h0M1508 647h0M1293 833h0M1293 834h0M1292 836h0M1292 834h0M1288 832h0M1510 821h0M1507 821h0M1507 824h0M1518 821h0M1469 1078h0M1469 1072h0M1468 1076h0M1464 1072h0M1468 1072h0M1469 1073h0M1518 871h0M1529 877h0M1533 875h0M1525 872h0M1527 873h0M1518 875h0M1399 777h0M1399 775h0M1469 664h0M1467 669h0M1473 665h0M1201 946h0M1196 953h0M1371 945h0M1364 942h0M1371 950h0M1369 944h0M1366 949h0M1576 996h0M1572 997h0M1571 671h0M1568 668h0M1568 666h0M1449 834h0M1446 835h0M1449 842h0M1447 839h0M1448 837h0M1519 938h0M1529 944h0M1519 942h0M1518 942h0M1509 640h0M1503 629h0M1503 629h0M1502 628h0M1510 626h0M1503 636h0M1502 1023h0M1515 1019h0M1500 1014h0M1513 1029h0M1597 919h0M1598 917h0M1595 914h0M1595 910h0M1601 913h0M1290 984h0M1292 985h0M1292 984h0M1290 979h0M1288 985h0M1288 984h0M1597 832h0M1596 838h0M1599 846h0M1603 846h0M1612 837h0M1359 720h0M1369 706h0M1370 725h0M1372 713h0M1363 720h0M1463 726h0M1460 720h0M1461 727h0M1651 613h0M1656 612h0M1662 624h0M1659 613h0M1663 617h0M1650 618h0M1321 812h0M1319 798h0M1317 801h0M1326 797h0M1317 798h0M1328 802h0M1572 713h0M1582 712h0M1583 713h0M1571 707h0M1439 657h0M1436 667h0M1437 672h0M1433 662h0M1436 669h0M1502 759h0M1514 758h0M1507 750h0M1505 762h0M1508 764h0M1614 654h0M1607 651h0M1608 644h0M1605 648h0M1595 648h0M1310 803h0M1307 794h0M1310 812h0M1314 807h0M1313 839h0M1323 835h0M1325 847h0M1319 838h0M1485 719h0M1489 721h0M1486 716h0M1490 717h0M1483 728h0M1482 729h0M1485 718h0M1339 739h0M1342 742h0M1340 727h0M1345 733h0M1338 740h0M1344 735h0M1407 721h0M1408 725h0M1406 723h0M1399 719h0M1602 632h0M1617 644h0M1612 632h0M1621 634h0M1612 645h0M1614 641h0M1606 634h0M1613 638h0M1619 626h0M1615 621h0M1614 630h0M1621 629h0M1498 607h0M1503 608h0M1491 605h0M1503 607h0M1493 607h0M1503 615h0M1498 608h0M1340 819h0M1342 823h0M1338 816h0M1334 813h0M1331 830h0M1332 837h0M1329 834h0M1325 827h0M1325 832h0M1338 780h0M1336 774h0M1334 774h0M1330 783h0M1334 774h0M1330 781h0M1568 743h0M1579 745h0M1580 739h0M1575 734h0M1567 747h0M1638 750h0M1633 744h0M1628 742h0M1506 679h0M1503 671h0M1506 679h0M1385 697h0M1389 710h0M1399 694h0M1400 710h0M1402 693h0M1411 704h0M1395 706h0M1455 639h0M1462 631h0M1462 640h0M1473 640h0M1404 640h0M1407 642h0M1404 644h0M1401 647h0M1575 839h0M1578 840h0M1573 840h0M1569 837h0M1571 838h0M1572 836h0M1441 728h0M1439 733h0M1443 731h0M1442 727h0M1444 730h0M1442 727h0M1571 844h0M1569 843h0M1577 846h0M1575 849h0M1582 848h0M1573 851h0M1570 839h0M1572 856h0M1532 633h0M1537 631h0M1538 629h0M1537 630h0M1538 637h0M1542 633h0M1543 633h0M1486 752h0M1484 747h0M1486 753h0M1491 753h0M1492 751h0M1486 746h0M1487 750h0M1488 742h0M1430 849h0M1422 842h0M1438 842h0M1432 843h0M1429 845h0M1427 839h0M1436 843h0M1589 855h0M1584 852h0M1584 859h0M1590 856h0M1579 793h0M1582 794h0M1585 801h0M1587 801h0M1587 800h0M1587 800h0M1581 789h0M1389 675h0M1380 669h0M1390 676h0M1381 670h0M1392 673h0M1386 675h0M1387 676h0M1442 702h0M1448 705h0M1441 694h0M1433 704h0M1385 607h0M1383 617h0M1381 610h0M1381 615h0M1382 612h0M1383 610h0M1383 617h0M1569 793h0M1559 798h0M1569 789h0M1568 790h0M1458 740h0M1449 738h0M1454 737h0M1452 737h0M1454 733h0M1529 630h0M1520 632h0M1525 624h0M1525 633h0M1527 633h0M1527 632h0M1534 632h0M1531 625h0M1554 726h0M1560 728h0M1553 722h0M1646 785h0M1643 791h0M1654 790h0M1643 792h0M1660 790h0M1653 787h0M1455 631h0M1461 632h0M1467 630h0M1459 631h0M1466 635h0M1460 637h0M1462 634h0M1465 628h0M1652 834h0M1649 847h0M1658 836h0M1650 829h0M1648 833h0M1564 761h0M1565 757h0M1559 753h0M1554 757h0M1555 752h0M1401 708h0M1396 713h0M1393 702h0M1404 707h0M1401 708h0M1417 713h0M1394 700h0M1394 699h0M1358 771h0M1348 776h0M1347 777h0M1352 775h0M1352 780h0M1400 742h0M1400 746h0M1403 748h0M1397 747h0M1402 750h0M1400 745h0M1403 746h0M1401 686h0M1415 683h0M1404 687h0M1406 681h0M1408 685h0M1393 794h0M1394 795h0M1399 778h0M1396 782h0M1400 788h0M1393 780h0M1397 779h0M1391 793h0M1433 743h0M1435 750h0M1427 756h0M1434 751h0M1399 715h0M1393 709h0M1394 721h0M1391 721h0M1399 714h0M1398 707h0M1397 720h0M1395 796h0M1395 792h0M1403 786h0M1413 796h0M1404 786h0M1416 778h0M1406 769h0M1421 769h0M1418 769h0M1415 752h0M1408 764h0M1421 782h0M1432 702h0M1440 702h0M1439 704h0M1438 703h0M1436 704h0M1440 701h0M1345 762h0M1345 760h0M1335 761h0M1343 761h0M1332 757h0M1344 762h0M1333 762h0M1334 753h0M1423 689h0M1419 681h0M1416 700h0M1422 686h0M1432 689h0M1434 718h0M1434 714h0M1436 718h0M1435 711h0M1432 721h0M1430 725h0M1444 721h0M1444 722h0M1451 712h0M1442 714h0M1439 718h0M1438 730h0M1444 711h0M1444 709h0M1443 723h0M1449 712h0M1364 781h0M1363 772h0M1362 781h0M1362 773h0M1676 795h0M1670 713h0M1665 687h0M1682 790h0M1672 686h0M1676 778h0M1682 759h0M1689 761h0M1675 771h0M1667 684h0M1684 757h0M1676 696h0M1676 780h0M1662 832h0M1678 727h0M1685 761h0M1677 764h0M1671 760h0M1669 725h0M1664 831h0M1673 748h0M1676 740h0M1676 741h0M1660 838h0M1672 819h0M1665 794h0M1670 817h0M1678 760h0M1673 691h0M1663 704h0M1669 764h0M1681 711h0M1671 793h0M1680 757h0M1675 711h0M1664 819h0M1675 717h0M1673 763h0M1667 824h0M1683 790h0M1671 705h0M1677 782h0M1673 691h0M1663 815h0M1660 804h0M1674 792h0M1674 693h0M1665 821h0M1685 731h0M1659 672h0M1670 788h0M1671 821h0M1670 723h0M1673 768h0M1661 822h0M1662 820h0M1669 686h0M1674 790h0M1672 691h0M1661 691h0M1675 800h0M1678 744h0M1676 723h0M1662 832h0M1681 779h0M1674 726h0M1671 722h0M1662 823h0M1661 827h0M1674 748h0M878 1198h0M865 1211h0M864 1208h0M881 1204h0M866 1209h0M881 1211h0M869 1198h0M870 1217h0M864 1198h0M867 1206h0M875 1204h0M859 1210h0M866 1204h0M864 1215h0M883 1214h0M858 1201h0M879 1204h0M873 1207h0M874 1210h0M865 1198h0M872 1211h0M873 1206h0M867 1212h0M881 1202h0M871 1209h0" stroke="#F8766D"/></g>
<line x1="157.8" y1="73.7" x2="157.8" y2="735.8" stroke="#000" stroke-width="3.1"/>
<line x1="156.3" y1="734.3" x2="881.0" y2="734.3" stroke="#000" stroke-width="3.1"/>
<line x1="146.3" y1="188.5" x2="157.8" y2="188.5" stroke="#000" stroke-width="3.1"/>
<text x="138.8" y="203.0" class="t40" text-anchor="end">5</text>
<line x1="146.3" y1="360.6" x2="157.8" y2="360.6" stroke="#000" stroke-width="3.1"/>
<text x="138.6" y="375.1" class="t40" text-anchor="end">0</text>
<line x1="146.3" y1="532.7" x2="157.8" y2="532.7" stroke="#000" stroke-width="3.1"/>
<text x="140.2" y="547.2" class="t40" text-anchor="end">−5</text>
<line x1="146.3" y1="704.8" x2="157.8" y2="704.8" stroke="#000" stroke-width="3.1"/>
<text x="142.0" y="719.3" class="t40" text-anchor="end">−10</text>
<line x1="216.4" y1="734.3" x2="216.4" y2="745.0" stroke="#000" stroke-width="3.1"/>
<text x="219.1" y="780.9" class="t40" text-anchor="middle">−10</text>
<line x1="388.5" y1="734.3" x2="388.5" y2="745.0" stroke="#000" stroke-width="3.1"/>
<text x="390.4" y="780.9" class="t40" text-anchor="middle">−5</text>
<line x1="560.7" y1="734.3" x2="560.7" y2="745.0" stroke="#000" stroke-width="3.1"/>
<text x="561.7" y="780.9" class="t40" text-anchor="middle">0</text>
<line x1="732.8" y1="734.3" x2="732.8" y2="745.0" stroke="#000" stroke-width="3.1"/>
<text x="733.4" y="780.9" class="t40" text-anchor="middle">5</text>
<text x="510.0" y="831.7" class="t40" text-anchor="middle">UMAP_1</text>
<text transform="translate(52.8 411.0) rotate(-90)" class="t40" text-anchor="middle">UMAP_2</text>
<text x="-2.5" y="924.0" class="b" text-anchor="start">b</text>
<rect x="331.8" y="865.8" width="50.6" height="50.4" fill="#7FD5DC" stroke="#1FAFC0" stroke-width="3.6"/>
<rect x="607.8" y="865.6" width="50.8" height="50.2" fill="#F6DE85" stroke="#E6B91A" stroke-width="3.6"/>
<text x="396.3" y="902.2" class="t29" text-anchor="start">Control shRNA</text>
<text x="671.4" y="902.2" class="t29" text-anchor="start">LePin shRNA</text>
<g fill="#00B8C8" fill-opacity="0.5" stroke="#1FAFC0" stroke-width="4.0" stroke-linejoin="miter">
<path d="M204.1 1584.0H249.2" fill="none"/>
<rect x="249.2" y="1182.6" width="22.55" height="401.4"/>
<rect x="271.8" y="1003.6" width="22.55" height="580.4"/>
<rect x="294.3" y="1122.3" width="22.55" height="461.7"/>
<rect x="316.9" y="1157.0" width="22.55" height="427.0"/>
<rect x="339.4" y="1243.0" width="22.55" height="341.0"/>
<rect x="362.0" y="1315.8" width="22.55" height="268.2"/>
<rect x="384.5" y="1338.5" width="22.55" height="245.5"/>
<rect x="407.1" y="1395.3" width="22.55" height="188.7"/>
<rect x="429.6" y="1423.4" width="22.55" height="160.6"/>
<rect x="452.2" y="1420.0" width="22.55" height="164.0"/>
<rect x="474.7" y="1455.0" width="22.55" height="129.0"/>
<rect x="497.3" y="1475.0" width="22.55" height="109.0"/>
<rect x="519.8" y="1495.0" width="22.55" height="89.0"/>
<rect x="542.4" y="1505.0" width="22.55" height="79.0"/>
<rect x="565.0" y="1525.0" width="22.55" height="59.0"/>
<rect x="587.5" y="1533.4" width="22.55" height="50.6"/>
<rect x="610.1" y="1550.0" width="22.55" height="34.0"/>
<rect x="632.6" y="1555.0" width="22.55" height="29.0"/>
<rect x="655.2" y="1559.0" width="22.55" height="25.0"/>
<rect x="677.7" y="1563.4" width="22.55" height="20.6"/>
<rect x="700.3" y="1564.0" width="22.55" height="20.0"/>
<rect x="722.8" y="1571.6" width="22.55" height="12.4"/>
<rect x="745.4" y="1567.0" width="22.55" height="17.0"/>
<rect x="767.9" y="1572.7" width="22.55" height="11.3"/>
<rect x="790.5" y="1574.6" width="22.55" height="9.4"/>
<rect x="813.0" y="1575.4" width="22.55" height="8.6"/>
</g>
<g fill="#E7B800" fill-opacity="0.5" stroke="#E6B91A" stroke-width="4.0" stroke-linejoin="miter">
<path d="M204.1 1584.0H249.2" fill="none"/>
<rect x="249.2" y="1296.7" width="22.55" height="287.3"/>
<rect x="271.8" y="1191.7" width="22.55" height="392.3"/>
<rect x="294.3" y="1258.0" width="22.55" height="326.0"/>
<rect x="316.9" y="1280.6" width="22.55" height="303.4"/>
<rect x="339.4" y="1281.7" width="22.55" height="302.3"/>
<rect x="362.0" y="1343.0" width="22.55" height="241.0"/>
<rect x="384.5" y="1355.6" width="22.55" height="228.4"/>
<rect x="407.1" y="1371.0" width="22.55" height="213.0"/>
<rect x="429.6" y="1410.9" width="22.55" height="173.1"/>
<rect x="452.2" y="1428.5" width="22.55" height="155.5"/>
<rect x="474.7" y="1454.0" width="22.55" height="130.0"/>
<rect x="497.3" y="1465.0" width="22.55" height="119.0"/>
<rect x="519.8" y="1485.0" width="22.55" height="99.0"/>
<rect x="542.4" y="1495.0" width="22.55" height="89.0"/>
<rect x="565.0" y="1512.0" width="22.55" height="72.0"/>
<rect x="587.5" y="1518.8" width="22.55" height="65.2"/>
<rect x="610.1" y="1526.0" width="22.55" height="58.0"/>
<rect x="632.6" y="1531.6" width="22.55" height="52.4"/>
<rect x="655.2" y="1538.0" width="22.55" height="46.0"/>
<rect x="677.7" y="1545.8" width="22.55" height="38.2"/>
<rect x="700.3" y="1550.7" width="22.55" height="33.3"/>
<rect x="722.8" y="1559.6" width="22.55" height="24.4"/>
<rect x="745.4" y="1558.0" width="22.55" height="26.0"/>
<rect x="767.9" y="1563.4" width="22.55" height="20.6"/>
<rect x="790.5" y="1562.3" width="22.55" height="21.7"/>
<rect x="813.0" y="1570.0" width="22.55" height="14.0"/>
</g>
<line x1="160.8" y1="975.0" x2="160.8" y2="1614.7" stroke="#000" stroke-width="3.1"/>
<line x1="159.3" y1="1613.2" x2="879.5" y2="1613.2" stroke="#000" stroke-width="3.1"/>
<line x1="151.2" y1="1095.1" x2="160.8" y2="1095.1" stroke="#000" stroke-width="4.0"/>
<text x="144.2" y="1109.3" class="t40" text-anchor="end">1500</text>
<line x1="151.2" y1="1258.0" x2="160.8" y2="1258.0" stroke="#000" stroke-width="4.0"/>
<text x="144.2" y="1272.2" class="t40" text-anchor="end">1000</text>
<line x1="151.2" y1="1421.0" x2="160.8" y2="1421.0" stroke="#000" stroke-width="4.0"/>
<text x="144.2" y="1435.2" class="t40" text-anchor="end">500</text>
<line x1="151.2" y1="1584.0" x2="160.8" y2="1584.0" stroke="#000" stroke-width="4.0"/>
<text x="144.2" y="1598.2" class="t40" text-anchor="end">0</text>
<line x1="192.7" y1="1613.2" x2="192.7" y2="1622.3" stroke="#000" stroke-width="3.6"/>
<text x="193.7" y="1656.8" class="t40" text-anchor="middle">0</text>
<line x1="323.3" y1="1613.2" x2="323.3" y2="1622.3" stroke="#000" stroke-width="3.6"/>
<text x="327.5" y="1656.8" class="t40" text-anchor="middle">1000</text>
<line x1="454.1" y1="1613.2" x2="454.1" y2="1622.3" stroke="#000" stroke-width="3.6"/>
<text x="457.1" y="1656.8" class="t40" text-anchor="middle">2000</text>
<line x1="584.9" y1="1613.2" x2="584.9" y2="1622.3" stroke="#000" stroke-width="3.6"/>
<text x="588.6" y="1656.8" class="t40" text-anchor="middle">3000</text>
<line x1="715.7" y1="1613.2" x2="715.7" y2="1622.3" stroke="#000" stroke-width="3.6"/>
<text x="719.0" y="1656.8" class="t40" text-anchor="middle">4000</text>
<line x1="846.4" y1="1613.2" x2="846.4" y2="1622.3" stroke="#000" stroke-width="3.6"/>
<text x="849.2" y="1656.8" class="t40" text-anchor="middle">5000</text>
<text x="521.0" y="1700.6" class="t40" text-anchor="middle">nUMI</text>
<text transform="translate(36.7 1285.0) rotate(-90)" class="t40" text-anchor="middle">Count</text>
<text x="-0.5" y="1713.0" class="b" text-anchor="start">c</text>
<rect x="334.6" y="1737.8" width="50.6" height="50.4" fill="#7FD5DC" stroke="#1FAFC0" stroke-width="3.6"/>
<rect x="610.0" y="1736.6" width="50.6" height="50.8" fill="#F6DE85" stroke="#E6B91A" stroke-width="3.6"/>
<text x="387.8" y="1773.6" class="t29" text-anchor="start">Control shRNA</text>
<text x="680.0" y="1773.6" class="t29" text-anchor="start">LePin shRNA</text>
<g fill="#00B8C8" fill-opacity="0.5" stroke="#1FAFC0" stroke-width="4.0" stroke-linejoin="miter">
<path d="M206.3 2408.8H228.8" fill="none"/>
<rect x="228.8" y="2401.8" width="22.54" height="7.0"/>
<rect x="251.3" y="2233.4" width="22.54" height="175.4"/>
<rect x="273.9" y="1827.7" width="22.54" height="581.1"/>
<rect x="296.4" y="1881.4" width="22.54" height="527.4"/>
<rect x="319.0" y="1966.4" width="22.54" height="442.4"/>
<rect x="341.5" y="2048.4" width="22.54" height="360.4"/>
<rect x="364.0" y="2113.2" width="22.54" height="295.6"/>
<rect x="386.6" y="2158.5" width="22.54" height="250.3"/>
<rect x="409.1" y="2227.9" width="22.54" height="180.9"/>
<rect x="431.7" y="2291.7" width="22.54" height="117.1"/>
<rect x="454.2" y="2329.9" width="22.54" height="78.9"/>
<rect x="476.7" y="2361.1" width="22.54" height="47.7"/>
<rect x="499.3" y="2372.1" width="22.54" height="36.7"/>
<rect x="521.8" y="2383.7" width="22.54" height="25.1"/>
<rect x="544.4" y="2394.8" width="22.54" height="14.0"/>
<rect x="566.9" y="2398.8" width="22.54" height="10.0"/>
<rect x="589.4" y="2403.0" width="22.54" height="5.8"/>
<rect x="612.0" y="2405.0" width="22.54" height="3.8"/>
<rect x="634.5" y="2406.3" width="22.54" height="2.5"/>
<rect x="657.1" y="2406.8" width="22.54" height="2.0"/>
<rect x="679.6" y="2407.2" width="22.54" height="1.6"/>
<rect x="702.1" y="2407.5" width="22.54" height="1.3"/>
<rect x="724.7" y="2407.8" width="22.54" height="1.0"/>
<rect x="747.2" y="2408.0" width="22.54" height="0.8"/>
<rect x="769.8" y="2408.2" width="22.54" height="0.6"/>
<rect x="792.3" y="2408.3" width="22.54" height="0.5"/>
<rect x="814.8" y="2408.4" width="22.54" height="0.4"/>
</g>
<g fill="#E7B800" fill-opacity="0.5" stroke="#E6B91A" stroke-width="4.0" stroke-linejoin="miter">
<path d="M206.3 2408.8H228.8" fill="none"/>
<rect x="228.8" y="2393.8" width="22.54" height="15.0"/>
<rect x="251.3" y="2266.1" width="22.54" height="142.7"/>
<rect x="273.9" y="2026.2" width="22.54" height="382.6"/>
<rect x="296.4" y="2045.9" width="22.54" height="362.9"/>
<rect x="319.0" y="2063.4" width="22.54" height="345.4"/>
<rect x="341.5" y="2087.1" width="22.54" height="321.7"/>
<rect x="364.0" y="2142.4" width="22.54" height="266.4"/>
<rect x="386.6" y="2165.0" width="22.54" height="243.8"/>
<rect x="409.1" y="2213.3" width="22.54" height="195.5"/>
<rect x="431.7" y="2267.1" width="22.54" height="141.7"/>
<rect x="454.2" y="2291.7" width="22.54" height="117.1"/>
<rect x="476.7" y="2319.4" width="22.54" height="89.4"/>
<rect x="499.3" y="2343.5" width="22.54" height="65.3"/>
<rect x="521.8" y="2357.1" width="22.54" height="51.7"/>
<rect x="544.4" y="2364.6" width="22.54" height="44.2"/>
<rect x="566.9" y="2374.3" width="22.54" height="34.5"/>
<rect x="589.4" y="2391.2" width="22.54" height="17.6"/>
<rect x="612.0" y="2389.0" width="22.54" height="19.8"/>
<rect x="634.5" y="2397.0" width="22.54" height="11.8"/>
<rect x="657.1" y="2394.6" width="22.54" height="14.2"/>
<rect x="679.6" y="2397.0" width="22.54" height="11.8"/>
<rect x="702.1" y="2399.0" width="22.54" height="9.8"/>
<rect x="724.7" y="2402.8" width="22.54" height="6.0"/>
<rect x="747.2" y="2401.0" width="22.54" height="7.8"/>
<rect x="769.8" y="2404.7" width="22.54" height="4.1"/>
<rect x="792.3" y="2404.7" width="22.54" height="4.1"/>
<rect x="814.8" y="2406.2" width="22.54" height="2.6"/>
</g>
<line x1="162.5" y1="1799.6" x2="162.5" y2="2439.1" stroke="#000" stroke-width="3.1"/>
<line x1="161.0" y1="2437.6" x2="880.6" y2="2437.6" stroke="#000" stroke-width="3.1"/>
<line x1="152.8" y1="1893.8" x2="162.5" y2="1893.8" stroke="#000" stroke-width="4.2"/>
<text x="151.9" y="1908.3" class="t40" text-anchor="end">2000</text>
<line x1="152.8" y1="2022.7" x2="162.5" y2="2022.7" stroke="#000" stroke-width="4.2"/>
<text x="151.9" y="2037.2" class="t40" text-anchor="end">1500</text>
<line x1="152.8" y1="2151.4" x2="162.5" y2="2151.4" stroke="#000" stroke-width="4.2"/>
<text x="151.9" y="2165.9" class="t40" text-anchor="end">1000</text>
<line x1="152.8" y1="2280.2" x2="162.5" y2="2280.2" stroke="#000" stroke-width="4.2"/>
<text x="151.9" y="2294.7" class="t40" text-anchor="end">500</text>
<line x1="152.8" y1="2408.8" x2="162.5" y2="2408.8" stroke="#000" stroke-width="4.2"/>
<text x="151.9" y="2423.3" class="t40" text-anchor="end">0</text>
<line x1="195.1" y1="2437.6" x2="195.1" y2="2447.0" stroke="#000" stroke-width="4.0"/>
<text x="195.4" y="2481.4" class="t40" text-anchor="middle">0</text>
<line x1="412.8" y1="2437.6" x2="412.8" y2="2447.0" stroke="#000" stroke-width="4.0"/>
<text x="416.6" y="2481.4" class="t40" text-anchor="middle">1000</text>
<line x1="630.5" y1="2437.6" x2="630.5" y2="2447.0" stroke="#000" stroke-width="4.0"/>
<text x="632.9" y="2481.4" class="t40" text-anchor="middle">2000</text>
<line x1="848.2" y1="2437.6" x2="848.2" y2="2447.0" stroke="#000" stroke-width="4.0"/>
<text x="850.4" y="2481.4" class="t40" text-anchor="middle">3000</text>
<text x="548.3" y="2529.3" class="t40" text-anchor="middle">nGene</text>
<text transform="translate(44.6 2054.5) rotate(-90)" class="t40" text-anchor="middle">Cell number</text>
</svg></body></html>
